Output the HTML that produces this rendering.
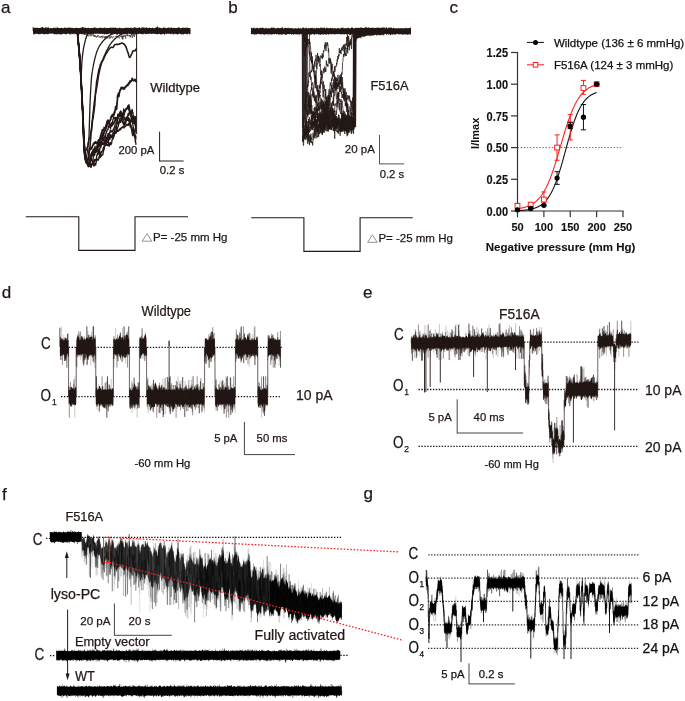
<!DOCTYPE html>
<html><head><meta charset="utf-8"><style>
html,body{margin:0;padding:0;background:#fff;overflow:hidden;}
svg{display:block;will-change:transform;}
text{font-family:"Liberation Sans",sans-serif;}
</style></head><body>
<svg width="685" height="701" viewBox="0 0 685 701">
<rect width="685" height="701" fill="#fff"/>
<text x="1.00" y="12.80" font-size="17" font-weight="normal" fill="#231815" stroke="#231815" stroke-width="0.25">a</text>
<text x="228.20" y="13.00" font-size="17" font-weight="normal" fill="#231815" stroke="#231815" stroke-width="0.25">b</text>
<text x="449.60" y="13.00" font-size="17" font-weight="normal" fill="#231815" stroke="#231815" stroke-width="0.25">c</text>
<text x="1.80" y="297.80" font-size="17" font-weight="normal" fill="#231815" stroke="#231815" stroke-width="0.25">d</text>
<text x="363.00" y="298.00" font-size="17" font-weight="normal" fill="#231815" stroke="#231815" stroke-width="0.25">e</text>
<text x="2.00" y="499.50" font-size="17" font-weight="normal" fill="#231815" stroke="#231815" stroke-width="0.25">f</text>
<text x="363.40" y="498.50" font-size="17" font-weight="normal" fill="#231815" stroke="#231815" stroke-width="0.25">g</text>
<path d="M33.00,28.2 33.50,28.3 34.00,27.8 34.50,27.7 35.00,27.7 35.50,27.9 36.00,27.7 36.50,27.9 37.00,27.8 37.50,28.2 38.00,27.9 38.50,28.1 39.00,27.9 39.50,27.9 40.00,28.0 40.50,28.0 41.00,27.5 41.50,27.3 42.00,26.9 42.50,27.0 43.00,27.4 43.50,27.7 44.00,27.9 44.50,28.1 45.00,28.3 45.50,27.2 46.00,27.0 46.50,28.1 47.00,28.3 47.50,27.7 48.00,27.4 48.50,27.7 49.00,27.5 49.50,28.2 50.00,28.2 50.50,27.9 51.00,27.9 51.50,28.2 52.00,28.0 52.50,28.3 53.00,28.2 53.50,27.8 54.00,27.8 54.50,27.7 55.00,28.2 55.50,28.0 56.00,27.9 56.50,28.1 57.00,27.7 57.50,27.1 58.00,28.1 58.50,27.8 59.00,28.0 59.50,28.1 60.00,28.1 60.50,28.0 61.00,28.0 61.50,27.4 62.00,28.0 62.50,28.1 63.00,28.2 63.50,28.2 64.00,27.9 64.50,27.6 65.00,28.0 65.50,28.0 66.00,27.4 66.50,28.2 67.00,27.4 67.50,28.2 68.00,27.7 68.50,27.3 69.00,28.1 69.50,27.8 70.00,27.5 70.50,28.1 71.00,28.0 71.50,28.0 72.00,27.8 72.50,27.8 73.00,28.0 73.50,28.3 74.00,28.2 74.50,28.2 75.00,27.7 75.50,27.8 76.00,28.1 76.50,28.0 77.00,27.5 77.50,28.0 78.00,28.0 78.50,28.2 79.00,28.0 79.50,27.9 80.00,28.1 80.50,28.0 81.00,27.9 81.50,27.7 82.00,26.7 82.50,27.3 83.00,27.8 83.50,28.0 84.00,27.3 84.50,27.7 85.00,27.7 85.50,28.1 86.00,28.0 86.50,28.2 87.00,28.1 87.50,28.1 88.00,27.8 88.50,28.1 89.00,27.8 89.50,28.3 90.00,27.9 90.50,28.0 91.00,28.0 91.50,28.3 92.00,27.8 92.50,28.2 93.00,28.1 93.50,28.0 94.00,27.4 94.50,27.0 95.00,28.0 95.50,27.6 96.00,27.8 96.50,27.9 97.00,27.9 97.50,28.3 98.00,28.3 98.50,27.9 99.00,27.7 99.50,28.2 100.00,27.2 100.50,27.7 101.00,28.2 101.50,28.1 102.00,27.8 102.50,28.2 103.00,28.1 103.50,28.0 104.00,27.9 104.50,27.7 105.00,27.5 105.50,28.3 106.00,27.8 106.50,28.0 107.00,27.9 107.50,28.0 108.00,27.9 108.50,27.9 109.00,28.1 109.50,28.1 110.00,28.0 110.50,27.6 111.00,27.4 111.50,27.9 112.00,27.9 112.50,27.6 113.00,28.0 113.50,27.6 114.00,28.3 114.50,27.6 115.00,27.9 115.50,27.3 116.00,27.9 116.50,28.0 117.00,28.3 117.50,28.0 118.00,28.2 118.50,28.3 119.00,28.0 119.50,27.8 120.00,27.3 120.50,28.2 121.00,27.9 121.50,28.2 122.00,28.2 122.50,28.1 123.00,27.9 123.50,28.2 124.00,28.2 124.50,28.1 125.00,28.2 125.50,27.8 126.00,27.5 126.50,27.8 127.00,28.2 127.50,27.5 128.00,28.1 128.50,27.5 129.00,27.9 129.50,28.1 130.00,27.7 130.50,27.6 131.00,27.6 131.50,28.1 132.00,27.9 132.50,28.2 133.00,28.1 133.50,27.7 134.00,27.7 134.50,27.1 135.00,26.9 135.50,28.2 136.00,27.1 136.50,27.9 137.00,28.2 137.50,27.9 138.00,27.9 138.50,28.0 139.00,26.7 139.50,27.5 140.00,28.2 140.50,28.2 141.00,28.2 141.50,28.0 142.00,27.3 142.50,27.6 143.00,27.8 143.50,27.2 144.00,27.8 144.50,28.1 145.00,28.2 145.50,28.1 146.00,27.6 146.50,27.6 147.00,27.5 147.50,28.0 148.00,28.1 148.50,28.1 149.00,28.0 149.50,27.3 150.00,28.0 150.50,28.1 151.00,28.0 151.50,28.3 152.00,27.7 152.50,27.5 153.00,28.2 153.50,28.0 154.00,28.3 154.50,28.2 155.00,27.9 155.50,27.8 156.00,27.4 156.50,27.1 157.00,27.2 157.50,26.1 158.00,26.7 158.50,28.0 159.00,27.7 159.50,27.8 160.00,27.4 160.50,28.2 161.00,27.8 161.50,28.2 162.00,28.3 162.50,28.3 163.00,27.9 163.50,27.7 164.00,28.0 164.50,27.9 165.00,28.1 165.50,28.2 166.00,28.1 166.50,28.2 167.00,27.7 167.50,28.2 168.00,27.7 168.50,28.1 169.00,26.9 169.50,27.9 170.00,28.2 170.50,27.8 171.00,27.4 171.50,27.3 172.00,28.2 172.50,28.3 173.00,27.9 173.50,27.7 174.00,28.1 174.50,27.9 175.00,27.7 175.50,28.2 176.00,27.7 176.50,27.9 177.00,27.9 177.50,27.4 178.00,28.2 178.50,27.2 179.00,27.5 179.50,27.6 180.00,28.0 180.50,28.2 181.00,28.3 181.50,28.1 182.00,28.2 182.50,27.6 183.00,27.4 183.50,28.1 184.00,28.0 184.50,27.8 185.00,27.9 185.50,27.4 186.00,28.1 186.50,28.2 187.00,27.7 187.50,27.8 188.00,28.0 188.50,28.1 189.00,28.0 189.50,28.1 190.00,28.3 190.50,27.7 190.50,33.7 190.00,34.1 189.50,34.1 189.00,34.2 188.50,33.6 188.00,33.6 187.50,34.3 187.00,34.7 186.50,33.9 186.00,33.7 185.50,33.6 185.00,34.0 184.50,33.8 184.00,34.1 183.50,34.7 183.00,34.5 182.50,34.0 182.00,33.7 181.50,34.7 181.00,34.4 180.50,33.8 180.00,33.8 179.50,33.6 179.00,34.0 178.50,33.7 178.00,34.6 177.50,34.8 177.00,34.1 176.50,33.9 176.00,34.4 175.50,34.1 175.00,33.6 174.50,33.7 174.00,33.9 173.50,34.6 173.00,33.8 172.50,33.5 172.00,33.5 171.50,34.1 171.00,34.2 170.50,34.1 170.00,33.8 169.50,33.9 169.00,33.6 168.50,34.0 168.00,33.7 167.50,33.8 167.00,33.6 166.50,34.3 166.00,34.1 165.50,33.6 165.00,34.1 164.50,34.9 164.00,34.4 163.50,33.5 163.00,33.9 162.50,33.8 162.00,34.3 161.50,34.7 161.00,34.0 160.50,34.4 160.00,34.6 159.50,33.8 159.00,33.8 158.50,34.1 158.00,34.0 157.50,34.4 157.00,34.2 156.50,33.9 156.00,34.1 155.50,33.8 155.00,34.0 154.50,33.7 154.00,33.9 153.50,33.6 153.00,33.8 152.50,33.7 152.00,33.8 151.50,34.0 151.00,34.0 150.50,33.5 150.00,33.7 149.50,33.5 149.00,33.7 148.50,33.9 148.00,34.0 147.50,33.7 147.00,33.8 146.50,34.0 146.00,34.1 145.50,33.8 145.00,33.7 144.50,33.5 144.00,33.6 143.50,34.3 143.00,34.5 142.50,33.9 142.00,34.3 141.50,34.0 141.00,34.0 140.50,34.1 140.00,33.6 139.50,33.6 139.00,33.8 138.50,34.0 138.00,34.2 137.50,33.9 137.00,33.5 136.50,33.6 136.00,33.7 135.50,33.7 135.00,34.0 134.50,33.8 134.00,34.1 133.50,33.8 133.00,33.9 132.50,33.9 132.00,34.2 131.50,34.8 131.00,34.0 130.50,33.5 130.00,34.0 129.50,34.0 129.00,33.6 128.50,33.5 128.00,33.7 127.50,34.5 127.00,34.7 126.50,34.0 126.00,33.7 125.50,34.4 125.00,33.7 124.50,34.6 124.00,34.3 123.50,34.1 123.00,33.5 122.50,33.5 122.00,33.7 121.50,34.5 121.00,34.1 120.50,33.9 120.00,34.2 119.50,34.5 119.00,33.6 118.50,34.2 118.00,33.7 117.50,34.5 117.00,34.6 116.50,34.6 116.00,33.9 115.50,34.3 115.00,33.6 114.50,33.6 114.00,33.6 113.50,33.5 113.00,34.2 112.50,33.5 112.00,34.8 111.50,34.4 111.00,33.7 110.50,33.6 110.00,33.6 109.50,33.6 109.00,34.1 108.50,33.7 108.00,33.8 107.50,34.3 107.00,34.3 106.50,34.6 106.00,33.7 105.50,33.9 105.00,34.3 104.50,34.7 104.00,33.7 103.50,34.0 103.00,34.2 102.50,33.9 102.00,33.5 101.50,33.9 101.00,33.5 100.50,34.0 100.00,34.0 99.50,33.7 99.00,33.7 98.50,33.7 98.00,33.6 97.50,33.9 97.00,33.6 96.50,33.7 96.00,33.8 95.50,33.9 95.00,33.6 94.50,33.6 94.00,34.2 93.50,33.8 93.00,34.1 92.50,33.8 92.00,33.9 91.50,34.1 91.00,34.5 90.50,34.1 90.00,34.0 89.50,34.1 89.00,33.7 88.50,33.7 88.00,33.9 87.50,34.2 87.00,33.8 86.50,34.1 86.00,33.6 85.50,33.6 85.00,33.8 84.50,34.4 84.00,34.1 83.50,33.7 83.00,33.9 82.50,34.1 82.00,34.5 81.50,34.1 81.00,34.1 80.50,33.8 80.00,33.9 79.50,34.3 79.00,34.3 78.50,33.7 78.00,34.1 77.50,34.0 77.00,33.6 76.50,34.4 76.00,33.9 75.50,34.0 75.00,33.8 74.50,33.5 74.00,33.7 73.50,33.8 73.00,34.6 72.50,33.8 72.00,34.0 71.50,33.5 71.00,33.8 70.50,33.8 70.00,34.7 69.50,34.2 69.00,33.8 68.50,33.7 68.00,33.7 67.50,33.5 67.00,33.8 66.50,34.4 66.00,34.4 65.50,33.5 65.00,33.9 64.50,33.9 64.00,34.1 63.50,33.6 63.00,34.0 62.50,34.3 62.00,33.7 61.50,34.5 61.00,34.7 60.50,33.5 60.00,33.9 59.50,34.4 59.00,34.3 58.50,33.7 58.00,34.2 57.50,33.7 57.00,34.9 56.50,34.2 56.00,34.1 55.50,34.2 55.00,33.8 54.50,34.5 54.00,34.5 53.50,33.7 53.00,33.6 52.50,33.6 52.00,33.6 51.50,33.5 51.00,33.7 50.50,33.5 50.00,33.5 49.50,33.6 49.00,34.1 48.50,34.3 48.00,33.5 47.50,34.5 47.00,34.1 46.50,34.1 46.00,34.3 45.50,33.8 45.00,34.2 44.50,34.6 44.00,33.8 43.50,34.3 43.00,34.6 42.50,33.6 42.00,33.7 41.50,33.6 41.00,34.5 40.50,33.9 40.00,33.8 39.50,34.0 39.00,33.7 38.50,34.2 38.00,34.6 37.50,33.7 37.00,33.9 36.50,33.6 36.00,33.7 35.50,33.9 35.00,34.0 34.50,34.4 34.00,33.6 33.50,33.5 33.00,33.5Z" fill="#231815"/>
<path d="M33.42 30.9V33.5M33.99 30.9V28.1M39.99 30.9V33.8M41.58 30.9V34.1M41.99 30.9V27.2M42.37 30.9V33.5M43.58 30.9V28.3M44.39 30.9V27.8M45.88 30.9V33.9M46.63 30.9V26.7M51.94 30.9V28.0M52.38 30.9V33.6M53.47 30.9V27.7M54.14 30.9V33.8M54.65 30.9V28.1M54.86 30.9V33.5M55.37 30.9V34.0M56.92 30.9V28.1M57.45 30.9V27.4M58.89 30.9V34.1M61.06 30.9V33.6M64.56 30.9V26.9M65.62 30.9V35.0M67.07 30.9V27.0M70.11 30.9V27.2M70.89 30.9V27.3M71.41 30.9V27.7M72.47 30.9V28.2M73.12 30.9V33.6M74.40 30.9V35.1M78.06 30.9V34.1M79.00 30.9V34.6M79.46 30.9V28.1M79.96 30.9V27.6M80.89 30.9V26.7M81.51 30.9V34.4M82.93 30.9V34.8M88.64 30.9V33.7M89.47 30.9V28.1M90.52 30.9V34.0M90.91 30.9V28.0M91.12 30.9V34.4M93.47 30.9V34.6M94.89 30.9V28.1M97.97 30.9V28.0M99.49 30.9V27.9M101.98 30.9V33.8M105.00 30.9V33.9M106.05 30.9V33.9M110.47 30.9V26.7M111.12 30.9V27.3M114.56 30.9V33.6M116.09 30.9V27.7M119.47 30.9V34.0M121.65 30.9V27.9M122.95 30.9V28.1M124.36 30.9V28.0M125.05 30.9V28.1M125.58 30.9V27.8M126.88 30.9V34.0M129.43 30.9V33.6M131.39 30.9V28.0M133.41 30.9V33.7M133.96 30.9V27.9M135.11 30.9V27.5M137.58 30.9V27.8M139.60 30.9V27.0M139.45 30.9V33.6M143.93 30.9V27.5M144.05 30.9V33.6M147.35 30.9V34.0M151.15 30.9V33.6M151.56 30.9V33.9M152.07 30.9V28.0M154.42 30.9V28.1M156.41 30.9V34.1M157.47 30.9V33.8M159.35 30.9V27.8M162.13 30.9V28.0M161.95 30.9V33.7M163.13 30.9V27.1M163.44 30.9V34.1M165.57 30.9V26.7M166.88 30.9V28.0M167.94 30.9V27.1M172.95 30.9V28.3M183.40 30.9V27.7M186.42 30.9V27.3M187.37 30.9V27.5M189.08 30.9V28.2" stroke="#231815" stroke-width="0.6" stroke-opacity="0.3" fill="none"/>
<path d="M35.58 30.9V33.8M36.40 30.9V33.6M37.90 30.9V33.8M39.06 30.9V33.6M40.51 30.9V33.6M42.96 30.9V28.2M45.39 30.9V27.3M47.02 30.9V27.8M48.08 30.9V26.7M54.03 30.9V28.2M55.06 30.9V27.9M55.91 30.9V26.7M56.88 30.9V33.5M57.51 30.9V33.7M58.14 30.9V33.6M60.44 30.9V35.0M62.48 30.9V34.0M63.60 30.9V28.3M64.87 30.9V27.9M64.96 30.9V33.6M68.38 30.9V27.8M75.03 30.9V28.2M75.48 30.9V33.9M77.08 30.9V28.0M80.44 30.9V28.0M83.63 30.9V28.1M83.60 30.9V33.7M85.11 30.9V28.2M85.52 30.9V27.4M86.12 30.9V34.9M90.65 30.9V28.0M92.14 30.9V28.3M95.87 30.9V33.5M104.59 30.9V27.5M107.07 30.9V33.8M107.63 30.9V34.4M107.95 30.9V33.7M110.02 30.9V34.4M110.89 30.9V34.0M111.94 30.9V33.8M114.63 30.9V28.2M115.49 30.9V28.2M117.95 30.9V27.6M117.96 30.9V33.6M127.94 30.9V34.0M129.05 30.9V28.2M131.11 30.9V33.7M132.56 30.9V33.7M133.07 30.9V34.5M137.99 30.9V28.1M140.95 30.9V33.9M141.44 30.9V27.2M142.00 30.9V27.9M141.99 30.9V33.8M144.90 30.9V33.7M145.56 30.9V35.0M145.93 30.9V33.9M147.08 30.9V33.6M147.87 30.9V33.9M148.90 30.9V28.1M150.06 30.9V33.6M151.54 30.9V28.2M152.50 30.9V28.3M154.94 30.9V28.1M155.05 30.9V33.6M157.53 30.9V27.7M158.87 30.9V28.2M159.96 30.9V27.9M163.56 30.9V27.3M171.01 30.9V28.0M171.56 30.9V27.7M172.12 30.9V33.9M173.02 30.9V35.1M174.38 30.9V33.8M178.58 30.9V27.5M179.55 30.9V28.1M179.97 30.9V33.9M184.05 30.9V27.6M189.63 30.9V34.6" stroke="#231815" stroke-width="0.6" stroke-opacity="0.6" fill="none"/>
<path d="M32.91 30.9V26.9M33.48 30.9V27.4M33.93 30.9V34.9M34.99 30.9V28.1M35.61 30.9V28.0M35.99 30.9V27.9M37.02 30.9V27.9M37.53 30.9V27.7M38.97 30.9V28.0M39.38 30.9V34.4M40.12 30.9V28.1M41.58 30.9V27.8M43.47 30.9V33.6M48.63 30.9V33.9M51.02 30.9V33.5M54.64 30.9V33.8M56.62 30.9V28.0M60.64 30.9V28.3M62.00 30.9V33.7M62.52 30.9V28.2M64.51 30.9V33.6M66.87 30.9V33.8M70.89 30.9V34.7M74.36 30.9V28.2M75.09 30.9V33.5M76.57 30.9V33.6M77.00 30.9V34.0M79.63 30.9V33.7M82.49 30.9V27.3M83.11 30.9V26.8M87.44 30.9V34.1M88.99 30.9V33.7M92.64 30.9V27.8M95.53 30.9V28.3M97.39 30.9V28.3M99.14 30.9V33.6M102.45 30.9V27.7M105.59 30.9V33.5M110.46 30.9V33.8M111.65 30.9V28.1M113.15 30.9V27.5M115.41 30.9V33.8M117.07 30.9V35.0M120.00 30.9V33.6M121.39 30.9V33.7M127.57 30.9V28.1M130.63 30.9V33.7M132.55 30.9V28.2M134.51 30.9V28.1M135.44 30.9V28.2M140.11 30.9V33.9M141.00 30.9V28.2M144.86 30.9V27.4M146.07 30.9V27.7M160.54 30.9V33.8M161.55 30.9V33.5M162.35 30.9V34.0M163.96 30.9V27.0M164.45 30.9V33.5M168.96 30.9V27.9M171.01 30.9V33.5M172.46 30.9V27.9M173.49 30.9V28.1M175.54 30.9V28.0M176.13 30.9V28.1M178.36 30.9V33.9M178.93 30.9V27.7M181.44 30.9V28.2M181.89 30.9V34.1M182.61 30.9V27.9M185.53 30.9V33.8M186.36 30.9V33.7M187.08 30.9V27.5M187.57 30.9V33.6" stroke="#231815" stroke-width="0.6" stroke-opacity="0.95" fill="none"/>
<path d="M77.30,30.4 77.30,31.0 77.32,31.2 77.33,31.4 77.35,31.6 77.37,31.8 77.40,32.0 77.42,32.3 77.44,32.5 77.47,32.8 77.50,33.1 77.53,33.4 77.55,33.7 77.58,34.0 77.61,34.3 77.65,34.7 77.68,35.0 77.71,35.4 77.75,35.7 77.78,36.1 77.81,36.4 77.85,36.8 77.88,37.2 77.92,37.6 77.96,38.0 77.99,38.3 78.03,38.7 78.06,39.1 78.10,39.5 78.13,39.9 78.17,40.3 78.21,40.7 78.24,41.1 78.27,41.4 78.31,41.8 78.34,42.2 78.38,42.6 78.41,42.9 78.44,43.3 78.47,43.7 78.50,44.0 78.53,44.3 78.55,44.6 78.58,45.0 78.61,45.3 78.64,45.6 78.66,46.0 78.69,46.3 78.72,46.6 78.74,47.0 78.77,47.3 78.80,47.6 78.82,48.0 78.85,48.3 78.88,48.7 78.90,49.0 78.93,49.4 78.96,49.7 78.98,50.0 79.01,50.4 79.04,50.7 79.06,51.1 79.09,51.4 79.11,51.7 79.14,52.1 79.17,52.4 79.19,52.8 79.22,53.1 79.24,53.4 79.27,53.8 79.30,54.1 79.32,54.5 79.35,54.8 79.37,55.1 79.40,55.4 79.42,55.8 79.45,56.1 79.47,56.4 79.50,56.7 79.52,57.1 79.55,57.4 79.57,57.7 79.60,58.0 79.63,58.4 79.66,58.7 79.69,59.1 79.72,59.5 79.75,59.9 79.78,60.2 79.81,60.6 79.83,61.0 79.86,61.4 79.89,61.8 79.92,62.1 79.95,62.5 79.98,62.9 80.01,63.3 80.04,63.6 80.07,64.0 80.10,64.4 80.12,64.8 80.15,65.1 80.18,65.5 80.21,65.8 80.24,66.2 80.27,66.5 80.29,66.8 80.32,67.1 80.35,67.4 80.37,67.8 80.40,68.0 80.43,68.3 80.45,68.6 80.48,68.9 80.50,69.1 80.53,69.4 80.55,69.6 80.58,69.8 80.60,70.0 80.73,71.1 80.86,71.9 80.97,72.4 81.08,72.7 81.19,72.5 81.30,72.0 81.32,71.9 81.34,71.7 81.36,71.5 81.38,71.3 81.40,71.0 81.42,70.8 81.44,70.5 81.46,70.2 81.48,69.9 81.50,69.6 81.52,69.2 81.54,68.9 81.56,68.5 81.58,68.1 81.60,67.8 81.62,67.4 81.64,67.0 81.66,66.6 81.68,66.2 81.70,65.8 81.72,65.4 81.74,65.0 81.77,64.6 81.79,64.2 81.81,63.8 81.83,63.4 81.85,63.1 81.88,62.7 81.90,62.3 81.93,62.0 81.95,61.6 81.97,61.3 82.00,61.0 82.03,60.6 82.06,60.3 82.10,59.9 82.13,59.5 82.17,59.2 82.20,58.8 82.24,58.4 82.27,58.1 82.31,57.7 82.35,57.4 82.39,57.0 82.42,56.7 82.46,56.4 82.50,56.0 82.54,55.7 82.58,55.4 82.62,55.0 82.66,54.7 82.69,54.4 82.73,54.1 82.77,53.8 82.81,53.5 82.85,53.2 82.89,52.9 82.93,52.6 82.96,52.3 83.00,52.0 83.05,51.6 83.11,51.2 83.16,50.8 83.20,50.5 83.25,50.2 83.30,49.9 83.34,49.5 83.39,49.2 83.44,48.9 83.49,48.6 83.54,48.3 83.59,48.0 83.65,47.7 83.71,47.4 83.78,47.1 83.84,46.7 83.92,46.4 84.00,46.0 84.06,45.7 84.13,45.4 84.20,45.1 84.28,44.7 84.35,44.4 84.43,44.1 84.51,43.7 84.59,43.4 84.68,43.0 84.76,42.6 84.85,42.3 84.94,41.9 85.03,41.5 85.12,41.2 85.21,40.8 85.30,40.5 85.39,40.1 85.48,39.8 85.57,39.5 85.66,39.2 85.74,38.8 85.83,38.6 85.92,38.3 86.00,38.0 86.14,37.6 86.27,37.2 86.39,36.8 86.51,36.4 86.63,36.0 86.75,35.7 86.88,35.4 87.00,35.1 87.14,34.8 87.28,34.5 87.44,34.2 87.61,34.0 87.80,33.7 88.00,33.5 88.25,33.3 88.55,33.0 88.87,32.8 89.21,32.6 89.57,32.5 89.94,32.3 90.31,32.1 90.66,32.0 91.00,31.9 91.31,31.8 91.58,31.7 91.82,31.6 92.00,31.5" fill="none" stroke="#231815" stroke-width="1.3" stroke-linejoin="round" />
<path d="M77.30,30.4 77.30,31.0 77.32,31.2 77.33,31.4 77.35,31.6 77.37,31.8 77.39,32.0 77.42,32.2 77.44,32.5 77.46,32.7 77.49,33.0 77.52,33.3 77.54,33.6 77.57,33.9 77.60,34.2 77.63,34.5 77.66,34.8 77.69,35.2 77.72,35.5 77.76,35.8 77.79,36.2 77.82,36.6 77.86,36.9 77.89,37.3 77.93,37.7 77.96,38.0 78.00,38.4 78.03,38.8 78.07,39.2 78.11,39.6 78.14,40.0 78.18,40.4 78.21,40.8 78.25,41.2 78.29,41.6 78.32,42.0 78.36,42.4 78.39,42.8 78.43,43.2 78.47,43.6 78.50,44.0 78.53,44.3 78.55,44.6 78.58,44.9 78.60,45.2 78.63,45.5 78.65,45.7 78.68,46.0 78.71,46.3 78.73,46.6 78.76,46.9 78.79,47.2 78.82,47.5 78.84,47.9 78.87,48.2 78.90,48.5 78.93,48.8 78.95,49.1 78.98,49.4 79.01,49.7 79.04,50.0 79.07,50.4 79.09,50.7 79.12,51.0 79.15,51.3 79.18,51.7 79.21,52.0 79.24,52.3 79.27,52.6 79.29,53.0 79.32,53.3 79.35,53.7 79.38,54.0 79.41,54.3 79.44,54.7 79.47,55.0 79.50,55.4 79.52,55.7 79.55,56.1 79.58,56.4 79.61,56.8 79.64,57.1 79.67,57.5 79.70,57.9 79.72,58.2 79.75,58.6 79.78,59.0 79.81,59.3 79.84,59.7 79.86,60.1 79.89,60.5 79.92,60.8 79.95,61.2 79.97,61.6 80.00,62.0 80.02,62.3 80.04,62.6 80.06,62.9 80.08,63.2 80.10,63.5 80.12,63.8 80.14,64.1 80.16,64.4 80.18,64.7 80.20,65.0 80.22,65.3 80.24,65.7 80.26,66.0 80.28,66.3 80.30,66.6 80.32,66.9 80.34,67.3 80.36,67.6 80.38,67.9 80.40,68.2 80.42,68.6 80.44,68.9 80.46,69.2 80.48,69.6 80.50,69.9 80.52,70.2 80.54,70.6 80.56,70.9 80.58,71.2 80.60,71.6 80.62,71.9 80.64,72.3 80.66,72.6 80.68,72.9 80.70,73.3 80.72,73.6 80.74,74.0 80.76,74.3 80.78,74.7 80.80,75.0 80.82,75.3 80.84,75.7 80.86,76.0 80.87,76.4 80.89,76.7 80.91,77.1 80.93,77.4 80.95,77.8 80.97,78.1 80.99,78.5 81.01,78.8 81.03,79.2 81.05,79.5 81.07,79.9 81.09,80.2 81.10,80.6 81.12,80.9 81.14,81.2 81.16,81.6 81.18,81.9 81.20,82.3 81.22,82.6 81.24,83.0 81.25,83.3 81.27,83.6 81.29,84.0 81.31,84.3 81.33,84.7 81.35,85.0 81.36,85.3 81.38,85.7 81.40,86.0 81.42,86.3 81.44,86.7 81.45,87.0 81.47,87.3 81.49,87.7 81.51,88.0 81.53,88.3 81.54,88.7 81.56,89.0 81.58,89.3 81.60,89.7 81.61,90.0 81.63,90.3 81.65,90.7 81.67,91.0 81.68,91.3 81.70,91.6 81.72,92.0 81.74,92.3 81.75,92.6 81.77,93.0 81.79,93.3 81.81,93.6 81.82,94.0 81.84,94.3 81.86,94.6 81.87,95.0 81.89,95.3 81.91,95.6 81.92,95.9 81.94,96.3 81.96,96.6 81.97,96.9 81.99,97.3 82.01,97.6 82.03,97.9 82.04,98.3 82.06,98.6 82.07,98.9 82.09,99.3 82.11,99.6 82.12,99.9 82.14,100.3 82.16,100.6 82.17,100.9 82.19,101.3 82.21,101.6 82.22,101.9 82.24,102.3 82.25,102.6 82.27,102.9 82.29,103.3 82.30,103.6 82.32,103.9 82.33,104.3 82.35,104.6 82.37,104.9 82.38,105.3 82.40,105.6 82.41,105.9 82.43,106.3 82.45,106.6 82.46,107.0 82.48,107.3 82.49,107.6 82.51,108.0 82.52,108.3 82.54,108.6 82.55,109.0 82.57,109.3 82.58,109.7 82.60,110.0 82.61,110.3 82.63,110.7 82.64,111.0 82.66,111.3 82.67,111.7 82.69,112.0 82.70,112.3 82.71,112.7 82.73,113.0 82.74,113.4 82.75,113.7 82.77,114.1 82.78,114.4 82.79,114.7 82.81,115.1 82.82,115.4 82.83,115.8 82.85,116.1 82.86,116.5 82.87,116.9 82.88,117.2 82.90,117.6 82.91,117.9 82.92,118.3 82.93,118.6 82.95,119.0 82.96,119.3 82.97,119.7 82.98,120.1 83.00,120.4 83.01,120.8 83.02,121.1 83.03,121.5 83.04,121.8 83.06,122.2 83.07,122.5 83.08,122.9 83.09,123.2 83.11,123.6 83.12,123.9 83.13,124.3 83.14,124.6 83.16,125.0 83.17,125.3 83.18,125.7 83.19,126.0 83.21,126.4 83.22,126.7 83.23,127.0 83.24,127.4 83.26,127.7 83.27,128.0 83.28,128.4 83.30,128.7 83.31,129.0 83.32,129.3 83.34,129.7 83.35,130.0 83.36,130.3 83.38,130.6 83.39,130.9 83.41,131.2 83.42,131.6 83.43,131.9 83.45,132.2 83.46,132.5 83.48,132.8 83.49,133.0 83.51,133.3 83.52,133.6 83.54,133.9 83.55,134.2 83.57,134.5 83.58,134.7 83.60,135.0 83.63,135.4 83.65,135.9 83.68,136.3 83.71,136.8 83.73,137.2 83.76,137.6 83.79,138.1 83.82,138.5 83.84,138.9 83.87,139.3 83.90,139.7 83.93,140.2 83.96,140.6 83.99,141.0 84.01,141.4 84.04,141.8 84.07,142.2 84.10,142.5 84.13,142.9 84.16,143.3 84.19,143.7 84.22,144.0 84.25,144.4 84.28,144.7 84.31,145.0 84.35,145.4 84.38,145.7 84.41,146.0 84.44,146.3 84.47,146.6 84.51,146.9 84.54,147.2 84.57,147.5 84.61,147.7 84.64,148.0 84.68,148.2 84.71,148.5 84.74,148.7 84.78,148.9 84.82,149.1 84.85,149.3 84.89,149.5 84.93,149.7 84.96,149.8 85.00,150.0 85.22,150.6 85.46,150.8 85.71,150.8 85.97,150.4 86.24,149.9 86.50,149.3 86.76,148.7 87.00,148.0 87.08,147.8 87.16,147.5 87.24,147.3 87.31,147.0 87.39,146.7 87.47,146.4 87.54,146.0 87.62,145.7 87.69,145.3 87.77,145.0 87.84,144.6 87.92,144.2 87.99,143.8 88.07,143.5 88.14,143.1 88.21,142.7 88.29,142.3 88.36,142.0 88.43,141.6 88.51,141.3 88.58,140.9 88.65,140.6 88.73,140.3 88.80,140.0 88.90,139.6 89.00,139.3 89.10,139.0 89.20,138.8 89.30,138.5 89.40,138.3 89.49,138.1 89.59,137.9 89.69,137.7 89.78,137.4 89.88,137.2 89.98,136.8 90.08,136.5 90.18,136.1 90.29,135.6 90.39,135.1 90.50,134.5 90.54,134.3 90.58,134.0 90.61,133.8 90.65,133.5 90.69,133.3 90.73,133.0 90.77,132.7 90.81,132.5 90.85,132.2 90.89,131.9 90.93,131.6 90.97,131.3 91.01,130.9 91.05,130.6 91.09,130.3 91.13,130.0 91.17,129.6 91.21,129.3 91.25,129.0 91.29,128.6 91.34,128.3 91.38,127.9 91.42,127.6 91.46,127.2 91.50,126.9 91.54,126.5 91.59,126.1 91.63,125.8 91.67,125.4 91.71,125.0 91.75,124.6 91.79,124.3 91.84,123.9 91.88,123.5 91.92,123.1 91.96,122.8 92.00,122.4 92.05,122.0 92.09,121.6 92.13,121.3 92.17,120.9 92.21,120.5 92.25,120.2 92.29,119.8 92.34,119.4 92.38,119.1 92.42,118.7 92.46,118.4 92.50,118.0 92.54,117.7 92.57,117.4 92.61,117.0 92.65,116.7 92.68,116.4 92.72,116.0 92.76,115.7 92.79,115.4 92.83,115.0 92.87,114.7 92.90,114.3 92.94,114.0 92.97,113.6 93.01,113.3 93.05,112.9 93.08,112.6 93.12,112.2 93.16,111.9 93.19,111.5 93.23,111.2 93.26,110.8 93.30,110.5 93.34,110.1 93.37,109.8 93.41,109.4 93.44,109.1 93.48,108.7 93.52,108.4 93.55,108.0 93.59,107.7 93.63,107.3 93.66,107.0 93.70,106.6 93.74,106.3 93.77,106.0 93.81,105.6 93.85,105.3 93.89,104.9 93.92,104.6 93.96,104.3 94.00,103.9 94.04,103.6 94.07,103.3 94.11,103.0 94.15,102.7 94.19,102.4 94.23,102.0 94.26,101.7 94.30,101.4 94.34,101.1 94.38,100.9 94.42,100.6 94.46,100.3 94.50,100.0 94.56,99.6 94.62,99.2 94.68,98.8 94.74,98.4 94.80,98.0 94.87,97.7 94.93,97.3 94.99,97.0 95.06,96.6 95.12,96.3 95.18,96.0 95.25,95.6 95.31,95.3 95.38,95.0 95.44,94.7 95.51,94.4 95.57,94.1 95.64,93.8 95.70,93.4 95.77,93.1 95.83,92.8 95.90,92.5 95.96,92.2 96.03,91.9 96.09,91.6 96.16,91.3 96.22,91.0 96.29,90.7 96.35,90.4 96.42,90.0 96.48,89.7 96.55,89.4 96.61,89.1 96.67,88.7 96.74,88.4 96.80,88.0 96.85,87.7 96.91,87.4 96.96,87.1 97.01,86.7 97.06,86.4 97.11,86.1 97.16,85.8 97.21,85.4 97.26,85.1 97.31,84.8 97.36,84.4 97.41,84.1 97.46,83.7 97.51,83.4 97.56,83.1 97.61,82.7 97.66,82.4 97.71,82.0 97.76,81.7 97.81,81.3 97.86,81.0 97.91,80.7 97.96,80.3 98.01,80.0 98.06,79.6 98.11,79.3 98.16,78.9 98.21,78.6 98.26,78.3 98.32,77.9 98.37,77.6 98.42,77.2 98.48,76.9 98.53,76.6 98.59,76.2 98.64,75.9 98.70,75.6 98.76,75.3 98.82,74.9 98.88,74.6 98.94,74.3 99.00,74.0 99.07,73.6 99.14,73.3 99.21,73.0 99.28,72.6 99.36,72.3 99.43,71.9 99.50,71.6 99.58,71.2 99.65,70.9 99.73,70.6 99.80,70.2 99.88,69.9 99.95,69.6 100.03,69.2 100.11,68.9 100.19,68.6 100.27,68.2 100.35,67.9 100.43,67.6 100.51,67.3 100.59,66.9 100.67,66.6 100.76,66.3 100.84,66.0 100.92,65.7 101.01,65.4 101.10,65.0 101.18,64.7 101.27,64.4 101.36,64.1 101.45,63.8 101.54,63.5 101.63,63.2 101.72,62.9 101.81,62.6 101.91,62.3 102.00,62.0 102.11,61.7 102.22,61.3 102.33,61.0 102.44,60.7 102.55,60.3 102.66,60.0 102.77,59.7 102.88,59.4 103.00,59.0 103.11,58.7 103.22,58.4 103.34,58.1 103.46,57.8 103.57,57.5 103.69,57.2 103.81,56.9 103.93,56.6 104.06,56.3 104.18,56.0 104.31,55.7 104.44,55.4 104.57,55.1 104.70,54.8 104.84,54.5 104.97,54.2 105.11,53.8 105.25,53.5 105.40,53.2 105.54,52.9 105.69,52.6 105.85,52.3 106.00,52.0 106.15,51.7 106.30,51.4 106.45,51.1 106.60,50.8 106.76,50.5 106.91,50.2 107.07,49.9 107.23,49.6 107.39,49.3 107.56,49.0 107.72,48.7 107.89,48.3 108.06,48.0 108.23,47.7 108.40,47.4 108.57,47.1 108.75,46.8 108.93,46.5 109.11,46.2 109.29,45.9 109.47,45.6 109.65,45.3 109.84,45.0 110.03,44.7 110.22,44.4 110.41,44.1 110.60,43.9 110.80,43.6 110.99,43.3 111.19,43.0 111.39,42.8 111.59,42.5 111.79,42.3 112.00,42.0 112.23,41.7 112.46,41.5 112.70,41.2 112.93,40.9 113.18,40.7 113.42,40.4 113.67,40.1 113.92,39.9 114.18,39.6 114.43,39.4 114.69,39.1 114.95,38.9 115.21,38.6 115.48,38.4 115.74,38.2 116.01,37.9 116.28,37.7 116.54,37.5 116.81,37.3 117.08,37.1 117.35,36.9 117.62,36.7 117.89,36.4 118.15,36.3 118.42,36.1 118.69,35.9 118.95,35.7 119.22,35.5 119.48,35.3 119.74,35.2 120.00,35.0 120.33,34.8 120.66,34.6 121.01,34.4 121.37,34.3 121.73,34.1 122.10,33.9 122.47,33.8 122.84,33.6 123.21,33.5 123.58,33.4 123.95,33.2 124.32,33.1 124.68,33.0 125.03,32.9 125.38,32.8 125.71,32.7 126.03,32.6 126.34,32.5 126.63,32.4 126.91,32.3 127.17,32.3 127.41,32.2 127.63,32.1 127.83,32.1 128.00,32.0" fill="none" stroke="#231815" stroke-width="1.3" stroke-linejoin="round" />
<path d="M77.30,30.4 77.30,31.0 77.32,31.2 77.33,31.4 77.35,31.6 77.37,31.8 77.39,32.0 77.42,32.2 77.44,32.5 77.46,32.7 77.49,33.0 77.52,33.3 77.54,33.6 77.57,33.9 77.60,34.2 77.63,34.5 77.66,34.8 77.69,35.2 77.72,35.5 77.76,35.8 77.79,36.2 77.82,36.6 77.86,36.9 77.89,37.3 77.93,37.7 77.96,38.0 78.00,38.4 78.03,38.8 78.07,39.2 78.11,39.6 78.14,40.0 78.18,40.4 78.21,40.8 78.25,41.2 78.29,41.6 78.32,42.0 78.36,42.4 78.39,42.8 78.43,43.2 78.47,43.6 78.50,44.0 78.53,44.3 78.55,44.6 78.58,44.9 78.60,45.2 78.63,45.5 78.65,45.7 78.68,46.0 78.71,46.3 78.73,46.6 78.76,46.9 78.79,47.2 78.82,47.5 78.84,47.9 78.87,48.2 78.90,48.5 78.93,48.8 78.95,49.1 78.98,49.4 79.01,49.7 79.04,50.0 79.07,50.4 79.09,50.7 79.12,51.0 79.15,51.3 79.18,51.7 79.21,52.0 79.24,52.3 79.27,52.6 79.29,53.0 79.32,53.3 79.35,53.7 79.38,54.0 79.41,54.3 79.44,54.7 79.47,55.0 79.50,55.4 79.52,55.7 79.55,56.1 79.58,56.4 79.61,56.8 79.64,57.1 79.67,57.5 79.70,57.9 79.72,58.2 79.75,58.6 79.78,59.0 79.81,59.3 79.84,59.7 79.86,60.1 79.89,60.5 79.92,60.8 79.95,61.2 79.97,61.6 80.00,62.0 80.02,62.3 80.04,62.6 80.06,62.9 80.08,63.2 80.10,63.5 80.12,63.8 80.14,64.1 80.16,64.4 80.18,64.7 80.20,65.0 80.22,65.3 80.24,65.7 80.26,66.0 80.28,66.3 80.30,66.6 80.32,66.9 80.34,67.3 80.36,67.6 80.38,67.9 80.40,68.2 80.42,68.6 80.44,68.9 80.46,69.2 80.48,69.6 80.50,69.9 80.52,70.2 80.54,70.6 80.56,70.9 80.58,71.2 80.60,71.6 80.62,71.9 80.64,72.3 80.66,72.6 80.68,72.9 80.70,73.3 80.72,73.6 80.74,74.0 80.76,74.3 80.78,74.7 80.80,75.0 80.82,75.3 80.84,75.7 80.86,76.0 80.87,76.4 80.89,76.7 80.91,77.1 80.93,77.4 80.95,77.8 80.97,78.1 80.99,78.5 81.01,78.8 81.03,79.2 81.05,79.5 81.07,79.9 81.09,80.2 81.10,80.6 81.12,80.9 81.14,81.2 81.16,81.6 81.18,81.9 81.20,82.3 81.22,82.6 81.24,83.0 81.25,83.3 81.27,83.6 81.29,84.0 81.31,84.3 81.33,84.7 81.35,85.0 81.36,85.3 81.38,85.7 81.40,86.0 81.42,86.3 81.44,86.7 81.45,87.0 81.47,87.3 81.49,87.7 81.51,88.0 81.53,88.3 81.54,88.7 81.56,89.0 81.58,89.3 81.60,89.7 81.61,90.0 81.63,90.3 81.65,90.7 81.67,91.0 81.68,91.3 81.70,91.6 81.72,92.0 81.74,92.3 81.75,92.6 81.77,93.0 81.79,93.3 81.81,93.6 81.82,94.0 81.84,94.3 81.86,94.6 81.87,95.0 81.89,95.3 81.91,95.6 81.92,95.9 81.94,96.3 81.96,96.6 81.97,96.9 81.99,97.3 82.01,97.6 82.03,97.9 82.04,98.3 82.06,98.6 82.07,98.9 82.09,99.3 82.11,99.6 82.12,99.9 82.14,100.3 82.16,100.6 82.17,100.9 82.19,101.3 82.21,101.6 82.22,101.9 82.24,102.3 82.25,102.6 82.27,102.9 82.29,103.3 82.30,103.6 82.32,103.9 82.33,104.3 82.35,104.6 82.37,104.9 82.38,105.3 82.40,105.6 82.41,105.9 82.43,106.3 82.45,106.6 82.46,107.0 82.48,107.3 82.49,107.6 82.51,108.0 82.52,108.3 82.54,108.6 82.55,109.0 82.57,109.3 82.58,109.7 82.60,110.0 82.61,110.3 82.63,110.7 82.64,111.0 82.66,111.3 82.67,111.6 82.69,112.0 82.70,112.3 82.71,112.6 82.73,113.0 82.74,113.3 82.76,113.6 82.77,114.0 82.78,114.3 82.80,114.7 82.81,115.0 82.82,115.3 82.84,115.7 82.85,116.0 82.86,116.4 82.88,116.7 82.89,117.0 82.90,117.4 82.91,117.7 82.93,118.1 82.94,118.4 82.95,118.7 82.97,119.1 82.98,119.4 82.99,119.8 83.00,120.1 83.02,120.5 83.03,120.8 83.04,121.1 83.06,121.5 83.07,121.8 83.08,122.2 83.09,122.5 83.11,122.9 83.12,123.2 83.13,123.5 83.14,123.9 83.16,124.2 83.17,124.6 83.18,124.9 83.20,125.2 83.21,125.6 83.22,125.9 83.23,126.3 83.25,126.6 83.26,126.9 83.27,127.3 83.29,127.6 83.30,127.9 83.31,128.3 83.32,128.6 83.34,128.9 83.35,129.3 83.36,129.6 83.38,129.9 83.39,130.2 83.40,130.6 83.42,130.9 83.43,131.2 83.44,131.5 83.46,131.9 83.47,132.2 83.49,132.5 83.50,132.8 83.51,133.1 83.53,133.4 83.54,133.8 83.56,134.1 83.57,134.4 83.59,134.7 83.60,135.0 83.62,135.4 83.64,135.7 83.65,136.1 83.67,136.5 83.69,136.9 83.71,137.2 83.72,137.6 83.74,138.0 83.76,138.4 83.78,138.8 83.80,139.1 83.82,139.5 83.83,139.9 83.85,140.3 83.87,140.7 83.89,141.1 83.91,141.5 83.93,141.8 83.95,142.2 83.97,142.6 83.99,143.0 84.00,143.4 84.02,143.8 84.04,144.1 84.06,144.5 84.08,144.9 84.10,145.3 84.12,145.7 84.14,146.0 84.16,146.4 84.18,146.8 84.20,147.1 84.22,147.5 84.24,147.8 84.26,148.2 84.28,148.5 84.29,148.9 84.31,149.2 84.33,149.6 84.35,149.9 84.37,150.2 84.39,150.6 84.41,150.9 84.43,151.2 84.45,151.5 84.47,151.8 84.49,152.1 84.51,152.4 84.53,152.7 84.55,153.0 84.57,153.2 84.59,153.5 84.61,153.8 84.63,154.0 84.65,154.3 84.67,154.5 84.68,154.8 84.70,155.0 84.72,155.2 84.74,155.4 84.76,155.6 84.78,155.8 84.80,156.0 85.00,157.5 85.19,158.4 85.38,158.8 85.57,158.8 85.78,158.5 86.00,158.0 86.06,157.9 86.12,157.7 86.18,157.5 86.25,157.3 86.31,157.1 86.38,156.8 86.45,156.5 86.51,156.2 86.58,155.9 86.65,155.6 86.72,155.3 86.79,154.9 86.86,154.5 86.93,154.2 87.00,153.8 87.07,153.4 87.14,153.0 87.21,152.5 87.28,152.1 87.35,151.7 87.41,151.3 87.48,150.9 87.54,150.4 87.60,150.0 87.64,149.7 87.68,149.4 87.72,149.2 87.76,148.9 87.80,148.6 87.84,148.3 87.87,148.0 87.91,147.7 87.95,147.4 87.99,147.1 88.03,146.8 88.07,146.5 88.11,146.2 88.14,145.9 88.18,145.5 88.22,145.2 88.26,144.9 88.29,144.6 88.33,144.2 88.37,143.9 88.40,143.6 88.44,143.2 88.47,142.9 88.51,142.5 88.54,142.2 88.57,141.8 88.61,141.4 88.64,141.1 88.67,140.7 88.70,140.3 88.73,140.0 88.76,139.6 88.79,139.2 88.82,138.8 88.85,138.4 88.87,138.0 88.90,137.6 88.92,137.3 88.94,137.0 88.95,136.7 88.97,136.4 88.99,136.1 89.00,135.8 89.02,135.5 89.03,135.1 89.05,134.8 89.06,134.5 89.07,134.2 89.09,133.8 89.10,133.5 89.11,133.2 89.13,132.8 89.14,132.5 89.15,132.1 89.16,131.8 89.17,131.4 89.19,131.1 89.20,130.7 89.21,130.4 89.22,130.0 89.23,129.6 89.24,129.3 89.25,128.9 89.26,128.6 89.27,128.2 89.28,127.9 89.29,127.5 89.30,127.1 89.31,126.8 89.32,126.4 89.33,126.1 89.34,125.7 89.35,125.4 89.35,125.0 89.36,124.7 89.37,124.3 89.38,124.0 89.39,123.6 89.40,123.3 89.41,122.9 89.42,122.6 89.43,122.3 89.44,121.9 89.45,121.6 89.46,121.3 89.47,120.9 89.48,120.6 89.49,120.3 89.50,120.0 89.51,119.6 89.53,119.3 89.54,118.9 89.55,118.5 89.56,118.2 89.57,117.8 89.58,117.5 89.59,117.2 89.61,116.8 89.62,116.5 89.63,116.1 89.64,115.8 89.65,115.5 89.66,115.2 89.67,114.8 89.68,114.5 89.69,114.2 89.70,113.9 89.71,113.5 89.72,113.2 89.73,112.9 89.74,112.6 89.75,112.3 89.76,111.9 89.77,111.6 89.79,111.3 89.80,111.0 89.81,110.7 89.82,110.3 89.83,110.0 89.84,109.7 89.85,109.3 89.87,109.0 89.88,108.7 89.89,108.3 89.90,108.0 89.92,107.7 89.93,107.3 89.94,107.0 89.96,106.6 89.97,106.2 89.99,105.9 90.00,105.5 90.01,105.2 90.03,104.9 90.04,104.6 90.05,104.2 90.06,103.9 90.08,103.6 90.09,103.3 90.10,102.9 90.12,102.6 90.13,102.3 90.14,101.9 90.16,101.6 90.17,101.3 90.18,100.9 90.20,100.6 90.21,100.2 90.22,99.9 90.24,99.5 90.25,99.2 90.27,98.9 90.28,98.5 90.30,98.2 90.31,97.8 90.33,97.5 90.34,97.1 90.36,96.8 90.37,96.4 90.39,96.0 90.40,95.7 90.42,95.3 90.43,95.0 90.45,94.6 90.47,94.3 90.48,94.0 90.50,93.6 90.51,93.3 90.53,92.9 90.55,92.6 90.56,92.2 90.58,91.9 90.60,91.6 90.62,91.2 90.63,90.9 90.65,90.6 90.67,90.2 90.69,89.9 90.71,89.6 90.72,89.3 90.74,88.9 90.76,88.6 90.78,88.3 90.80,88.0 90.82,87.6 90.85,87.3 90.87,86.9 90.89,86.5 90.91,86.2 90.93,85.8 90.95,85.5 90.97,85.1 90.99,84.8 91.01,84.4 91.03,84.1 91.06,83.8 91.08,83.4 91.10,83.1 91.12,82.8 91.14,82.4 91.16,82.1 91.18,81.8 91.20,81.4 91.23,81.1 91.25,80.8 91.27,80.5 91.30,80.1 91.32,79.8 91.35,79.5 91.38,79.2 91.40,78.8 91.43,78.5 91.46,78.2 91.49,77.9 91.52,77.5 91.56,77.2 91.59,76.9 91.62,76.5 91.66,76.2 91.70,75.9 91.74,75.5 91.78,75.2 91.82,74.9 91.86,74.5 91.91,74.2 91.95,73.8 92.00,73.5 92.05,73.2 92.09,72.9 92.14,72.5 92.19,72.2 92.24,71.9 92.29,71.5 92.35,71.2 92.40,70.9 92.45,70.5 92.51,70.2 92.57,69.8 92.63,69.5 92.69,69.1 92.75,68.8 92.81,68.4 92.87,68.1 92.93,67.7 93.00,67.4 93.06,67.0 93.12,66.7 93.19,66.4 93.26,66.0 93.32,65.7 93.39,65.3 93.46,65.0 93.53,64.6 93.59,64.3 93.66,63.9 93.73,63.6 93.80,63.3 93.87,62.9 93.94,62.6 94.01,62.3 94.08,61.9 94.15,61.6 94.23,61.3 94.30,61.0 94.37,60.7 94.44,60.3 94.51,60.0 94.58,59.7 94.65,59.4 94.72,59.1 94.79,58.8 94.86,58.6 94.93,58.3 95.00,58.0 95.10,57.6 95.20,57.2 95.30,56.8 95.40,56.5 95.50,56.1 95.60,55.7 95.69,55.4 95.79,55.0 95.89,54.7 95.99,54.3 96.09,54.0 96.19,53.7 96.29,53.4 96.39,53.0 96.49,52.7 96.59,52.4 96.70,52.1 96.80,51.8 96.91,51.5 97.02,51.2 97.13,50.9 97.24,50.6 97.36,50.3 97.47,50.1 97.59,49.8 97.71,49.5 97.84,49.2 97.96,48.9 98.09,48.6 98.23,48.4 98.36,48.1 98.50,47.8 98.66,47.5 98.83,47.2 99.00,46.8 99.17,46.5 99.35,46.2 99.53,45.9 99.72,45.6 99.91,45.3 100.10,45.0 100.29,44.7 100.48,44.4 100.68,44.1 100.88,43.9 101.08,43.6 101.28,43.3 101.49,43.0 101.69,42.7 101.90,42.5 102.11,42.2 102.32,42.0 102.53,41.7 102.74,41.4 102.95,41.2 103.16,40.9 103.37,40.7 103.58,40.5 103.79,40.2 104.00,40.0 104.25,39.7 104.51,39.5 104.76,39.2 105.02,38.9 105.27,38.7 105.53,38.4 105.78,38.2 106.04,38.0 106.30,37.7 106.56,37.5 106.82,37.3 107.09,37.1 107.36,36.9 107.63,36.7 107.90,36.5 108.17,36.3 108.45,36.1 108.73,35.9 109.02,35.7 109.31,35.5 109.60,35.4 109.90,35.2 110.20,35.0 110.49,34.8 110.79,34.7 111.11,34.5 111.44,34.4 111.78,34.2 112.13,34.1 112.49,33.9 112.85,33.8 113.21,33.6 113.58,33.5 113.94,33.4 114.31,33.3 114.67,33.1 115.02,33.0 115.36,32.9 115.70,32.8 116.03,32.7 116.34,32.6 116.63,32.5 116.91,32.4 117.18,32.3 117.42,32.2 117.64,32.1 117.83,32.1 118.00,32.0" fill="none" stroke="#231815" stroke-width="1.3" stroke-linejoin="round" />
<path d="M77.30,30.4 77.30,31.0 77.32,31.2 77.33,31.4 77.35,31.6 77.37,31.8 77.39,32.0 77.42,32.2 77.44,32.5 77.46,32.7 77.49,33.0 77.52,33.3 77.54,33.6 77.57,33.9 77.60,34.2 77.63,34.5 77.66,34.8 77.69,35.2 77.72,35.5 77.76,35.8 77.79,36.2 77.82,36.6 77.86,36.9 77.89,37.3 77.93,37.7 77.96,38.0 78.00,38.4 78.03,38.8 78.07,39.2 78.11,39.6 78.14,40.0 78.18,40.4 78.21,40.8 78.25,41.2 78.29,41.6 78.32,42.0 78.36,42.4 78.39,42.8 78.43,43.2 78.47,43.6 78.50,44.0 78.53,44.3 78.55,44.6 78.58,44.9 78.60,45.2 78.63,45.5 78.65,45.7 78.68,46.0 78.71,46.3 78.73,46.6 78.76,46.9 78.79,47.2 78.82,47.5 78.84,47.9 78.87,48.2 78.90,48.5 78.93,48.8 78.95,49.1 78.98,49.4 79.01,49.7 79.04,50.0 79.07,50.4 79.09,50.7 79.12,51.0 79.15,51.3 79.18,51.7 79.21,52.0 79.24,52.3 79.27,52.6 79.29,53.0 79.32,53.3 79.35,53.7 79.38,54.0 79.41,54.3 79.44,54.7 79.47,55.0 79.50,55.4 79.52,55.7 79.55,56.1 79.58,56.4 79.61,56.8 79.64,57.1 79.67,57.5 79.70,57.9 79.72,58.2 79.75,58.6 79.78,59.0 79.81,59.3 79.84,59.7 79.86,60.1 79.89,60.5 79.92,60.8 79.95,61.2 79.97,61.6 80.00,62.0 80.02,62.3 80.04,62.6 80.06,62.9 80.08,63.2 80.10,63.5 80.12,63.8 80.14,64.1 80.16,64.4 80.18,64.7 80.20,65.0 80.22,65.3 80.24,65.7 80.26,66.0 80.28,66.3 80.30,66.6 80.32,66.9 80.34,67.3 80.36,67.6 80.38,67.9 80.40,68.2 80.42,68.6 80.44,68.9 80.46,69.2 80.48,69.6 80.50,69.9 80.52,70.2 80.54,70.6 80.56,70.9 80.58,71.2 80.60,71.6 80.62,71.9 80.64,72.3 80.66,72.6 80.68,72.9 80.70,73.3 80.72,73.6 80.74,74.0 80.76,74.3 80.78,74.7 80.80,75.0 80.82,75.3 80.84,75.7 80.86,76.0 80.87,76.4 80.89,76.7 80.91,77.1 80.93,77.4 80.95,77.8 80.97,78.1 80.99,78.5 81.01,78.8 81.03,79.2 81.05,79.5 81.07,79.9 81.09,80.2 81.10,80.6 81.12,80.9 81.14,81.2 81.16,81.6 81.18,81.9 81.20,82.3 81.22,82.6 81.24,83.0 81.25,83.3 81.27,83.6 81.29,84.0 81.31,84.3 81.33,84.7 81.35,85.0 81.36,85.3 81.38,85.7 81.40,86.0 81.42,86.3 81.44,86.7 81.45,87.0 81.47,87.3 81.49,87.7 81.51,88.0 81.52,88.3 81.54,88.6 81.56,89.0 81.58,89.3 81.59,89.6 81.61,89.9 81.63,90.3 81.64,90.6 81.66,90.9 81.68,91.2 81.69,91.5 81.71,91.9 81.73,92.2 81.74,92.5 81.76,92.8 81.77,93.1 81.79,93.5 81.81,93.8 81.82,94.1 81.84,94.4 81.86,94.7 81.87,95.1 81.89,95.4 81.90,95.7 81.92,96.0 81.94,96.3 81.95,96.7 81.97,97.0 81.98,97.3 82.00,97.6 82.02,97.9 82.03,98.3 82.05,98.6 82.06,98.9 82.08,99.2 82.10,99.6 82.11,99.9 82.13,100.2 82.14,100.6 82.16,100.9 82.18,101.2 82.19,101.6 82.21,101.9 82.23,102.2 82.24,102.6 82.26,102.9 82.27,103.2 82.29,103.6 82.31,103.9 82.32,104.3 82.34,104.6 82.36,105.0 82.37,105.3 82.39,105.7 82.41,106.0 82.42,106.4 82.44,106.7 82.46,107.1 82.48,107.4 82.49,107.8 82.51,108.2 82.53,108.5 82.55,108.9 82.56,109.3 82.58,109.6 82.60,110.0 82.61,110.3 82.63,110.6 82.64,110.9 82.66,111.2 82.67,111.5 82.69,111.8 82.70,112.2 82.72,112.5 82.73,112.8 82.75,113.1 82.76,113.4 82.78,113.8 82.79,114.1 82.81,114.4 82.82,114.8 82.84,115.1 82.85,115.4 82.87,115.8 82.88,116.1 82.90,116.5 82.91,116.8 82.93,117.1 82.94,117.5 82.96,117.8 82.97,118.2 82.99,118.5 83.00,118.9 83.02,119.2 83.03,119.6 83.05,119.9 83.06,120.3 83.08,120.6 83.09,121.0 83.11,121.3 83.13,121.7 83.14,122.0 83.16,122.4 83.17,122.8 83.19,123.1 83.20,123.5 83.22,123.8 83.23,124.2 83.25,124.5 83.27,124.9 83.28,125.2 83.30,125.6 83.31,126.0 83.33,126.3 83.34,126.7 83.36,127.0 83.38,127.4 83.39,127.7 83.41,128.1 83.42,128.4 83.44,128.8 83.45,129.1 83.47,129.5 83.49,129.8 83.50,130.2 83.52,130.5 83.53,130.9 83.55,131.2 83.57,131.5 83.58,131.9 83.60,132.2 83.61,132.6 83.63,132.9 83.65,133.2 83.66,133.6 83.68,133.9 83.69,134.2 83.71,134.5 83.73,134.9 83.74,135.2 83.76,135.5 83.77,135.8 83.79,136.1 83.81,136.5 83.82,136.8 83.84,137.1 83.86,137.4 83.87,137.7 83.89,138.0 83.90,138.3 83.92,138.6 83.94,138.9 83.95,139.2 83.97,139.4 83.98,139.7 84.00,140.0 84.02,140.4 84.05,140.8 84.07,141.2 84.10,141.7 84.12,142.1 84.14,142.5 84.17,142.9 84.19,143.3 84.21,143.7 84.24,144.1 84.26,144.5 84.29,144.9 84.31,145.3 84.33,145.7 84.36,146.1 84.38,146.5 84.40,146.9 84.43,147.3 84.45,147.7 84.47,148.1 84.50,148.5 84.52,148.8 84.55,149.2 84.57,149.6 84.59,150.0 84.62,150.3 84.64,150.7 84.66,151.0 84.69,151.4 84.71,151.8 84.74,152.1 84.76,152.4 84.79,152.8 84.81,153.1 84.83,153.4 84.86,153.8 84.88,154.1 84.91,154.4 84.93,154.7 84.96,155.0 84.98,155.3 85.01,155.6 85.04,155.9 85.06,156.2 85.09,156.5 85.11,156.8 85.14,157.0 85.17,157.3 85.19,157.6 85.22,157.8 85.25,158.1 85.27,158.3 85.30,158.5 85.33,158.8 85.36,159.0 85.39,159.2 85.41,159.4 85.44,159.6 85.47,159.8 85.50,160.0 85.73,161.2 85.96,162.1 86.21,162.7 86.47,162.9 86.73,163.1 86.99,162.8 87.25,162.5 87.50,162.0 87.56,161.7 87.61,161.4 87.67,161.2 87.72,160.8 87.78,160.5 87.83,160.3 87.89,160.1 87.94,159.9 88.00,159.5 88.06,159.3 88.11,158.9 88.17,158.6 88.22,158.5 88.28,158.1 88.33,157.9 88.39,157.3 88.44,156.9 88.50,156.8 88.56,156.5 88.61,156.1 88.67,155.9 88.72,156.2 88.78,155.6 88.83,155.3 88.89,154.9 88.94,154.1 89.00,153.7 89.06,153.3 89.11,153.1 89.17,152.5 89.22,151.9 89.28,151.5 89.33,151.3 89.39,150.8 89.44,150.2 89.50,149.5 89.53,149.4 89.57,149.2 89.60,148.8 89.63,148.7 89.67,148.4 89.70,148.3 89.74,148.8 89.77,148.8 89.80,148.9 89.84,148.3 89.87,148.1 89.91,148.0 89.94,147.8 89.98,147.5 90.01,147.1 90.05,146.3 90.08,146.1 90.12,145.3 90.15,144.8 90.19,143.9 90.22,143.0 90.25,142.7 90.29,142.3 90.32,141.7 90.36,141.4 90.39,141.2 90.43,140.6 90.46,140.4 90.50,140.1 90.53,139.7 90.57,139.5 90.60,139.2 90.63,139.2 90.67,138.8 90.70,138.7 90.74,138.3 90.77,137.6 90.80,137.4 90.84,137.0 90.87,136.4 90.90,136.2 90.94,134.9 90.97,133.9 91.00,133.8 91.04,133.2 91.07,132.6 91.10,132.4 91.13,131.8 91.16,131.6 91.20,131.5 91.23,131.5 91.26,131.3 91.29,131.3 91.32,131.4 91.35,131.4 91.38,131.0 91.41,130.8 91.44,130.7 91.47,131.1 91.50,131.1 91.55,131.0 91.60,130.6 91.64,130.7 91.69,130.0 91.74,129.1 91.78,129.0 91.83,128.7 91.87,127.8 91.92,127.5 91.96,126.7 92.00,126.7 92.05,126.4 92.09,125.7 92.13,125.4 92.18,124.7 92.22,124.6 92.26,123.9 92.30,122.8 92.34,122.5 92.38,121.8 92.42,121.4 92.46,121.1 92.50,120.5 92.54,120.6 92.58,120.2 92.62,120.2 92.66,120.0 92.70,119.8 92.73,119.5 92.77,119.5 92.81,119.4 92.85,119.3 92.89,118.4 92.92,118.6 92.96,118.7 93.00,118.0 93.06,118.2 93.11,117.8 93.16,117.8 93.21,117.5 93.26,116.4 93.31,116.3 93.36,115.6 93.41,115.4 93.45,114.6 93.50,114.5 93.55,114.2 93.59,113.8 93.64,113.5 93.69,113.2 93.73,112.8 93.78,112.4 93.83,112.7 93.88,112.0 93.93,111.7 93.98,111.2 94.03,110.7 94.09,110.4 94.14,110.4 94.20,109.9 94.22,109.6 94.25,109.6 94.27,109.2 94.29,108.9 94.32,108.8 94.34,108.3 94.36,108.2 94.39,107.9 94.41,107.7 94.44,107.0 94.46,106.6 94.48,106.7 94.51,107.0 94.53,106.6 94.56,106.9 94.58,106.4 94.61,106.2 94.63,106.3 94.66,105.8 94.68,105.8 94.71,105.7 94.73,104.8 94.76,104.8 94.78,104.4 94.81,104.0 94.83,103.1 94.86,103.1 94.89,103.0 94.91,102.4 94.94,101.9 94.96,102.0 94.99,101.3 95.02,101.1 95.04,100.5 95.07,99.8 95.10,99.6 95.12,98.8 95.15,98.0 95.18,98.1 95.21,97.3 95.24,96.9 95.26,96.7 95.29,96.9 95.32,95.9 95.35,95.1 95.38,95.0 95.41,94.0 95.44,93.3 95.46,93.1 95.49,92.7 95.52,92.2 95.55,91.9 95.58,91.3 95.61,91.1 95.64,90.9 95.68,90.2 95.71,90.2 95.74,90.3 95.77,90.0 95.80,89.6 95.84,89.8 95.87,89.7 95.91,89.1 95.95,88.8 95.99,88.4 96.02,87.9 96.06,87.1 96.10,87.0 96.14,86.8 96.18,86.3 96.22,85.8 96.26,85.2 96.30,85.1 96.34,84.6 96.38,84.1 96.42,83.9 96.46,83.4 96.51,82.5 96.55,82.2 96.59,81.7 96.63,82.2 96.67,82.0 96.72,81.4 96.76,81.5 96.80,80.9 96.84,80.2 96.89,80.6 96.93,80.2 96.97,80.4 97.02,80.2 97.06,80.2 97.10,79.8 97.15,79.5 97.19,79.3 97.24,79.0 97.28,78.9 97.33,78.9 97.37,78.1 97.41,77.7 97.46,77.7 97.50,77.0 97.55,77.3 97.59,77.5 97.64,76.7 97.68,76.5 97.73,76.3 97.77,76.0 97.82,75.4 97.86,74.8 97.91,74.4 97.95,74.9 98.00,74.9 98.10,74.0 98.20,73.4 98.30,73.1 98.39,72.7 98.49,71.9 98.59,71.8 98.70,70.8 98.80,70.1 98.90,69.8 99.00,69.3 99.10,68.9 99.21,69.2 99.31,69.0 99.41,69.1 99.52,68.5 99.63,67.6 99.73,67.3 99.84,66.9 99.95,66.3 100.06,65.7 100.17,65.3 100.28,65.1 100.39,64.5 100.50,64.2 100.65,64.1 100.81,63.7 100.96,63.6 101.12,63.3 101.28,62.3 101.45,62.0 101.61,61.3 101.78,61.6 101.94,61.6 102.11,61.5 102.28,61.1 102.44,61.1 102.61,60.6 102.77,60.2 102.93,60.2 103.09,60.1 103.25,60.0 103.40,59.7 103.56,59.2 103.71,58.8 103.86,58.3 104.00,57.9 104.14,57.5 104.28,57.3 104.42,56.9 104.56,56.4 104.70,56.4 104.84,56.1 104.99,55.8 105.14,55.5 105.30,55.2 105.46,54.8 105.63,54.5 105.81,54.1 106.00,53.8 106.17,53.6 106.35,53.3 106.53,53.0 106.73,52.9 106.93,52.3 107.13,52.3 107.34,51.8 107.55,51.5 107.76,50.9 107.97,50.5 108.19,50.1 108.40,49.9 108.62,49.7 108.83,49.3 109.04,49.0 109.24,48.9 109.44,48.6 109.63,48.4 109.82,48.3 110.00,48.1 110.38,47.8 110.75,47.7 111.11,47.4 111.46,47.3 111.79,47.3 112.11,47.3 112.42,47.4 112.72,47.5 113.00,47.4 113.26,47.2 113.48,46.9 113.69,46.5 113.88,46.1 114.06,45.8 114.26,45.5 114.47,45.1 114.72,44.8 115.00,44.6 115.29,44.5 115.61,44.5 115.95,44.4 116.30,44.4 116.67,44.4 117.04,44.4 117.42,44.3 117.79,44.4 118.15,44.3 118.50,44.3 118.84,44.3 119.19,44.2 119.54,44.0 119.89,43.9 120.23,43.7 120.57,43.6 120.90,43.4 121.21,43.3 121.52,43.2 121.80,43.1 122.17,43.2 122.51,43.2 122.83,43.3 123.13,43.5 123.42,43.7 123.71,44.0 124.00,44.2 124.21,44.4 124.41,44.6 124.61,44.9 124.81,45.0 125.01,45.3 125.21,45.6 125.41,45.9 125.60,46.2 125.80,46.7 126.00,47.1 126.11,47.2 126.22,47.6 126.34,48.0 126.45,48.4 126.57,48.6 126.68,48.9 126.80,49.4 126.91,49.6 127.02,49.9 127.14,50.1 127.25,50.7 127.36,51.0 127.47,51.1 127.58,51.5 127.69,51.8 127.80,52.0 127.90,52.4 128.00,52.8 128.12,53.0 128.23,53.3 128.34,53.5 128.45,54.0 128.55,54.3 128.65,54.9 128.76,55.5 128.86,55.9 128.96,56.0 129.06,56.0 129.16,56.2 129.27,56.8 129.37,57.1 129.49,57.5 129.60,57.5 129.78,57.4 129.97,57.1 130.16,56.8 130.36,56.5 130.56,56.3 130.75,56.0 130.95,55.6 131.14,55.0 131.32,54.5 131.50,54.3 131.64,53.9 131.77,53.5 131.89,53.4 132.01,53.3 132.13,53.0 132.24,52.6 132.36,52.2 132.48,51.9 132.60,51.7 132.73,51.6 132.86,51.3 133.00,51.1 133.31,50.7 133.64,50.7 133.99,50.7 134.34,50.6 134.68,50.7 135.00,50.8 135.23,50.7 135.47,50.4 135.70,50.1 135.93,49.7 136.13,49.4 136.32,49.0 136.48,48.7 136.60,48.4" fill="none" stroke="#231815" stroke-width="1.6" stroke-linejoin="round" />
<path d="M77.30,30.4 77.30,31.0 77.32,31.2 77.33,31.4 77.35,31.6 77.37,31.8 77.39,32.0 77.42,32.2 77.44,32.5 77.46,32.7 77.49,33.0 77.52,33.3 77.54,33.6 77.57,33.9 77.60,34.2 77.63,34.5 77.66,34.8 77.69,35.2 77.72,35.5 77.76,35.8 77.79,36.2 77.82,36.6 77.86,36.9 77.89,37.3 77.93,37.7 77.96,38.0 78.00,38.4 78.03,38.8 78.07,39.2 78.11,39.6 78.14,40.0 78.18,40.4 78.21,40.8 78.25,41.2 78.29,41.6 78.32,42.0 78.36,42.4 78.39,42.8 78.43,43.2 78.47,43.6 78.50,44.0 78.53,44.3 78.55,44.6 78.58,44.9 78.60,45.2 78.63,45.5 78.65,45.7 78.68,46.0 78.71,46.3 78.73,46.6 78.76,46.9 78.79,47.2 78.82,47.5 78.84,47.9 78.87,48.2 78.90,48.5 78.93,48.8 78.95,49.1 78.98,49.4 79.01,49.7 79.04,50.0 79.07,50.4 79.09,50.7 79.12,51.0 79.15,51.3 79.18,51.7 79.21,52.0 79.24,52.3 79.27,52.6 79.29,53.0 79.32,53.3 79.35,53.7 79.38,54.0 79.41,54.3 79.44,54.7 79.47,55.0 79.50,55.4 79.52,55.7 79.55,56.1 79.58,56.4 79.61,56.8 79.64,57.1 79.67,57.5 79.70,57.9 79.72,58.2 79.75,58.6 79.78,59.0 79.81,59.3 79.84,59.7 79.86,60.1 79.89,60.5 79.92,60.8 79.95,61.2 79.97,61.6 80.00,62.0 80.02,62.3 80.04,62.6 80.06,62.9 80.08,63.2 80.10,63.5 80.12,63.8 80.14,64.1 80.16,64.4 80.18,64.7 80.20,65.0 80.22,65.3 80.24,65.7 80.26,66.0 80.28,66.3 80.30,66.6 80.32,66.9 80.34,67.3 80.36,67.6 80.38,67.9 80.40,68.2 80.42,68.6 80.44,68.9 80.46,69.2 80.48,69.6 80.50,69.9 80.52,70.2 80.54,70.6 80.56,70.9 80.58,71.2 80.60,71.6 80.62,71.9 80.64,72.3 80.66,72.6 80.68,72.9 80.70,73.3 80.72,73.6 80.74,74.0 80.76,74.3 80.78,74.7 80.80,75.0 80.82,75.3 80.84,75.7 80.86,76.0 80.87,76.4 80.89,76.7 80.91,77.1 80.93,77.4 80.95,77.8 80.97,78.1 80.99,78.5 81.01,78.8 81.03,79.2 81.05,79.5 81.07,79.9 81.09,80.2 81.10,80.6 81.12,80.9 81.14,81.2 81.16,81.6 81.18,81.9 81.20,82.3 81.22,82.6 81.24,83.0 81.25,83.3 81.27,83.6 81.29,84.0 81.31,84.3 81.33,84.7 81.35,85.0 81.36,85.3 81.38,85.7 81.40,86.0 81.42,86.3 81.44,86.7 81.45,87.0 81.47,87.3 81.49,87.6 81.50,87.9 81.52,88.3 81.54,88.6 81.55,88.9 81.57,89.2 81.59,89.5 81.60,89.8 81.62,90.1 81.64,90.4 81.65,90.7 81.67,91.0 81.68,91.3 81.70,91.6 81.71,91.9 81.73,92.2 81.74,92.5 81.76,92.8 81.77,93.1 81.79,93.4 81.80,93.7 81.82,94.0 81.83,94.3 81.85,94.6 81.86,94.9 81.88,95.2 81.89,95.5 81.91,95.8 81.92,96.1 81.94,96.4 81.95,96.7 81.97,97.0 81.98,97.3 82.00,97.6 82.01,97.9 82.03,98.2 82.05,98.5 82.06,98.9 82.08,99.2 82.09,99.5 82.11,99.8 82.12,100.2 82.14,100.5 82.16,100.8 82.17,101.1 82.19,101.5 82.20,101.8 82.22,102.2 82.24,102.5 82.26,102.9 82.27,103.2 82.29,103.6 82.31,104.0 82.33,104.3 82.34,104.7 82.36,105.1 82.38,105.5 82.40,105.8 82.42,106.2 82.44,106.6 82.46,107.0 82.48,107.4 82.50,107.9 82.52,108.3 82.54,108.7 82.56,109.1 82.58,109.6 82.60,110.0 82.61,110.3 82.63,110.5 82.64,110.8 82.65,111.1 82.67,111.4 82.68,111.7 82.69,112.0 82.71,112.3 82.72,112.6 82.73,112.9 82.75,113.2 82.76,113.5 82.78,113.8 82.79,114.1 82.80,114.4 82.82,114.8 82.83,115.1 82.85,115.4 82.86,115.8 82.87,116.1 82.89,116.4 82.90,116.8 82.92,117.1 82.93,117.5 82.95,117.8 82.96,118.2 82.98,118.5 82.99,118.9 83.01,119.2 83.02,119.6 83.04,119.9 83.05,120.3 83.07,120.7 83.08,121.0 83.10,121.4 83.12,121.8 83.13,122.1 83.15,122.5 83.16,122.9 83.18,123.3 83.19,123.6 83.21,124.0 83.23,124.4 83.24,124.8 83.26,125.1 83.27,125.5 83.29,125.9 83.30,126.3 83.32,126.7 83.34,127.1 83.35,127.4 83.37,127.8 83.39,128.2 83.40,128.6 83.42,129.0 83.43,129.3 83.45,129.7 83.47,130.1 83.48,130.5 83.50,130.9 83.52,131.3 83.53,131.6 83.55,132.0 83.57,132.4 83.58,132.8 83.60,133.2 83.62,133.5 83.63,133.9 83.65,134.3 83.67,134.6 83.68,135.0 83.70,135.4 83.72,135.8 83.73,136.1 83.75,136.5 83.77,136.9 83.78,137.2 83.80,137.6 83.82,137.9 83.83,138.3 83.85,138.7 83.87,139.0 83.88,139.4 83.90,139.7 83.92,140.0 83.93,140.4 83.95,140.7 83.97,141.1 83.98,141.4 84.00,141.7 84.02,142.1 84.04,142.4 84.05,142.7 84.07,143.0 84.09,143.4 84.10,143.7 84.12,144.0 84.14,144.3 84.15,144.6 84.17,144.9 84.19,145.2 84.20,145.5 84.22,145.8 84.24,146.0 84.25,146.3 84.27,146.6 84.29,146.9 84.30,147.1 84.32,147.4 84.34,147.7 84.35,147.9 84.37,148.2 84.39,148.4 84.40,148.7 84.42,148.9 84.43,149.1 84.45,149.4 84.47,149.6 84.48,149.8 84.50,150.0 84.57,150.8 84.63,151.6 84.70,152.3 84.76,152.9 84.83,153.5 84.89,154.1 84.96,154.6 85.03,155.1 85.09,155.6 85.16,156.0 85.23,156.4 85.29,156.7 85.36,157.1 85.43,157.4 85.49,157.6 85.56,157.9 85.63,158.1 85.70,158.3 85.76,158.5 85.83,158.7 85.90,158.8 85.96,159.0 86.03,159.1 86.10,159.3 86.17,159.4 86.23,159.6 86.30,159.7 86.37,159.8 86.43,159.8 86.50,159.8 86.75,160.1 87.01,160.4 87.27,160.4 87.53,160.2 87.79,159.2 88.04,159.0 88.27,158.0 88.50,158.0 88.57,157.4 88.63,157.4 88.68,156.6 88.73,155.8 88.77,155.7 88.80,155.4 88.84,155.4 88.87,155.5 88.90,154.4 88.93,153.4 88.97,153.5 89.00,153.2 89.04,152.5 89.08,152.3 89.13,151.0 89.19,150.3 89.25,149.9 89.32,150.3 89.40,150.0 89.50,150.0 89.60,150.1 89.72,149.5 89.85,149.0 90.00,148.9 90.14,149.3 90.30,148.0 90.46,148.2 90.64,148.4 90.82,148.3 91.02,148.3 91.22,148.8 91.42,148.3 91.64,147.3 91.86,147.9 92.08,147.2 92.31,146.5 92.55,145.7 92.79,145.7 93.03,145.2 93.28,143.9 93.52,144.0 93.77,144.1 94.02,143.0 94.28,143.5 94.53,143.4 94.78,142.5 95.03,142.8 95.27,142.5 95.52,141.9 95.76,143.2 96.00,142.8 96.18,143.1 96.37,143.2 96.56,142.7 96.74,143.0 96.93,142.8 97.13,143.5 97.32,143.7 97.51,142.6 97.71,142.6 97.90,142.4 98.10,141.0 98.30,140.9 98.49,141.0 98.69,139.8 98.89,140.7 99.09,141.0 99.29,140.5 99.49,140.9 99.69,140.1 99.89,139.6 100.08,138.2 100.28,138.1 100.48,137.9 100.68,136.8 100.88,137.3 101.07,138.7 101.27,138.0 101.47,137.9 101.66,137.3 101.85,137.0 102.05,136.4 102.24,136.0 102.43,135.4 102.61,135.7 102.80,135.0 102.97,134.9 103.14,134.5 103.32,134.4 103.49,134.6 103.66,134.1 103.84,132.7 104.01,133.1 104.18,132.1 104.36,132.2 104.53,131.2 104.70,130.7 104.88,130.4 105.05,130.7 105.22,129.3 105.39,129.6 105.57,128.2 105.74,128.9 105.91,127.3 106.07,126.3 106.24,124.6 106.41,125.1 106.58,123.6 106.74,123.9 106.90,123.0 107.06,121.8 107.23,121.3 107.38,121.3 107.54,120.4 107.70,121.6 107.85,121.0 108.00,121.5 108.15,120.4 108.30,121.3 108.44,122.5 108.59,123.3 108.73,122.3 108.86,122.4 109.00,121.7 109.21,122.4 109.41,122.4 109.61,121.7 109.81,121.0 110.00,120.5 110.19,120.7 110.37,119.4 110.55,119.2 110.72,119.5 110.89,118.4 111.06,116.8 111.22,116.6 111.39,117.1 111.54,116.6 111.70,115.9 111.85,115.4 112.00,116.5 112.15,116.6 112.30,115.2 112.44,115.9 112.58,114.6 112.72,116.1 112.86,115.7 113.00,114.8 113.19,114.8 113.38,115.6 113.55,115.8 113.73,113.6 113.89,113.3 114.06,114.8 114.22,113.8 114.37,112.0 114.52,112.0 114.66,112.8 114.81,111.7 114.94,111.3 115.08,110.2 115.21,109.7 115.34,109.7 115.47,109.1 115.60,107.8 115.68,106.7 115.76,108.2 115.84,108.6 115.91,107.3 115.99,107.5 116.06,108.0 116.13,108.3 116.20,108.2 116.26,108.9 116.33,109.4 116.39,109.2 116.46,108.9 116.52,108.8 116.58,109.1 116.64,108.8 116.70,107.8 116.76,105.8 116.82,105.4 116.88,105.5 116.94,105.3 117.00,104.1 117.06,103.7 117.12,102.9 117.18,101.8 117.24,101.0 117.30,100.3 117.38,99.9 117.46,97.9 117.54,96.8 117.62,95.6 117.69,96.2 117.76,96.8 117.84,96.8 117.91,96.2 117.98,95.2 118.06,95.7 118.13,94.6 118.20,94.9 118.28,94.6 118.36,93.5 118.44,93.7 118.53,93.7 118.61,94.3 118.70,95.0 118.80,96.5 118.94,95.8 119.09,95.2 119.24,93.2 119.40,92.6 119.55,92.4 119.72,90.9 119.88,90.9 120.06,90.6 120.23,89.8 120.42,89.9 120.60,89.2 120.80,89.3 121.00,88.4 121.22,87.5 121.46,87.4 121.69,87.4 121.94,87.6 122.19,88.4 122.44,87.7 122.71,87.7 122.97,88.8 123.25,87.9 123.53,87.6 123.81,88.4 124.10,89.0 124.37,88.5 124.65,87.4 124.93,87.2 125.21,87.7 125.51,86.9 125.80,87.0 126.10,86.2 126.41,85.5 126.71,85.9 127.03,85.8 127.35,85.0 127.67,85.4 128.00,85.3 128.24,84.6 128.49,83.3 128.75,82.8 129.01,82.9 129.27,83.6 129.54,82.7 129.81,81.9 130.08,80.9 130.35,81.5 130.62,81.8 130.89,81.6 131.16,80.8 131.43,80.7 131.69,80.4 131.95,79.4 132.21,78.4 132.46,78.6 132.70,80.2 133.07,80.2 133.44,80.7 133.82,80.7 134.20,80.6 134.58,80.2 134.94,79.4 135.29,80.1 135.62,80.2 135.92,81.1 136.18,81.7 136.41,81.6 136.60,81.9" fill="none" stroke="#231815" stroke-width="1.8" stroke-linejoin="round" />
<path d="M77.30,30.4 77.30,31.0 77.32,31.2 77.33,31.4 77.35,31.6 77.37,31.8 77.39,32.0 77.42,32.2 77.44,32.5 77.46,32.7 77.49,33.0 77.52,33.3 77.54,33.6 77.57,33.9 77.60,34.2 77.63,34.5 77.66,34.8 77.69,35.2 77.72,35.5 77.76,35.8 77.79,36.2 77.82,36.6 77.86,36.9 77.89,37.3 77.93,37.7 77.96,38.0 78.00,38.4 78.03,38.8 78.07,39.2 78.11,39.6 78.14,40.0 78.18,40.4 78.21,40.8 78.25,41.2 78.29,41.6 78.32,42.0 78.36,42.4 78.39,42.8 78.43,43.2 78.47,43.6 78.50,44.0 78.53,44.3 78.55,44.6 78.58,44.9 78.60,45.2 78.63,45.5 78.65,45.7 78.68,46.0 78.71,46.3 78.73,46.6 78.76,46.9 78.79,47.2 78.82,47.5 78.84,47.9 78.87,48.2 78.90,48.5 78.93,48.8 78.95,49.1 78.98,49.4 79.01,49.7 79.04,50.0 79.07,50.4 79.09,50.7 79.12,51.0 79.15,51.3 79.18,51.7 79.21,52.0 79.24,52.3 79.27,52.6 79.29,53.0 79.32,53.3 79.35,53.7 79.38,54.0 79.41,54.3 79.44,54.7 79.47,55.0 79.50,55.4 79.52,55.7 79.55,56.1 79.58,56.4 79.61,56.8 79.64,57.1 79.67,57.5 79.70,57.9 79.72,58.2 79.75,58.6 79.78,59.0 79.81,59.3 79.84,59.7 79.86,60.1 79.89,60.5 79.92,60.8 79.95,61.2 79.97,61.6 80.00,62.0 80.02,62.3 80.04,62.6 80.06,62.9 80.08,63.2 80.10,63.5 80.12,63.8 80.14,64.1 80.16,64.4 80.18,64.7 80.20,65.0 80.22,65.3 80.24,65.7 80.26,66.0 80.28,66.3 80.30,66.6 80.32,66.9 80.34,67.3 80.36,67.6 80.38,67.9 80.40,68.2 80.42,68.6 80.44,68.9 80.46,69.2 80.48,69.6 80.50,69.9 80.52,70.2 80.54,70.6 80.56,70.9 80.58,71.2 80.60,71.6 80.62,71.9 80.64,72.3 80.66,72.6 80.68,72.9 80.70,73.3 80.72,73.6 80.74,74.0 80.76,74.3 80.78,74.7 80.80,75.0 80.82,75.3 80.84,75.7 80.86,76.0 80.87,76.4 80.89,76.7 80.91,77.1 80.93,77.4 80.95,77.8 80.97,78.1 80.99,78.5 81.01,78.8 81.03,79.2 81.05,79.5 81.07,79.9 81.09,80.2 81.10,80.6 81.12,80.9 81.14,81.2 81.16,81.6 81.18,81.9 81.20,82.3 81.22,82.6 81.24,83.0 81.25,83.3 81.27,83.6 81.29,84.0 81.31,84.3 81.33,84.7 81.35,85.0 81.36,85.3 81.38,85.7 81.40,86.0 81.42,86.3 81.44,86.7 81.45,87.0 81.47,87.3 81.49,87.6 81.51,87.9 81.52,88.3 81.54,88.6 81.56,88.9 81.58,89.2 81.59,89.5 81.61,89.8 81.63,90.1 81.64,90.4 81.66,90.7 81.68,91.0 81.69,91.3 81.71,91.6 81.73,91.9 81.74,92.2 81.76,92.5 81.77,92.8 81.79,93.1 81.81,93.4 81.82,93.7 81.84,94.0 81.86,94.3 81.87,94.6 81.89,94.9 81.90,95.2 81.92,95.5 81.94,95.8 81.95,96.1 81.97,96.4 81.98,96.7 82.00,97.0 82.02,97.3 82.03,97.6 82.05,97.9 82.06,98.2 82.08,98.5 82.10,98.9 82.11,99.2 82.13,99.5 82.14,99.8 82.16,100.2 82.18,100.5 82.19,100.8 82.21,101.1 82.23,101.5 82.24,101.8 82.26,102.2 82.27,102.5 82.29,102.9 82.31,103.2 82.32,103.6 82.34,104.0 82.36,104.3 82.37,104.7 82.39,105.1 82.41,105.5 82.42,105.8 82.44,106.2 82.46,106.6 82.48,107.0 82.49,107.4 82.51,107.9 82.53,108.3 82.55,108.7 82.56,109.1 82.58,109.6 82.60,110.0 82.61,110.3 82.62,110.5 82.63,110.8 82.64,111.1 82.65,111.4 82.66,111.7 82.68,112.0 82.69,112.3 82.70,112.6 82.71,112.9 82.72,113.2 82.73,113.5 82.74,113.8 82.75,114.1 82.76,114.4 82.77,114.7 82.78,115.1 82.79,115.4 82.80,115.7 82.81,116.1 82.83,116.4 82.84,116.7 82.85,117.1 82.86,117.4 82.87,117.8 82.88,118.1 82.89,118.5 82.90,118.8 82.91,119.2 82.92,119.5 82.93,119.9 82.94,120.2 82.95,120.6 82.96,121.0 82.98,121.3 82.99,121.7 83.00,122.1 83.01,122.4 83.02,122.8 83.03,123.2 83.04,123.6 83.05,123.9 83.06,124.3 83.07,124.7 83.08,125.1 83.09,125.4 83.11,125.8 83.12,126.2 83.13,126.6 83.14,127.0 83.15,127.3 83.16,127.7 83.17,128.1 83.18,128.5 83.19,128.9 83.21,129.2 83.22,129.6 83.23,130.0 83.24,130.4 83.25,130.8 83.26,131.1 83.27,131.5 83.28,131.9 83.30,132.3 83.31,132.6 83.32,133.0 83.33,133.4 83.34,133.8 83.35,134.1 83.36,134.5 83.38,134.9 83.39,135.2 83.40,135.6 83.41,136.0 83.42,136.3 83.43,136.7 83.45,137.1 83.46,137.4 83.47,137.8 83.48,138.1 83.49,138.5 83.51,138.9 83.52,139.2 83.53,139.6 83.54,139.9 83.55,140.2 83.57,140.6 83.58,140.9 83.59,141.3 83.60,141.6 83.62,141.9 83.63,142.3 83.64,142.6 83.65,142.9 83.67,143.2 83.68,143.5 83.69,143.8 83.70,144.2 83.72,144.5 83.73,144.8 83.74,145.1 83.76,145.4 83.77,145.7 83.78,145.9 83.79,146.2 83.81,146.5 83.82,146.8 83.83,147.1 83.85,147.3 83.86,147.6 83.88,147.9 83.89,148.1 83.90,148.4 83.92,148.6 83.93,148.9 83.94,149.1 83.96,149.3 83.97,149.6 83.99,149.8 84.00,150.0 84.05,150.7 84.10,151.4 84.15,152.0 84.20,152.6 84.25,153.2 84.30,153.7 84.35,154.3 84.40,154.8 84.46,155.2 84.51,155.7 84.57,156.1 84.62,156.5 84.68,156.9 84.73,157.2 84.79,157.5 84.85,157.9 84.90,158.2 84.96,158.4 85.02,158.7 85.08,159.0 85.14,159.2 85.19,159.4 85.25,159.6 85.31,159.9 85.37,160.1 85.43,160.2 85.49,160.4 85.54,160.6 85.60,160.8 85.66,161.0 85.72,161.1 85.77,161.3 85.83,161.5 85.89,161.6 85.94,161.8 86.00,162.0 86.30,163.0 86.57,163.7 86.84,163.7 87.15,164.2 87.52,164.1 88.00,164.0 88.15,163.8 88.32,163.6 88.49,164.1 88.67,163.0 88.85,162.2 89.05,161.3 89.25,160.9 89.45,160.2 89.66,160.4 89.88,159.9 90.09,159.0 90.31,158.6 90.54,157.0 90.76,155.4 90.98,155.8 91.21,154.6 91.43,153.4 91.65,152.6 91.87,152.2 92.08,153.4 92.29,153.3 92.50,153.5 92.67,154.5 92.83,154.2 92.99,154.1 93.15,153.0 93.32,153.1 93.48,152.5 93.63,153.1 93.79,153.3 93.95,153.1 94.11,152.5 94.27,154.1 94.43,155.2 94.59,155.4 94.75,154.9 94.91,153.9 95.07,152.1 95.24,151.1 95.40,150.7 95.57,150.3 95.74,150.4 95.91,152.7 96.09,152.2 96.26,151.5 96.44,151.2 96.63,149.9 96.81,149.9 97.00,150.5 97.16,150.8 97.32,150.8 97.48,150.8 97.64,151.0 97.81,152.4 97.97,151.6 98.13,150.6 98.30,150.6 98.46,151.4 98.63,149.6 98.79,150.5 98.96,148.8 99.13,149.3 99.30,151.8 99.48,152.5 99.65,150.6 99.83,148.9 100.01,148.3 100.19,146.8 100.37,147.0 100.56,145.5 100.74,146.1 100.94,147.3 101.13,145.3 101.33,144.5 101.53,143.3 101.73,141.4 101.94,142.2 102.15,140.7 102.36,139.3 102.58,136.7 102.80,137.5 102.96,139.5 103.12,139.5 103.28,140.5 103.45,139.7 103.62,138.9 103.79,138.3 103.97,137.2 104.14,139.1 104.32,140.7 104.51,141.5 104.69,142.7 104.88,144.1 105.07,142.9 105.26,140.9 105.45,141.5 105.64,139.8 105.83,138.5 106.03,137.4 106.22,138.1 106.42,139.0 106.62,140.2 106.81,139.2 107.01,139.1 107.21,138.8 107.41,135.6 107.61,135.0 107.80,134.9 108.00,133.5 108.20,135.5 108.39,137.1 108.59,136.5 108.78,136.8 108.97,135.3 109.16,135.7 109.35,133.3 109.54,132.6 109.73,132.0 109.91,132.8 110.09,132.0 110.27,129.9 110.45,131.9 110.63,131.2 110.80,131.5 110.97,131.5 111.14,130.5 111.30,130.8 111.57,131.4 111.84,132.1 112.10,131.2 112.36,131.2 112.61,131.4 112.86,130.2 113.11,129.7 113.35,128.9 113.59,130.1 113.82,129.6 114.06,128.0 114.29,127.3 114.52,126.9 114.74,126.0 114.97,125.6 115.20,123.7 115.42,123.7 115.64,123.2 115.87,123.9 116.09,123.0 116.32,121.9 116.54,122.0 116.77,122.5 117.00,121.5 117.23,120.9 117.46,120.5 117.70,118.7 117.94,118.0 118.18,116.4 118.42,116.5 118.67,115.8 118.91,115.8 119.16,115.6 119.41,114.1 119.66,113.2 119.91,111.8 120.16,114.4 120.41,112.0 120.66,110.9 120.91,112.3 121.15,111.5 121.40,112.2 121.64,113.4 121.88,115.0 122.12,116.1 122.36,115.1 122.59,115.6 122.82,115.6 123.04,115.7 123.26,117.0 123.48,117.5 123.69,117.2 123.90,115.7 124.10,118.8 124.50,119.2 124.88,117.9 125.24,119.2 125.58,118.7 125.91,119.2 126.23,117.9 126.54,116.8 126.84,117.5 127.15,118.0 127.45,117.1 127.76,115.8 128.07,113.6 128.40,114.4 128.56,115.4 128.72,115.5 128.89,113.4 129.06,112.8 129.23,113.7 129.40,111.9 129.57,113.5 129.74,113.5 129.91,113.9 130.09,113.0 130.26,114.0 130.43,113.3 130.60,115.1 130.77,114.3 130.94,114.6 131.11,112.9 131.27,112.9 131.43,113.7 131.59,115.4 131.74,116.0 131.89,115.6 132.04,116.7 132.18,116.3 132.32,116.5 132.45,117.2 132.58,117.0 132.70,116.2 132.86,117.5 133.00,116.7 133.14,118.6 133.28,119.8 133.40,121.5 133.52,123.4 133.64,122.7 133.75,121.8 133.85,119.7 133.95,119.4 134.05,117.6 134.14,116.7 134.23,117.3 134.31,118.1 134.40,118.6 134.48,119.9 134.56,119.5 134.64,119.4 134.72,120.4 134.80,119.9 134.93,119.7 135.05,118.1 135.17,117.8 135.28,119.8 135.38,121.6 135.48,121.5 135.57,122.6 135.65,124.5 135.73,123.9 135.79,124.3 135.85,125.5 135.90,123.9" fill="none" stroke="#231815" stroke-width="1.3" stroke-linejoin="round" />
<path d="M77.30,30.4 77.30,31.0 77.32,31.2 77.33,31.4 77.35,31.6 77.37,31.8 77.39,32.0 77.42,32.2 77.44,32.5 77.46,32.7 77.49,33.0 77.52,33.3 77.54,33.6 77.57,33.9 77.60,34.2 77.63,34.5 77.66,34.8 77.69,35.2 77.72,35.5 77.76,35.8 77.79,36.2 77.82,36.6 77.86,36.9 77.89,37.3 77.93,37.7 77.96,38.0 78.00,38.4 78.03,38.8 78.07,39.2 78.11,39.6 78.14,40.0 78.18,40.4 78.21,40.8 78.25,41.2 78.29,41.6 78.32,42.0 78.36,42.4 78.39,42.8 78.43,43.2 78.47,43.6 78.50,44.0 78.53,44.3 78.55,44.6 78.58,44.9 78.60,45.2 78.63,45.5 78.65,45.7 78.68,46.0 78.71,46.3 78.73,46.6 78.76,46.9 78.79,47.2 78.82,47.5 78.84,47.9 78.87,48.2 78.90,48.5 78.93,48.8 78.95,49.1 78.98,49.4 79.01,49.7 79.04,50.0 79.07,50.4 79.09,50.7 79.12,51.0 79.15,51.3 79.18,51.7 79.21,52.0 79.24,52.3 79.27,52.6 79.29,53.0 79.32,53.3 79.35,53.7 79.38,54.0 79.41,54.3 79.44,54.7 79.47,55.0 79.50,55.4 79.52,55.7 79.55,56.1 79.58,56.4 79.61,56.8 79.64,57.1 79.67,57.5 79.70,57.9 79.72,58.2 79.75,58.6 79.78,59.0 79.81,59.3 79.84,59.7 79.86,60.1 79.89,60.5 79.92,60.8 79.95,61.2 79.97,61.6 80.00,62.0 80.02,62.3 80.04,62.6 80.06,62.9 80.08,63.2 80.10,63.5 80.12,63.8 80.14,64.1 80.16,64.4 80.18,64.7 80.20,65.0 80.22,65.3 80.24,65.7 80.26,66.0 80.28,66.3 80.30,66.6 80.32,66.9 80.34,67.3 80.36,67.6 80.38,67.9 80.40,68.2 80.42,68.6 80.44,68.9 80.46,69.2 80.48,69.6 80.50,69.9 80.52,70.2 80.54,70.6 80.56,70.9 80.58,71.2 80.60,71.6 80.62,71.9 80.64,72.3 80.66,72.6 80.68,72.9 80.70,73.3 80.72,73.6 80.74,74.0 80.76,74.3 80.78,74.7 80.80,75.0 80.82,75.3 80.84,75.7 80.86,76.0 80.87,76.4 80.89,76.7 80.91,77.1 80.93,77.4 80.95,77.8 80.97,78.1 80.99,78.5 81.01,78.8 81.03,79.2 81.05,79.5 81.07,79.9 81.09,80.2 81.10,80.6 81.12,80.9 81.14,81.2 81.16,81.6 81.18,81.9 81.20,82.3 81.22,82.6 81.24,83.0 81.25,83.3 81.27,83.6 81.29,84.0 81.31,84.3 81.33,84.7 81.35,85.0 81.36,85.3 81.38,85.7 81.40,86.0 81.42,86.3 81.44,86.7 81.45,87.0 81.47,87.3 81.49,87.6 81.51,87.9 81.52,88.3 81.54,88.6 81.56,88.9 81.57,89.2 81.59,89.5 81.61,89.8 81.62,90.1 81.64,90.4 81.65,90.7 81.67,91.0 81.69,91.3 81.70,91.6 81.72,91.9 81.73,92.2 81.75,92.5 81.76,92.8 81.78,93.1 81.79,93.4 81.81,93.7 81.82,94.0 81.84,94.3 81.86,94.6 81.87,94.9 81.89,95.2 81.90,95.5 81.92,95.8 81.93,96.1 81.95,96.4 81.96,96.7 81.98,97.0 81.99,97.3 82.01,97.6 82.02,97.9 82.04,98.2 82.05,98.5 82.07,98.9 82.09,99.2 82.10,99.5 82.12,99.8 82.13,100.2 82.15,100.5 82.17,100.8 82.18,101.1 82.20,101.5 82.22,101.8 82.23,102.2 82.25,102.5 82.27,102.9 82.28,103.2 82.30,103.6 82.32,104.0 82.33,104.3 82.35,104.7 82.37,105.1 82.39,105.5 82.41,105.8 82.42,106.2 82.44,106.6 82.46,107.0 82.48,107.4 82.50,107.9 82.52,108.3 82.54,108.7 82.56,109.1 82.58,109.6 82.60,110.0 82.61,110.3 82.62,110.5 82.64,110.8 82.65,111.1 82.66,111.4 82.67,111.7 82.69,112.0 82.70,112.3 82.71,112.6 82.73,112.9 82.74,113.2 82.75,113.5 82.76,113.8 82.78,114.1 82.79,114.4 82.80,114.7 82.81,115.1 82.83,115.4 82.84,115.7 82.85,116.1 82.87,116.4 82.88,116.7 82.89,117.1 82.91,117.4 82.92,117.8 82.93,118.1 82.95,118.5 82.96,118.8 82.97,119.2 82.99,119.5 83.00,119.9 83.01,120.2 83.03,120.6 83.04,121.0 83.05,121.3 83.07,121.7 83.08,122.1 83.10,122.4 83.11,122.8 83.12,123.2 83.14,123.6 83.15,123.9 83.16,124.3 83.18,124.7 83.19,125.1 83.21,125.4 83.22,125.8 83.23,126.2 83.25,126.6 83.26,127.0 83.28,127.3 83.29,127.7 83.31,128.1 83.32,128.5 83.33,128.9 83.35,129.2 83.36,129.6 83.38,130.0 83.39,130.4 83.41,130.8 83.42,131.1 83.44,131.5 83.45,131.9 83.47,132.3 83.48,132.6 83.50,133.0 83.51,133.4 83.53,133.8 83.54,134.1 83.56,134.5 83.57,134.9 83.59,135.2 83.60,135.6 83.62,136.0 83.63,136.3 83.65,136.7 83.66,137.1 83.68,137.4 83.69,137.8 83.71,138.1 83.72,138.5 83.74,138.9 83.75,139.2 83.77,139.6 83.79,139.9 83.80,140.2 83.82,140.6 83.83,140.9 83.85,141.3 83.86,141.6 83.88,141.9 83.90,142.3 83.91,142.6 83.93,142.9 83.94,143.2 83.96,143.5 83.98,143.8 83.99,144.2 84.01,144.5 84.03,144.8 84.04,145.1 84.06,145.4 84.07,145.7 84.09,145.9 84.11,146.2 84.12,146.5 84.14,146.8 84.16,147.1 84.17,147.3 84.19,147.6 84.21,147.9 84.22,148.1 84.24,148.4 84.26,148.6 84.27,148.9 84.29,149.1 84.31,149.3 84.33,149.6 84.34,149.8 84.36,150.0 84.42,150.7 84.48,151.4 84.54,152.0 84.60,152.6 84.66,153.2 84.72,153.8 84.78,154.3 84.84,154.8 84.91,155.2 84.97,155.7 85.03,156.1 85.10,156.5 85.16,156.9 85.23,157.3 85.29,157.6 85.36,157.9 85.43,158.2 85.49,158.5 85.56,158.8 85.63,159.0 85.70,159.3 85.77,159.5 85.83,159.7 85.90,159.9 85.97,160.1 86.04,160.3 86.11,160.4 86.18,160.5 86.24,160.7 86.31,160.8 86.38,160.9 86.45,161.0 86.52,161.2 86.59,161.5 86.65,161.9 86.72,161.8 87.06,162.1 87.40,162.8 87.73,163.5 88.07,163.4 88.43,163.7 88.80,163.5 89.20,163.9 89.46,163.1 89.73,163.4 90.01,163.6 90.29,165.1 90.58,166.5 90.87,166.3 91.18,164.7 91.49,164.2 91.82,164.9 92.15,164.0 92.50,162.6 92.66,159.9 92.83,160.3 93.00,159.4 93.17,157.9 93.34,156.1 93.51,155.8 93.69,155.4 93.86,156.0 94.04,153.6 94.22,152.1 94.41,152.5 94.59,150.9 94.78,148.1 94.97,147.9 95.16,148.9 95.36,149.2 95.56,149.8 95.76,149.1 95.96,149.4 96.16,150.6 96.37,150.2 96.58,150.1 96.79,148.2 97.00,146.3 97.18,146.9 97.36,147.9 97.53,146.1 97.71,146.6 97.89,147.5 98.07,147.1 98.25,145.4 98.43,144.2 98.61,142.4 98.80,142.2 98.98,142.7 99.17,142.7 99.36,142.1 99.55,141.8 99.75,143.3 99.94,143.7 100.14,142.3 100.34,142.1 100.55,142.9 100.76,144.4 100.97,145.2 101.18,144.0 101.40,144.5 101.62,144.3 101.85,144.6 102.08,144.5 102.32,144.6 102.56,142.3 102.80,143.6 102.96,144.3 103.12,143.3 103.28,143.8 103.45,144.3 103.62,144.6 103.79,143.9 103.97,142.5 104.14,141.4 104.32,143.1 104.51,143.7 104.69,142.7 104.88,143.2 105.07,143.2 105.26,142.1 105.45,143.2 105.64,144.0 105.83,142.0 106.03,142.6 106.22,142.2 106.42,140.9 106.62,139.5 106.81,139.2 107.01,139.1 107.21,139.8 107.41,136.7 107.61,136.7 107.80,136.8 108.00,138.0 108.20,138.6 108.39,139.3 108.59,139.3 108.78,138.0 108.97,139.2 109.16,137.4 109.35,137.3 109.54,138.2 109.73,139.7 109.91,138.3 110.09,137.8 110.27,137.6 110.45,137.5 110.63,136.1 110.80,137.8 110.97,137.5 111.14,136.3 111.30,136.2 111.57,136.4 111.84,135.8 112.10,135.7 112.36,136.3 112.61,134.8 112.86,133.5 113.11,132.1 113.35,133.6 113.59,135.0 113.82,133.7 114.06,132.5 114.29,132.2 114.52,130.5 114.74,129.5 114.97,130.0 115.20,128.0 115.42,128.1 115.64,126.7 115.87,126.8 116.09,126.2 116.32,125.7 116.54,127.1 116.77,124.3 117.00,123.2 117.23,121.9 117.46,121.7 117.70,123.9 117.94,123.9 118.18,123.1 118.42,124.2 118.67,123.7 118.91,124.0 119.16,121.7 119.41,121.4 119.66,121.0 119.91,121.5 120.16,122.2 120.41,120.2 120.66,122.5 120.91,121.5 121.15,120.7 121.40,120.5 121.64,119.0 121.88,118.9 122.12,118.5 122.36,115.9 122.59,117.3 122.82,117.8 123.04,119.4 123.26,119.9 123.48,119.9 123.69,119.9 123.90,120.7 124.10,123.1 124.50,122.0 124.88,123.3 125.24,123.3 125.58,120.4 125.91,119.7 126.23,119.4 126.54,120.3 126.84,120.4 127.15,119.8 127.45,120.3 127.76,119.0 128.07,120.3 128.40,121.1 128.56,121.0 128.72,119.4 128.89,118.9 129.06,119.2 129.23,118.9 129.40,119.3 129.57,121.9 129.74,124.2 129.91,125.1 130.09,125.9 130.26,127.2 130.43,126.0 130.60,125.1 130.77,126.5 130.94,125.4 131.11,126.7 131.27,126.5 131.43,127.2 131.59,127.3 131.74,128.4 131.89,129.0 132.04,129.1 132.18,130.2 132.32,130.3 132.45,130.6 132.58,129.7 132.70,129.8 132.86,131.5 133.00,132.6 133.14,129.8 133.28,129.7 133.40,127.1 133.52,127.5 133.64,128.5 133.75,128.6 133.85,128.9 133.95,129.1 134.05,129.6 134.14,131.0 134.23,130.2 134.31,130.1 134.40,131.9 134.48,132.2 134.56,130.1 134.64,130.1 134.72,132.6 134.80,133.4 134.93,135.3 135.05,136.3 135.17,136.4 135.28,136.8 135.38,137.0 135.48,137.5 135.57,138.1 135.65,137.2 135.73,137.7 135.79,137.3 135.85,136.3 135.90,135.5" fill="none" stroke="#231815" stroke-width="1.3" stroke-linejoin="round" />
<path d="M77.30,30.4 77.30,31.0 77.32,31.2 77.33,31.4 77.35,31.6 77.37,31.8 77.39,32.0 77.42,32.2 77.44,32.5 77.46,32.7 77.49,33.0 77.52,33.3 77.54,33.6 77.57,33.9 77.60,34.2 77.63,34.5 77.66,34.8 77.69,35.2 77.72,35.5 77.76,35.8 77.79,36.2 77.82,36.6 77.86,36.9 77.89,37.3 77.93,37.7 77.96,38.0 78.00,38.4 78.03,38.8 78.07,39.2 78.11,39.6 78.14,40.0 78.18,40.4 78.21,40.8 78.25,41.2 78.29,41.6 78.32,42.0 78.36,42.4 78.39,42.8 78.43,43.2 78.47,43.6 78.50,44.0 78.53,44.3 78.55,44.6 78.58,44.9 78.60,45.2 78.63,45.5 78.65,45.7 78.68,46.0 78.71,46.3 78.73,46.6 78.76,46.9 78.79,47.2 78.82,47.5 78.84,47.9 78.87,48.2 78.90,48.5 78.93,48.8 78.95,49.1 78.98,49.4 79.01,49.7 79.04,50.0 79.07,50.4 79.09,50.7 79.12,51.0 79.15,51.3 79.18,51.7 79.21,52.0 79.24,52.3 79.27,52.6 79.29,53.0 79.32,53.3 79.35,53.7 79.38,54.0 79.41,54.3 79.44,54.7 79.47,55.0 79.50,55.4 79.52,55.7 79.55,56.1 79.58,56.4 79.61,56.8 79.64,57.1 79.67,57.5 79.70,57.9 79.72,58.2 79.75,58.6 79.78,59.0 79.81,59.3 79.84,59.7 79.86,60.1 79.89,60.5 79.92,60.8 79.95,61.2 79.97,61.6 80.00,62.0 80.02,62.3 80.04,62.6 80.06,62.9 80.08,63.2 80.10,63.5 80.12,63.8 80.14,64.1 80.16,64.4 80.18,64.7 80.20,65.0 80.22,65.3 80.24,65.7 80.26,66.0 80.28,66.3 80.30,66.6 80.32,66.9 80.34,67.3 80.36,67.6 80.38,67.9 80.40,68.2 80.42,68.6 80.44,68.9 80.46,69.2 80.48,69.6 80.50,69.9 80.52,70.2 80.54,70.6 80.56,70.9 80.58,71.2 80.60,71.6 80.62,71.9 80.64,72.3 80.66,72.6 80.68,72.9 80.70,73.3 80.72,73.6 80.74,74.0 80.76,74.3 80.78,74.7 80.80,75.0 80.82,75.3 80.84,75.7 80.86,76.0 80.87,76.4 80.89,76.7 80.91,77.1 80.93,77.4 80.95,77.8 80.97,78.1 80.99,78.5 81.01,78.8 81.03,79.2 81.05,79.5 81.07,79.9 81.09,80.2 81.10,80.6 81.12,80.9 81.14,81.2 81.16,81.6 81.18,81.9 81.20,82.3 81.22,82.6 81.24,83.0 81.25,83.3 81.27,83.6 81.29,84.0 81.31,84.3 81.33,84.7 81.35,85.0 81.36,85.3 81.38,85.7 81.40,86.0 81.42,86.3 81.44,86.7 81.45,87.0 81.47,87.3 81.49,87.6 81.50,87.9 81.52,88.3 81.54,88.6 81.55,88.9 81.57,89.2 81.59,89.5 81.60,89.8 81.62,90.1 81.63,90.4 81.65,90.7 81.66,91.0 81.68,91.3 81.69,91.6 81.71,91.9 81.72,92.2 81.74,92.5 81.75,92.8 81.77,93.1 81.78,93.4 81.80,93.7 81.81,94.0 81.83,94.3 81.84,94.6 81.86,94.9 81.87,95.2 81.89,95.5 81.90,95.8 81.91,96.1 81.93,96.4 81.94,96.7 81.96,97.0 81.97,97.3 81.99,97.6 82.00,97.9 82.02,98.2 82.03,98.5 82.05,98.9 82.06,99.2 82.08,99.5 82.10,99.8 82.11,100.2 82.13,100.5 82.14,100.8 82.16,101.1 82.18,101.5 82.19,101.8 82.21,102.2 82.23,102.5 82.24,102.9 82.26,103.2 82.28,103.6 82.30,104.0 82.32,104.3 82.33,104.7 82.35,105.1 82.37,105.5 82.39,105.8 82.41,106.2 82.43,106.6 82.45,107.0 82.47,107.4 82.49,107.9 82.51,108.3 82.53,108.7 82.56,109.1 82.58,109.6 82.60,110.0 82.61,110.3 82.63,110.5 82.64,110.8 82.65,111.1 82.67,111.4 82.68,111.7 82.70,112.0 82.71,112.3 82.73,112.6 82.74,112.9 82.75,113.2 82.77,113.5 82.78,113.8 82.80,114.1 82.81,114.4 82.83,114.7 82.84,115.1 82.86,115.4 82.87,115.7 82.89,116.1 82.90,116.4 82.92,116.7 82.93,117.1 82.95,117.4 82.96,117.8 82.98,118.1 82.99,118.5 83.01,118.8 83.02,119.2 83.04,119.5 83.06,119.9 83.07,120.2 83.09,120.6 83.10,121.0 83.12,121.3 83.14,121.7 83.15,122.1 83.17,122.4 83.18,122.8 83.20,123.2 83.22,123.6 83.23,123.9 83.25,124.3 83.27,124.7 83.28,125.1 83.30,125.4 83.32,125.8 83.33,126.2 83.35,126.6 83.37,127.0 83.38,127.3 83.40,127.7 83.42,128.1 83.44,128.5 83.45,128.9 83.47,129.2 83.49,129.6 83.50,130.0 83.52,130.4 83.54,130.8 83.56,131.1 83.57,131.5 83.59,131.9 83.61,132.3 83.63,132.6 83.64,133.0 83.66,133.4 83.68,133.8 83.70,134.1 83.72,134.5 83.73,134.9 83.75,135.2 83.77,135.6 83.79,136.0 83.81,136.3 83.82,136.7 83.84,137.1 83.86,137.4 83.88,137.8 83.90,138.1 83.92,138.5 83.93,138.9 83.95,139.2 83.97,139.6 83.99,139.9 84.01,140.2 84.03,140.6 84.05,140.9 84.06,141.3 84.08,141.6 84.10,141.9 84.12,142.3 84.14,142.6 84.16,142.9 84.18,143.2 84.20,143.5 84.21,143.8 84.23,144.2 84.25,144.5 84.27,144.8 84.29,145.1 84.31,145.4 84.33,145.7 84.35,145.9 84.37,146.2 84.39,146.5 84.41,146.8 84.43,147.1 84.45,147.3 84.46,147.6 84.48,147.9 84.50,148.1 84.52,148.4 84.54,148.6 84.56,148.9 84.58,149.1 84.60,149.3 84.62,149.6 84.64,149.8 84.66,150.0 84.73,150.7 84.79,151.4 84.86,152.0 84.93,152.6 85.00,153.2 85.07,153.8 85.14,154.3 85.21,154.8 85.28,155.2 85.35,155.7 85.42,156.1 85.49,156.5 85.57,156.9 85.64,157.3 85.71,157.6 85.79,157.9 85.86,158.2 85.94,158.5 86.01,158.7 86.09,158.9 86.17,159.0 86.24,159.1 86.32,159.2 86.39,159.2 86.47,159.4 86.55,159.4 86.63,159.3 86.70,159.5 86.78,159.8 86.86,160.0 86.93,160.3 87.01,160.6 87.09,160.8 87.17,160.7 87.24,161.2 87.32,161.9 87.67,162.9 88.04,162.8 88.41,163.5 88.78,164.8 89.15,165.1 89.52,163.4 89.87,163.7 90.20,163.1 90.31,161.9 90.40,160.1 90.50,160.7 90.59,160.7 90.68,159.9 90.76,159.0 90.85,159.4 90.93,158.5 91.01,159.8 91.09,158.5 91.17,155.9 91.25,154.9 91.33,153.9 91.42,154.9 91.50,154.6 91.59,156.4 91.69,156.3 91.78,156.2 91.89,153.4 92.00,152.6 92.11,153.5 92.23,153.8 92.36,154.4 92.50,154.4 92.62,154.0 92.73,155.1 92.86,155.5 92.98,154.9 93.11,153.4 93.24,151.6 93.37,150.9 93.51,149.6 93.65,151.2 93.79,151.3 93.93,152.2 94.08,150.8 94.23,150.6 94.38,150.9 94.53,149.1 94.69,149.4 94.84,148.3 95.00,146.2 95.16,147.4 95.32,147.7 95.49,148.3 95.65,149.0 95.81,149.9 95.98,150.1 96.15,149.7 96.32,148.5 96.49,147.9 96.66,149.2 96.83,147.1 97.00,145.9 97.15,144.7 97.30,145.3 97.45,145.4 97.61,147.0 97.76,146.3 97.91,145.6 98.06,145.3 98.22,145.9 98.37,143.6 98.53,143.1 98.68,141.0 98.84,140.9 99.00,142.2 99.16,141.1 99.32,142.2 99.49,142.2 99.65,141.5 99.82,140.2 99.98,138.0 100.15,138.2 100.33,136.5 100.50,135.0 100.68,135.3 100.86,134.8 101.04,135.2 101.22,132.9 101.41,133.7 101.60,132.9 101.79,131.2 101.99,130.4 102.18,129.3 102.39,130.0 102.59,130.9 102.80,130.6 102.96,132.0 103.12,129.5 103.28,129.5 103.45,130.5 103.62,129.5 103.79,129.1 103.97,127.2 104.14,128.4 104.32,128.0 104.51,128.8 104.69,127.8 104.88,128.1 105.07,127.7 105.26,127.1 105.45,127.3 105.64,127.1 105.83,125.9 106.03,128.1 106.22,126.9 106.42,126.1 106.62,126.6 106.81,124.9 107.01,126.7 107.21,124.8 107.41,124.0 107.61,123.1 107.80,123.5 108.00,123.4 108.20,123.4 108.39,122.4 108.59,123.9 108.78,123.0 108.97,122.3 109.16,121.6 109.35,123.8 109.54,125.3 109.73,126.1 109.91,126.3 110.09,126.3 110.27,127.9 110.45,127.6 110.63,128.3 110.80,126.0 110.97,125.2 111.14,126.4 111.30,125.1 111.57,122.6 111.84,122.5 112.10,123.4 112.36,123.7 112.61,121.3 112.86,120.1 113.11,119.1 113.35,118.5 113.59,117.4 113.82,117.8 114.06,118.6 114.29,118.6 114.52,118.7 114.74,118.8 114.97,117.5 115.20,118.5 115.42,118.7 115.64,120.7 115.87,119.9 116.09,117.6 116.32,119.0 116.54,118.5 116.77,117.3 117.00,118.1 117.23,118.5 117.46,117.0 117.70,114.7 117.94,114.0 118.18,116.2 118.42,115.7 118.67,116.0 118.91,116.6 119.16,115.6 119.41,113.1 119.66,114.6 119.91,116.4 120.16,115.8 120.41,116.5 120.66,116.0 120.91,114.6 121.15,114.2 121.40,113.9 121.64,115.1 121.88,114.9 122.12,114.5 122.36,114.3 122.59,113.5 122.82,113.3 123.04,113.8 123.26,114.0 123.48,110.8 123.69,108.8 123.90,109.8 124.10,110.4 124.50,110.8 124.88,111.6 125.24,109.8 125.58,109.7 125.91,109.6 126.23,108.3 126.54,108.3 126.84,109.0 127.15,108.9 127.45,107.3 127.76,107.9 128.07,106.2 128.40,109.0 128.56,109.9 128.72,107.9 128.89,107.8 129.06,108.7 129.23,108.5 129.40,111.5 129.57,110.7 129.74,110.6 129.91,113.0 130.09,111.1 130.26,111.8 130.43,111.8 130.60,113.0 130.77,112.0 130.94,113.9 131.11,112.1 131.27,111.6 131.43,112.5 131.59,110.8 131.74,111.5 131.89,111.3 132.04,109.3 132.18,110.2 132.32,110.2 132.45,110.2 132.58,113.0 132.70,112.2 132.86,112.3 133.00,112.7 133.14,114.6 133.28,115.3 133.40,116.1 133.52,115.6 133.64,118.0 133.75,120.1 133.85,119.4 133.95,121.0 134.05,121.5 134.14,121.3 134.23,121.4 134.31,120.9 134.40,120.0 134.48,119.4 134.56,119.7 134.64,120.5 134.72,119.7 134.80,119.4 134.93,118.6 135.05,120.5 135.17,119.1 135.28,117.8 135.38,116.5 135.48,117.0 135.57,117.1 135.65,118.6 135.73,118.8 135.79,119.7 135.85,120.2 135.90,120.3" fill="none" stroke="#231815" stroke-width="1.3" stroke-linejoin="round" />
<path d="M77.30,30.4 77.30,31.0 77.32,31.2 77.33,31.4 77.35,31.6 77.37,31.8 77.39,32.0 77.42,32.2 77.44,32.5 77.46,32.7 77.49,33.0 77.52,33.3 77.54,33.6 77.57,33.9 77.60,34.2 77.63,34.5 77.66,34.8 77.69,35.2 77.72,35.5 77.76,35.8 77.79,36.2 77.82,36.6 77.86,36.9 77.89,37.3 77.93,37.7 77.96,38.0 78.00,38.4 78.03,38.8 78.07,39.2 78.11,39.6 78.14,40.0 78.18,40.4 78.21,40.8 78.25,41.2 78.29,41.6 78.32,42.0 78.36,42.4 78.39,42.8 78.43,43.2 78.47,43.6 78.50,44.0 78.53,44.3 78.55,44.6 78.58,44.9 78.60,45.2 78.63,45.5 78.65,45.7 78.68,46.0 78.71,46.3 78.73,46.6 78.76,46.9 78.79,47.2 78.82,47.5 78.84,47.9 78.87,48.2 78.90,48.5 78.93,48.8 78.95,49.1 78.98,49.4 79.01,49.7 79.04,50.0 79.07,50.4 79.09,50.7 79.12,51.0 79.15,51.3 79.18,51.7 79.21,52.0 79.24,52.3 79.27,52.6 79.29,53.0 79.32,53.3 79.35,53.7 79.38,54.0 79.41,54.3 79.44,54.7 79.47,55.0 79.50,55.4 79.52,55.7 79.55,56.1 79.58,56.4 79.61,56.8 79.64,57.1 79.67,57.5 79.70,57.9 79.72,58.2 79.75,58.6 79.78,59.0 79.81,59.3 79.84,59.7 79.86,60.1 79.89,60.5 79.92,60.8 79.95,61.2 79.97,61.6 80.00,62.0 80.02,62.3 80.04,62.6 80.06,62.9 80.08,63.2 80.10,63.5 80.12,63.8 80.14,64.1 80.16,64.4 80.18,64.7 80.20,65.0 80.22,65.3 80.24,65.7 80.26,66.0 80.28,66.3 80.30,66.6 80.32,66.9 80.34,67.3 80.36,67.6 80.38,67.9 80.40,68.2 80.42,68.6 80.44,68.9 80.46,69.2 80.48,69.6 80.50,69.9 80.52,70.2 80.54,70.6 80.56,70.9 80.58,71.2 80.60,71.6 80.62,71.9 80.64,72.3 80.66,72.6 80.68,72.9 80.70,73.3 80.72,73.6 80.74,74.0 80.76,74.3 80.78,74.7 80.80,75.0 80.82,75.3 80.84,75.7 80.86,76.0 80.87,76.4 80.89,76.7 80.91,77.1 80.93,77.4 80.95,77.8 80.97,78.1 80.99,78.5 81.01,78.8 81.03,79.2 81.05,79.5 81.07,79.9 81.09,80.2 81.10,80.6 81.12,80.9 81.14,81.2 81.16,81.6 81.18,81.9 81.20,82.3 81.22,82.6 81.24,83.0 81.25,83.3 81.27,83.6 81.29,84.0 81.31,84.3 81.33,84.7 81.35,85.0 81.36,85.3 81.38,85.7 81.40,86.0 81.42,86.3 81.44,86.7 81.45,87.0 81.47,87.3 81.49,87.6 81.50,87.9 81.52,88.3 81.54,88.6 81.55,88.9 81.57,89.2 81.58,89.5 81.60,89.8 81.61,90.1 81.63,90.4 81.64,90.7 81.66,91.0 81.67,91.3 81.69,91.6 81.70,91.9 81.72,92.2 81.73,92.5 81.75,92.8 81.76,93.1 81.77,93.4 81.79,93.7 81.80,94.0 81.82,94.3 81.83,94.6 81.84,94.9 81.86,95.2 81.87,95.5 81.89,95.8 81.90,96.1 81.92,96.4 81.93,96.7 81.94,97.0 81.96,97.3 81.97,97.6 81.99,97.9 82.00,98.2 82.02,98.5 82.03,98.9 82.05,99.2 82.06,99.5 82.08,99.8 82.09,100.2 82.11,100.5 82.13,100.8 82.14,101.1 82.16,101.5 82.18,101.8 82.19,102.2 82.21,102.5 82.23,102.9 82.25,103.2 82.26,103.6 82.28,104.0 82.30,104.3 82.32,104.7 82.34,105.1 82.36,105.5 82.38,105.8 82.40,106.2 82.42,106.6 82.44,107.0 82.46,107.4 82.48,107.9 82.51,108.3 82.53,108.7 82.55,109.1 82.58,109.6 82.60,110.0 82.61,110.3 82.63,110.5 82.64,110.8 82.66,111.1 82.67,111.4 82.69,111.7 82.70,112.0 82.72,112.3 82.74,112.6 82.75,112.9 82.77,113.2 82.78,113.5 82.80,113.8 82.81,114.1 82.83,114.4 82.85,114.7 82.86,115.1 82.88,115.4 82.90,115.7 82.91,116.1 82.93,116.4 82.95,116.7 82.96,117.1 82.98,117.4 83.00,117.8 83.01,118.1 83.03,118.5 83.05,118.8 83.07,119.2 83.08,119.5 83.10,119.9 83.12,120.2 83.14,120.6 83.15,121.0 83.17,121.3 83.19,121.7 83.21,122.1 83.23,122.4 83.24,122.8 83.26,123.2 83.28,123.6 83.30,123.9 83.32,124.3 83.34,124.7 83.36,125.1 83.37,125.4 83.39,125.8 83.41,126.2 83.43,126.6 83.45,127.0 83.47,127.3 83.49,127.7 83.51,128.1 83.53,128.5 83.55,128.9 83.57,129.2 83.58,129.6 83.60,130.0 83.62,130.4 83.64,130.8 83.66,131.1 83.68,131.5 83.70,131.9 83.72,132.3 83.74,132.6 83.76,133.0 83.78,133.4 83.80,133.8 83.82,134.1 83.84,134.5 83.86,134.9 83.88,135.2 83.90,135.6 83.92,136.0 83.95,136.3 83.97,136.7 83.99,137.1 84.01,137.4 84.03,137.8 84.05,138.1 84.07,138.5 84.09,138.9 84.11,139.2 84.13,139.6 84.15,139.9 84.17,140.2 84.19,140.6 84.21,140.9 84.24,141.3 84.26,141.6 84.28,141.9 84.30,142.3 84.32,142.6 84.34,142.9 84.36,143.2 84.38,143.5 84.41,143.8 84.43,144.2 84.45,144.5 84.47,144.8 84.49,145.1 84.51,145.4 84.53,145.7 84.55,145.9 84.58,146.2 84.60,146.5 84.62,146.8 84.64,147.1 84.66,147.3 84.68,147.6 84.71,147.9 84.73,148.1 84.75,148.4 84.77,148.6 84.79,148.9 84.81,149.1 84.84,149.3 84.86,149.6 84.88,149.8 84.90,150.0 84.97,150.7 85.04,151.3 85.11,152.0 85.19,152.6 85.26,153.1 85.33,153.7 85.41,154.2 85.48,154.7 85.56,155.2 85.63,155.6 85.71,156.0 85.79,156.4 85.86,156.8 85.94,157.2 86.02,157.5 86.10,158.0 86.18,158.4 86.25,158.9 86.33,159.2 86.41,159.7 86.49,159.9 86.57,160.0 86.65,160.3 86.73,160.3 86.82,160.6 86.90,160.8 86.98,160.9 87.06,161.0 87.14,160.8 87.22,161.1 87.31,160.9 87.39,160.8 87.47,161.2 87.55,161.9 87.64,162.4 87.72,163.2 87.80,163.9 88.15,163.6 88.52,165.2 88.91,165.2 89.29,165.2 89.68,165.7 90.05,166.7 90.40,166.1 90.72,167.0 91.00,167.5 91.36,166.4 91.58,165.6 91.77,164.8 92.04,164.4 92.50,163.2 92.64,162.9 92.79,163.3 92.95,162.6 93.12,161.7 93.29,162.6 93.48,162.4 93.67,161.2 93.86,161.0 94.06,160.0 94.27,159.5 94.48,161.9 94.70,159.9 94.92,159.8 95.14,159.3 95.37,160.6 95.60,159.7 95.83,160.4 96.06,160.8 96.30,160.1 96.53,157.4 96.77,156.1 97.00,154.7 97.19,154.8 97.38,153.7 97.57,154.9 97.76,153.5 97.96,154.6 98.15,154.1 98.34,152.7 98.54,151.9 98.74,153.8 98.94,153.1 99.14,152.9 99.34,152.3 99.55,153.9 99.75,155.8 99.97,155.4 100.18,155.6 100.40,157.0 100.62,153.7 100.84,152.2 101.07,151.7 101.30,152.7 101.54,152.9 101.78,152.1 102.03,151.2 102.28,151.1 102.54,150.2 102.80,150.3 102.96,150.8 103.12,148.0 103.28,150.3 103.45,148.7 103.62,146.9 103.79,148.7 103.97,150.0 104.14,148.9 104.32,148.0 104.51,146.9 104.69,146.1 104.88,145.9 105.07,144.7 105.26,144.5 105.45,144.2 105.64,144.6 105.83,144.8 106.03,142.1 106.22,141.2 106.42,140.8 106.62,140.0 106.81,139.3 107.01,141.5 107.21,141.1 107.41,142.0 107.61,142.6 107.80,141.5 108.00,142.2 108.20,142.2 108.39,142.9 108.59,140.5 108.78,138.8 108.97,138.8 109.16,139.7 109.35,138.1 109.54,137.3 109.73,137.4 109.91,135.8 110.09,134.5 110.27,135.6 110.45,136.2 110.63,135.8 110.80,136.4 110.97,136.6 111.14,134.8 111.30,137.2 111.57,137.6 111.84,137.7 112.10,136.2 112.36,138.0 112.61,137.0 112.86,136.4 113.11,137.5 113.35,138.3 113.59,136.4 113.82,136.3 114.06,135.5 114.29,135.0 114.52,133.5 114.74,134.3 114.97,131.9 115.20,132.6 115.42,132.6 115.64,132.6 115.87,131.9 116.09,133.1 116.32,132.8 116.54,130.8 116.77,129.8 117.00,129.2 117.23,127.7 117.46,128.3 117.70,127.4 117.94,126.8 118.18,126.4 118.42,125.0 118.67,122.2 118.91,121.9 119.16,120.9 119.41,120.4 119.66,118.7 119.91,119.0 120.16,118.7 120.41,119.2 120.66,119.1 120.91,117.9 121.15,116.2 121.40,116.2 121.64,116.8 121.88,117.1 122.12,119.5 122.36,121.9 122.59,121.9 122.82,123.0 123.04,123.6 123.26,124.1 123.48,122.6 123.69,125.1 123.90,123.1 124.10,123.6 124.50,124.6 124.88,125.8 125.24,124.3 125.58,123.5 125.91,122.3 126.23,119.7 126.54,119.2 126.84,118.5 127.15,118.1 127.45,118.6 127.76,118.0 128.07,119.3 128.40,117.3 128.56,119.3 128.72,119.3 128.89,119.3 129.06,118.6 129.23,119.0 129.40,118.6 129.57,119.4 129.74,121.2 129.91,122.4 130.09,122.6 130.26,123.5 130.43,121.9 130.60,121.3 130.77,120.5 130.94,120.8 131.11,119.5 131.27,118.4 131.43,119.0 131.59,119.4 131.74,119.0 131.89,122.0 132.04,122.3 132.18,121.8 132.32,121.7 132.45,121.8 132.58,123.3 132.70,123.7 132.86,124.8 133.00,125.7 133.14,126.0 133.28,128.8 133.40,129.3 133.52,128.6 133.64,129.8 133.75,131.9 133.85,131.2 133.95,131.6 134.05,134.0 134.14,133.4 134.23,134.5 134.31,134.2 134.40,135.5 134.48,136.6 134.56,136.6 134.64,137.0 134.72,135.2 134.80,136.3 134.93,136.0 135.05,136.6 135.17,135.2 135.28,136.4 135.38,137.9 135.48,137.4 135.57,137.9 135.65,137.6 135.73,138.2 135.79,138.8 135.85,139.7 135.90,139.7" fill="none" stroke="#231815" stroke-width="1.3" stroke-linejoin="round" />
<path d="M77.30,30.4 77.30,31.0 77.32,31.2 77.33,31.4 77.35,31.6 77.37,31.8 77.39,32.0 77.42,32.2 77.44,32.5 77.46,32.7 77.49,33.0 77.52,33.3 77.54,33.6 77.57,33.9 77.60,34.2 77.63,34.5 77.66,34.8 77.69,35.2 77.72,35.5 77.76,35.8 77.79,36.2 77.82,36.6 77.86,36.9 77.89,37.3 77.93,37.7 77.96,38.0 78.00,38.4 78.03,38.8 78.07,39.2 78.11,39.6 78.14,40.0 78.18,40.4 78.21,40.8 78.25,41.2 78.29,41.6 78.32,42.0 78.36,42.4 78.39,42.8 78.43,43.2 78.47,43.6 78.50,44.0 78.53,44.3 78.55,44.6 78.58,44.9 78.60,45.2 78.63,45.5 78.65,45.7 78.68,46.0 78.71,46.3 78.73,46.6 78.76,46.9 78.79,47.2 78.82,47.5 78.84,47.9 78.87,48.2 78.90,48.5 78.93,48.8 78.95,49.1 78.98,49.4 79.01,49.7 79.04,50.0 79.07,50.4 79.09,50.7 79.12,51.0 79.15,51.3 79.18,51.7 79.21,52.0 79.24,52.3 79.27,52.6 79.29,53.0 79.32,53.3 79.35,53.7 79.38,54.0 79.41,54.3 79.44,54.7 79.47,55.0 79.50,55.4 79.52,55.7 79.55,56.1 79.58,56.4 79.61,56.8 79.64,57.1 79.67,57.5 79.70,57.9 79.72,58.2 79.75,58.6 79.78,59.0 79.81,59.3 79.84,59.7 79.86,60.1 79.89,60.5 79.92,60.8 79.95,61.2 79.97,61.6 80.00,62.0 80.02,62.3 80.04,62.6 80.06,62.9 80.08,63.2 80.10,63.5 80.12,63.8 80.14,64.1 80.16,64.4 80.18,64.7 80.20,65.0 80.22,65.3 80.24,65.7 80.26,66.0 80.28,66.3 80.30,66.6 80.32,66.9 80.34,67.3 80.36,67.6 80.38,67.9 80.40,68.2 80.42,68.6 80.44,68.9 80.46,69.2 80.48,69.6 80.50,69.9 80.52,70.2 80.54,70.6 80.56,70.9 80.58,71.2 80.60,71.6 80.62,71.9 80.64,72.3 80.66,72.6 80.68,72.9 80.70,73.3 80.72,73.6 80.74,74.0 80.76,74.3 80.78,74.7 80.80,75.0 80.82,75.3 80.84,75.7 80.86,76.0 80.87,76.4 80.89,76.7 80.91,77.1 80.93,77.4 80.95,77.8 80.97,78.1 80.99,78.5 81.01,78.8 81.03,79.2 81.05,79.5 81.07,79.9 81.09,80.2 81.10,80.6 81.12,80.9 81.14,81.2 81.16,81.6 81.18,81.9 81.20,82.3 81.22,82.6 81.24,83.0 81.25,83.3 81.27,83.6 81.29,84.0 81.31,84.3 81.33,84.7 81.35,85.0 81.36,85.3 81.38,85.7 81.40,86.0 81.42,86.3 81.44,86.7 81.45,87.0 81.47,87.3 81.49,87.6 81.50,87.9 81.52,88.3 81.54,88.6 81.55,88.9 81.57,89.2 81.59,89.5 81.60,89.8 81.62,90.1 81.63,90.4 81.65,90.7 81.67,91.0 81.68,91.3 81.70,91.6 81.71,91.9 81.73,92.2 81.74,92.5 81.76,92.8 81.77,93.1 81.79,93.4 81.80,93.7 81.82,94.0 81.83,94.3 81.85,94.6 81.86,94.9 81.88,95.2 81.89,95.5 81.91,95.8 81.92,96.1 81.94,96.4 81.95,96.7 81.97,97.0 81.98,97.3 82.00,97.6 82.01,97.9 82.03,98.2 82.04,98.5 82.06,98.9 82.07,99.2 82.09,99.5 82.10,99.8 82.12,100.2 82.14,100.5 82.15,100.8 82.17,101.1 82.19,101.5 82.20,101.8 82.22,102.2 82.24,102.5 82.25,102.9 82.27,103.2 82.29,103.6 82.31,104.0 82.32,104.3 82.34,104.7 82.36,105.1 82.38,105.5 82.40,105.8 82.42,106.2 82.44,106.6 82.45,107.0 82.47,107.4 82.49,107.9 82.52,108.3 82.54,108.7 82.56,109.1 82.58,109.6 82.60,110.0 82.61,110.3 82.63,110.5 82.64,110.8 82.65,111.1 82.67,111.4 82.68,111.7 82.69,112.0 82.71,112.3 82.72,112.6 82.73,112.9 82.75,113.2 82.76,113.5 82.78,113.8 82.79,114.1 82.80,114.4 82.82,114.7 82.83,115.1 82.85,115.4 82.86,115.7 82.87,116.1 82.89,116.4 82.90,116.7 82.92,117.1 82.93,117.4 82.95,117.8 82.96,118.1 82.97,118.5 82.99,118.8 83.00,119.2 83.02,119.5 83.03,119.9 83.05,120.2 83.06,120.6 83.08,121.0 83.09,121.3 83.11,121.7 83.12,122.1 83.14,122.4 83.15,122.8 83.17,123.2 83.18,123.6 83.20,123.9 83.22,124.3 83.23,124.7 83.25,125.1 83.26,125.4 83.28,125.8 83.29,126.2 83.31,126.6 83.33,127.0 83.34,127.3 83.36,127.7 83.37,128.1 83.39,128.5 83.41,128.9 83.42,129.2 83.44,129.6 83.45,130.0 83.47,130.4 83.49,130.8 83.50,131.1 83.52,131.5 83.54,131.9 83.55,132.3 83.57,132.6 83.58,133.0 83.60,133.4 83.62,133.8 83.63,134.1 83.65,134.5 83.67,134.9 83.69,135.2 83.70,135.6 83.72,136.0 83.74,136.3 83.75,136.7 83.77,137.1 83.79,137.4 83.80,137.8 83.82,138.1 83.84,138.5 83.86,138.9 83.87,139.2 83.89,139.6 83.91,139.9 83.93,140.2 83.94,140.6 83.96,140.9 83.98,141.3 84.00,141.6 84.01,141.9 84.03,142.3 84.05,142.6 84.07,142.9 84.08,143.2 84.10,143.5 84.12,143.8 84.14,144.2 84.16,144.5 84.17,144.8 84.19,145.1 84.21,145.4 84.23,145.7 84.25,145.9 84.26,146.2 84.28,146.5 84.30,146.8 84.32,147.1 84.34,147.3 84.35,147.6 84.37,147.9 84.39,148.1 84.41,148.4 84.43,148.6 84.45,148.9 84.47,149.1 84.48,149.3 84.50,149.6 84.52,149.8 84.54,150.0 84.60,150.7 84.67,151.4 84.73,152.0 84.79,152.6 84.86,153.2 84.93,153.8 84.99,154.3 85.06,154.8 85.13,155.2 85.20,155.7 85.27,156.1 85.34,156.5 85.41,156.9 85.48,157.2 85.55,157.6 85.62,157.9 85.69,158.2 85.76,158.5 85.83,158.7 85.91,159.0 85.98,159.2 86.05,159.4 86.12,159.6 86.20,159.8 86.27,160.2 86.34,160.5 86.42,160.8 86.49,161.3 86.57,161.4 86.64,161.5 86.71,162.1 86.79,162.3 86.86,162.5 86.93,162.9 87.01,162.4 87.08,162.9 87.41,164.2 87.75,165.8 88.09,166.3 88.43,166.8 88.77,165.1 89.12,164.8 89.46,163.9 89.80,162.8 89.93,163.1 90.05,161.4 90.17,159.0 90.29,158.9 90.41,157.2 90.52,156.8 90.63,157.1 90.75,156.8 90.86,156.7 90.98,155.4 91.10,155.1 91.22,154.4 91.34,154.2 91.47,156.1 91.60,153.5 91.73,153.0 91.87,152.3 92.02,153.8 92.17,153.9 92.33,151.3 92.50,153.3 92.63,151.9 92.76,152.1 92.90,151.4 93.04,149.7 93.18,149.6 93.32,150.7 93.47,151.6 93.62,150.8 93.77,148.7 93.92,149.8 94.08,149.6 94.23,149.6 94.39,149.0 94.56,148.5 94.72,150.1 94.89,148.9 95.05,149.5 95.22,148.6 95.39,150.7 95.57,150.9 95.74,151.6 95.92,150.8 96.09,150.8 96.27,149.2 96.45,150.1 96.63,149.9 96.82,148.5 97.00,148.2 97.16,149.2 97.31,149.8 97.47,148.7 97.62,147.9 97.78,148.6 97.94,147.8 98.10,146.0 98.26,145.9 98.42,146.8 98.58,146.1 98.74,145.9 98.90,146.8 99.06,144.3 99.23,145.0 99.40,146.2 99.56,144.4 99.74,142.9 99.91,142.7 100.08,142.9 100.26,143.2 100.44,142.0 100.62,142.5 100.80,141.9 100.99,141.3 101.18,139.0 101.37,137.9 101.56,136.5 101.76,135.6 101.96,135.9 102.17,134.8 102.37,133.1 102.59,134.8 102.80,135.5 102.96,135.8 103.12,135.0 103.28,135.5 103.45,135.2 103.62,135.3 103.79,135.0 103.97,135.3 104.14,136.3 104.32,137.5 104.51,136.9 104.69,137.3 104.88,136.6 105.07,136.8 105.26,138.8 105.45,137.0 105.64,135.1 105.83,133.5 106.03,133.7 106.22,132.6 106.42,132.6 106.62,131.2 106.81,130.5 107.01,131.2 107.21,130.0 107.41,129.7 107.61,129.3 107.80,129.2 108.00,129.6 108.20,128.5 108.39,125.8 108.59,126.4 108.78,126.8 108.97,126.0 109.16,127.1 109.35,127.1 109.54,125.7 109.73,126.5 109.91,127.1 110.09,126.4 110.27,126.4 110.45,124.7 110.63,123.8 110.80,124.7 110.97,124.1 111.14,124.6 111.30,125.6 111.57,126.4 111.84,124.4 112.10,125.8 112.36,124.0 112.61,123.7 112.86,125.2 113.11,123.8 113.35,123.9 113.59,123.0 113.82,122.0 114.06,122.8 114.29,122.8 114.52,121.0 114.74,121.2 114.97,121.4 115.20,120.5 115.42,117.9 115.64,120.5 115.87,120.3 116.09,121.0 116.32,119.4 116.54,117.7 116.77,118.8 117.00,117.5 117.23,118.7 117.46,118.8 117.70,118.9 117.94,118.7 118.18,118.5 118.42,117.1 118.67,116.3 118.91,116.3 119.16,117.0 119.41,115.1 119.66,114.2 119.91,114.8 120.16,115.2 120.41,114.6 120.66,114.1 120.91,115.7 121.15,113.8 121.40,113.4 121.64,112.6 121.88,113.5 122.12,114.1 122.36,113.9 122.59,113.3 122.82,114.0 123.04,114.9 123.26,115.2 123.48,115.5 123.69,113.9 123.90,113.6 124.10,114.9 124.50,113.7 124.88,112.2 125.24,110.9 125.58,110.3 125.91,109.8 126.23,108.3 126.54,108.4 126.84,108.4 127.15,108.2 127.45,107.3 127.76,105.9 128.07,106.4 128.40,105.6 128.56,106.1 128.72,105.5 128.89,104.6 129.06,105.5 129.23,105.5 129.40,106.8 129.57,107.5 129.74,109.5 129.91,110.7 130.09,110.4 130.26,111.0 130.43,113.6 130.60,115.4 130.77,116.8 130.94,116.6 131.11,116.8 131.27,116.9 131.43,118.4 131.59,119.2 131.74,119.2 131.89,119.1 132.04,120.3 132.18,120.8 132.32,118.2 132.45,118.7 132.58,120.1 132.70,120.2 132.86,118.8 133.00,116.7 133.14,117.3 133.28,116.2 133.40,116.1 133.52,116.4 133.64,118.4 133.75,118.2 133.85,118.2 133.95,119.5 134.05,119.6 134.14,121.0 134.23,122.0 134.31,121.0 134.40,120.0 134.48,121.1 134.56,121.5 134.64,123.8 134.72,122.2 134.80,122.7 134.93,124.0 135.05,125.4 135.17,124.3 135.28,124.8 135.38,125.4 135.48,126.1 135.57,127.0 135.65,128.1 135.73,129.3 135.79,132.1 135.85,131.6 135.90,131.0" fill="none" stroke="#231815" stroke-width="1.3" stroke-linejoin="round" />
<path d="M77.30,30.4 77.30,31.0 77.32,31.2 77.33,31.4 77.35,31.6 77.37,31.8 77.39,32.0 77.42,32.2 77.44,32.5 77.46,32.7 77.49,33.0 77.52,33.3 77.54,33.6 77.57,33.9 77.60,34.2 77.63,34.5 77.66,34.8 77.69,35.2 77.72,35.5 77.76,35.8 77.79,36.2 77.82,36.6 77.86,36.9 77.89,37.3 77.93,37.7 77.96,38.0 78.00,38.4 78.03,38.8 78.07,39.2 78.11,39.6 78.14,40.0 78.18,40.4 78.21,40.8 78.25,41.2 78.29,41.6 78.32,42.0 78.36,42.4 78.39,42.8 78.43,43.2 78.47,43.6 78.50,44.0 78.53,44.3 78.55,44.6 78.58,44.9 78.60,45.2 78.63,45.5 78.65,45.7 78.68,46.0 78.71,46.3 78.73,46.6 78.76,46.9 78.79,47.2 78.82,47.5 78.84,47.9 78.87,48.2 78.90,48.5 78.93,48.8 78.95,49.1 78.98,49.4 79.01,49.7 79.04,50.0 79.07,50.4 79.09,50.7 79.12,51.0 79.15,51.3 79.18,51.7 79.21,52.0 79.24,52.3 79.27,52.6 79.29,53.0 79.32,53.3 79.35,53.7 79.38,54.0 79.41,54.3 79.44,54.7 79.47,55.0 79.50,55.4 79.52,55.7 79.55,56.1 79.58,56.4 79.61,56.8 79.64,57.1 79.67,57.5 79.70,57.9 79.72,58.2 79.75,58.6 79.78,59.0 79.81,59.3 79.84,59.7 79.86,60.1 79.89,60.5 79.92,60.8 79.95,61.2 79.97,61.6 80.00,62.0 80.02,62.3 80.04,62.6 80.06,62.9 80.08,63.2 80.10,63.5 80.12,63.8 80.14,64.1 80.16,64.4 80.18,64.7 80.20,65.0 80.22,65.3 80.24,65.7 80.26,66.0 80.28,66.3 80.30,66.6 80.32,66.9 80.34,67.3 80.36,67.6 80.38,67.9 80.40,68.2 80.42,68.6 80.44,68.9 80.46,69.2 80.48,69.6 80.50,69.9 80.52,70.2 80.54,70.6 80.56,70.9 80.58,71.2 80.60,71.6 80.62,71.9 80.64,72.3 80.66,72.6 80.68,72.9 80.70,73.3 80.72,73.6 80.74,74.0 80.76,74.3 80.78,74.7 80.80,75.0 80.82,75.3 80.84,75.7 80.86,76.0 80.87,76.4 80.89,76.7 80.91,77.1 80.93,77.4 80.95,77.8 80.97,78.1 80.99,78.5 81.01,78.8 81.03,79.2 81.05,79.5 81.07,79.9 81.09,80.2 81.10,80.6 81.12,80.9 81.14,81.2 81.16,81.6 81.18,81.9 81.20,82.3 81.22,82.6 81.24,83.0 81.25,83.3 81.27,83.6 81.29,84.0 81.31,84.3 81.33,84.7 81.35,85.0 81.36,85.3 81.38,85.7 81.40,86.0 81.42,86.3 81.44,86.7 81.45,87.0 81.47,87.3 81.49,87.6 81.51,87.9 81.52,88.3 81.54,88.6 81.56,88.9 81.57,89.2 81.59,89.5 81.61,89.8 81.62,90.1 81.64,90.4 81.66,90.7 81.67,91.0 81.69,91.3 81.71,91.6 81.72,91.9 81.74,92.2 81.75,92.5 81.77,92.8 81.78,93.1 81.80,93.4 81.82,93.7 81.83,94.0 81.85,94.3 81.86,94.6 81.88,94.9 81.89,95.2 81.91,95.5 81.93,95.8 81.94,96.1 81.96,96.4 81.97,96.7 81.99,97.0 82.00,97.3 82.02,97.6 82.04,97.9 82.05,98.2 82.07,98.5 82.08,98.9 82.10,99.2 82.11,99.5 82.13,99.8 82.15,100.2 82.16,100.5 82.18,100.8 82.20,101.1 82.21,101.5 82.23,101.8 82.24,102.2 82.26,102.5 82.28,102.9 82.29,103.2 82.31,103.6 82.33,104.0 82.35,104.3 82.36,104.7 82.38,105.1 82.40,105.5 82.42,105.8 82.43,106.2 82.45,106.6 82.47,107.0 82.49,107.4 82.51,107.9 82.52,108.3 82.54,108.7 82.56,109.1 82.58,109.6 82.60,110.0 82.61,110.3 82.62,110.5 82.63,110.8 82.65,111.1 82.66,111.4 82.67,111.7 82.68,112.0 82.69,112.3 82.70,112.6 82.72,112.9 82.73,113.2 82.74,113.5 82.75,113.8 82.76,114.1 82.78,114.4 82.79,114.7 82.80,115.1 82.81,115.4 82.82,115.7 82.83,116.1 82.85,116.4 82.86,116.7 82.87,117.1 82.88,117.4 82.89,117.8 82.91,118.1 82.92,118.5 82.93,118.8 82.94,119.2 82.95,119.5 82.97,119.9 82.98,120.2 82.99,120.6 83.00,121.0 83.01,121.3 83.03,121.7 83.04,122.1 83.05,122.4 83.06,122.8 83.08,123.2 83.09,123.6 83.10,123.9 83.11,124.3 83.13,124.7 83.14,125.1 83.15,125.4 83.16,125.8 83.18,126.2 83.19,126.6 83.20,127.0 83.21,127.3 83.23,127.7 83.24,128.1 83.25,128.5 83.26,128.9 83.28,129.2 83.29,129.6 83.30,130.0 83.32,130.4 83.33,130.8 83.34,131.1 83.35,131.5 83.37,131.9 83.38,132.3 83.39,132.6 83.41,133.0 83.42,133.4 83.43,133.8 83.45,134.1 83.46,134.5 83.47,134.9 83.49,135.2 83.50,135.6 83.51,136.0 83.53,136.3 83.54,136.7 83.55,137.1 83.57,137.4 83.58,137.8 83.59,138.1 83.61,138.5 83.62,138.9 83.64,139.2 83.65,139.6 83.66,139.9 83.68,140.2 83.69,140.6 83.71,140.9 83.72,141.3 83.73,141.6 83.75,141.9 83.76,142.3 83.78,142.6 83.79,142.9 83.81,143.2 83.82,143.5 83.83,143.8 83.85,144.2 83.86,144.5 83.88,144.8 83.89,145.1 83.91,145.4 83.92,145.7 83.94,145.9 83.95,146.2 83.97,146.5 83.98,146.8 84.00,147.1 84.01,147.3 84.03,147.6 84.04,147.9 84.06,148.1 84.07,148.4 84.09,148.6 84.10,148.9 84.12,149.1 84.13,149.3 84.15,149.6 84.16,149.8 84.18,150.0 84.23,150.7 84.29,151.4 84.34,152.0 84.40,152.6 84.45,153.2 84.51,153.8 84.57,154.3 84.62,154.8 84.68,155.3 84.74,155.7 84.80,156.2 84.86,156.6 84.92,157.0 84.98,157.3 85.04,157.7 85.10,158.0 85.17,158.3 85.23,158.6 85.29,158.9 85.35,159.1 85.42,159.4 85.48,159.6 85.54,159.8 85.61,160.0 85.67,160.2 85.73,160.4 85.80,160.6 85.86,160.8 85.92,160.9 85.99,161.1 86.05,161.3 86.11,161.4 86.17,161.6 86.24,161.8 86.30,162.0 86.36,162.0 86.66,162.5 86.95,162.3 87.23,161.3 87.52,160.7 87.84,159.7 88.19,159.6 88.60,159.1 88.81,159.2 89.03,158.6 89.26,157.7 89.51,157.6 89.75,157.5 90.01,157.0 90.27,157.2 90.54,158.8 90.82,160.1 91.09,159.2 91.37,158.1 91.66,160.2 91.94,159.7 92.22,161.9 92.50,161.7 92.70,162.3 92.90,161.9 93.10,163.2 93.30,165.1 93.50,165.1 93.70,165.1 93.91,166.1 94.11,165.7 94.32,164.5 94.53,163.2 94.74,163.7 94.95,164.5 95.16,164.8 95.38,164.7 95.60,165.2 95.83,164.5 96.05,162.0 96.28,162.3 96.52,160.8 96.76,160.3 97.00,160.3 97.20,159.9 97.40,159.5 97.59,158.9 97.79,159.3 97.99,160.0 98.19,159.7 98.40,160.2 98.60,158.6 98.81,159.1 99.01,156.9 99.22,156.2 99.44,157.3 99.65,156.8 99.87,156.5 100.09,157.5 100.31,156.7 100.54,156.6 100.77,155.3 101.01,156.5 101.25,155.6 101.50,155.8 101.75,154.9 102.00,154.5 102.26,154.7 102.53,154.6 102.80,155.0 102.96,153.6 103.12,153.4 103.28,151.7 103.45,151.2 103.62,149.2 103.79,147.7 103.97,148.0 104.14,148.0 104.32,145.9 104.51,146.2 104.69,145.6 104.88,145.6 105.07,145.0 105.26,145.6 105.45,145.1 105.64,145.0 105.83,144.8 106.03,143.4 106.22,143.6 106.42,144.5 106.62,144.1 106.81,145.4 107.01,145.6 107.21,145.4 107.41,145.5 107.61,144.7 107.80,145.3 108.00,143.9 108.20,144.0 108.39,143.4 108.59,142.6 108.78,144.1 108.97,145.3 109.16,146.3 109.35,145.8 109.54,145.4 109.73,144.4 109.91,143.9 110.09,142.8 110.27,142.4 110.45,142.9 110.63,144.2 110.80,143.3 110.97,144.8 111.14,142.9 111.30,143.2 111.57,143.6 111.84,141.4 112.10,139.8 112.36,139.4 112.61,139.2 112.86,139.2 113.11,138.4 113.35,137.4 113.59,137.0 113.82,136.1 114.06,135.4 114.29,134.3 114.52,132.4 114.74,132.7 114.97,133.5 115.20,132.9 115.42,132.1 115.64,131.7 115.87,131.5 116.09,129.5 116.32,129.4 116.54,128.0 116.77,129.8 117.00,131.1 117.23,129.8 117.46,131.3 117.70,131.2 117.94,130.3 118.18,131.4 118.42,131.0 118.67,130.8 118.91,129.9 119.16,129.6 119.41,128.9 119.66,129.2 119.91,130.2 120.16,129.9 120.41,129.6 120.66,128.3 120.91,128.0 121.15,129.0 121.40,127.5 121.64,127.6 121.88,127.8 122.12,127.6 122.36,127.7 122.59,127.2 122.82,127.1 123.04,126.3 123.26,126.2 123.48,127.4 123.69,127.9 123.90,127.0 124.10,127.8 124.50,126.8 124.88,126.7 125.24,126.3 125.58,126.5 125.91,125.8 126.23,125.8 126.54,125.2 126.84,124.1 127.15,124.6 127.45,125.1 127.76,124.7 128.07,125.5 128.40,124.1 128.56,123.2 128.72,125.2 128.89,124.2 129.06,124.5 129.23,123.2 129.40,123.8 129.57,123.9 129.74,124.1 129.91,124.4 130.09,123.5 130.26,124.3 130.43,124.2 130.60,124.0 130.77,125.1 130.94,126.0 131.11,127.0 131.27,129.1 131.43,129.0 131.59,130.0 131.74,130.2 131.89,131.7 132.04,132.8 132.18,133.7 132.32,133.6 132.45,133.8 132.58,135.5 132.70,135.5 132.86,135.8 133.00,134.5 133.14,134.5 133.28,135.1 133.40,135.0 133.52,132.4 133.64,132.6 133.75,131.9 133.85,134.1 133.95,134.1 134.05,132.4 134.14,133.0 134.23,133.2 134.31,133.7 134.40,133.9 134.48,133.2 134.56,134.6 134.64,135.8 134.72,137.4 134.80,137.0 134.93,136.5 135.05,137.2 135.17,138.8 135.28,141.7 135.38,139.6 135.48,141.1 135.57,142.4 135.65,142.0 135.73,142.8 135.79,142.4 135.85,143.7 135.90,144.9" fill="none" stroke="#231815" stroke-width="1.3" stroke-linejoin="round" />
<line x1="136.60" y1="31.00" x2="136.60" y2="134.00" stroke="#231815" stroke-width="1.0" />
<path d="M84.00,34.0 84.30,35.0 84.60,33.2 84.90,34.4 85.20,33.6 85.50,34.7 85.80,35.0 86.10,35.3 86.40,34.3 86.70,33.8 87.00,35.5 87.30,36.1 87.60,34.4 87.90,33.8 88.20,36.4 88.50,35.9 88.80,35.1 89.10,34.1 89.40,34.2 89.70,34.5 90.00,36.2 90.30,35.3 90.60,34.2 90.90,34.2 91.20,36.3 91.50,35.0 91.80,34.3 92.10,34.7 92.40,35.0 92.70,34.5 93.00,35.6 93.30,34.5 93.60,36.5 93.90,35.7 94.20,34.9 94.50,36.8 94.80,34.9 95.10,35.8 95.40,36.8 95.70,35.9 96.00,35.6 96.30,37.7 96.60,37.1 96.90,36.1 97.20,36.1 97.50,37.2 97.80,35.1 98.10,35.7 98.40,36.1 98.70,35.6 99.00,37.7 99.30,37.5 99.60,37.0 99.90,36.3 100.20,36.2 100.50,37.8 100.80,36.8 101.10,36.9 101.40,35.9 101.70,37.1 102.00,36.2 102.30,38.3 102.60,37.7 102.90,35.7 103.20,36.7 103.50,37.0 103.80,36.5 104.10,38.0 104.40,37.6 104.70,36.6 105.00,38.4 105.30,36.8 105.60,36.0 105.90,39.2 106.20,36.0 106.50,36.5 106.80,36.9 107.10,37.1 107.40,38.3 107.70,37.0 108.00,36.2 108.30,36.6 108.60,37.2 108.90,37.5 109.20,38.7 109.50,36.6 109.80,36.7 110.10,38.5 110.40,36.8 110.70,36.3 111.00,37.7 111.30,36.1 111.60,36.0 111.90,36.5 112.20,37.0 112.50,38.3 112.80,37.9 113.10,37.3 113.40,36.8 113.70,36.6 114.00,37.1 114.30,36.8 114.60,36.7 114.90,36.9 115.20,36.7 115.50,36.8 115.80,36.3 116.10,37.0 116.40,36.1 116.70,35.7 117.00,37.4 117.30,37.0 117.60,37.0 117.90,36.3 118.20,37.1 118.50,37.2 118.80,36.9 119.10,37.5 119.40,38.5 119.70,37.2 120.00,36.8 120.30,35.9 120.60,36.6 120.90,36.2 121.20,35.5 121.50,37.4 121.80,35.9 122.10,37.4 122.40,39.5 122.70,35.4 123.00,39.1 123.30,35.8 123.60,36.7 123.90,35.1 124.20,35.1 124.50,36.8 124.80,36.7 125.10,35.3 125.40,35.1 125.70,38.8 126.00,36.2 126.30,34.7 126.60,34.6 126.90,35.0 127.20,36.1 127.50,34.6 127.80,36.1 128.10,36.1 128.40,35.1 128.70,34.7 129.00,35.5 129.30,36.3 129.60,35.0 129.90,34.8 130.20,37.4 130.50,35.4 130.80,37.0 131.10,35.9 131.40,34.2 131.70,35.0 132.00,34.2 132.30,37.8 132.60,35.6 132.90,35.7 133.20,33.8 133.50,35.4 133.80,36.2 134.10,33.7 134.40,37.1 134.70,35.7 135.00,33.3 135.30,33.8 135.60,33.5 135.90,34.7 136.20,35.3 136.50,35.9 136.80,35.9" fill="none" stroke="#231815" stroke-width="0.5" stroke-linejoin="round" />
<text x="150.20" y="91.50" font-size="13" font-weight="normal" fill="#231815" stroke="#231815" stroke-width="0.25">Wildtype</text>
<line x1="159.60" y1="131.70" x2="159.60" y2="161.00" stroke="#231815" stroke-width="1.0" />
<line x1="159.10" y1="161.00" x2="183.60" y2="161.00" stroke="#231815" stroke-width="1.0" />
<text x="118.55" y="154.20" font-size="11.3" font-weight="normal" fill="#231815" stroke="#231815" stroke-width="0.25">200 pA</text>
<text x="159.80" y="174.00" font-size="11.3" font-weight="normal" fill="#231815" stroke="#231815" stroke-width="0.25">0.2 s</text>
<path d="M25.80,216.70 L78.80,216.70 L78.80,250.40 L135.00,250.40 L135.00,216.70 L188.00,216.70" fill="none" stroke="#231815" stroke-width="1.1" />
<path d="M142.2,241.2 L151.8,241.2 L147.0,233.7 Z" fill="none" stroke="#888" stroke-width="0.9"/>
<text x="153.00" y="241.20" font-size="11.5" font-weight="normal" fill="#231815" stroke="#231815" stroke-width="0.25">P= -25 mm Hg</text>
<path d="M251.00,27.8 251.50,27.8 252.00,27.9 252.50,28.2 253.00,28.6 253.50,27.7 254.00,27.5 254.50,28.4 255.00,28.4 255.50,28.5 256.00,27.7 256.50,28.2 257.00,27.8 257.50,27.7 258.00,28.4 258.50,28.4 259.00,28.0 259.50,28.5 260.00,27.4 260.50,28.0 261.00,27.8 261.50,28.0 262.00,28.1 262.50,27.2 263.00,28.4 263.50,27.8 264.00,28.1 264.50,28.5 265.00,28.5 265.50,28.5 266.00,28.2 266.50,28.1 267.00,28.3 267.50,28.5 268.00,28.4 268.50,27.9 269.00,28.6 269.50,28.2 270.00,28.3 270.50,28.3 271.00,28.0 271.50,27.6 272.00,28.2 272.50,28.1 273.00,27.7 273.50,27.5 274.00,28.3 274.50,27.4 275.00,28.3 275.50,28.4 276.00,28.2 276.50,28.3 277.00,28.4 277.50,27.8 278.00,28.2 278.50,27.6 279.00,28.0 279.50,28.4 280.00,28.1 280.50,28.3 281.00,28.3 281.50,28.3 282.00,26.6 282.50,27.2 283.00,28.5 283.50,28.6 284.00,28.0 284.50,28.4 285.00,27.6 285.50,27.8 286.00,28.2 286.50,27.9 287.00,28.1 287.50,27.8 288.00,28.4 288.50,27.8 289.00,27.6 289.50,28.5 290.00,28.6 290.50,27.8 291.00,28.0 291.50,28.0 292.00,28.4 292.50,28.3 293.00,28.3 293.50,28.5 294.00,28.6 294.50,28.5 295.00,28.3 295.50,28.1 296.00,28.4 296.50,28.4 297.00,28.6 297.50,28.6 298.00,28.4 298.50,27.6 299.00,28.2 299.50,28.4 300.00,28.2 300.50,28.1 301.00,28.5 301.50,28.6 302.00,28.4 302.50,27.9 303.00,27.4 303.50,27.4 304.00,27.8 304.50,28.4 305.00,28.6 305.50,27.5 306.00,27.7 306.50,27.9 307.00,28.2 307.50,28.4 308.00,28.4 308.50,27.6 309.00,28.5 309.50,28.6 310.00,28.1 310.50,28.1 311.00,28.1 311.50,28.0 312.00,27.7 312.50,27.8 313.00,28.4 313.50,28.4 314.00,28.2 314.50,28.2 315.00,28.4 315.50,28.3 316.00,28.4 316.50,27.5 317.00,28.1 317.50,28.4 318.00,28.0 318.50,28.1 319.00,28.3 319.50,28.3 320.00,28.3 320.50,28.2 321.00,28.3 321.50,28.1 322.00,28.0 322.50,28.2 323.00,27.7 323.50,27.9 324.00,28.1 324.50,28.1 325.00,28.3 325.50,28.6 326.00,28.5 326.50,27.7 327.00,28.1 327.50,28.3 328.00,28.1 328.50,28.3 329.00,28.3 329.50,27.9 330.00,28.2 330.50,27.7 331.00,28.0 331.50,28.4 332.00,28.0 332.50,27.8 333.00,28.6 333.50,28.4 334.00,28.5 334.50,28.5 335.00,28.0 335.50,28.2 336.00,28.3 336.50,28.4 337.00,28.5 337.50,28.1 338.00,28.3 338.50,27.8 339.00,28.5 339.50,28.4 340.00,28.4 340.50,28.6 341.00,28.1 341.50,27.6 342.00,28.5 342.50,27.2 343.00,28.6 343.50,28.0 344.00,28.5 344.50,28.4 345.00,28.2 345.50,28.3 346.00,27.9 346.50,28.1 347.00,28.5 347.50,28.0 348.00,27.2 348.50,28.0 349.00,28.5 349.50,28.5 350.00,28.1 350.50,28.2 351.00,28.2 351.50,27.6 352.00,27.1 352.50,27.5 353.00,28.4 353.50,28.0 354.00,28.3 354.50,28.3 355.00,28.4 355.50,28.0 356.00,28.3 356.50,28.6 357.00,27.8 357.50,27.9 358.00,28.3 358.50,27.8 359.00,28.1 359.50,28.5 360.00,27.9 360.50,27.9 361.00,28.4 361.50,27.8 362.00,27.5 362.50,28.4 363.00,28.5 363.50,27.9 364.00,28.6 364.50,28.5 365.00,28.3 365.50,28.3 366.00,27.5 366.50,27.9 367.00,28.3 367.50,28.3 368.00,28.2 368.50,27.6 369.00,27.5 369.50,28.6 370.00,28.0 370.50,28.2 371.00,28.2 371.50,28.3 372.00,28.3 372.50,28.4 373.00,28.0 373.50,28.6 374.00,28.3 374.50,28.6 375.00,28.5 375.50,28.4 376.00,28.3 376.50,28.0 377.00,28.3 377.50,28.2 378.00,28.4 378.50,28.5 379.00,28.2 379.50,28.0 380.00,28.2 380.50,28.4 381.00,28.6 381.50,28.6 382.00,28.2 382.50,28.3 383.00,27.6 383.50,28.2 384.00,28.1 384.50,28.0 385.00,28.5 385.50,28.6 386.00,27.4 386.50,27.1 387.00,27.7 387.50,28.3 388.00,28.5 388.50,27.4 389.00,27.5 389.50,28.0 390.00,27.6 390.50,27.8 391.00,27.7 391.50,27.8 392.00,28.3 392.50,28.6 393.00,27.7 393.50,27.4 394.00,28.4 394.50,28.0 395.00,28.2 395.50,28.4 396.00,28.3 396.50,28.3 397.00,28.5 397.50,28.5 398.00,28.4 398.50,28.3 399.00,28.3 399.50,28.5 400.00,28.4 400.50,28.4 401.00,27.9 401.50,28.2 402.00,28.2 402.50,28.3 403.00,28.3 403.50,28.2 404.00,28.5 404.50,28.4 405.00,28.0 405.50,28.0 406.00,28.0 406.50,27.8 407.00,28.4 407.50,28.3 408.00,28.0 408.50,28.0 409.00,28.6 409.50,27.7 410.00,27.7 410.50,27.2 411.00,28.5 411.00,34.4 410.50,34.3 410.00,34.7 409.50,33.8 409.00,34.3 408.50,34.5 408.00,34.7 407.50,34.8 407.00,34.7 406.50,34.3 406.00,34.2 405.50,34.5 405.00,34.5 404.50,34.5 404.00,33.9 403.50,34.8 403.00,34.3 402.50,34.7 402.00,34.8 401.50,34.1 401.00,34.1 400.50,34.3 400.00,34.5 399.50,34.2 399.00,34.6 398.50,34.2 398.00,34.0 397.50,33.8 397.00,34.0 396.50,33.8 396.00,34.4 395.50,33.9 395.00,34.5 394.50,34.7 394.00,34.4 393.50,34.0 393.00,34.3 392.50,34.9 392.00,34.3 391.50,34.3 391.00,34.8 390.50,35.4 390.00,34.8 389.50,34.2 389.00,34.0 388.50,35.0 388.00,34.0 387.50,33.9 387.00,34.8 386.50,34.9 386.00,34.1 385.50,33.8 385.00,33.8 384.50,33.8 384.00,34.2 383.50,33.9 383.00,34.1 382.50,34.4 382.00,34.0 381.50,34.7 381.00,33.9 380.50,34.6 380.00,34.1 379.50,34.2 379.00,34.4 378.50,34.7 378.00,34.8 377.50,34.0 377.00,33.9 376.50,34.1 376.00,34.5 375.50,33.9 375.00,33.9 374.50,33.9 374.00,34.2 373.50,34.8 373.00,34.0 372.50,34.7 372.00,34.4 371.50,34.1 371.00,34.1 370.50,33.9 370.00,34.1 369.50,34.3 369.00,34.1 368.50,34.3 368.00,35.6 367.50,35.0 367.00,34.4 366.50,33.9 366.00,33.8 365.50,34.7 365.00,33.9 364.50,34.4 364.00,34.1 363.50,33.9 363.00,34.1 362.50,34.0 362.00,34.3 361.50,34.9 361.00,34.0 360.50,34.4 360.00,34.3 359.50,34.0 359.00,34.1 358.50,33.9 358.00,33.9 357.50,34.1 357.00,34.3 356.50,34.7 356.00,34.1 355.50,33.9 355.00,34.0 354.50,34.4 354.00,33.8 353.50,33.9 353.00,33.9 352.50,34.0 352.00,33.9 351.50,33.9 351.00,34.4 350.50,35.0 350.00,34.9 349.50,34.4 349.00,34.0 348.50,34.2 348.00,34.7 347.50,34.5 347.00,34.1 346.50,34.4 346.00,33.8 345.50,34.0 345.00,34.6 344.50,34.3 344.00,34.4 343.50,34.2 343.00,34.3 342.50,34.0 342.00,34.2 341.50,34.2 341.00,34.6 340.50,34.5 340.00,34.1 339.50,33.9 339.00,34.0 338.50,34.0 338.00,34.1 337.50,34.2 337.00,33.9 336.50,33.9 336.00,34.3 335.50,34.1 335.00,34.6 334.50,34.1 334.00,34.5 333.50,33.9 333.00,34.1 332.50,33.8 332.00,34.4 331.50,34.2 331.00,34.1 330.50,34.3 330.00,34.2 329.50,34.1 329.00,34.1 328.50,35.1 328.00,34.2 327.50,33.9 327.00,34.3 326.50,34.8 326.00,34.6 325.50,34.2 325.00,34.4 324.50,33.9 324.00,34.2 323.50,34.4 323.00,34.9 322.50,33.8 322.00,34.6 321.50,34.2 321.00,34.6 320.50,34.6 320.00,34.9 319.50,34.5 319.00,34.0 318.50,34.6 318.00,34.7 317.50,34.1 317.00,33.8 316.50,34.3 316.00,34.5 315.50,34.1 315.00,33.9 314.50,34.7 314.00,35.0 313.50,33.9 313.00,34.0 312.50,34.3 312.00,33.9 311.50,34.2 311.00,34.9 310.50,34.2 310.00,35.4 309.50,34.6 309.00,33.9 308.50,34.1 308.00,35.0 307.50,34.7 307.00,34.7 306.50,34.2 306.00,34.2 305.50,34.3 305.00,34.3 304.50,34.3 304.00,34.1 303.50,33.8 303.00,34.3 302.50,33.8 302.00,34.3 301.50,34.5 301.00,33.9 300.50,33.9 300.00,34.3 299.50,34.4 299.00,34.2 298.50,34.3 298.00,34.2 297.50,34.4 297.00,34.5 296.50,34.1 296.00,34.6 295.50,34.2 295.00,34.0 294.50,33.9 294.00,34.6 293.50,34.8 293.00,34.4 292.50,33.9 292.00,34.1 291.50,34.2 291.00,33.9 290.50,34.0 290.00,34.5 289.50,34.0 289.00,34.3 288.50,34.0 288.00,34.0 287.50,34.1 287.00,34.4 286.50,34.5 286.00,35.0 285.50,35.1 285.00,34.2 284.50,34.2 284.00,34.2 283.50,33.8 283.00,34.2 282.50,34.4 282.00,34.7 281.50,34.9 281.00,34.2 280.50,34.4 280.00,33.9 279.50,34.3 279.00,34.5 278.50,34.6 278.00,34.4 277.50,34.1 277.00,34.0 276.50,34.2 276.00,34.4 275.50,33.8 275.00,34.1 274.50,34.6 274.00,34.0 273.50,34.1 273.00,34.1 272.50,34.7 272.00,34.0 271.50,34.7 271.00,34.5 270.50,34.3 270.00,34.2 269.50,33.8 269.00,34.2 268.50,34.1 268.00,33.8 267.50,34.0 267.00,34.0 266.50,33.9 266.00,34.6 265.50,34.2 265.00,33.8 264.50,34.4 264.00,35.0 263.50,34.5 263.00,33.9 262.50,34.0 262.00,33.9 261.50,34.5 261.00,34.4 260.50,34.3 260.00,34.2 259.50,34.0 259.00,34.1 258.50,34.0 258.00,34.0 257.50,33.9 257.00,34.3 256.50,34.3 256.00,34.5 255.50,34.0 255.00,34.4 254.50,35.1 254.00,34.3 253.50,33.9 253.00,34.2 252.50,34.1 252.00,33.9 251.50,34.1 251.00,33.9Z" fill="#231815"/>
<path d="M251.00 31.2V34.6M251.52 31.2V28.2M251.91 31.2V34.9M253.12 31.2V34.3M256.47 31.2V34.9M257.59 31.2V28.3M257.93 31.2V28.2M259.95 31.2V28.5M262.08 31.2V27.8M262.41 31.2V28.4M264.44 31.2V34.3M266.98 31.2V34.8M268.03 31.2V27.7M269.49 31.2V35.4M270.56 31.2V28.5M270.64 31.2V34.9M275.11 31.2V28.1M276.39 31.2V34.3M277.44 31.2V28.4M278.06 31.2V28.6M281.01 31.2V28.1M282.88 31.2V33.9M283.93 31.2V34.5M284.58 31.2V34.0M286.11 31.2V28.3M287.54 31.2V34.2M288.92 31.2V28.5M297.01 31.2V34.9M297.46 31.2V33.9M298.08 31.2V28.2M299.63 31.2V34.1M302.63 31.2V27.0M303.45 31.2V34.0M303.99 31.2V33.9M305.97 31.2V33.9M306.56 31.2V28.4M308.14 31.2V34.7M309.61 31.2V28.0M313.11 31.2V27.9M313.89 31.2V34.4M319.01 31.2V28.3M322.12 31.2V34.1M322.41 31.2V34.1M325.59 31.2V34.5M326.03 31.2V28.5M325.98 31.2V34.9M328.40 31.2V34.9M330.08 31.2V34.0M337.47 31.2V28.2M338.04 31.2V34.6M340.12 31.2V34.4M340.55 31.2V27.2M341.44 31.2V28.4M343.06 31.2V28.5M344.47 31.2V27.9M345.50 31.2V33.8M346.96 31.2V34.0M347.63 31.2V28.2M348.48 31.2V34.0M348.87 31.2V33.9M351.58 31.2V27.9M353.12 31.2V28.4M354.88 31.2V28.4M356.52 31.2V28.0M357.52 31.2V34.2M358.60 31.2V28.4M361.03 31.2V28.1M362.61 31.2V34.3M363.08 31.2V27.4M364.08 31.2V34.0M365.38 31.2V27.0M367.93 31.2V27.2M371.58 31.2V28.0M372.07 31.2V34.4M373.45 31.2V28.5M375.01 31.2V28.1M375.95 31.2V34.0M378.42 31.2V34.5M382.11 31.2V33.9M385.51 31.2V28.2M386.14 31.2V27.0M386.02 31.2V33.9M389.57 31.2V27.6M391.92 31.2V34.7M392.88 31.2V28.3M396.92 31.2V28.3M398.89 31.2V34.5M399.43 31.2V28.1M401.87 31.2V33.8M407.11 31.2V28.6" stroke="#231815" stroke-width="0.6" stroke-opacity="0.3" fill="none"/>
<path d="M252.58 31.2V33.9M254.89 31.2V27.9M254.93 31.2V34.5M256.46 31.2V28.0M260.88 31.2V33.9M264.61 31.2V28.5M264.92 31.2V35.3M270.12 31.2V28.4M272.44 31.2V28.5M278.86 31.2V34.1M279.59 31.2V35.0M279.98 31.2V34.0M284.59 31.2V28.3M289.07 31.2V33.9M292.62 31.2V33.8M294.60 31.2V34.2M299.01 31.2V35.4M300.08 31.2V34.0M300.88 31.2V33.8M308.51 31.2V33.8M308.97 31.2V34.0M311.52 31.2V34.3M313.91 31.2V27.4M318.13 31.2V28.5M318.58 31.2V28.4M318.61 31.2V34.1M320.53 31.2V35.0M320.98 31.2V34.0M321.46 31.2V28.3M321.44 31.2V34.1M323.56 31.2V28.3M323.54 31.2V34.6M324.37 31.2V27.0M325.00 31.2V28.5M327.07 31.2V27.2M329.12 31.2V33.9M329.44 31.2V28.1M330.63 31.2V27.6M331.12 31.2V34.0M332.89 31.2V34.2M334.13 31.2V34.3M335.12 31.2V34.3M335.64 31.2V34.1M345.06 31.2V28.2M346.06 31.2V34.0M346.65 31.2V34.5M348.92 31.2V27.8M350.13 31.2V28.3M349.91 31.2V34.4M351.56 31.2V34.1M352.94 31.2V34.7M355.40 31.2V28.4M355.40 31.2V33.9M359.10 31.2V28.4M358.88 31.2V34.9M359.52 31.2V28.5M360.08 31.2V34.3M360.36 31.2V27.9M364.90 31.2V33.8M368.15 31.2V34.1M368.91 31.2V34.2M370.59 31.2V28.3M371.08 31.2V34.3M371.92 31.2V28.2M373.15 31.2V28.4M373.90 31.2V27.7M375.39 31.2V28.5M376.37 31.2V34.0M384.55 31.2V28.5M385.52 31.2V33.9M387.14 31.2V28.4M387.52 31.2V34.1M390.02 31.2V28.1M391.05 31.2V27.0M391.12 31.2V33.9M394.13 31.2V28.4M394.08 31.2V34.1M395.92 31.2V35.0M397.61 31.2V28.5M400.56 31.2V28.1M401.52 31.2V34.3M402.43 31.2V34.4M405.06 31.2V28.1M404.96 31.2V34.3M408.46 31.2V34.2M409.57 31.2V34.1M410.45 31.2V28.6M410.54 31.2V34.7" stroke="#231815" stroke-width="0.6" stroke-opacity="0.6" fill="none"/>
<path d="M253.86 31.2V27.6M256.05 31.2V28.6M258.01 31.2V33.8M266.12 31.2V27.7M268.06 31.2V35.4M272.03 31.2V27.0M272.46 31.2V34.1M274.60 31.2V28.1M278.60 31.2V34.1M279.99 31.2V28.3M280.43 31.2V28.2M281.47 31.2V28.5M284.94 31.2V28.0M284.88 31.2V33.9M285.54 31.2V33.8M290.89 31.2V28.6M291.65 31.2V34.7M297.05 31.2V28.5M310.61 31.2V34.1M315.52 31.2V34.0M317.10 31.2V28.2M320.44 31.2V27.9M320.98 31.2V27.1M322.10 31.2V27.4M327.51 31.2V28.6M332.08 31.2V34.0M333.57 31.2V28.3M334.59 31.2V28.5M343.54 31.2V27.6M344.96 31.2V33.8M347.51 31.2V34.6M349.62 31.2V35.4M352.42 31.2V28.6M356.08 31.2V27.4M355.97 31.2V35.4M361.03 31.2V34.1M363.02 31.2V33.8M364.10 31.2V28.6M365.44 31.2V33.9M366.08 31.2V35.4M367.45 31.2V28.0M369.99 31.2V34.5M371.57 31.2V33.9M374.12 31.2V35.4M375.55 31.2V33.9M376.87 31.2V28.3M377.54 31.2V28.5M377.61 31.2V34.0M379.04 31.2V27.9M382.63 31.2V33.8M383.54 31.2V28.4M384.11 31.2V27.4M384.62 31.2V33.9M389.02 31.2V28.5M390.63 31.2V28.0M394.96 31.2V34.0M396.51 31.2V33.9M398.06 31.2V33.9M398.60 31.2V28.0M400.13 31.2V34.0M401.04 31.2V28.5M405.44 31.2V28.6M405.96 31.2V28.4" stroke="#231815" stroke-width="0.6" stroke-opacity="0.95" fill="none"/>
<path d="M355.00,28.6 355.50,28.3 356.00,28.4 356.50,28.4 357.00,28.4 357.50,28.4 358.00,28.1 358.50,27.8 359.00,28.2 359.50,28.0 360.00,27.4 360.50,27.3 361.00,28.0 361.50,28.4 362.00,27.8 362.50,28.2 363.00,28.2 363.50,28.1 364.00,28.1 364.50,27.8 365.00,27.9 365.50,26.9 366.00,27.4 366.50,27.4 367.00,28.2 367.50,27.9 368.00,27.2 368.50,27.7 369.00,27.7 369.50,28.1 370.00,27.9 370.50,28.0 371.00,27.5 371.50,27.9 372.00,28.2 372.50,27.6 373.00,27.6 373.50,28.0 374.00,28.0 374.50,28.1 375.00,27.9 375.50,28.1 376.00,28.2 376.50,27.9 377.00,28.0 377.50,27.6 378.00,28.1 378.50,27.8 379.00,27.4 379.50,27.8 380.00,28.1 380.50,28.1 381.00,28.1 381.50,27.5 382.00,28.1 382.50,26.9 383.00,28.1 383.50,27.8 384.00,27.2 384.50,28.0 384.50,34.5 384.00,34.6 383.50,34.8 383.00,35.6 382.50,34.4 382.00,34.5 381.50,35.3 381.00,34.8 380.50,34.8 380.00,35.9 379.50,34.6 379.00,35.5 378.50,35.1 378.00,34.8 377.50,34.6 377.00,35.2 376.50,35.6 376.00,34.7 375.50,34.8 375.00,34.9 374.50,34.8 374.00,35.3 373.50,34.9 373.00,35.3 372.50,35.0 372.00,35.7 371.50,35.7 371.00,35.1 370.50,35.4 370.00,35.7 369.50,35.6 369.00,35.2 368.50,35.3 368.00,35.5 367.50,35.3 367.00,35.4 366.50,35.8 366.00,35.7 365.50,35.8 365.00,36.2 364.50,36.4 364.00,36.9 363.50,36.5 363.00,36.6 362.50,36.3 362.00,36.5 361.50,36.9 361.00,36.5 360.50,38.5 360.00,37.2 359.50,38.3 359.00,37.5 358.50,38.2 358.00,37.5 357.50,38.9 357.00,38.0 356.50,38.1 356.00,38.6 355.50,38.9 355.00,38.8Z" fill="#231815"/>
<path d="M355.63 33.6V28.5M355.98 33.4V28.4M356.54 33.3V27.9M357.09 33.2V28.4M357.07 33.2V38.2M357.47 33.1V28.1M359.40 32.7V37.0M360.10 32.6V28.1M359.98 32.6V36.8M360.36 32.6V28.4M361.13 32.5V37.1M364.06 32.1V36.2M365.38 32.0V27.9M365.36 32.0V36.6M368.45 31.8V35.3M369.90 31.7V35.8M371.08 31.6V35.0M371.53 31.6V27.9M372.86 31.5V27.9M374.47 31.5V28.2M374.89 31.5V28.2M378.47 31.4V27.8M378.48 31.4V35.2M379.87 31.4V34.8M381.45 31.3V27.7M382.59 31.3V27.8M383.55 31.3V36.9M384.65 31.3V35.4" stroke="#231815" stroke-width="0.6" stroke-opacity="0.3" fill="none"/>
<path d="M355.13 33.7V28.3M356.02 33.4V38.6M359.08 32.8V28.4M361.08 32.5V28.3M362.09 32.3V38.8M362.39 32.3V36.3M362.88 32.2V28.1M366.48 31.9V27.5M367.48 31.8V28.1M368.11 31.8V36.3M369.45 31.7V35.8M370.55 31.6V36.9M371.53 31.6V35.7M373.38 31.5V35.9M374.06 31.5V28.1M374.35 31.5V34.9M376.04 31.4V34.8M377.57 31.4V28.2M377.39 31.4V35.3M379.03 31.4V34.7M379.59 31.4V27.9M379.89 31.4V28.2M381.85 31.3V34.5M383.00 31.3V34.8M384.54 31.3V27.3" stroke="#231815" stroke-width="0.6" stroke-opacity="0.6" fill="none"/>
<path d="M355.00 33.7V39.4M355.60 33.6V41.0M356.56 33.3V39.0M357.38 33.1V38.2M357.97 33.0V28.6M358.62 32.9V37.8M358.98 32.8V37.1M359.54 32.7V28.2M360.42 32.6V38.1M361.62 32.4V27.5M361.55 32.4V36.4M362.96 32.2V36.6M363.57 32.2V28.1M363.99 32.1V28.3M364.93 32.0V27.6M365.04 32.0V36.4M365.93 31.9V27.4M367.06 31.9V35.9M368.57 31.8V28.3M368.91 31.7V35.5M369.63 31.7V27.7M372.38 31.6V28.3M372.57 31.6V35.5M373.91 31.5V35.0M376.64 31.4V35.5M376.97 31.4V27.3M378.14 31.4V27.8M380.47 31.3V28.1M380.63 31.3V35.0M381.04 31.3V28.1M380.85 31.3V35.2M382.01 31.3V28.0" stroke="#231815" stroke-width="0.6" stroke-opacity="0.95" fill="none"/>
<path d="M302.20,30.4 302.50,141.8 302.80,135.1 303.10,139.1 303.40,141.1 303.70,138.0 304.00,135.3 304.30,134.1 304.60,132.5 304.90,131.8 305.20,134.8 305.50,133.8 305.80,130.5 306.10,124.8 306.40,127.9 306.70,131.2 307.00,131.1 307.30,127.3 307.60,134.4 307.90,141.3 308.20,129.7 308.50,134.6 308.80,140.2 309.10,134.4 309.40,135.1 309.70,137.6 310.00,139.6 310.30,137.1 310.60,142.3 310.90,133.7 311.20,142.6 311.50,142.4 311.80,141.4 312.10,143.4 312.40,141.8 312.70,145.4 313.00,139.1 313.30,139.9 313.60,135.1 313.90,135.4 314.20,137.7 314.50,133.0 314.80,134.7 315.10,132.6 315.40,134.8 315.70,136.2 316.00,138.3 316.30,128.6 316.60,133.6 316.90,136.5 317.20,137.6 317.50,137.2 317.80,127.5 318.10,130.1 318.40,133.3 318.70,134.3 319.00,131.9 319.30,131.7 319.60,131.4 319.90,127.9 320.20,130.7 320.50,132.6 320.80,128.7 321.10,133.3 321.40,120.2 321.70,128.0 322.00,134.3 322.30,131.4 322.60,133.0 322.90,128.7 323.20,124.2 323.50,126.1 323.80,132.4 324.10,121.5 324.40,124.1 324.70,121.4 325.00,125.0 325.30,125.1 325.60,128.1 325.90,123.4 326.20,131.4 326.50,127.9 326.80,124.2 327.10,122.4 327.40,120.7 327.70,125.8 328.00,131.7 328.30,124.7 328.60,121.9 328.90,124.9 329.20,123.3 329.50,122.0 329.80,118.7 330.10,124.5 330.40,129.4 330.70,128.5 331.00,127.6 331.30,125.0 331.60,125.8 331.90,127.4 332.20,123.9 332.50,124.9 332.80,122.6 333.10,127.4 333.40,120.8 333.70,125.8 334.00,126.3 334.30,126.1 334.60,125.5 334.90,121.6 335.20,121.1 335.50,121.4 335.80,121.3 336.10,118.8 336.40,120.8 336.70,120.0 337.00,118.8 337.30,122.9 337.60,119.1 337.90,122.2 338.20,125.9 338.50,126.4 338.80,120.9 339.10,124.0 339.40,121.3 339.70,128.0 340.00,125.5 340.30,123.6 340.60,119.3 340.90,118.9 341.20,121.3 341.50,119.2 341.80,118.4 342.10,121.4 342.40,115.5 342.70,113.4 343.00,117.0 343.30,116.9 343.60,120.7 343.90,118.5 344.20,121.0 344.50,115.5 344.80,127.1 345.10,124.0 345.40,120.3 345.70,124.4 346.00,127.7 346.30,126.8 346.60,124.2 346.90,126.8 347.20,128.0 347.50,121.6 347.80,121.2 348.10,124.3 348.40,129.7 348.70,131.7 349.00,127.7 349.30,132.5 349.60,131.2 349.90,128.1 350.20,125.8 350.50,125.7 350.80,127.6 351.10,131.5 351.40,129.3 351.70,122.0 352.00,121.8 352.30,128.0 352.60,125.6 352.90,121.5 353.20,126.3 353.50,128.1 353.80,125.9 354.10,123.3 354.40,126.8 354.70,120.9 355.00,119.8 355.30,118.3 355.60,127.0 355.80,30.4" fill="none" stroke="#231815" stroke-width="0.75" stroke-linejoin="round" />
<path d="M302.60,30.4 302.90,128.0 303.20,124.0 303.50,116.6 303.80,122.4 304.10,117.7 304.40,118.2 304.70,115.4 305.00,110.2 305.30,109.5 305.60,110.2 305.90,107.1 306.20,101.4 306.50,99.5 306.80,101.5 307.10,98.1 307.40,96.0 307.70,92.2 308.00,92.8 308.30,92.0 308.60,101.2 308.90,92.9 309.20,93.5 309.50,102.4 309.80,98.2 310.10,97.3 310.40,102.5 310.70,95.1 311.00,105.3 311.30,105.2 311.60,107.4 311.90,105.3 312.20,113.4 312.50,111.6 312.80,111.8 313.10,114.4 313.40,111.9 313.70,115.5 314.00,112.5 314.30,113.2 314.60,117.1 314.90,115.9 315.20,117.3 315.50,112.3 315.80,113.4 316.10,111.0 316.40,113.5 316.70,114.6 317.00,114.9 317.30,112.7 317.60,107.8 317.90,110.4 318.20,105.8 318.50,102.4 318.80,108.5 319.10,107.7 319.40,109.2 319.70,108.9 320.00,101.7 320.30,102.2 320.60,104.5 320.90,104.1 321.20,104.6 321.50,98.6 321.80,101.4 322.10,104.1 322.40,109.1 322.70,99.9 323.00,110.0 323.30,104.8 323.60,102.0 323.90,111.8 324.20,105.1 324.50,105.7 324.80,112.6 325.10,114.5 325.40,112.4 325.70,110.8 326.00,109.2 326.30,115.2 326.60,108.3 326.90,112.1 327.20,121.0 327.50,120.5 327.80,123.4 328.10,121.7 328.40,117.6 328.70,123.7 329.00,117.3 329.30,126.2 329.60,129.3 329.90,122.6 330.20,129.5 330.50,126.5 330.80,126.0 331.10,120.3 331.40,126.3 331.70,129.7 332.00,121.6 332.30,125.7 332.60,125.1 332.90,122.3 333.20,131.0 333.50,127.8 333.80,128.1 334.10,131.2 334.40,125.8 334.70,138.8 335.00,127.0 335.30,124.9 335.60,130.8 335.90,130.2 336.20,126.0 336.50,126.4 336.80,132.1 337.10,130.5 337.40,131.0 337.70,132.6 338.00,128.1 338.30,133.7 338.60,129.5 338.90,131.4 339.20,125.8 339.50,130.8 339.80,129.0 340.10,135.7 340.40,127.0 340.70,132.1 341.00,128.9 341.30,131.6 341.60,127.0 341.90,127.5 342.20,118.5 342.50,121.2 342.80,128.3 343.10,126.0 343.40,126.8 343.70,123.2 344.00,126.2 344.30,122.2 344.60,122.9 344.90,126.6 345.20,125.9 345.50,120.7 345.80,122.0 346.10,122.3 346.40,121.2 346.70,121.4 347.00,118.8 347.30,123.6 347.60,118.5 347.90,118.9 348.20,126.0 348.50,127.9 348.80,128.0 349.10,123.3 349.40,120.5 349.70,124.6 350.00,127.3 350.30,122.8 350.60,121.2 350.90,117.2 351.20,117.2 351.50,128.1 351.80,118.0 352.10,120.6 352.40,121.8 352.70,123.6 353.00,118.7 353.30,124.7 353.60,124.8 353.90,123.3 354.20,121.1 354.50,122.0 355.00,30.4" fill="none" stroke="#231815" stroke-width="0.75" stroke-linejoin="round" />
<path d="M303.00,30.4 303.30,35.3 303.60,37.9 303.90,38.5 304.20,33.4 304.50,41.9 304.80,37.7 305.10,39.9 305.40,40.4 305.70,37.2 306.00,42.8 306.30,43.6 306.60,41.3 306.90,31.9 307.20,45.6 307.50,41.1 307.80,39.7 308.10,40.2 308.40,38.9 308.70,41.4 309.00,44.8 309.30,39.6 309.60,44.1 309.90,41.8 310.20,44.4 310.50,46.3 310.80,50.7 311.10,55.2 311.40,54.2 311.70,59.3 312.00,63.5 312.30,56.4 312.60,65.7 312.90,64.5 313.20,66.7 313.50,72.1 313.80,69.9 314.10,70.4 314.40,78.1 314.70,79.1 315.00,78.7 315.30,88.1 315.60,77.6 315.90,77.2 316.20,83.4 316.50,82.2 316.80,88.6 317.10,87.2 317.40,88.9 317.70,92.5 318.00,91.5 318.30,89.7 318.60,95.2 318.90,101.4 319.20,101.6 319.50,105.5 319.80,109.5 320.10,108.4 320.40,106.2 320.70,104.8 321.00,109.5 321.30,113.9 321.60,114.1 321.90,113.4 322.20,108.7 322.50,113.9 322.80,115.1 323.10,117.6 323.40,110.4 323.70,113.1 324.00,116.5 324.30,117.3 324.60,115.8 324.90,120.1 325.20,118.4 325.50,123.7 325.80,119.4 326.10,122.4 326.40,115.9 326.70,124.0 327.00,122.1 327.30,127.3 327.60,125.2 327.90,130.5 328.20,125.0 328.50,122.0 328.80,127.1 329.10,128.0 329.40,123.6 329.70,121.6 330.00,127.9 330.30,128.7 330.60,127.5 330.90,125.2 331.20,124.7 331.50,129.7 331.80,126.9 332.10,121.2 332.40,120.5 332.70,125.7 333.00,125.8 333.30,121.3 333.60,120.7 333.90,126.0 334.20,121.7 334.50,125.2 334.80,118.8 335.10,118.9 335.40,116.4 335.70,121.6 336.00,120.2 336.30,116.3 336.60,122.4 336.90,120.5 337.20,121.7 337.50,127.1 337.80,125.9 338.10,124.6 338.40,122.2 338.70,119.7 339.00,121.6 339.30,122.8 339.60,128.2 339.90,121.5 340.20,122.9 340.50,124.8 340.80,126.3 341.10,128.8 341.40,129.8 341.70,125.3 342.00,132.1 342.30,128.4 342.60,123.9 342.90,123.5 343.20,125.6 343.50,126.3 343.80,129.9 344.10,125.0 344.40,126.0 344.70,125.3 345.00,129.1 345.30,123.5 345.60,129.7 345.90,125.3 346.20,127.0 346.50,129.0 346.80,128.4 347.10,136.2 347.40,124.3 347.70,120.4 348.00,122.8 348.30,129.5 348.60,123.3 348.90,129.8 349.20,125.7 349.50,128.7 349.80,121.3 350.10,129.4 350.40,129.6 350.70,122.8 351.00,129.9 351.30,133.9 351.60,125.4 351.90,122.3 352.20,123.2 352.50,124.1 352.80,128.1 353.10,130.6 353.40,123.3 353.70,123.8 354.00,120.0 354.30,122.6 354.60,125.6 354.90,117.6 355.40,30.4" fill="none" stroke="#231815" stroke-width="0.75" stroke-linejoin="round" />
<path d="M303.40,30.4 303.70,49.2 304.00,46.4 304.30,56.3 304.60,51.7 304.90,51.4 305.20,44.2 305.50,51.4 305.80,45.0 306.10,48.1 306.40,41.4 306.70,45.8 307.00,37.7 307.30,43.5 307.60,44.2 307.90,41.6 308.20,47.0 308.50,46.1 308.80,47.6 309.10,52.2 309.40,55.0 309.70,51.2 310.00,56.9 310.30,56.9 310.60,57.1 310.90,60.8 311.20,52.3 311.50,63.0 311.80,61.6 312.10,60.9 312.40,63.2 312.70,68.7 313.00,70.9 313.30,71.0 313.60,66.7 313.90,67.4 314.20,73.9 314.50,77.4 314.80,74.9 315.10,81.5 315.40,82.3 315.70,83.6 316.00,81.3 316.30,88.8 316.60,89.1 316.90,91.4 317.20,89.4 317.50,85.3 317.80,91.7 318.10,94.4 318.40,92.3 318.70,90.2 319.00,96.8 319.30,98.2 319.60,93.2 319.90,96.0 320.20,94.9 320.50,101.6 320.80,102.3 321.10,108.4 321.40,101.0 321.70,109.3 322.00,105.5 322.30,108.2 322.60,104.5 322.90,109.7 323.20,109.0 323.50,111.5 323.80,113.5 324.10,115.4 324.40,116.9 324.70,114.6 325.00,112.2 325.30,118.7 325.60,116.1 325.90,114.3 326.20,121.0 326.50,117.9 326.80,119.7 327.10,112.4 327.40,116.2 327.70,125.0 328.00,120.6 328.30,120.9 328.60,117.5 328.90,119.7 329.20,121.7 329.50,120.7 329.80,121.0 330.10,116.1 330.40,119.6 330.70,121.1 331.00,124.7 331.30,125.0 331.60,123.7 331.90,121.8 332.20,122.2 332.50,125.7 332.80,121.0 333.10,124.8 333.40,124.2 333.70,124.2 334.00,130.1 334.30,124.1 334.60,127.1 334.90,129.3 335.20,125.6 335.50,123.8 335.80,119.6 336.10,128.5 336.40,119.6 336.70,116.4 337.00,126.1 337.30,117.8 337.60,118.5 337.90,119.8 338.20,118.1 338.50,114.7 338.80,122.0 339.10,122.7 339.40,123.4 339.70,120.7 340.00,119.3 340.30,118.6 340.60,124.0 340.90,122.6 341.20,118.3 341.50,120.5 341.80,115.5 342.10,120.7 342.40,115.7 342.70,118.7 343.00,118.4 343.30,110.7 343.60,121.3 343.90,119.1 344.20,116.8 344.50,117.0 344.80,118.9 345.10,118.8 345.40,120.7 345.70,119.8 346.00,121.3 346.30,120.1 346.60,115.0 346.90,115.0 347.20,120.9 347.50,120.7 347.80,119.5 348.10,115.4 348.40,117.3 348.70,117.0 349.00,121.7 349.30,117.0 349.60,115.3 349.90,117.1 350.20,120.7 350.50,124.7 350.80,118.2 351.10,123.3 351.40,118.4 351.70,118.4 352.00,117.1 352.30,122.4 352.60,118.3 352.90,122.9 353.20,118.7 353.50,125.5 353.80,120.7 354.00,30.4" fill="none" stroke="#231815" stroke-width="0.75" stroke-linejoin="round" />
<path d="M303.80,30.4 304.10,109.6 304.40,104.1 304.70,104.4 305.00,110.1 305.30,100.7 305.60,98.3 305.90,100.2 306.20,92.4 306.50,98.0 306.80,91.7 307.10,86.2 307.40,87.5 307.70,83.9 308.00,86.4 308.30,80.9 308.60,82.8 308.90,72.5 309.20,75.4 309.50,76.7 309.80,74.6 310.10,71.8 310.40,73.5 310.70,73.1 311.00,70.2 311.30,70.4 311.60,72.1 311.90,69.3 312.20,60.2 312.50,62.8 312.80,65.3 313.10,69.0 313.40,66.6 313.70,68.0 314.00,68.6 314.30,66.7 314.60,61.5 314.90,66.7 315.20,59.3 315.50,59.0 315.80,61.2 316.10,54.9 316.40,66.9 316.70,68.6 317.00,60.1 317.30,58.9 317.60,53.0 317.90,60.8 318.20,57.7 318.50,57.4 318.80,58.2 319.10,63.6 319.40,64.6 319.70,66.3 320.00,66.1 320.30,63.9 320.60,75.3 320.90,74.7 321.20,71.7 321.50,70.6 321.80,73.1 322.10,79.8 322.40,80.6 322.70,81.3 323.00,85.6 323.30,81.4 323.60,89.1 323.90,86.4 324.20,84.9 324.50,90.3 324.80,91.1 325.10,89.2 325.40,98.6 325.70,89.2 326.00,96.7 326.30,98.6 326.60,96.6 326.90,100.5 327.20,105.9 327.50,99.7 327.80,101.3 328.10,105.1 328.40,109.3 328.70,112.7 329.00,112.5 329.30,108.5 329.60,117.1 329.90,117.3 330.20,119.8 330.50,112.7 330.80,114.1 331.10,118.7 331.40,120.9 331.70,123.7 332.00,121.8 332.30,121.7 332.60,126.4 332.90,118.2 333.20,121.1 333.50,124.9 333.80,127.1 334.10,125.5 334.40,129.6 334.70,125.4 335.00,126.6 335.30,126.9 335.60,124.4 335.90,119.9 336.20,123.1 336.50,123.3 336.80,121.1 337.10,125.9 337.40,122.0 337.70,118.8 338.00,123.5 338.30,120.2 338.60,125.0 338.90,114.9 339.20,117.7 339.50,123.1 339.80,123.8 340.10,123.2 340.40,127.9 340.70,122.4 341.00,121.7 341.30,126.1 341.60,122.6 341.90,125.0 342.20,127.9 342.50,123.5 342.80,123.8 343.10,122.4 343.40,125.7 343.70,126.6 344.00,128.0 344.30,127.0 344.60,131.3 344.90,125.7 345.20,125.7 345.50,124.6 345.80,129.6 346.10,126.0 346.40,125.0 346.70,121.9 347.00,125.7 347.30,129.0 347.60,118.3 347.90,123.1 348.20,123.6 348.50,123.7 348.80,126.3 349.10,124.7 349.40,126.2 349.70,126.5 350.00,129.7 350.30,124.4 350.60,126.1 350.90,124.1 351.20,125.2 351.50,123.4 351.80,120.6 352.10,125.3 352.40,127.3 352.70,120.8 353.00,123.4 353.30,123.2 353.60,116.5 353.90,129.1 354.20,127.4 354.60,30.4" fill="none" stroke="#231815" stroke-width="0.75" stroke-linejoin="round" />
<path d="M304.30,30.4 304.60,133.4 304.90,131.5 305.20,127.7 305.50,124.9 305.80,132.4 306.10,126.5 306.40,122.9 306.70,117.2 307.00,115.2 307.30,110.0 307.60,116.7 307.90,117.1 308.20,114.4 308.50,113.7 308.80,113.2 309.10,113.8 309.40,104.2 309.70,104.6 310.00,110.1 310.30,106.9 310.60,106.3 310.90,100.3 311.20,106.6 311.50,100.5 311.80,97.7 312.10,93.9 312.40,95.6 312.70,93.8 313.00,91.1 313.30,94.9 313.60,91.8 313.90,86.3 314.20,82.8 314.50,81.5 314.80,82.2 315.10,70.6 315.40,78.7 315.70,75.3 316.00,81.0 316.30,73.9 316.60,70.2 316.90,69.2 317.20,65.3 317.50,63.4 317.80,63.7 318.10,56.1 318.40,61.9 318.70,55.9 319.00,58.3 319.30,57.6 319.60,61.4 319.90,63.5 320.20,62.4 320.50,55.7 320.80,55.9 321.10,56.1 321.40,55.8 321.70,58.2 322.00,56.1 322.30,53.3 322.60,58.8 322.90,54.9 323.20,57.2 323.50,50.5 323.80,51.9 324.10,50.5 324.40,49.3 324.70,44.8 325.00,48.3 325.30,42.2 325.60,47.4 325.90,51.0 326.20,48.5 326.50,45.2 326.80,42.6 327.10,46.1 327.40,42.2 327.70,43.5 328.00,45.0 328.30,52.2 328.60,48.5 328.90,56.4 329.20,59.5 329.50,60.3 329.80,59.6 330.10,63.1 330.40,59.7 330.70,66.0 331.00,72.4 331.30,73.6 331.60,65.7 331.90,72.3 332.20,73.2 332.50,79.0 332.80,78.8 333.10,79.4 333.40,79.5 333.70,83.8 334.00,84.7 334.30,86.6 334.60,87.2 334.90,85.1 335.20,91.6 335.50,93.1 335.80,93.6 336.10,95.1 336.40,99.4 336.70,100.3 337.00,103.4 337.30,101.7 337.60,103.4 337.90,102.2 338.20,100.1 338.50,101.0 338.80,107.6 339.10,107.7 339.40,110.3 339.70,102.6 340.00,110.5 340.30,112.8 340.60,112.5 340.90,114.1 341.20,109.9 341.50,115.6 341.80,120.3 342.10,113.0 342.40,118.6 342.70,114.9 343.00,118.1 343.30,122.4 343.60,118.4 343.90,119.8 344.20,121.0 344.50,119.2 344.80,123.6 345.10,113.6 345.40,119.3 345.70,114.6 346.00,116.1 346.30,121.3 346.60,117.8 346.90,120.7 347.20,126.6 347.50,124.4 347.80,134.9 348.10,123.0 348.40,123.9 348.70,116.2 349.00,124.3 349.30,122.9 349.60,125.9 349.90,124.5 350.20,122.4 350.50,118.2 350.80,126.9 351.10,122.2 351.40,119.0 351.70,125.7 352.00,118.1 352.30,122.5 352.60,117.9 352.90,123.6 353.20,119.1 353.50,133.8 353.80,128.1 354.10,126.1 354.40,125.7 354.70,126.7 355.00,127.3 355.30,125.5 355.60,121.2 356.10,30.4" fill="none" stroke="#231815" stroke-width="0.75" stroke-linejoin="round" />
<path d="M304.80,30.4 305.10,119.5 305.40,122.7 305.70,123.4 306.00,122.2 306.30,123.2 306.60,121.6 306.90,123.3 307.20,123.8 307.50,126.2 307.80,128.0 308.10,124.2 308.40,129.2 308.70,125.0 309.00,122.4 309.30,123.2 309.60,121.6 309.90,122.2 310.20,122.4 310.50,122.1 310.80,124.3 311.10,122.1 311.40,117.5 311.70,119.9 312.00,117.0 312.30,118.9 312.60,119.6 312.90,114.5 313.20,116.5 313.50,117.6 313.80,113.6 314.10,108.1 314.40,110.4 314.70,107.0 315.00,112.3 315.30,108.3 315.60,107.3 315.90,110.6 316.20,105.9 316.50,102.5 316.80,94.9 317.10,97.6 317.40,95.7 317.70,95.9 318.00,91.1 318.30,95.6 318.60,96.3 318.90,89.7 319.20,84.8 319.50,88.4 319.80,85.9 320.10,88.4 320.40,83.6 320.70,80.0 321.00,76.6 321.30,79.7 321.60,70.7 321.90,73.3 322.20,78.2 322.50,74.6 322.80,74.3 323.10,72.9 323.40,68.5 323.70,71.0 324.00,72.9 324.30,72.4 324.60,66.7 324.90,69.5 325.20,71.5 325.50,68.6 325.80,71.9 326.10,66.4 326.40,60.4 326.70,64.9 327.00,64.7 327.30,65.6 327.60,64.3 327.90,66.8 328.20,63.2 328.50,61.2 328.80,58.1 329.10,58.3 329.40,62.5 329.70,63.7 330.00,58.0 330.30,59.0 330.60,59.2 330.90,62.1 331.20,63.0 331.50,62.7 331.80,68.7 332.10,63.8 332.40,69.2 332.70,70.8 333.00,73.8 333.30,72.7 333.60,71.7 333.90,75.9 334.20,74.4 334.50,78.0 334.80,78.2 335.10,89.8 335.40,76.7 335.70,81.2 336.00,90.5 336.30,87.4 336.60,85.1 336.90,93.0 337.20,99.0 337.50,93.7 337.80,97.6 338.10,91.8 338.40,95.5 338.70,99.2 339.00,100.4 339.30,98.9 339.60,100.5 339.90,101.6 340.20,102.3 340.50,104.3 340.80,105.5 341.10,110.0 341.40,105.3 341.70,112.7 342.00,117.9 342.30,114.1 342.60,113.4 342.90,113.1 343.20,115.7 343.50,114.8 343.80,120.7 344.10,120.4 344.40,123.4 344.70,122.1 345.00,124.0 345.30,126.5 345.60,125.0 345.90,130.9 346.20,126.0 346.50,121.2 346.80,124.8 347.10,125.5 347.40,123.7 347.70,126.0 348.00,125.7 348.30,128.3 348.60,123.9 348.90,121.5 349.20,123.3 349.50,118.8 349.80,116.6 350.10,121.9 350.40,123.8 350.70,123.4 351.00,129.6 351.30,122.6 351.60,122.4 351.90,132.8 352.20,121.8 352.50,129.4 352.80,126.8 353.10,119.2 353.40,30.4" fill="none" stroke="#231815" stroke-width="0.75" stroke-linejoin="round" />
<path d="M305.40,30.4 305.70,139.9 306.00,137.9 306.30,127.7 306.60,136.6 306.90,133.4 307.20,133.3 307.50,128.8 307.80,138.9 308.10,133.8 308.40,130.2 308.70,129.7 309.00,129.9 309.30,129.5 309.60,131.8 309.90,129.9 310.20,126.5 310.50,126.7 310.80,128.9 311.10,123.2 311.40,124.4 311.70,128.2 312.00,124.6 312.30,129.5 312.60,121.6 312.90,124.1 313.20,123.3 313.50,123.4 313.80,128.9 314.10,130.2 314.40,127.4 314.70,127.1 315.00,133.5 315.30,133.2 315.60,121.8 315.90,128.5 316.20,122.5 316.50,124.4 316.80,127.5 317.10,126.3 317.40,132.2 317.70,129.2 318.00,130.1 318.30,130.9 318.60,137.0 318.90,132.7 319.20,134.1 319.50,131.7 319.80,132.9 320.10,128.0 320.40,126.6 320.70,129.8 321.00,125.1 321.30,118.4 321.60,118.4 321.90,119.9 322.20,121.8 322.50,116.7 322.80,122.8 323.10,118.3 323.40,115.0 323.70,110.9 324.00,115.9 324.30,114.6 324.60,107.8 324.90,114.6 325.20,113.2 325.50,112.9 325.80,107.0 326.10,108.9 326.40,98.1 326.70,104.7 327.00,100.7 327.30,100.4 327.60,100.8 327.90,95.8 328.20,96.2 328.50,92.3 328.80,91.6 329.10,89.3 329.40,92.7 329.70,94.3 330.00,85.8 330.30,82.5 330.60,85.6 330.90,86.3 331.20,84.5 331.50,78.7 331.80,81.1 332.10,77.1 332.40,77.1 332.70,76.7 333.00,74.5 333.30,76.0 333.60,71.6 333.90,76.8 334.20,71.2 334.50,66.3 334.80,72.0 335.10,70.6 335.40,67.8 335.70,65.9 336.00,66.0 336.30,66.7 336.60,62.6 336.90,64.6 337.20,59.2 337.50,61.6 337.80,55.9 338.10,59.2 338.40,58.9 338.70,54.4 339.00,56.3 339.30,48.2 339.60,52.8 339.90,51.3 340.20,53.1 340.50,50.0 340.80,52.4 341.10,54.2 341.40,47.5 341.70,49.0 342.00,50.6 342.30,48.8 342.60,49.8 342.90,46.2 343.20,48.6 343.50,44.7 343.80,51.2 344.10,50.3 344.40,50.8 344.70,44.1 345.00,53.7 345.30,55.8 345.60,56.0 345.90,53.5 346.20,55.9 346.50,51.1 346.80,48.1 347.10,49.2 347.40,46.3 347.70,53.3 348.00,39.2 348.30,46.9 348.60,42.6 348.90,42.8 349.20,45.9 349.50,42.7 349.80,45.5 350.10,40.9 350.40,40.6 350.70,40.9 351.00,44.1 351.30,37.7 351.60,38.4 351.90,37.3 352.20,37.1 352.50,34.3 352.80,30.4" fill="none" stroke="#231815" stroke-width="0.75" stroke-linejoin="round" />
<path d="M306.00,30.4 306.30,109.5 306.60,111.4 306.90,106.3 307.20,104.3 307.50,105.9 307.80,111.8 308.10,106.0 308.40,106.3 308.70,101.1 309.00,100.8 309.30,96.9 309.60,96.1 309.90,95.5 310.20,98.1 310.50,94.8 310.80,90.1 311.10,90.5 311.40,86.9 311.70,89.9 312.00,87.7 312.30,89.0 312.60,91.9 312.90,92.9 313.20,97.1 313.50,91.7 313.80,97.7 314.10,96.3 314.40,101.1 314.70,98.1 315.00,96.0 315.30,101.2 315.60,102.0 315.90,102.0 316.20,105.6 316.50,111.8 316.80,108.6 317.10,113.2 317.40,116.7 317.70,117.1 318.00,116.8 318.30,119.6 318.60,116.8 318.90,115.5 319.20,116.3 319.50,125.3 319.80,128.0 320.10,123.5 320.40,123.5 320.70,115.2 321.00,123.5 321.30,119.9 321.60,113.4 321.90,119.7 322.20,119.0 322.50,118.7 322.80,114.7 323.10,114.8 323.40,110.3 323.70,116.3 324.00,109.8 324.30,113.8 324.60,110.5 324.90,107.1 325.20,110.8 325.50,103.7 325.80,105.9 326.10,104.1 326.40,102.2 326.70,102.2 327.00,102.8 327.30,98.3 327.60,96.9 327.90,96.8 328.20,95.9 328.50,95.3 328.80,99.9 329.10,94.4 329.40,100.2 329.70,99.7 330.00,102.4 330.30,104.1 330.60,104.1 330.90,104.1 331.20,108.9 331.50,104.0 331.80,102.6 332.10,106.3 332.40,110.0 332.70,114.2 333.00,115.8 333.30,111.3 333.60,114.5 333.90,116.7 334.20,110.9 334.50,117.8 334.80,115.3 335.10,114.3 335.40,117.2 335.70,118.2 336.00,110.7 336.30,114.9 336.60,113.0 336.90,107.8 337.20,108.2 337.50,104.0 337.80,100.4 338.10,100.2 338.40,92.1 338.70,97.2 339.00,95.2 339.30,92.2 339.60,90.6 339.90,85.2 340.20,82.5 340.50,76.4 340.80,74.2 341.10,74.9 341.40,77.7 341.70,72.5 342.00,74.4 342.30,70.3 342.60,62.4 342.90,61.4 343.20,57.5 343.50,54.1 343.80,57.0 344.10,56.4 344.40,50.2 344.70,55.0 345.00,53.1 345.30,47.3 345.60,48.9 345.90,43.5 346.20,45.3 346.50,45.6 346.80,36.9 347.10,45.9 347.40,34.8 347.70,39.1 348.00,36.0 348.30,41.0 348.60,36.3 348.90,38.2 349.20,50.3 349.50,46.6 349.80,44.8 350.10,40.6 350.40,44.6 350.70,39.1 351.00,42.6 351.30,47.1 351.60,49.0 352.00,30.4" fill="none" stroke="#231815" stroke-width="0.75" stroke-linejoin="round" />
<path d="M302.80,30.4 303.10,131.8 303.40,130.6 303.70,138.3 304.00,125.4 304.30,138.8 304.60,133.6 304.90,136.6 305.20,131.0 305.50,132.3 305.80,136.4 306.10,138.2 306.40,131.0 306.70,137.3 307.00,138.7 307.30,140.4 307.60,143.8 307.90,143.4 308.20,141.6 308.50,138.0 308.80,136.4 309.10,141.3 309.40,145.1 309.70,140.1 310.00,142.5 310.30,135.6 310.60,141.6 310.90,137.6 311.20,138.1 311.50,139.4 311.80,139.3 312.10,137.2 312.40,137.2 312.70,136.5 313.00,132.8 313.30,133.6 313.60,134.1 313.90,138.7 314.20,129.3 314.50,132.9 314.80,135.3 315.10,133.8 315.40,128.2 315.70,126.7 316.00,128.5 316.30,130.6 316.60,131.8 316.90,128.0 317.20,128.6 317.50,126.5 317.80,124.6 318.10,130.6 318.40,131.8 318.70,125.3 319.00,122.7 319.30,126.9 319.60,119.7 319.90,119.6 320.20,124.2 320.50,129.5 320.80,122.6 321.10,124.1 321.40,128.9 321.70,120.4 322.00,119.2 322.30,131.0 322.60,127.5 322.90,123.1 323.20,126.1 323.50,127.4 323.80,123.7 324.10,132.6 324.40,119.5 324.70,129.9 325.00,126.1 325.30,125.5 325.60,125.8 325.90,123.0 326.20,124.5 326.50,123.6 326.80,120.7 327.10,127.1 327.40,120.9 327.70,121.9 328.00,130.9 328.30,122.9 328.60,129.3 328.90,128.4 329.20,124.8 329.50,128.9 329.80,122.0 330.10,120.8 330.40,121.9 330.70,122.1 331.00,124.6 331.30,129.1 331.60,120.1 331.90,121.7 332.20,122.3 332.50,123.1 332.80,121.0 333.10,126.3 333.40,120.5 333.70,118.6 334.00,126.8 334.30,125.7 334.60,121.1 334.90,118.1 335.20,121.3 335.50,122.9 335.80,125.5 336.10,125.7 336.40,119.9 336.70,121.3 337.00,120.8 337.30,121.8 337.60,120.5 337.90,121.1 338.20,122.0 338.50,123.1 338.80,117.3 339.10,122.1 339.40,126.0 339.70,125.3 340.00,126.4 340.30,126.8 340.60,126.4 340.90,128.3 341.20,125.4 341.50,121.7 341.80,129.8 342.10,127.3 342.40,121.0 342.70,129.4 343.00,129.5 343.30,123.1 343.60,128.9 343.90,127.6 344.20,129.2 344.50,126.5 344.80,134.0 345.10,125.7 345.40,125.1 345.70,126.7 346.00,127.6 346.30,125.7 346.60,131.9 346.90,123.7 347.20,134.0 347.50,121.8 347.80,127.5 348.10,131.3 348.40,132.9 348.70,124.5 349.00,120.2 349.30,122.4 349.60,122.7 349.90,126.2 350.20,120.8 350.50,126.5 350.80,120.3 351.10,125.5 351.40,130.8 351.70,124.9 352.00,125.9 352.30,122.6 352.60,120.7 352.90,123.1 353.20,123.1 353.50,111.7 353.80,118.0 354.10,126.9 354.40,121.9 354.70,120.3 355.00,118.2 355.50,30.4" fill="none" stroke="#231815" stroke-width="0.75" stroke-linejoin="round" />
<path d="M307.50,30.4 307.80,105.5 308.10,100.4 308.40,106.3 308.70,99.7 309.00,109.1 309.30,102.9 309.60,109.0 309.90,111.6 310.20,106.5 310.50,113.4 310.80,112.8 311.10,116.0 311.40,120.1 311.70,118.3 312.00,123.6 312.30,118.3 312.60,119.2 312.90,126.6 313.20,121.5 313.50,127.3 313.80,124.8 314.10,127.5 314.40,127.0 314.70,121.3 315.00,119.4 315.30,115.0 315.60,120.1 315.90,112.7 316.20,110.4 316.50,111.2 316.80,108.2 317.10,104.7 317.40,106.3 317.70,103.5 318.00,99.0 318.30,97.6 318.60,101.1 318.90,95.4 319.20,91.4 319.50,90.7 319.80,90.7 320.10,93.0 320.40,81.2 320.70,84.3 321.00,79.2 321.30,83.4 321.60,82.1 321.90,83.1 322.20,84.5 322.50,86.8 322.80,90.8 323.10,97.4 323.40,89.7 323.70,91.8 324.00,94.4 324.30,102.2 324.60,103.5 324.90,104.9 325.20,103.6 325.50,103.4 325.80,101.1 326.10,106.6 326.40,108.8 326.70,107.9 327.00,108.8 327.30,108.6 327.60,115.1 327.90,114.9 328.20,119.7 328.50,116.2 328.80,117.9 329.10,124.0 329.40,119.1 329.70,112.4 330.00,113.5 330.30,111.2 330.60,112.3 330.90,105.5 331.20,112.1 331.50,110.6 331.80,106.8 332.10,105.3 332.40,103.9 332.70,101.1 333.00,104.7 333.30,96.6 333.60,105.9 333.90,93.5 334.20,96.3 334.50,90.9 334.80,90.0 335.10,90.5 335.40,84.8 335.70,89.8 336.00,87.2 336.30,86.9 336.60,86.1 336.90,79.7 337.20,81.6 337.50,82.1 337.80,87.0 338.10,83.7 338.40,82.0 338.70,86.4 339.00,84.6 339.30,89.3 339.60,91.5 339.90,90.9 340.20,85.9 340.50,91.9 340.80,86.9 341.10,89.1 341.40,93.9 341.70,92.2 342.00,98.0 342.30,95.4 342.60,94.0 342.90,97.6 343.20,94.9 343.50,99.4 343.80,88.8 344.10,96.1 344.40,94.1 344.70,97.2 345.00,96.4 345.30,106.0 345.60,103.2 345.90,102.6 346.20,107.3 346.50,98.2 346.80,112.0 347.10,102.7 347.40,111.3 347.70,118.6 348.00,110.3 348.30,112.7 348.60,110.0 348.90,112.8 349.20,121.1 349.50,122.4 349.80,121.9 350.10,125.7 350.40,123.3 350.70,122.1 351.00,123.9 351.30,121.6 351.60,118.2 351.90,124.9 352.20,127.3 352.50,129.9 352.80,128.4 353.10,125.6 353.40,124.1 353.70,126.7 354.20,30.4" fill="none" stroke="#231815" stroke-width="0.75" stroke-linejoin="round" />
<path d="M303.20,30.4 303.50,134.6 303.80,130.8 304.10,129.0 304.40,132.9 304.70,132.0 305.00,128.8 305.30,134.3 305.60,129.8 305.90,121.6 306.20,131.7 306.50,126.5 306.80,130.5 307.10,121.6 307.40,121.2 307.70,122.0 308.00,123.8 308.30,124.4 308.60,119.0 308.90,131.7 309.20,117.1 309.50,118.1 309.80,125.2 310.10,124.4 310.40,123.5 310.70,120.2 311.00,119.6 311.30,126.7 311.60,115.7 311.90,118.2 312.20,120.5 312.50,121.2 312.80,124.3 313.10,121.5 313.40,122.4 313.70,123.2 314.00,121.0 314.30,123.0 314.60,118.9 314.90,119.9 315.20,123.1 315.50,122.3 315.80,125.6 316.10,124.1 316.40,125.0 316.70,127.3 317.00,118.9 317.30,121.1 317.60,123.8 317.90,130.7 318.20,123.8 318.50,131.1 318.80,128.7 319.10,126.0 319.40,127.2 319.70,127.9 320.00,124.9 320.30,131.1 320.60,128.0 320.90,126.7 321.20,125.0 321.50,128.9 321.80,129.1 322.10,130.2 322.40,134.9 322.70,129.9 323.00,126.1 323.30,126.1 323.60,124.4 323.90,125.5 324.20,124.0 324.50,130.4 324.80,119.6 325.10,130.5 325.40,123.2 325.70,120.1 326.00,121.1 326.30,122.8 326.60,122.4 326.90,119.9 327.20,124.1 327.50,115.9 327.80,116.4 328.10,120.9 328.40,113.7 328.70,114.7 329.00,118.1 329.30,117.6 329.60,116.8 329.90,116.3 330.20,113.5 330.50,113.4 330.80,112.5 331.10,111.6 331.40,115.4 331.70,113.1 332.00,116.3 332.30,114.2 332.60,117.7 332.90,108.0 333.20,122.4 333.50,113.8 333.80,116.1 334.10,116.2 334.40,124.4 334.70,114.4 335.00,118.5 335.30,119.3 335.60,128.3 335.90,125.8 336.20,119.1 336.50,121.6 336.80,123.5 337.10,121.2 337.40,128.9 337.70,125.9 338.00,120.1 338.30,126.3 338.60,126.5 338.90,125.7 339.20,128.2 339.50,129.6 339.80,126.5 340.10,125.3 340.40,128.4 340.70,121.7 341.00,130.4 341.30,122.9 341.60,127.6 341.90,126.5 342.20,128.8 342.50,125.2 342.80,128.3 343.10,121.7 343.40,131.4 343.70,128.7 344.00,129.9 344.30,125.2 344.60,127.6 344.90,125.5 345.20,126.7 345.50,123.3 345.80,126.5 346.10,118.3 346.40,130.2 346.70,122.7 347.00,129.4 347.30,130.6 347.60,127.9 347.90,121.6 348.20,125.9 348.50,126.7 348.80,126.4 349.10,124.8 349.40,123.3 349.70,121.6 350.00,121.3 350.30,122.3 350.60,121.0 350.90,119.9 351.20,119.2 351.50,120.1 351.80,117.6 352.10,122.0 352.40,118.8 352.70,121.9 353.00,115.4 353.30,114.4 353.60,115.1 353.90,116.0 354.20,115.9 354.50,118.6 354.80,108.4 355.20,30.4" fill="none" stroke="#231815" stroke-width="0.75" stroke-linejoin="round" />
<path d="M309.50,30.4 309.80,76.5 310.10,76.0 310.40,74.7 310.70,79.6 311.00,76.6 311.30,81.1 311.60,86.7 311.90,84.2 312.20,83.1 312.50,82.5 312.80,85.1 313.10,85.3 313.40,94.3 313.70,92.7 314.00,91.8 314.30,94.1 314.60,100.3 314.90,94.6 315.20,95.5 315.50,102.6 315.80,101.1 316.10,96.6 316.40,102.9 316.70,102.0 317.00,102.4 317.30,103.0 317.60,103.8 317.90,106.9 318.20,110.2 318.50,105.6 318.80,111.1 319.10,106.0 319.40,111.1 319.70,116.1 320.00,114.0 320.30,114.1 320.60,121.0 320.90,119.2 321.20,119.5 321.50,121.4 321.80,116.6 322.10,120.9 322.40,128.6 322.70,126.4 323.00,130.3 323.30,121.8 323.60,123.0 323.90,126.5 324.20,126.3 324.50,116.6 324.80,122.7 325.10,121.3 325.40,119.7 325.70,122.4 326.00,117.9 326.30,121.3 326.60,121.5 326.90,117.3 327.20,118.7 327.50,110.6 327.80,119.2 328.10,117.1 328.40,111.3 328.70,110.8 329.00,115.4 329.30,122.1 329.60,115.6 329.90,111.0 330.20,113.8 330.50,108.5 330.80,113.5 331.10,113.4 331.40,116.8 331.70,120.6 332.00,116.4 332.30,124.0 332.60,118.0 332.90,119.5 333.20,118.6 333.50,116.3 333.80,117.9 334.10,119.0 334.40,125.7 334.70,120.8 335.00,117.2 335.30,123.2 335.60,123.7 335.90,119.7 336.20,124.9 336.50,124.7 336.80,120.3 337.10,127.9 337.40,121.0 337.70,123.1 338.00,128.3 338.30,121.3 338.60,118.1 338.90,124.3 339.20,126.9 339.50,126.5 339.80,125.0 340.10,122.2 340.40,130.0 340.70,129.5 341.00,127.2 341.30,128.2 341.60,121.0 341.90,128.9 342.20,131.1 342.50,129.4 342.80,129.8 343.10,127.7 343.40,127.5 343.70,120.1 344.00,125.4 344.30,127.8 344.60,124.1 344.90,122.4 345.20,125.9 345.50,124.4 345.80,131.1 346.10,126.0 346.40,126.7 346.70,131.3 347.00,123.6 347.30,127.8 347.60,131.8 347.90,123.9 348.20,125.3 348.50,129.6 348.80,129.3 349.10,124.5 349.40,124.5 349.70,124.3 350.00,123.5 350.30,128.1 350.60,124.8 350.90,123.4 351.20,123.3 351.50,128.2 351.80,116.6 352.10,124.0 352.40,126.0 352.70,122.9 353.00,121.9 353.30,126.5 353.70,30.4" fill="none" stroke="#231815" stroke-width="0.75" stroke-linejoin="round" />
<path d="M305.28,30.4 305.58,132.5 305.88,131.5 306.18,130.8 306.48,129.4 306.78,132.4 307.08,131.3 307.38,128.6 307.68,129.5 307.98,130.3 308.28,134.6 308.58,130.1 308.88,129.5 309.18,126.1 309.48,132.6 309.78,131.0 310.08,130.6 310.38,130.1 310.68,130.9 310.98,123.6 311.28,125.5 311.58,127.1 311.88,130.0 312.18,128.5 312.48,129.5 312.78,127.3 313.08,127.7 313.38,123.2 313.68,123.3 313.98,123.9 314.28,123.3 314.58,125.8 314.88,123.4 315.18,123.0 315.48,122.3 315.78,126.5 316.08,120.2 316.38,123.2 316.68,119.2 316.98,121.5 317.28,121.1 317.58,119.1 317.88,116.7 318.18,121.0 318.48,120.7 318.78,119.5 319.08,119.9 319.38,119.5 319.68,127.9 319.98,119.4 320.28,116.1 320.58,116.0 320.88,123.3 321.18,115.7 321.48,123.2 321.78,119.9 322.08,122.3 322.38,121.8 322.68,124.7 322.98,120.5 323.28,121.8 323.58,119.5 323.88,115.2 324.18,124.4 324.48,114.7 324.78,119.4 325.08,119.4 325.38,116.2 325.68,110.8 325.98,117.4 326.28,107.2 326.58,112.7 326.88,112.1 327.18,102.8 327.48,107.7 327.78,101.6 328.08,104.5 328.38,95.4 328.68,105.9 328.98,101.2 329.28,97.9 329.58,95.2 329.88,99.7 330.18,95.2 330.48,93.6 330.78,89.7 331.08,88.6 331.38,87.9 331.68,84.9 331.98,87.9 332.28,92.6 332.58,88.4 332.88,89.0 333.18,87.6 333.48,93.2 333.78,84.0 334.08,79.4 334.38,75.5 334.68,83.0 334.98,85.2 335.28,87.4 335.58,79.0 335.88,81.6 336.18,87.8 336.48,77.6 336.78,79.4 337.08,81.0 337.38,78.4 337.68,81.2 337.98,74.8 338.28,78.4 338.58,78.3 338.88,83.0 339.18,81.2 339.48,81.0 339.78,75.4 340.08,82.5 340.38,78.5 340.68,84.4 340.98,76.3 341.28,78.9 341.58,81.6 341.88,89.5 342.18,82.7 342.48,87.1 342.78,87.0 343.08,92.6 343.38,90.4 343.68,97.4 343.98,90.3 344.28,101.4 344.58,95.8 344.88,93.0 345.18,100.5 345.48,99.0 345.78,97.7 346.08,106.0 346.38,101.4 346.68,100.3 346.98,106.3 347.28,109.0 347.58,110.0 347.88,104.1 348.18,115.2 348.48,111.7 348.78,112.4 349.08,106.5 349.38,106.9 349.68,107.3 349.98,108.7 350.28,115.3 350.58,108.5 350.88,107.9 351.18,111.4 351.48,111.7 351.78,109.1 352.08,104.3 352.38,100.0 352.68,97.5 352.98,103.2 353.28,101.6 353.58,106.2 353.79,30.4" fill="none" stroke="#231815" stroke-width="0.75" stroke-linejoin="round" />
<path d="M303.00,30.4 303.30,145.2 303.60,145.7 303.90,134.9 304.20,136.0 304.50,139.3 304.80,130.8 305.10,129.9 305.40,130.0 305.70,131.3 306.00,126.6 306.30,121.8 306.60,123.6 306.90,116.3 307.20,113.1 307.50,114.4 307.80,112.9 308.10,112.0 308.40,110.3 308.70,106.0 309.00,99.5 309.30,97.9 309.60,103.0 309.90,107.8 310.20,103.4 310.50,105.7 310.80,110.7 311.10,105.6 311.40,113.3 311.70,110.5 312.00,111.5 312.30,116.4 312.60,113.4 312.90,119.8 313.20,114.2 313.50,116.1 313.80,118.4 314.10,122.9 314.40,117.5 314.70,121.7 315.00,122.3 315.30,124.7 315.60,119.4 315.90,122.7 316.20,124.4 316.50,128.1 316.80,121.8 317.10,123.4 317.40,122.7 317.70,111.4 318.00,122.6 318.30,121.9 318.60,118.7 318.90,119.7 319.20,122.1 319.50,123.1 319.80,122.7 320.10,121.5 320.40,123.4 320.70,126.4 321.00,123.1 321.30,127.9 321.60,129.0 321.90,127.4 322.20,121.9 322.50,122.2 322.80,113.6 323.10,120.8 323.40,119.8 323.70,117.5 324.00,112.1 324.30,121.9 324.60,122.1 324.90,117.4 325.20,120.3 325.50,115.8 325.80,109.8 326.10,115.6 326.40,113.8 326.70,113.9 327.00,113.8 327.30,110.0 327.60,107.8 327.90,115.5 328.20,110.8 328.50,110.1 328.80,103.2 329.10,96.5 329.40,98.5 329.70,105.8 330.00,101.7 330.30,91.5 330.60,94.0 330.90,90.7 331.20,93.2 331.50,97.2 331.80,87.6 332.10,89.2 332.40,85.9 332.70,84.7 333.00,82.7 333.30,83.7 333.60,87.6 333.90,87.0 334.20,87.8 334.50,82.7 334.80,82.8 335.10,85.3 335.40,84.1 335.70,81.6 336.00,82.6 336.30,89.4 336.60,83.4 336.90,85.6 337.20,86.7 337.50,83.0 337.80,89.1 338.10,84.1 338.40,85.6 338.70,81.5 339.00,85.0 339.30,82.4 339.60,84.4 339.90,80.1 340.20,80.0 340.50,81.4 340.80,84.0 341.10,77.1 341.40,82.2 341.70,82.5 342.00,87.2 342.30,77.1 342.60,80.5 342.90,88.8 343.20,88.3 343.50,89.7 343.80,89.0 344.10,90.8 344.40,92.1 344.70,94.4 345.00,88.2 345.30,90.6 345.60,97.5 345.90,98.0 346.20,91.9 346.50,101.1 346.80,97.9 347.10,99.6 347.40,96.5 347.70,95.0 348.00,98.4 348.30,98.7 348.60,95.8 348.90,100.3 349.20,100.7 349.50,95.7 349.80,99.0 350.10,101.8 350.40,100.2 350.70,105.5 351.00,107.7 351.30,101.0 351.60,105.7 351.90,106.8 352.20,108.9 352.50,101.6 352.80,103.9 353.10,108.9 353.40,112.0 353.70,109.9 354.00,106.7 354.30,111.5 354.56,30.4" fill="none" stroke="#231815" stroke-width="0.75" stroke-linejoin="round" />
<path d="M306.48,30.4 306.78,114.6 307.08,109.3 307.38,113.4 307.68,113.7 307.98,110.4 308.28,112.0 308.58,112.4 308.88,115.0 309.18,110.6 309.48,112.4 309.78,113.5 310.08,108.9 310.38,111.3 310.68,111.3 310.98,113.5 311.28,109.3 311.58,112.8 311.88,114.0 312.18,117.5 312.48,113.3 312.78,118.1 313.08,114.6 313.38,115.4 313.68,111.0 313.98,111.6 314.28,115.3 314.58,112.1 314.88,119.5 315.18,115.2 315.48,123.5 315.78,113.5 316.08,117.6 316.38,117.6 316.68,116.8 316.98,117.8 317.28,110.2 317.58,117.4 317.88,120.9 318.18,117.6 318.48,113.4 318.78,115.8 319.08,116.6 319.38,118.7 319.68,113.2 319.98,118.3 320.28,111.8 320.58,116.7 320.88,113.8 321.18,119.8 321.48,114.0 321.78,115.3 322.08,109.8 322.38,104.0 322.68,109.8 322.98,109.4 323.28,106.3 323.58,107.9 323.88,101.4 324.18,105.9 324.48,104.3 324.78,110.1 325.08,105.2 325.38,104.7 325.68,104.0 325.98,97.9 326.28,101.4 326.58,109.0 326.88,107.4 327.18,101.7 327.48,107.3 327.78,105.7 328.08,108.9 328.38,108.4 328.68,108.4 328.98,104.8 329.28,108.5 329.58,107.4 329.88,109.7 330.18,114.0 330.48,112.8 330.78,113.9 331.08,115.1 331.38,109.5 331.68,112.9 331.98,117.4 332.28,118.6 332.58,108.3 332.88,111.5 333.18,115.1 333.48,122.7 333.78,109.8 334.08,110.6 334.38,110.9 334.68,112.1 334.98,103.9 335.28,105.5 335.58,105.0 335.88,103.5 336.18,103.0 336.48,105.4 336.78,106.9 337.08,104.0 337.38,101.9 337.68,100.1 337.98,97.2 338.28,94.4 338.58,93.6 338.88,100.2 339.18,100.1 339.48,99.0 339.78,99.4 340.08,99.6 340.38,102.0 340.68,100.3 340.98,99.7 341.28,99.3 341.58,105.2 341.88,102.8 342.18,100.9 342.48,106.7 342.78,106.4 343.08,112.7 343.38,115.9 343.68,114.2 343.98,116.2 344.28,120.8 344.58,111.5 344.88,112.8 345.18,117.9 345.48,117.7 345.78,120.8 346.08,124.7 346.38,122.0 346.68,116.4 346.98,130.6 347.28,117.8 347.58,116.6 347.88,123.8 348.18,114.4 348.48,115.7 348.78,119.1 349.08,116.0 349.38,118.6 349.68,121.3 349.98,117.6 350.28,115.6 350.58,118.2 350.88,117.0 351.18,124.8 351.48,112.0 351.78,118.9 352.08,113.4 352.38,115.2 352.68,106.9 352.98,109.4 353.28,108.4 353.58,106.4 353.88,109.5 354.18,116.0 354.48,105.3 354.80,30.4" fill="none" stroke="#231815" stroke-width="0.75" stroke-linejoin="round" />
<path d="M356.00,40.8 356.30,38.5 356.60,38.1 356.90,36.1 357.20,37.2 357.50,38.1 357.80,35.6 358.10,36.0 358.40,35.6 358.70,34.9 359.00,34.1 359.30,36.1 359.60,35.5 359.90,33.9 360.20,35.6 360.50,33.4 360.80,34.3 361.10,32.5 361.40,32.1 361.70,33.4 362.00,35.6 362.30,33.9 362.60,34.9 362.90,35.5 363.20,34.0 363.50,32.8 363.80,33.7" fill="none" stroke="#231815" stroke-width="0.8" stroke-linejoin="round" />
<text x="370.50" y="89.70" font-size="12.9" font-weight="normal" fill="#231815" stroke="#231815" stroke-width="0.25">F516A</text>
<line x1="379.50" y1="134.90" x2="379.50" y2="163.90" stroke="#555" stroke-width="1.0" />
<line x1="379.00" y1="163.90" x2="404.20" y2="163.90" stroke="#555" stroke-width="1.0" />
<text x="344.75" y="153.40" font-size="11.5" font-weight="normal" fill="#231815" stroke="#231815" stroke-width="0.25">20 pA</text>
<text x="379.70" y="177.60" font-size="11.3" font-weight="normal" fill="#231815" stroke="#231815" stroke-width="0.25">0.2 s</text>
<path d="M251.20,217.70 L303.90,217.70 L303.90,251.40 L360.10,251.40 L360.10,217.70 L412.80,217.70" fill="none" stroke="#231815" stroke-width="1.1" />
<path d="M367.6,242.3 L377.2,242.3 L372.4,234.8 Z" fill="none" stroke="#888" stroke-width="0.9"/>
<text x="378.40" y="242.30" font-size="11.5" font-weight="normal" fill="#231815" stroke="#231815" stroke-width="0.25">P= -25 mm Hg</text>
<line x1="517.50" y1="52.00" x2="517.50" y2="211.60" stroke="#333333" stroke-width="1.2" />
<line x1="516.90" y1="211.00" x2="623.50" y2="211.00" stroke="#333333" stroke-width="1.2" />
<line x1="511.00" y1="211.00" x2="517.50" y2="211.00" stroke="#333333" stroke-width="1.2" />
<text x="0" y="0" transform="translate(486.60 215.60) scale(1 1.08)" font-size="11" font-weight="bold" fill="#111" stroke="#111" stroke-width="0.1">0.00</text>
<line x1="511.00" y1="179.30" x2="517.50" y2="179.30" stroke="#333333" stroke-width="1.2" />
<text x="0" y="0" transform="translate(486.60 183.90) scale(1 1.08)" font-size="11" font-weight="bold" fill="#111" stroke="#111" stroke-width="0.1">0.25</text>
<line x1="511.00" y1="147.60" x2="517.50" y2="147.60" stroke="#333333" stroke-width="1.2" />
<text x="0" y="0" transform="translate(486.60 152.20) scale(1 1.08)" font-size="11" font-weight="bold" fill="#111" stroke="#111" stroke-width="0.1">0.50</text>
<line x1="511.00" y1="115.90" x2="517.50" y2="115.90" stroke="#333333" stroke-width="1.2" />
<text x="0" y="0" transform="translate(486.60 120.50) scale(1 1.08)" font-size="11" font-weight="bold" fill="#111" stroke="#111" stroke-width="0.1">0.75</text>
<line x1="511.00" y1="84.20" x2="517.50" y2="84.20" stroke="#333333" stroke-width="1.2" />
<text x="0" y="0" transform="translate(486.60 88.80) scale(1 1.08)" font-size="11" font-weight="bold" fill="#111" stroke="#111" stroke-width="0.1">1.00</text>
<line x1="511.00" y1="52.50" x2="517.50" y2="52.50" stroke="#333333" stroke-width="1.2" />
<text x="0" y="0" transform="translate(486.60 57.10) scale(1 1.08)" font-size="11" font-weight="bold" fill="#111" stroke="#111" stroke-width="0.1">1.25</text>
<line x1="517.50" y1="211.00" x2="517.50" y2="217.30" stroke="#333333" stroke-width="1.2" />
<text x="511.38" y="230.50" font-size="11" font-weight="bold" fill="#111" stroke="#111" stroke-width="0.1">50</text>
<line x1="543.88" y1="211.00" x2="543.88" y2="217.30" stroke="#333333" stroke-width="1.2" />
<text x="534.70" y="230.50" font-size="11" font-weight="bold" fill="#111" stroke="#111" stroke-width="0.1">100</text>
<line x1="570.25" y1="211.00" x2="570.25" y2="217.30" stroke="#333333" stroke-width="1.2" />
<text x="561.08" y="230.50" font-size="11" font-weight="bold" fill="#111" stroke="#111" stroke-width="0.1">150</text>
<line x1="596.62" y1="211.00" x2="596.62" y2="217.30" stroke="#333333" stroke-width="1.2" />
<text x="587.45" y="230.50" font-size="11" font-weight="bold" fill="#111" stroke="#111" stroke-width="0.1">200</text>
<line x1="623.00" y1="211.00" x2="623.00" y2="217.30" stroke="#333333" stroke-width="1.2" />
<text x="613.83" y="230.50" font-size="11" font-weight="bold" fill="#111" stroke="#111" stroke-width="0.1">250</text>
<text x="485.80" y="251.30" font-size="11.5" font-weight="bold" fill="#111" stroke="#111" stroke-width="0.1">Negative pressure (mm Hg)</text>
<text x="0" y="0" font-size="11" font-weight="bold" fill="#111" text-anchor="middle" transform="translate(479.2 133.3) rotate(-90)">I/Imax</text>
<line x1="517.50" y1="147.60" x2="623.00" y2="147.60" stroke="#ff2a2a" stroke-width="1.0" stroke-dasharray="1.5 1.6"/>
<path d="M517.50,208.7 517.90,208.6 518.30,208.6 518.69,208.5 519.09,208.5 519.49,208.4 519.89,208.3 520.28,208.3 520.68,208.2 521.08,208.1 521.48,208.0 521.87,208.0 522.27,207.9 522.67,207.8 523.07,207.7 523.46,207.6 523.86,207.5 524.26,207.4 524.66,207.3 525.05,207.2 525.45,207.0 525.85,206.9 526.25,206.8 526.65,206.7 527.04,206.5 527.44,206.4 527.84,206.2 528.24,206.1 528.63,205.9 529.03,205.7 529.43,205.6 529.83,205.4 530.22,205.2 530.62,205.0 531.02,204.8 531.42,204.6 531.81,204.3 532.21,204.1 532.61,203.9 533.01,203.6 533.40,203.4 533.80,203.1 534.20,202.8 534.60,202.5 534.99,202.2 535.39,201.9 535.79,201.6 536.19,201.2 536.59,200.9 536.98,200.5 537.38,200.1 537.78,199.7 538.18,199.3 538.57,198.9 538.97,198.5 539.37,198.0 539.77,197.6 540.16,197.1 540.56,196.6 540.96,196.0 541.36,195.5 541.75,195.0 542.15,194.4 542.55,193.8 542.95,193.2 543.34,192.5 543.74,191.9 544.14,191.2 544.54,190.5 544.94,189.8 545.33,189.1 545.73,188.3 546.13,187.6 546.53,186.8 546.92,185.9 547.32,185.1 547.72,184.2 548.12,183.3 548.51,182.4 548.91,181.5 549.31,180.5 549.71,179.6 550.10,178.6 550.50,177.5 550.90,176.5 551.30,175.4 551.69,174.4 552.09,173.3 552.49,172.1 552.89,171.0 553.29,169.8 553.68,168.6 554.08,167.4 554.48,166.2 554.88,165.0 555.27,163.7 555.67,162.5 556.07,161.2 556.47,159.9 556.86,158.6 557.26,157.3 557.66,155.9 558.06,154.6 558.45,153.3 558.85,151.9 559.25,150.6 559.65,149.2 560.04,147.8 560.44,146.5 560.84,145.1 561.24,143.8 561.64,142.4 562.03,141.0 562.43,139.7 562.83,138.3 563.23,137.0 563.62,135.7 564.02,134.3 564.42,133.0 564.82,131.7 565.21,130.4 565.61,129.2 566.01,127.9 566.41,126.7 566.80,125.4 567.20,124.2 567.60,123.0 568.00,121.8 568.39,120.7 568.79,119.5 569.19,118.4 569.59,117.3 569.98,116.2 570.38,115.2 570.78,114.2 571.18,113.1 571.58,112.2 571.97,111.2 572.37,110.2 572.77,109.3 573.17,108.4 573.56,107.5 573.96,106.7 574.36,105.8 574.76,105.0 575.15,104.2 575.55,103.5 575.95,102.7 576.35,102.0 576.74,101.3 577.14,100.6 577.54,99.9 577.94,99.3 578.33,98.7 578.73,98.1 579.13,97.5 579.53,96.9 579.93,96.4 580.32,95.8 580.72,95.3 581.12,94.8 581.52,94.3 581.91,93.9 582.31,93.4 582.71,93.0 583.11,92.6 583.50,92.2 583.90,91.8 584.30,91.4 584.70,91.0 585.09,90.7 585.49,90.4 585.89,90.0 586.29,89.7 586.68,89.4 587.08,89.1 587.48,88.9 587.88,88.6 588.28,88.3 588.67,88.1 589.07,87.8 589.47,87.6 589.87,87.4 590.26,87.2 590.66,87.0 591.06,86.8 591.46,86.6 591.85,86.4 592.25,86.2 592.65,86.1 593.05,85.9 593.44,85.8 593.84,85.6 594.24,85.5 594.64,85.3 595.03,85.2 595.43,85.1 595.83,85.0 596.23,84.8 596.62,84.7" fill="none" stroke="#ff2020" stroke-width="1.1" stroke-linejoin="round" />
<path d="M517.50,210.6 517.90,210.6 518.30,210.6 518.69,210.6 519.09,210.6 519.49,210.5 519.89,210.5 520.28,210.5 520.68,210.5 521.08,210.4 521.48,210.4 521.87,210.4 522.27,210.4 522.67,210.3 523.07,210.3 523.46,210.3 523.86,210.2 524.26,210.2 524.66,210.1 525.05,210.1 525.45,210.1 525.85,210.0 526.25,210.0 526.65,209.9 527.04,209.9 527.44,209.8 527.84,209.7 528.24,209.7 528.63,209.6 529.03,209.5 529.43,209.5 529.83,209.4 530.22,209.3 530.62,209.2 531.02,209.2 531.42,209.1 531.81,209.0 532.21,208.9 532.61,208.8 533.01,208.7 533.40,208.6 533.80,208.4 534.20,208.3 534.60,208.2 534.99,208.1 535.39,207.9 535.79,207.8 536.19,207.6 536.59,207.5 536.98,207.3 537.38,207.1 537.78,206.9 538.18,206.7 538.57,206.5 538.97,206.3 539.37,206.1 539.77,205.9 540.16,205.6 540.56,205.4 540.96,205.1 541.36,204.8 541.75,204.5 542.15,204.2 542.55,203.9 542.95,203.6 543.34,203.3 543.74,202.9 544.14,202.5 544.54,202.1 544.94,201.7 545.33,201.3 545.73,200.9 546.13,200.4 546.53,200.0 546.92,199.5 547.32,199.0 547.72,198.4 548.12,197.9 548.51,197.3 548.91,196.7 549.31,196.1 549.71,195.5 550.10,194.8 550.50,194.1 550.90,193.4 551.30,192.7 551.69,191.9 552.09,191.1 552.49,190.3 552.89,189.5 553.29,188.6 553.68,187.7 554.08,186.8 554.48,185.9 554.88,184.9 555.27,183.9 555.67,182.9 556.07,181.8 556.47,180.7 556.86,179.6 557.26,178.5 557.66,177.3 558.06,176.2 558.45,175.0 558.85,173.7 559.25,172.5 559.65,171.2 560.04,169.9 560.44,168.6 560.84,167.3 561.24,165.9 561.64,164.6 562.03,163.2 562.43,161.8 562.83,160.4 563.23,158.9 563.62,157.5 564.02,156.1 564.42,154.6 564.82,153.2 565.21,151.7 565.61,150.3 566.01,148.8 566.41,147.4 566.80,145.9 567.20,144.5 567.60,143.0 568.00,141.6 568.39,140.2 568.79,138.8 569.19,137.4 569.59,136.0 569.98,134.6 570.38,133.3 570.78,131.9 571.18,130.6 571.58,129.3 571.97,128.1 572.37,126.8 572.77,125.6 573.17,124.4 573.56,123.2 573.96,122.1 574.36,120.9 574.76,119.8 575.15,118.8 575.55,117.7 575.95,116.7 576.35,115.7 576.74,114.7 577.14,113.8 577.54,112.9 577.94,112.0 578.33,111.1 578.73,110.3 579.13,109.5 579.53,108.7 579.93,107.9 580.32,107.2 580.72,106.5 581.12,105.8 581.52,105.2 581.91,104.5 582.31,103.9 582.71,103.3 583.11,102.8 583.50,102.2 583.90,101.7 584.30,101.2 584.70,100.7 585.09,100.2 585.49,99.8 585.89,99.3 586.29,98.9 586.68,98.5 587.08,98.1 587.48,97.8 587.88,97.4 588.28,97.1 588.67,96.7 589.07,96.4 589.47,96.1 589.87,95.8 590.26,95.6 590.66,95.3 591.06,95.1 591.46,94.8 591.85,94.6 592.25,94.4 592.65,94.2 593.05,94.0 593.44,93.8 593.84,93.6 594.24,93.4 594.64,93.2 595.03,93.1 595.43,92.9 595.83,92.8 596.23,92.6 596.62,92.5" fill="none" stroke="#111" stroke-width="1.1" stroke-linejoin="round" />
<line x1="517.50" y1="203.39" x2="517.50" y2="211.00" stroke="#ff2020" stroke-width="1.0" />
<line x1="514.90" y1="203.39" x2="520.10" y2="203.39" stroke="#ff2020" stroke-width="1.0" />
<line x1="514.90" y1="211.00" x2="520.10" y2="211.00" stroke="#ff2020" stroke-width="1.0" />
<line x1="530.69" y1="203.39" x2="530.69" y2="207.20" stroke="#ff2020" stroke-width="1.0" />
<line x1="528.09" y1="203.39" x2="533.29" y2="203.39" stroke="#ff2020" stroke-width="1.0" />
<line x1="528.09" y1="207.20" x2="533.29" y2="207.20" stroke="#ff2020" stroke-width="1.0" />
<line x1="543.88" y1="191.98" x2="543.88" y2="202.12" stroke="#ff2020" stroke-width="1.0" />
<line x1="541.27" y1="191.98" x2="546.48" y2="191.98" stroke="#ff2020" stroke-width="1.0" />
<line x1="541.27" y1="202.12" x2="546.48" y2="202.12" stroke="#ff2020" stroke-width="1.0" />
<line x1="557.06" y1="134.92" x2="557.06" y2="160.28" stroke="#ff2020" stroke-width="1.0" />
<line x1="554.46" y1="134.92" x2="559.66" y2="134.92" stroke="#ff2020" stroke-width="1.0" />
<line x1="554.46" y1="160.28" x2="559.66" y2="160.28" stroke="#ff2020" stroke-width="1.0" />
<line x1="570.25" y1="114.63" x2="570.25" y2="139.99" stroke="#ff2020" stroke-width="1.0" />
<line x1="567.65" y1="114.63" x2="572.85" y2="114.63" stroke="#ff2020" stroke-width="1.0" />
<line x1="567.65" y1="139.99" x2="572.85" y2="139.99" stroke="#ff2020" stroke-width="1.0" />
<line x1="583.44" y1="80.40" x2="583.44" y2="94.34" stroke="#ff2020" stroke-width="1.0" />
<line x1="580.84" y1="80.40" x2="586.04" y2="80.40" stroke="#ff2020" stroke-width="1.0" />
<line x1="580.84" y1="94.34" x2="586.04" y2="94.34" stroke="#ff2020" stroke-width="1.0" />
<line x1="596.62" y1="84.20" x2="596.62" y2="84.20" stroke="#ff2020" stroke-width="1.0" />
<line x1="594.02" y1="84.20" x2="599.23" y2="84.20" stroke="#ff2020" stroke-width="1.0" />
<line x1="594.02" y1="84.20" x2="599.23" y2="84.20" stroke="#ff2020" stroke-width="1.0" />
<rect x="515.10" y="203.53" width="4.8" height="4.8" fill="#fff" stroke="#ff2020" stroke-width="1.0"/>
<rect x="528.29" y="202.26" width="4.8" height="4.8" fill="#fff" stroke="#ff2020" stroke-width="1.0"/>
<rect x="541.48" y="197.19" width="4.8" height="4.8" fill="#fff" stroke="#ff2020" stroke-width="1.0"/>
<rect x="554.66" y="145.20" width="4.8" height="4.8" fill="#fff" stroke="#ff2020" stroke-width="1.0"/>
<rect x="567.85" y="122.38" width="4.8" height="4.8" fill="#fff" stroke="#ff2020" stroke-width="1.0"/>
<rect x="581.04" y="85.60" width="4.8" height="4.8" fill="#fff" stroke="#ff2020" stroke-width="1.0"/>
<rect x="594.23" y="81.80" width="4.8" height="4.8" fill="#fff" stroke="#ff2020" stroke-width="1.0"/>
<line x1="517.50" y1="209.73" x2="517.50" y2="211.00" stroke="#111" stroke-width="1.0" />
<line x1="514.90" y1="209.73" x2="520.10" y2="209.73" stroke="#111" stroke-width="1.0" />
<line x1="514.90" y1="211.00" x2="520.10" y2="211.00" stroke="#111" stroke-width="1.0" />
<line x1="530.69" y1="207.20" x2="530.69" y2="209.73" stroke="#111" stroke-width="1.0" />
<line x1="528.09" y1="207.20" x2="533.29" y2="207.20" stroke="#111" stroke-width="1.0" />
<line x1="528.09" y1="209.73" x2="533.29" y2="209.73" stroke="#111" stroke-width="1.0" />
<line x1="543.88" y1="204.66" x2="543.88" y2="205.93" stroke="#111" stroke-width="1.0" />
<line x1="541.27" y1="204.66" x2="546.48" y2="204.66" stroke="#111" stroke-width="1.0" />
<line x1="541.27" y1="205.93" x2="546.48" y2="205.93" stroke="#111" stroke-width="1.0" />
<line x1="557.06" y1="171.69" x2="557.06" y2="184.37" stroke="#111" stroke-width="1.0" />
<line x1="554.46" y1="171.69" x2="559.66" y2="171.69" stroke="#111" stroke-width="1.0" />
<line x1="554.46" y1="184.37" x2="559.66" y2="184.37" stroke="#111" stroke-width="1.0" />
<line x1="570.25" y1="122.24" x2="570.25" y2="128.58" stroke="#111" stroke-width="1.0" />
<line x1="567.65" y1="122.24" x2="572.85" y2="122.24" stroke="#111" stroke-width="1.0" />
<line x1="567.65" y1="128.58" x2="572.85" y2="128.58" stroke="#111" stroke-width="1.0" />
<line x1="583.44" y1="104.49" x2="583.44" y2="129.85" stroke="#111" stroke-width="1.0" />
<line x1="580.84" y1="104.49" x2="586.04" y2="104.49" stroke="#111" stroke-width="1.0" />
<line x1="580.84" y1="129.85" x2="586.04" y2="129.85" stroke="#111" stroke-width="1.0" />
<line x1="596.62" y1="84.20" x2="596.62" y2="84.20" stroke="#111" stroke-width="1.0" />
<line x1="594.02" y1="84.20" x2="599.23" y2="84.20" stroke="#111" stroke-width="1.0" />
<line x1="594.02" y1="84.20" x2="599.23" y2="84.20" stroke="#111" stroke-width="1.0" />
<circle cx="517.50" cy="209.73" r="2.6" fill="#000"/>
<circle cx="530.69" cy="208.46" r="2.6" fill="#000"/>
<circle cx="543.88" cy="205.29" r="2.6" fill="#000"/>
<circle cx="557.06" cy="178.03" r="2.6" fill="#000"/>
<circle cx="570.25" cy="126.04" r="2.6" fill="#000"/>
<circle cx="583.44" cy="117.17" r="2.6" fill="#000"/>
<circle cx="596.62" cy="84.20" r="2.6" fill="#000"/>
<line x1="527.00" y1="42.40" x2="544.00" y2="42.40" stroke="#111" stroke-width="1.0" />
<circle cx="535.5" cy="42.4" r="2.5" fill="#000"/>
<line x1="527.00" y1="64.80" x2="544.00" y2="64.80" stroke="#ff2020" stroke-width="1.0" />
<rect x="533.2" y="62.5" width="4.6" height="4.6" fill="#fff" stroke="#ff2020" stroke-width="1"/>
<text x="553.90" y="47.40" font-size="11.5" font-weight="normal" fill="#111" stroke="#111" stroke-width="0.25">Wildtype (136 ± 6 mmHg)</text>
<text x="553.90" y="69.00" font-size="11.5" font-weight="normal" fill="#111" stroke="#111" stroke-width="0.25">F516A (124 ± 3 mmHg)</text>
<line x1="60.00" y1="347.30" x2="283.40" y2="347.30" stroke="#231815" stroke-width="1.3" stroke-dasharray="1.4 1.5"/>
<line x1="61.00" y1="396.60" x2="281.20" y2="396.60" stroke="#231815" stroke-width="1.3" stroke-dasharray="1.4 1.5"/>
<path d="M60.00,339.4 60.40,340.3 60.80,339.3 61.20,339.6 61.60,338.5 62.00,337.8 62.40,339.0 62.80,340.6 63.20,340.2 63.60,340.6 64.00,340.7 64.40,339.9 64.80,340.2 65.20,337.7 65.60,337.3 66.00,339.3 66.40,338.5 66.80,340.4 67.20,340.2 67.60,340.4 68.00,339.8 68.40,340.2 68.80,390.7 69.20,390.3 69.60,389.4 70.00,390.2 70.40,389.9 70.80,388.9 71.20,386.7 71.60,386.8 72.00,387.8 72.40,388.4 72.80,387.8 73.20,389.9 73.60,388.5 74.00,387.1 74.40,388.9 74.80,389.7 75.20,387.9 75.60,386.1 76.00,387.9 76.40,340.4 76.80,338.4 77.20,336.0 77.60,334.2 78.00,336.9 78.40,337.0 78.80,336.0 79.20,338.2 79.60,340.4 80.00,340.2 80.40,340.0 80.80,338.0 81.20,336.8 81.60,338.9 82.00,335.8 82.40,336.8 82.80,337.9 83.20,340.6 83.60,339.2 84.00,337.7 84.40,340.3 84.80,337.9 85.20,339.1 85.60,339.9 86.00,339.5 86.40,337.0 86.80,338.1 87.20,337.6 87.60,337.9 88.00,338.2 88.40,339.1 88.80,339.1 89.20,339.1 89.60,336.5 90.00,337.5 90.40,337.2 90.80,336.7 91.20,335.3 91.60,337.1 92.00,337.1 92.40,338.6 92.80,340.5 93.20,339.4 93.60,338.7 94.00,338.0 94.40,338.0 94.80,338.8 95.20,339.4 95.60,338.0 96.00,389.3 96.40,388.2 96.80,386.9 97.20,390.2 97.60,389.5 98.00,389.5 98.40,388.2 98.80,389.0 99.20,386.0 99.60,385.9 100.00,386.0 100.40,388.4 100.80,387.9 101.20,390.7 101.60,389.1 102.00,390.3 102.40,389.3 102.80,389.4 103.20,389.5 103.60,389.6 104.00,389.5 104.40,389.9 104.80,388.8 105.20,389.1 105.60,389.5 106.00,389.7 106.40,390.2 106.80,388.9 107.20,388.3 107.60,389.8 108.00,390.1 108.40,389.5 108.80,389.6 109.20,389.8 109.60,389.2 110.00,387.8 110.40,388.1 110.80,389.2 111.20,389.8 111.60,389.5 112.00,388.0 112.40,389.0 112.80,388.0 113.20,389.1 113.60,338.5 114.00,339.1 114.40,339.0 114.80,339.5 115.20,339.2 115.60,340.6 116.00,339.6 116.40,338.2 116.80,338.0 117.20,339.4 117.60,339.8 118.00,339.0 118.40,339.1 118.80,338.5 119.20,336.1 119.60,335.9 120.00,333.5 120.40,335.4 120.80,338.4 121.20,339.8 121.60,339.4 122.00,336.6 122.40,337.2 122.80,337.4 123.20,337.5 123.60,340.6 124.00,340.0 124.40,338.4 124.80,338.8 125.20,340.3 125.60,334.5 126.00,335.1 126.40,335.1 126.80,332.7 127.20,330.7 127.60,335.0 128.00,335.2 128.40,337.4 128.80,338.7 129.20,339.7 129.60,390.0 130.00,389.8 130.40,389.1 130.80,390.5 131.20,390.4 131.60,389.7 132.00,390.4 132.40,388.8 132.80,389.6 133.20,387.5 133.60,387.5 134.00,384.7 134.40,384.1 134.80,382.5 135.20,385.3 135.60,386.8 136.00,388.2 136.40,389.0 136.80,390.0 137.20,389.6 137.60,389.5 138.00,389.5 138.40,388.8 138.80,389.4 139.20,390.6 139.60,340.0 140.00,338.2 140.40,337.9 140.80,337.1 141.20,337.0 141.60,339.5 142.00,339.3 142.40,337.8 142.80,338.9 143.20,338.7 143.60,337.2 144.00,339.8 144.40,335.6 144.80,335.8 145.20,334.1 145.60,333.8 146.00,335.7 146.40,338.2 146.80,389.7 147.20,390.0 147.60,389.7 148.00,388.9 148.40,388.9 148.80,386.7 149.20,386.3 149.60,386.9 150.00,389.2 150.40,387.3 150.80,388.8 151.20,389.0 151.60,390.3 152.00,389.7 152.40,389.9 152.80,388.4 153.20,390.7 153.60,390.3 154.00,387.9 154.40,385.9 154.80,384.2 155.20,381.5 155.60,383.6 156.00,383.8 156.40,386.1 156.80,387.3 157.20,389.3 157.60,388.1 158.00,390.5 158.40,388.9 158.80,384.8 159.20,384.9 159.60,386.0 160.00,387.9 160.40,390.6 160.80,386.5 161.20,387.5 161.60,387.9 162.00,389.7 162.40,390.2 162.80,385.7 163.20,388.6 163.60,386.9 164.00,386.7 164.40,387.1 164.80,389.6 165.20,390.1 165.60,389.0 166.00,388.1 166.40,388.6 166.80,390.4 167.20,390.2 167.60,390.1 168.00,389.3 168.40,389.3 168.80,389.4 169.20,389.9 169.60,389.4 170.00,388.1 170.40,389.3 170.80,390.3 171.20,389.5 171.60,390.2 172.00,389.1 172.40,389.2 172.80,390.5 173.20,390.6 173.60,389.2 174.00,390.1 174.40,388.8 174.80,390.4 175.20,389.9 175.60,390.7 176.00,389.4 176.40,386.8 176.80,386.8 177.20,388.9 177.60,385.9 178.00,387.5 178.40,390.5 178.80,390.0 179.20,390.3 179.60,387.9 180.00,387.6 180.40,387.7 180.80,387.5 181.20,387.6 181.60,388.5 182.00,390.4 182.40,388.6 182.80,390.1 183.20,390.4 183.60,390.7 184.00,390.3 184.40,389.5 184.80,389.1 185.20,390.1 185.60,389.9 186.00,390.2 186.40,388.1 186.80,388.3 187.20,389.1 187.60,390.1 188.00,389.7 188.40,388.0 188.80,390.6 189.20,389.0 189.60,389.3 190.00,388.0 190.40,388.8 190.80,387.2 191.20,385.7 191.60,387.8 192.00,388.2 192.40,390.3 192.80,390.0 193.20,390.2 193.60,389.6 194.00,389.4 194.40,386.5 194.80,386.1 195.20,388.0 195.60,389.0 196.00,389.2 196.40,388.2 196.80,384.0 197.20,384.5 197.60,386.6 198.00,388.5 198.40,387.7 198.80,390.4 199.20,390.4 199.60,390.7 200.00,389.0 200.40,389.4 200.80,389.5 201.20,388.7 201.60,389.2 202.00,389.8 202.40,390.3 202.80,389.9 203.20,387.0 203.60,386.7 204.00,388.0 204.40,388.3 204.80,339.6 205.20,339.0 205.60,337.7 206.00,338.6 206.40,338.1 206.80,338.9 207.20,340.0 207.60,339.9 208.00,340.2 208.40,340.5 208.80,339.4 209.20,340.5 209.60,336.7 210.00,337.4 210.40,335.4 210.80,335.3 211.20,335.9 211.60,339.9 212.00,339.6 212.40,339.1 212.80,339.3 213.20,337.4 213.60,339.9 214.00,338.1 214.40,338.4 214.80,339.2 215.20,388.8 215.60,389.6 216.00,389.5 216.40,387.8 216.80,388.1 217.20,388.8 217.60,389.9 218.00,390.1 218.40,389.8 218.80,390.7 219.20,389.0 219.60,387.6 220.00,389.0 220.40,390.5 220.80,389.8 221.20,389.4 221.60,389.4 222.00,389.1 222.40,389.9 222.80,389.1 223.20,389.9 223.60,390.1 224.00,390.0 224.40,390.5 224.80,387.4 225.20,387.4 225.60,386.1 226.00,387.5 226.40,387.2 226.80,388.5 227.20,389.9 227.60,390.7 228.00,390.3 228.40,388.7 228.80,390.2 229.20,389.9 229.60,388.9 230.00,389.9 230.40,388.8 230.80,390.0 231.20,387.5 231.60,386.8 232.00,388.3 232.40,387.7 232.80,388.6 233.20,389.1 233.60,387.7 234.00,386.6 234.40,387.1 234.80,387.2 235.20,389.1 235.60,340.5 236.00,337.8 236.40,338.2 236.80,339.5 237.20,339.9 237.60,339.8 238.00,339.6 238.40,339.8 238.80,340.4 239.20,338.2 239.60,338.7 240.00,338.3 240.40,337.7 240.80,338.0 241.20,340.4 241.60,340.6 242.00,339.6 242.40,339.7 242.80,340.1 243.20,340.6 243.60,338.8 244.00,337.5 244.40,337.2 244.80,338.6 245.20,337.3 245.60,336.8 246.00,338.8 246.40,339.9 246.80,339.1 247.20,336.3 247.60,334.2 248.00,333.8 248.40,334.3 248.80,337.6 249.20,339.5 249.60,340.4 250.00,339.5 250.40,340.4 250.80,340.0 251.20,340.7 251.60,340.4 252.00,339.7 252.40,339.4 252.80,340.2 253.20,339.3 253.60,339.9 254.00,339.2 254.40,337.0 254.80,339.4 255.20,339.7 255.60,340.6 256.00,340.0 256.40,339.6 256.80,338.0 257.20,337.1 257.60,337.3 258.00,388.5 258.40,386.4 258.80,387.8 259.20,387.4 259.60,389.7 260.00,388.6 260.40,390.4 260.80,389.8 261.20,390.4 261.60,390.0 262.00,390.1 262.40,388.6 262.80,388.8 263.20,390.3 263.60,390.7 264.00,389.7 264.40,387.2 264.80,388.2 265.20,388.7 265.60,388.5 266.00,389.3 266.40,389.2 266.80,384.2 267.20,385.5 267.60,388.3 268.00,336.6 268.40,337.3 268.80,340.1 269.20,339.5 269.60,337.1 270.00,338.2 270.40,338.8 270.80,337.9 271.20,338.6 271.60,339.3 272.00,339.0 272.40,339.4 272.80,338.1 273.20,339.5 273.60,337.7 274.00,338.5 274.40,338.9 274.80,340.1 275.20,339.9 275.60,338.0 276.00,339.2 276.40,339.7 276.80,340.0 277.20,340.5 277.60,338.4 278.00,340.2 278.40,340.4 278.80,339.7 279.20,340.0 279.60,340.4 280.00,339.1 280.40,339.7 280.40,358.4 280.00,358.5 279.60,356.8 279.20,354.3 278.80,355.0 278.40,353.9 278.00,354.0 277.60,353.4 277.20,354.3 276.80,355.0 276.40,354.8 276.00,357.6 275.60,356.8 275.20,356.4 274.80,354.3 274.40,354.6 274.00,354.0 273.60,354.9 273.20,355.6 272.80,354.9 272.40,355.0 272.00,354.3 271.60,354.0 271.20,353.7 270.80,354.9 270.40,355.1 270.00,355.1 269.60,354.3 269.20,355.7 268.80,355.7 268.40,356.7 268.00,356.5 267.60,405.2 267.20,405.3 266.80,405.9 266.40,403.9 266.00,404.8 265.60,403.9 265.20,403.8 264.80,404.2 264.40,403.5 264.00,405.2 263.60,403.6 263.20,404.5 262.80,407.1 262.40,407.7 262.00,406.4 261.60,405.2 261.20,403.5 260.80,404.1 260.40,405.5 260.00,403.7 259.60,405.5 259.20,408.0 258.80,406.9 258.40,407.7 258.00,405.6 257.60,356.3 257.20,354.0 256.80,354.2 256.40,354.2 256.00,355.1 255.60,354.6 255.20,355.4 254.80,354.4 254.40,355.9 254.00,354.9 253.60,353.7 253.20,353.9 252.80,354.5 252.40,354.1 252.00,356.0 251.60,355.5 251.20,356.3 250.80,355.0 250.40,353.5 250.00,354.7 249.60,355.3 249.20,354.9 248.80,353.3 248.40,354.9 248.00,355.2 247.60,356.1 247.20,356.6 246.80,356.0 246.40,353.8 246.00,354.7 245.60,353.3 245.20,354.5 244.80,354.4 244.40,354.3 244.00,355.7 243.60,353.4 243.20,353.5 242.80,356.2 242.40,357.9 242.00,357.2 241.60,360.5 241.20,361.8 240.80,359.4 240.40,358.1 240.00,354.2 239.60,357.1 239.20,359.0 238.80,359.0 238.40,358.3 238.00,356.8 237.60,355.7 237.20,353.7 236.80,353.3 236.40,353.4 236.00,354.1 235.60,353.6 235.20,403.9 234.80,404.3 234.40,404.5 234.00,404.2 233.60,403.9 233.20,406.5 232.80,408.9 232.40,406.9 232.00,407.7 231.60,403.4 231.20,405.4 230.80,406.6 230.40,406.6 230.00,406.3 229.60,404.3 229.20,403.6 228.80,405.7 228.40,405.4 228.00,403.9 227.60,403.4 227.20,404.2 226.80,405.2 226.40,403.3 226.00,404.2 225.60,406.4 225.20,404.8 224.80,403.5 224.40,404.8 224.00,404.1 223.60,404.3 223.20,404.4 222.80,403.4 222.40,403.9 222.00,404.8 221.60,404.9 221.20,403.7 220.80,404.0 220.40,404.7 220.00,404.4 219.60,404.1 219.20,405.4 218.80,404.1 218.40,404.4 218.00,405.0 217.60,403.7 217.20,403.7 216.80,407.0 216.40,407.2 216.00,407.2 215.60,406.0 215.20,405.1 214.80,355.5 214.40,354.2 214.00,353.8 213.60,355.7 213.20,355.9 212.80,354.2 212.40,356.9 212.00,358.1 211.60,358.1 211.20,357.8 210.80,357.5 210.40,356.8 210.00,357.2 209.60,358.3 209.20,358.5 208.80,360.1 208.40,360.1 208.00,357.7 207.60,355.4 207.20,355.9 206.80,353.5 206.40,354.2 206.00,353.4 205.60,356.0 205.20,356.9 204.80,357.6 204.40,407.0 204.00,409.3 203.60,406.0 203.20,404.4 202.80,405.2 202.40,405.8 202.00,403.4 201.60,403.5 201.20,404.8 200.80,404.0 200.40,403.7 200.00,404.7 199.60,404.0 199.20,404.8 198.80,403.3 198.40,404.6 198.00,404.1 197.60,404.0 197.20,405.1 196.80,405.0 196.40,403.6 196.00,404.0 195.60,404.3 195.20,405.2 194.80,404.4 194.40,407.2 194.00,405.5 193.60,404.3 193.20,404.8 192.80,403.8 192.40,406.1 192.00,404.5 191.60,404.2 191.20,405.5 190.80,405.6 190.40,407.9 190.00,407.4 189.60,407.0 189.20,407.5 188.80,403.9 188.40,404.7 188.00,404.5 187.60,405.1 187.20,406.9 186.80,405.8 186.40,404.7 186.00,403.4 185.60,403.8 185.20,403.4 184.80,405.1 184.40,404.3 184.00,405.9 183.60,407.2 183.20,406.5 182.80,406.8 182.40,406.2 182.00,406.9 181.60,405.1 181.20,404.5 180.80,403.6 180.40,405.5 180.00,406.6 179.60,406.9 179.20,405.4 178.80,404.1 178.40,405.0 178.00,405.2 177.60,405.4 177.20,404.0 176.80,404.0 176.40,405.2 176.00,404.3 175.60,403.8 175.20,403.8 174.80,407.0 174.40,408.6 174.00,409.4 173.60,409.0 173.20,410.4 172.80,409.6 172.40,406.8 172.00,406.7 171.60,407.9 171.20,405.7 170.80,403.8 170.40,406.4 170.00,405.5 169.60,407.3 169.20,407.0 168.80,406.2 168.40,403.6 168.00,403.4 167.60,403.6 167.20,403.3 166.80,404.7 166.40,404.9 166.00,404.1 165.60,404.0 165.20,404.5 164.80,403.3 164.40,403.8 164.00,404.7 163.60,405.5 163.20,408.1 162.80,404.0 162.40,404.7 162.00,403.3 161.60,404.6 161.20,403.3 160.80,406.6 160.40,404.6 160.00,407.3 159.60,404.6 159.20,403.6 158.80,404.9 158.40,403.6 158.00,403.7 157.60,404.9 157.20,405.9 156.80,404.2 156.40,403.5 156.00,403.8 155.60,403.5 155.20,403.4 154.80,405.9 154.40,407.5 154.00,405.9 153.60,407.5 153.20,407.5 152.80,406.8 152.40,406.9 152.00,407.2 151.60,409.0 151.20,407.9 150.80,404.8 150.40,404.5 150.00,404.5 149.60,405.1 149.20,404.0 148.80,403.9 148.40,403.9 148.00,404.7 147.60,404.0 147.20,407.2 146.80,405.6 146.40,355.8 146.00,355.8 145.60,356.4 145.20,353.8 144.80,355.2 144.40,356.9 144.00,353.5 143.60,353.6 143.20,353.6 142.80,353.4 142.40,354.1 142.00,355.6 141.60,354.4 141.20,355.4 140.80,354.1 140.40,357.1 140.00,357.5 139.60,357.4 139.20,408.0 138.80,405.5 138.40,403.5 138.00,405.5 137.60,405.0 137.20,403.3 136.80,403.6 136.40,403.7 136.00,404.7 135.60,403.8 135.20,407.5 134.80,408.5 134.40,406.5 134.00,403.3 133.60,404.9 133.20,407.8 132.80,408.9 132.40,406.7 132.00,403.9 131.60,403.4 131.20,404.1 130.80,405.3 130.40,406.2 130.00,407.5 129.60,407.3 129.20,355.9 128.80,353.9 128.40,355.2 128.00,353.8 127.60,353.7 127.20,353.6 126.80,354.6 126.40,354.4 126.00,357.6 125.60,357.6 125.20,356.7 124.80,355.8 124.40,355.0 124.00,354.5 123.60,357.7 123.20,355.8 122.80,356.2 122.40,358.4 122.00,356.1 121.60,354.0 121.20,355.2 120.80,357.6 120.40,360.6 120.00,357.2 119.60,356.7 119.20,355.0 118.80,353.3 118.40,353.4 118.00,356.8 117.60,355.4 117.20,354.3 116.80,357.4 116.40,355.0 116.00,353.7 115.60,354.4 115.20,355.0 114.80,355.0 114.40,353.4 114.00,353.4 113.60,353.9 113.20,403.4 112.80,405.2 112.40,405.2 112.00,405.2 111.60,403.9 111.20,403.6 110.80,404.2 110.40,404.9 110.00,403.8 109.60,404.8 109.20,406.1 108.80,407.2 108.40,403.7 108.00,405.5 107.60,404.2 107.20,404.6 106.80,405.9 106.40,403.6 106.00,403.4 105.60,405.1 105.20,407.8 104.80,408.3 104.40,407.3 104.00,408.0 103.60,407.6 103.20,406.0 102.80,407.4 102.40,406.0 102.00,404.0 101.60,403.7 101.20,404.8 100.80,403.9 100.40,404.4 100.00,405.1 99.60,404.0 99.20,404.0 98.80,403.5 98.40,404.1 98.00,404.0 97.60,404.7 97.20,405.0 96.80,403.7 96.40,407.2 96.00,406.7 95.60,357.6 95.20,355.0 94.80,353.4 94.40,355.8 94.00,356.0 93.60,356.9 93.20,356.1 92.80,354.2 92.40,355.5 92.00,354.8 91.60,354.4 91.20,354.9 90.80,354.5 90.40,355.5 90.00,354.9 89.60,354.2 89.20,354.0 88.80,355.8 88.40,358.5 88.00,358.7 87.60,359.8 87.20,358.5 86.80,357.3 86.40,354.7 86.00,353.6 85.60,354.3 85.20,354.3 84.80,354.0 84.40,353.5 84.00,354.3 83.60,353.5 83.20,353.5 82.80,354.3 82.40,353.8 82.00,354.0 81.60,355.2 81.20,354.8 80.80,353.4 80.40,356.0 80.00,354.8 79.60,356.1 79.20,355.1 78.80,354.0 78.40,354.4 78.00,355.4 77.60,354.1 77.20,356.8 76.80,355.9 76.40,354.6 76.00,405.2 75.60,405.0 75.20,404.9 74.80,404.1 74.40,405.3 74.00,403.5 73.60,404.4 73.20,404.2 72.80,403.7 72.40,404.7 72.00,404.4 71.60,403.5 71.20,403.4 70.80,405.9 70.40,406.4 70.00,403.7 69.60,403.5 69.20,404.0 68.80,403.9 68.40,354.7 68.00,354.6 67.60,354.0 67.20,353.5 66.80,354.1 66.40,355.9 66.00,359.6 65.60,358.8 65.20,359.7 64.80,358.0 64.40,355.2 64.00,354.8 63.60,354.1 63.20,355.7 62.80,354.6 62.40,353.7 62.00,355.3 61.60,355.5 61.20,354.8 60.80,356.2 60.40,356.0 60.00,356.7Z" fill="#231815"/>
<path d="M61.62 347.0V326.3M61.47 347.0V353.5M62.11 347.0V339.6M62.14 347.0V354.0M63.68 347.0V340.3M63.86 347.0V334.8M64.08 347.0V353.4M64.47 347.0V337.5M66.49 347.0V360.6M66.70 347.0V338.1M67.26 347.0V334.4M67.74 347.0V367.7M68.09 347.0V356.7M68.53 347.0V333.3M68.84 397.0V404.5M70.36 397.0V403.7M70.78 397.0V389.1M71.28 397.0V388.5M71.59 397.0V389.5M72.32 397.0V389.2M72.26 397.0V404.1M73.13 397.0V386.7M73.97 397.0V406.2M74.92 397.0V376.3M74.77 397.0V417.7M75.53 397.0V405.3M77.25 347.0V367.7M78.35 347.0V354.7M78.87 347.0V357.3M80.07 347.0V337.0M80.44 347.0V359.7M81.28 347.0V355.8M82.09 347.0V339.0M82.35 347.0V363.6M85.69 347.0V360.0M86.15 347.0V353.4M86.45 347.0V336.8M86.42 347.0V357.9M87.88 347.0V331.0M88.73 347.0V355.3M90.34 347.0V355.3M90.66 347.0V335.3M90.85 347.0V365.6M91.12 347.0V340.5M91.54 347.0V331.4M92.35 347.0V336.8M94.03 347.0V340.4M94.26 347.0V355.0M94.66 347.0V367.7M95.62 347.0V361.7M97.23 397.0V409.8M98.35 397.0V384.4M98.46 397.0V406.0M99.96 397.0V387.3M100.37 397.0V390.7M100.78 397.0V389.0M101.29 397.0V389.5M101.62 397.0V388.1M103.65 397.0V406.6M104.12 397.0V390.1M104.03 397.0V408.4M104.27 397.0V389.8M104.67 397.0V383.1M105.34 397.0V407.2M105.71 397.0V403.3M107.30 397.0V409.3M107.91 397.0V411.8M108.77 397.0V384.9M109.69 397.0V407.0M110.11 397.0V403.6M111.11 397.0V378.9M111.06 397.0V403.9M112.53 397.0V390.1M113.09 397.0V406.4M114.12 347.0V367.7M114.45 347.0V354.7M114.70 347.0V358.8M115.63 347.0V327.9M117.60 347.0V358.9M117.93 347.0V337.4M119.29 347.0V353.4M119.48 347.0V355.3M120.41 347.0V354.9M122.50 347.0V327.9M122.83 347.0V339.1M123.20 347.0V334.4M123.56 347.0V355.2M123.95 347.0V359.4M125.74 347.0V363.7M127.93 347.0V356.8M128.30 347.0V339.7M129.58 397.0V404.3M130.77 397.0V388.1M131.71 397.0V380.6M131.95 397.0V382.7M132.11 397.0V412.9M132.54 397.0V383.3M132.49 397.0V403.7M132.67 397.0V384.5M133.20 397.0V387.5M134.40 397.0V403.5M134.83 397.0V410.0M135.27 397.0V405.3M135.68 397.0V387.2M136.33 397.0V386.5M137.11 397.0V417.7M138.38 397.0V404.6M138.90 397.0V405.2M139.94 347.0V336.2M140.54 347.0V339.8M141.20 347.0V356.9M141.52 347.0V356.4M141.87 347.0V358.7M142.38 347.0V328.5M142.81 347.0V340.0M143.35 347.0V337.7M143.19 347.0V358.8M143.70 347.0V355.3M144.07 347.0V354.5M145.21 347.0V332.0M145.14 347.0V359.8M145.67 347.0V337.3M147.22 397.0V380.3M147.57 397.0V409.3M147.92 397.0V376.8M148.30 397.0V413.2M149.65 397.0V389.1M150.34 397.0V386.7M151.23 397.0V384.9M151.08 397.0V408.7M151.86 397.0V387.4M152.39 397.0V383.4M153.13 397.0V385.6M153.67 397.0V413.1M154.07 397.0V387.5M154.15 397.0V406.3M155.24 397.0V385.7M155.16 397.0V404.4M156.14 397.0V403.3M156.39 397.0V384.9M157.30 397.0V386.5M157.49 397.0V403.7M158.09 397.0V387.6M158.40 397.0V388.5M159.25 397.0V390.3M161.33 397.0V385.2M161.87 397.0V384.1M162.29 397.0V390.7M162.40 397.0V404.8M162.89 397.0V378.5M162.72 397.0V403.8M163.24 397.0V388.3M163.72 397.0V389.2M164.11 397.0V388.9M164.70 397.0V378.2M165.49 397.0V377.3M165.70 397.0V413.8M166.72 397.0V405.6M168.04 397.0V406.9M169.45 397.0V389.3M169.46 397.0V411.6M169.86 397.0V412.1M170.67 397.0V411.3M172.09 397.0V389.1M172.10 397.0V412.1M172.50 397.0V389.7M172.34 397.0V408.9M172.91 397.0V390.0M173.05 397.0V404.0M174.30 397.0V405.7M175.73 397.0V385.0M176.09 397.0V386.4M177.30 397.0V409.1M178.12 397.0V376.3M178.75 397.0V390.2M178.81 397.0V405.9M179.54 397.0V382.1M180.35 397.0V381.0M180.91 397.0V389.2M181.12 397.0V406.1M181.91 397.0V380.0M183.60 397.0V390.1M185.13 397.0V381.0M186.28 397.0V384.2M187.07 397.0V404.5M188.40 397.0V385.3M188.26 397.0V404.6M189.26 397.0V387.5M189.12 397.0V403.3M189.71 397.0V403.6M190.33 397.0V385.3M191.45 397.0V379.8M191.68 397.0V406.2M192.30 397.0V376.3M192.69 397.0V386.4M193.64 397.0V389.1M194.07 397.0V388.7M194.02 397.0V407.6M195.65 397.0V408.3M196.13 397.0V386.6M199.31 397.0V386.7M199.52 397.0V386.1M199.49 397.0V403.7M200.14 397.0V405.8M200.83 397.0V403.8M201.54 397.0V413.1M202.27 397.0V403.9M203.72 397.0V390.5M204.46 397.0V412.9M205.14 347.0V364.2M206.73 347.0V340.6M206.80 347.0V358.5M207.69 347.0V361.4M208.44 347.0V333.8M208.52 347.0V356.3M208.88 347.0V339.9M209.55 347.0V339.3M209.60 347.0V359.4M211.96 347.0V356.4M214.74 347.0V340.3M214.77 347.0V360.9M215.22 397.0V404.9M215.50 397.0V404.6M216.43 397.0V389.2M216.35 397.0V407.1M217.35 397.0V390.5M217.18 397.0V405.1M218.10 397.0V404.0M219.32 397.0V390.6M219.46 397.0V386.3M219.96 397.0V380.5M220.36 397.0V404.9M220.81 397.0V388.4M221.22 397.0V409.1M221.65 397.0V405.2M224.67 397.0V382.8M225.10 397.0V388.4M226.01 397.0V376.3M226.10 397.0V403.8M227.58 397.0V386.4M229.74 397.0V406.5M230.45 397.0V404.7M230.89 397.0V378.4M231.49 397.0V389.9M232.12 397.0V383.9M233.19 397.0V410.6M233.63 397.0V404.3M234.00 397.0V410.0M234.84 397.0V387.3M235.32 397.0V389.8M235.18 397.0V413.0M235.99 347.0V340.6M237.92 347.0V354.1M238.43 347.0V340.5M238.87 347.0V357.7M239.10 347.0V337.9M239.63 347.0V331.1M240.76 347.0V328.0M242.08 347.0V339.7M242.48 347.0V339.1M242.32 347.0V354.7M242.75 347.0V335.6M242.74 347.0V355.9M244.48 347.0V356.9M244.74 347.0V339.5M245.85 347.0V338.4M247.59 347.0V364.2M248.40 347.0V363.8M248.71 347.0V339.2M249.23 347.0V366.8M249.56 347.0V358.2M250.49 347.0V333.7M250.82 347.0V340.4M251.50 347.0V339.6M251.47 347.0V357.4M251.86 347.0V356.3M252.78 347.0V334.4M252.77 347.0V353.9M253.34 347.0V338.2M254.15 347.0V327.9M254.38 347.0V339.6M255.10 347.0V356.3M255.63 347.0V358.6M257.15 347.0V355.2M258.82 397.0V389.5M258.90 397.0V404.1M260.90 397.0V385.9M261.09 397.0V403.4M261.49 397.0V417.7M262.10 397.0V389.0M262.32 397.0V411.8M262.92 397.0V412.3M264.13 397.0V389.9M264.27 397.0V387.9M265.12 397.0V388.3M267.09 397.0V376.3M267.48 397.0V383.8M267.90 347.0V360.1M268.73 347.0V336.6M269.96 347.0V339.0M271.29 347.0V338.2M271.27 347.0V361.7M272.82 347.0V356.4M274.82 347.0V340.2M275.21 347.0V367.7M275.50 347.0V340.6M276.27 347.0V340.1M276.46 347.0V359.3M277.27 347.0V336.8M278.01 347.0V353.8M278.37 347.0V339.6M278.54 347.0V357.3M279.15 347.0V365.7M279.60 347.0V360.6" stroke="#231815" stroke-width="0.8" stroke-opacity="0.3" fill="none"/>
<path d="M62.29 347.0V340.1M62.49 347.0V364.9M62.69 347.0V356.1M63.11 347.0V339.1M64.84 347.0V338.3M64.92 347.0V354.9M65.73 347.0V340.6M66.13 347.0V357.0M66.70 347.0V367.7M67.99 347.0V340.0M69.32 397.0V417.7M70.46 397.0V381.9M71.94 397.0V389.9M73.75 397.0V383.8M73.99 397.0V379.4M75.14 397.0V405.0M75.88 397.0V404.0M76.37 347.0V366.6M77.18 347.0V340.2M77.75 347.0V356.9M78.13 347.0V354.7M78.80 347.0V331.0M79.09 347.0V333.7M80.43 347.0V331.5M81.63 347.0V356.2M82.88 347.0V354.4M83.63 347.0V366.0M84.06 347.0V336.4M84.50 347.0V339.7M86.09 347.0V338.3M86.91 347.0V365.3M87.23 347.0V356.3M87.49 347.0V364.4M88.29 347.0V335.2M89.29 347.0V354.7M90.35 347.0V340.4M91.17 347.0V353.9M91.49 347.0V356.4M92.92 347.0V326.3M93.27 347.0V335.8M94.03 347.0V362.9M94.44 347.0V339.5M94.77 347.0V336.9M95.33 347.0V335.2M95.33 347.0V359.3M95.94 397.0V390.1M96.14 397.0V404.4M97.27 397.0V389.9M97.56 397.0V405.9M99.49 397.0V390.3M100.40 397.0V405.4M101.31 397.0V403.6M102.07 397.0V376.3M102.30 397.0V387.0M102.81 397.0V403.4M103.29 397.0V404.8M105.59 397.0V382.6M107.49 397.0V404.2M108.42 397.0V411.1M108.66 397.0V406.8M109.13 397.0V384.1M109.68 397.0V385.0M110.43 397.0V406.4M111.57 397.0V403.9M112.74 397.0V388.3M113.30 397.0V389.6M113.60 347.0V338.8M114.02 347.0V336.0M114.54 347.0V338.7M115.23 347.0V355.7M116.92 347.0V367.7M117.55 347.0V334.8M118.74 347.0V337.1M120.83 347.0V337.6M120.80 347.0V357.1M121.51 347.0V337.0M122.53 347.0V354.9M122.88 347.0V357.0M123.10 347.0V355.3M123.68 347.0V338.7M124.84 347.0V335.6M125.68 347.0V336.7M126.01 347.0V336.4M126.54 347.0V355.0M126.82 347.0V355.5M127.10 347.0V337.8M127.55 347.0V367.5M127.91 347.0V339.7M129.17 347.0V354.1M129.99 397.0V408.6M130.28 397.0V390.2M133.94 397.0V406.0M136.09 397.0V386.0M136.48 397.0V405.0M136.80 397.0V387.6M137.23 397.0V390.0M137.54 397.0V387.2M137.46 397.0V408.9M137.96 397.0V382.1M139.13 397.0V390.0M139.24 397.0V408.1M139.56 347.0V337.9M140.92 347.0V354.4M141.51 347.0V335.5M142.03 347.0V328.2M144.68 347.0V361.1M145.88 347.0V339.9M146.07 347.0V354.4M146.86 397.0V390.3M147.65 397.0V379.0M149.30 397.0V390.4M149.15 397.0V406.0M149.50 397.0V406.9M150.11 397.0V410.8M150.71 397.0V386.2M150.70 397.0V403.5M152.88 397.0V410.7M153.29 397.0V411.9M154.48 397.0V388.9M154.80 397.0V383.7M155.70 397.0V404.0M156.30 397.0V404.2M156.74 397.0V417.7M157.30 397.0V406.9M157.92 397.0V405.5M158.79 397.0V404.2M159.61 397.0V382.7M160.02 397.0V389.4M160.13 397.0V413.0M160.87 397.0V390.6M161.33 397.0V405.4M166.40 397.0V405.9M167.10 397.0V406.6M168.40 397.0V390.3M170.28 397.0V385.0M171.18 397.0V390.3M171.53 397.0V383.2M173.65 397.0V389.2M173.54 397.0V404.9M174.32 397.0V388.9M174.94 397.0V389.3M174.65 397.0V407.0M175.09 397.0V408.0M176.09 397.0V417.7M176.35 397.0V380.7M176.52 397.0V403.8M176.77 397.0V389.7M177.18 397.0V381.8M177.61 397.0V390.1M177.93 397.0V404.2M178.29 397.0V405.8M179.88 397.0V404.5M180.51 397.0V410.4M180.88 397.0V404.1M181.58 397.0V388.7M182.42 397.0V408.4M183.31 397.0V404.6M183.60 397.0V409.2M183.86 397.0V390.6M184.09 397.0V403.4M185.56 397.0V406.9M186.46 397.0V411.3M187.45 397.0V388.0M188.02 397.0V389.8M187.85 397.0V411.0M188.82 397.0V380.0M190.38 397.0V406.0M190.84 397.0V404.5M191.25 397.0V387.5M192.00 397.0V384.5M192.25 397.0V412.0M192.69 397.0V415.3M193.27 397.0V376.3M193.23 397.0V403.4M194.47 397.0V389.5M195.30 397.0V409.8M195.69 397.0V385.1M196.45 397.0V389.5M196.49 397.0V407.3M197.15 397.0V376.3M197.15 397.0V403.4M197.61 397.0V403.5M198.14 397.0V408.1M198.47 397.0V390.0M200.14 397.0V389.3M200.41 397.0V404.8M200.85 397.0V378.1M205.74 347.0V340.5M205.51 347.0V363.3M206.50 347.0V363.8M208.05 347.0V354.6M209.18 347.0V335.6M210.38 347.0V332.8M210.70 347.0V339.9M211.48 347.0V361.9M212.05 347.0V335.7M212.53 347.0V354.9M212.77 347.0V327.2M213.27 347.0V334.0M213.47 347.0V354.9M214.11 347.0V332.7M214.29 347.0V338.5M214.31 347.0V355.0M215.31 397.0V385.3M215.74 397.0V387.6M216.13 397.0V410.6M216.95 397.0V405.6M217.58 397.0V388.8M217.54 397.0V410.8M217.99 397.0V390.2M218.41 397.0V390.4M218.86 397.0V406.9M219.35 397.0V403.9M220.87 397.0V405.4M221.67 397.0V387.8M223.29 397.0V389.6M223.28 397.0V407.2M223.53 397.0V384.7M224.43 397.0V409.2M225.13 397.0V408.2M226.40 397.0V377.9M226.32 397.0V417.7M227.29 397.0V403.6M227.49 397.0V404.3M228.00 397.0V412.0M228.75 397.0V417.7M229.26 397.0V403.5M231.06 397.0V410.0M231.64 397.0V409.6M231.87 397.0V405.6M233.72 397.0V376.5M234.02 397.0V390.4M234.47 397.0V407.5M235.53 347.0V339.1M235.97 347.0V361.6M236.32 347.0V329.5M236.89 347.0V333.8M239.18 347.0V355.2M240.43 347.0V356.3M240.94 347.0V362.7M241.65 347.0V355.5M242.09 347.0V359.2M243.51 347.0V326.3M244.75 347.0V355.1M245.21 347.0V339.8M246.54 347.0V356.0M246.86 347.0V354.3M247.69 347.0V340.0M249.56 347.0V340.3M250.25 347.0V356.3M250.92 347.0V356.5M251.17 347.0V339.2M251.05 347.0V356.4M252.43 347.0V339.2M252.52 347.0V356.2M253.28 347.0V354.9M253.58 347.0V340.4M254.34 347.0V357.4M254.85 347.0V326.3M255.88 347.0V340.4M256.50 347.0V337.4M260.03 397.0V386.7M261.64 397.0V376.6M262.10 397.0V404.7M262.30 397.0V390.2M263.71 397.0V413.7M265.47 397.0V376.3M265.58 397.0V406.5M266.40 397.0V404.9M266.89 397.0V403.5M267.70 397.0V404.1M268.11 347.0V335.7M268.32 347.0V334.8M268.50 347.0V355.0M269.30 347.0V355.0M269.60 347.0V335.3M269.63 347.0V354.9M269.90 347.0V354.9M270.36 347.0V353.3M270.80 347.0V365.1M271.72 347.0V333.5M272.31 347.0V335.1M272.30 347.0V356.1M272.94 347.0V337.7M273.13 347.0V334.8M273.21 347.0V367.7M274.70 347.0V367.7M275.55 347.0V364.3M275.90 347.0V357.4M276.74 347.0V358.4M277.71 347.0V332.1M278.12 347.0V337.2M280.44 347.0V330.9" stroke="#231815" stroke-width="0.8" stroke-opacity="0.6" fill="none"/>
<path d="M59.86 347.0V327.7M60.48 347.0V336.9M60.33 347.0V355.4M60.92 347.0V360.1M61.18 347.0V340.3M61.22 347.0V355.8M62.78 347.0V338.6M63.26 347.0V353.6M64.47 347.0V361.0M65.64 347.0V360.7M66.09 347.0V338.2M67.15 347.0V354.4M67.55 347.0V333.8M68.41 347.0V357.0M68.69 397.0V386.3M69.72 397.0V390.6M70.02 397.0V387.1M70.77 397.0V405.8M71.28 397.0V406.4M71.67 397.0V406.4M73.34 397.0V404.8M74.50 397.0V389.2M74.30 397.0V404.3M75.90 397.0V387.7M76.76 347.0V353.9M77.66 347.0V339.4M78.47 347.0V338.5M79.71 347.0V339.8M80.13 347.0V354.0M80.73 347.0V340.0M81.59 347.0V335.8M83.29 347.0V360.8M83.91 347.0V364.2M84.37 347.0V358.2M84.67 347.0V339.8M84.84 347.0V359.9M85.32 347.0V357.9M86.89 347.0V326.3M88.05 347.0V360.0M88.40 347.0V354.3M88.89 347.0V334.7M89.14 347.0V337.3M89.46 347.0V356.3M89.88 347.0V354.1M92.32 347.0V357.5M92.91 347.0V355.6M93.15 347.0V361.5M93.58 347.0V326.3M93.56 347.0V353.6M96.48 397.0V376.3M96.89 397.0V387.5M97.85 397.0V390.5M98.86 397.0V403.6M99.27 397.0V411.6M99.55 397.0V405.6M99.85 397.0V406.4M100.69 397.0V404.1M101.67 397.0V404.1M101.91 397.0V405.7M102.79 397.0V386.1M103.62 397.0V390.5M104.26 397.0V407.2M104.81 397.0V403.9M106.08 397.0V408.7M106.44 397.0V389.8M106.83 397.0V417.7M107.16 397.0V381.2M107.48 397.0V376.3M108.53 397.0V389.5M110.53 397.0V389.8M112.08 397.0V406.0M112.78 397.0V404.7M113.69 347.0V359.1M115.64 347.0V353.5M116.32 347.0V340.5M117.15 347.0V339.8M117.27 347.0V354.7M117.94 347.0V361.3M118.30 347.0V339.7M118.28 347.0V354.0M119.66 347.0V339.7M119.88 347.0V337.7M120.15 347.0V355.8M120.38 347.0V332.5M121.19 347.0V338.0M121.19 347.0V354.5M122.08 347.0V361.9M124.09 347.0V326.3M124.41 347.0V336.2M124.51 347.0V357.7M124.78 347.0V353.8M125.19 347.0V357.7M126.08 347.0V357.2M126.92 347.0V338.1M128.74 347.0V326.3M128.81 347.0V353.8M129.65 397.0V390.0M129.96 397.0V387.6M130.55 397.0V408.9M130.84 397.0V403.9M131.13 397.0V405.6M131.54 397.0V407.9M133.09 397.0V403.6M133.68 397.0V389.3M134.10 397.0V377.6M134.47 397.0V388.5M136.13 397.0V404.4M138.10 397.0V407.7M138.30 397.0V386.3M138.90 397.0V382.8M140.50 347.0V358.7M140.76 347.0V340.0M144.33 347.0V337.4M144.34 347.0V354.0M146.37 347.0V355.9M148.41 397.0V385.9M148.81 397.0V384.9M149.93 397.0V389.2M150.43 397.0V409.9M151.46 397.0V404.0M151.86 397.0V405.9M152.37 397.0V403.9M153.46 397.0V379.8M154.34 397.0V407.0M156.06 397.0V389.4M157.62 397.0V390.1M158.36 397.0V404.7M159.16 397.0V413.0M159.57 397.0V403.4M160.39 397.0V387.5M160.45 397.0V407.3M160.88 397.0V407.9M161.62 397.0V385.3M161.57 397.0V404.5M162.09 397.0V410.6M163.20 397.0V417.0M163.66 397.0V414.5M163.94 397.0V403.6M164.52 397.0V403.5M165.05 397.0V405.3M166.00 397.0V405.4M166.50 397.0V389.6M167.35 397.0V377.1M167.64 397.0V407.0M168.31 397.0V406.8M168.82 397.0V381.8M169.32 397.0V377.6M169.24 397.0V408.3M170.12 397.0V376.3M170.29 397.0V414.2M170.77 397.0V390.4M171.15 397.0V406.2M172.87 397.0V411.9M173.16 397.0V385.0M173.90 397.0V390.5M175.25 397.0V385.3M176.87 397.0V404.5M177.62 397.0V407.1M178.45 397.0V388.4M179.28 397.0V390.3M179.11 397.0V407.1M180.13 397.0V384.2M181.10 397.0V390.2M181.57 397.0V403.5M181.92 397.0V403.4M182.54 397.0V389.6M182.69 397.0V377.0M182.66 397.0V406.1M183.34 397.0V388.2M184.67 397.0V387.3M184.78 397.0V416.9M185.74 397.0V386.5M186.01 397.0V385.6M186.04 397.0V403.7M188.83 397.0V407.6M189.59 397.0V388.7M189.92 397.0V389.5M190.88 397.0V389.1M191.31 397.0V408.6M193.59 397.0V403.9M194.51 397.0V403.9M194.69 397.0V406.6M195.21 397.0V389.9M195.94 397.0V404.6M196.77 397.0V386.8M197.67 397.0V389.4M197.87 397.0V384.4M199.32 397.0V413.2M200.44 397.0V381.4M202.12 397.0V411.3M202.91 397.0V388.8M202.77 397.0V405.4M203.10 397.0V383.1M203.58 397.0V403.8M203.95 397.0V403.9M204.82 347.0V361.7M207.31 347.0V353.7M208.11 347.0V338.7M209.12 347.0V367.7M210.04 347.0V336.9M210.11 347.0V361.7M210.39 347.0V354.5M210.90 347.0V358.0M211.51 347.0V331.6M212.54 347.0V331.7M212.67 347.0V356.9M214.10 347.0V353.5M216.04 397.0V379.6M218.50 397.0V406.0M218.92 397.0V384.3M220.37 397.0V387.1M221.93 397.0V381.6M222.45 397.0V386.3M222.50 397.0V404.8M222.78 397.0V380.2M224.01 397.0V387.4M224.05 397.0V413.7M224.48 397.0V389.7M224.86 397.0V409.2M226.76 397.0V388.2M226.80 397.0V406.5M227.34 397.0V376.3M227.98 397.0V385.6M228.47 397.0V389.9M228.53 397.0V404.3M228.75 397.0V387.6M230.04 397.0V405.1M230.38 397.0V377.3M230.79 397.0V414.8M232.34 397.0V412.5M232.76 397.0V389.9M235.71 347.0V354.4M236.82 347.0V358.7M237.69 347.0V335.0M237.60 347.0V354.6M237.87 347.0V335.5M238.26 347.0V354.3M239.92 347.0V333.3M240.12 347.0V356.1M241.26 347.0V326.3M243.05 347.0V355.7M243.74 347.0V363.0M244.03 347.0V339.4M243.91 347.0V354.9M244.48 347.0V333.5M245.08 347.0V353.9M245.61 347.0V339.5M246.15 347.0V360.1M247.25 347.0V357.9M247.87 347.0V357.0M248.33 347.0V336.5M248.74 347.0V354.4M249.26 347.0V332.8M250.12 347.0V340.5M250.06 347.0V358.5M251.97 347.0V338.1M253.57 347.0V356.0M254.91 347.0V365.0M255.47 347.0V339.9M256.87 347.0V336.6M256.67 347.0V356.0M257.06 347.0V338.6M257.56 347.0V340.4M257.53 347.0V357.2M258.13 397.0V390.0M258.06 397.0V403.6M258.36 397.0V386.0M258.35 397.0V405.5M259.08 397.0V382.6M259.30 397.0V403.8M259.64 397.0V387.0M259.67 397.0V405.3M260.38 397.0V389.5M260.30 397.0V407.9M260.66 397.0V405.0M262.84 397.0V389.4M263.15 397.0V388.8M263.14 397.0V403.6M263.57 397.0V376.3M263.98 397.0V411.4M264.44 397.0V415.9M264.87 397.0V410.9M265.94 397.0V389.4M266.83 397.0V390.4M267.13 397.0V405.3M269.30 347.0V340.3M271.91 347.0V336.2M271.86 347.0V359.7M273.65 347.0V356.3M273.90 347.0V337.8M273.92 347.0V354.6M274.49 347.0V360.7M276.89 347.0V340.3M277.08 347.0V359.0M277.50 347.0V353.4M278.65 347.0V340.5M278.92 347.0V355.5M279.49 347.0V339.4M279.98 347.0V356.0M280.53 347.0V367.7" stroke="#231815" stroke-width="0.8" stroke-opacity="0.95" fill="none"/>
<path d="M68.60 347.0V397.0M76.20 397.0V347.0M95.80 347.0V397.0M113.40 397.0V347.0M129.40 347.0V397.0M139.40 397.0V347.0M146.60 347.0V397.0M204.60 397.0V347.0M215.00 347.0V397.0M235.40 397.0V347.0M257.80 347.0V397.0M267.80 397.0V347.0" stroke="#231815" stroke-width="0.8" stroke-opacity="0.75" fill="none"/>
<line x1="169.10" y1="346.00" x2="169.10" y2="340.80" stroke="#231815" stroke-width="0.8" />
<line x1="169.10" y1="390.00" x2="169.10" y2="340.80" stroke="#231815" stroke-width="0.8" />
<text x="0" y="0" transform="translate(41.00 349.00) scale(1 1.17)" font-size="13.5" font-weight="normal" fill="#231815" stroke="#231815" stroke-width="0.22">C</text>
<text x="0" y="0" transform="translate(40.40 401.20) scale(1 1.17)" font-size="13.5" font-weight="normal" fill="#231815" stroke="#231815" stroke-width="0.22">O</text>
<text x="52.00" y="405.00" font-size="8.5" font-weight="normal" fill="#231815" stroke="#231815" stroke-width="0.25">1</text>
<text x="0" y="0" transform="translate(141.60 316.40) scale(1 1.07)" font-size="12.9" font-weight="normal" fill="#231815" stroke="#231815" stroke-width="0.22">Wildtype</text>
<text x="296.00" y="400.00" font-size="14" font-weight="normal" fill="#231815" stroke="#231815" stroke-width="0.25">10 pA</text>
<line x1="244.40" y1="421.90" x2="244.40" y2="454.60" stroke="#444" stroke-width="1.0" />
<line x1="244.00" y1="454.60" x2="295.00" y2="454.60" stroke="#444" stroke-width="1.0" />
<text x="214.15" y="442.30" font-size="11.3" font-weight="normal" fill="#231815" stroke="#231815" stroke-width="0.25">5 pA</text>
<text x="256.60" y="442.30" font-size="11.3" font-weight="normal" fill="#231815" stroke="#231815" stroke-width="0.25">50 ms</text>
<text x="134.50" y="467.30" font-size="11.3" font-weight="normal" fill="#231815" stroke="#231815" stroke-width="0.25">-60 mm Hg</text>
<line x1="411.00" y1="342.10" x2="638.50" y2="342.10" stroke="#231815" stroke-width="1.3" stroke-dasharray="1.4 1.5"/>
<line x1="418.40" y1="389.50" x2="638.50" y2="389.50" stroke="#231815" stroke-width="1.3" stroke-dasharray="1.4 1.5"/>
<line x1="418.50" y1="446.30" x2="638.50" y2="446.30" stroke="#231815" stroke-width="1.3" stroke-dasharray="1.4 1.5"/>
<path d="M411.20,338.7 411.60,337.9 412.00,337.0 412.40,338.1 412.80,338.3 413.20,336.8 413.60,334.5 414.00,337.1 414.40,338.0 414.80,337.0 415.20,332.9 415.60,337.7 416.00,338.7 416.40,337.3 416.80,337.5 417.20,338.8 417.60,337.1 418.00,336.4 418.40,338.8 418.80,337.4 419.20,335.8 419.60,334.6 420.00,338.0 420.40,336.9 420.80,337.4 421.20,337.6 421.60,338.5 422.00,336.2 422.40,336.4 422.80,338.1 423.20,336.0 423.60,338.1 424.00,337.7 424.40,338.4 424.80,335.0 425.20,335.0 425.60,335.8 426.00,332.8 426.40,336.0 426.80,336.5 427.20,338.7 427.60,337.9 428.00,337.5 428.40,337.8 428.80,337.3 429.20,338.2 429.60,338.1 430.00,336.6 430.40,337.1 430.80,335.9 431.20,336.7 431.60,337.5 432.00,338.5 432.40,336.5 432.80,337.3 433.20,336.5 433.60,337.5 434.00,336.2 434.40,335.8 434.80,336.9 435.20,336.3 435.60,337.8 436.00,335.7 436.40,334.2 436.80,332.2 437.20,334.1 437.60,334.4 438.00,335.6 438.40,337.1 438.80,336.5 439.20,337.5 439.60,336.9 440.00,336.5 440.40,336.6 440.80,337.9 441.20,337.6 441.60,336.5 442.00,336.1 442.40,335.0 442.80,334.6 443.20,335.7 443.60,335.9 444.00,336.3 444.40,335.6 444.80,336.1 445.20,336.7 445.60,337.2 446.00,338.0 446.40,335.9 446.80,336.0 447.20,335.2 447.60,336.4 448.00,338.3 448.40,337.1 448.80,338.1 449.20,335.3 449.60,337.6 450.00,337.4 450.40,337.8 450.80,337.8 451.20,335.5 451.60,337.8 452.00,336.6 452.40,337.3 452.80,338.1 453.20,336.7 453.60,337.3 454.00,338.0 454.40,336.2 454.80,334.6 455.20,333.7 455.60,335.3 456.00,337.2 456.40,336.0 456.80,335.4 457.20,336.0 457.60,335.9 458.00,336.8 458.40,337.3 458.80,335.9 459.20,335.2 459.60,336.6 460.00,337.7 460.40,337.2 460.80,336.5 461.20,337.4 461.60,337.5 462.00,338.0 462.40,336.4 462.80,337.5 463.20,336.3 463.60,337.6 464.00,337.0 464.40,337.8 464.80,337.6 465.20,336.5 465.60,337.2 466.00,335.8 466.40,336.0 466.80,335.4 467.20,337.0 467.60,337.9 468.00,336.5 468.40,335.3 468.80,334.4 469.20,333.8 469.60,333.7 470.00,334.8 470.40,336.1 470.80,337.1 471.20,337.1 471.60,336.2 472.00,335.8 472.40,335.3 472.80,336.6 473.20,334.9 473.60,337.6 474.00,337.8 474.40,337.0 474.80,336.8 475.20,336.8 475.60,337.1 476.00,335.8 476.40,335.4 476.80,337.2 477.20,335.7 477.60,333.9 478.00,334.1 478.40,335.7 478.80,337.7 479.20,336.9 479.60,337.3 480.00,335.9 480.40,334.6 480.80,336.8 481.20,335.6 481.60,334.7 482.00,332.0 482.40,333.2 482.80,333.6 483.20,331.6 483.60,333.8 484.00,335.5 484.40,337.4 484.80,337.0 485.20,335.9 485.60,335.4 486.00,336.9 486.40,335.7 486.80,337.4 487.20,335.3 487.60,336.9 488.00,334.8 488.40,335.9 488.80,336.3 489.20,337.6 489.60,337.2 490.00,337.2 490.40,337.4 490.80,336.7 491.20,334.7 491.60,335.7 492.00,335.7 492.40,335.9 492.80,337.1 493.20,336.4 493.60,336.6 494.00,337.1 494.40,336.7 494.80,335.6 495.20,335.2 495.60,334.4 496.00,332.6 496.40,334.5 496.80,336.7 497.20,336.0 497.60,336.6 498.00,335.5 498.40,337.0 498.80,336.8 499.20,337.0 499.60,335.7 500.00,337.3 500.40,335.9 500.80,334.3 501.20,334.4 501.60,335.7 502.00,334.5 502.40,335.5 502.80,333.6 503.20,332.1 503.60,334.1 504.00,334.5 504.40,337.1 504.80,336.5 505.20,336.7 505.60,335.8 506.00,336.7 506.40,336.5 506.80,337.1 507.20,334.9 507.60,336.3 508.00,335.4 508.40,334.8 508.80,336.5 509.20,334.9 509.60,335.6 510.00,335.7 510.40,335.8 510.80,336.7 511.20,337.0 511.60,337.1 512.00,336.0 512.40,333.0 512.80,332.7 513.20,332.8 513.60,335.3 514.00,335.7 514.40,334.4 514.80,332.2 515.20,333.6 515.60,335.0 516.00,335.4 516.40,336.3 516.80,336.2 517.20,335.6 517.60,335.9 518.00,334.0 518.40,335.2 518.80,336.7 519.20,336.1 519.60,335.5 520.00,337.0 520.40,336.6 520.80,333.8 521.20,336.9 521.60,335.9 522.00,335.3 522.40,334.4 522.80,336.0 523.20,336.8 523.60,336.9 524.00,335.1 524.40,373.7 524.80,374.3 525.20,373.9 525.60,387.3 526.00,386.2 526.40,387.2 526.80,386.9 527.20,387.4 527.60,387.1 528.00,386.5 528.40,386.2 528.80,387.2 529.20,354.9 529.60,355.0 530.00,336.0 530.40,334.2 530.80,336.5 531.20,334.3 531.60,334.5 532.00,335.7 532.40,335.9 532.80,334.1 533.20,334.9 533.60,335.9 534.00,335.2 534.40,336.0 534.80,335.9 535.20,335.5 535.60,334.8 536.00,335.1 536.40,336.5 536.80,336.2 537.20,335.6 537.60,334.6 538.00,335.2 538.40,336.2 538.80,335.1 539.20,334.4 539.60,332.6 540.00,330.7 540.40,332.7 540.80,335.6 541.20,331.9 541.60,330.5 542.00,357.5 542.40,359.4 542.80,362.8 543.20,384.4 543.60,384.1 544.00,383.8 544.40,384.4 544.80,382.2 545.20,384.3 545.60,382.2 546.00,382.6 546.40,383.2 546.80,382.8 547.20,383.8 547.60,382.8 548.00,383.7 548.40,382.5 548.80,413.8 549.20,412.7 549.60,425.0 550.00,425.0 550.40,426.1 550.80,424.4 551.20,424.7 551.60,425.7 552.00,426.3 552.40,440.2 552.80,440.2 553.20,440.1 553.60,438.3 554.00,439.0 554.40,440.3 554.80,440.4 555.20,427.1 555.60,428.4 556.00,429.1 556.40,427.0 556.80,429.2 557.20,429.9 557.60,428.6 558.00,427.6 558.40,439.6 558.80,441.4 559.20,439.0 559.60,439.2 560.00,438.4 560.40,440.5 560.80,440.8 561.20,440.3 561.60,434.3 562.00,431.7 562.40,431.6 562.80,430.7 563.20,429.6 563.60,431.7 564.00,430.0 564.40,390.3 564.80,391.2 565.20,391.2 565.60,394.5 566.00,393.1 566.40,382.4 566.80,382.7 567.20,383.4 567.60,383.8 568.00,383.6 568.40,382.4 568.80,382.3 569.20,380.7 569.60,379.4 570.00,380.8 570.40,382.4 570.80,382.2 571.20,381.4 571.60,381.5 572.00,383.7 572.40,383.7 572.80,381.2 573.20,381.4 573.60,383.8 574.00,381.5 574.40,382.0 574.80,380.2 575.20,382.4 575.60,383.8 576.00,383.0 576.40,381.9 576.80,382.4 577.20,382.5 577.60,382.6 578.00,382.7 578.40,383.5 578.80,382.6 579.20,383.0 579.60,381.4 580.00,380.8 580.40,381.9 580.80,382.6 581.20,383.9 581.60,382.0 582.00,382.8 582.40,382.4 582.80,381.6 583.20,382.4 583.60,381.7 584.00,381.9 584.40,380.7 584.80,381.3 585.20,382.2 585.60,381.6 586.00,381.9 586.40,380.3 586.80,379.8 587.20,379.6 587.60,380.8 588.00,382.3 588.40,381.6 588.80,381.9 589.20,382.2 589.60,380.4 590.00,381.6 590.40,380.7 590.80,378.5 591.20,378.1 591.60,377.4 592.00,379.1 592.40,383.2 592.80,382.4 593.20,383.2 593.60,383.3 594.00,383.3 594.40,383.7 594.80,382.3 595.20,382.0 595.60,383.6 596.00,383.1 596.40,380.7 596.80,383.8 597.20,382.4 597.60,383.3 598.00,335.3 598.40,335.9 598.80,335.5 599.20,333.9 599.60,333.6 600.00,334.2 600.40,335.3 600.80,335.5 601.20,336.5 601.60,335.7 602.00,336.1 602.40,336.2 602.80,335.9 603.20,335.2 603.60,333.2 604.00,334.1 604.40,333.9 604.80,334.9 605.20,332.8 605.60,334.0 606.00,332.5 606.40,335.8 606.80,335.5 607.20,336.2 607.60,336.1 608.00,334.3 608.40,335.9 608.80,334.1 609.20,333.5 609.60,333.1 610.00,333.1 610.40,334.4 610.80,336.0 611.20,334.0 611.60,334.1 612.00,335.6 612.40,336.4 612.80,335.3 613.20,336.5 613.60,345.2 614.00,344.0 614.40,344.0 614.80,343.0 615.20,345.8 615.60,346.9 616.00,347.5 616.40,333.7 616.80,334.7 617.20,332.8 617.60,334.0 618.00,334.3 618.40,334.0 618.80,334.3 619.20,332.8 619.60,332.6 620.00,332.7 620.40,333.9 620.80,334.2 621.20,332.3 621.60,332.0 622.00,332.6 622.40,334.3 622.80,334.3 623.20,332.5 623.60,334.1 624.00,334.3 624.40,334.1 624.80,334.9 625.20,333.6 625.60,333.6 626.00,332.2 626.40,334.0 626.80,334.1 627.20,334.7 627.60,334.9 628.00,334.9 628.40,333.9 628.80,333.8 629.20,334.2 629.60,333.7 630.00,334.8 630.40,332.8 630.80,333.6 631.20,334.7 631.20,344.3 630.80,345.3 630.40,346.0 630.00,348.1 629.60,347.5 629.20,346.5 628.80,344.9 628.40,346.5 628.00,347.1 627.60,345.9 627.20,346.1 626.80,346.8 626.40,344.3 626.00,344.1 625.60,345.8 625.20,344.6 624.80,346.5 624.40,347.8 624.00,346.4 623.60,347.2 623.20,347.7 622.80,347.4 622.40,346.6 622.00,345.2 621.60,347.5 621.20,347.2 620.80,347.1 620.40,345.6 620.00,344.1 619.60,345.0 619.20,346.6 618.80,347.5 618.40,348.7 618.00,349.0 617.60,346.2 617.20,344.2 616.80,345.5 616.40,344.6 616.00,358.2 615.60,358.7 615.20,356.7 614.80,357.9 614.40,356.7 614.00,356.7 613.60,357.9 613.20,347.1 612.80,346.1 612.40,346.2 612.00,346.1 611.60,345.7 611.20,346.7 610.80,345.6 610.40,347.7 610.00,346.3 609.60,345.7 609.20,346.3 608.80,346.6 608.40,346.2 608.00,346.4 607.60,345.7 607.20,346.8 606.80,347.1 606.40,347.4 606.00,347.1 605.60,346.2 605.20,347.3 604.80,346.0 604.40,345.9 604.00,347.2 603.60,346.6 603.20,345.8 602.80,348.4 602.40,347.8 602.00,348.1 601.60,346.9 601.20,347.0 600.80,347.4 600.40,348.5 600.00,348.7 599.60,348.6 599.20,346.8 598.80,346.7 598.40,345.9 598.00,347.3 597.60,396.9 597.20,397.6 596.80,395.9 596.40,395.4 596.00,395.1 595.60,395.3 595.20,397.5 594.80,397.3 594.40,396.8 594.00,395.5 593.60,396.0 593.20,395.5 592.80,396.6 592.40,396.1 592.00,397.9 591.60,399.4 591.20,398.2 590.80,397.0 590.40,395.9 590.00,395.4 589.60,395.6 589.20,396.1 588.80,395.6 588.40,396.2 588.00,398.4 587.60,397.2 587.20,399.6 586.80,397.0 586.40,396.4 586.00,396.7 585.60,395.2 585.20,395.5 584.80,398.2 584.40,395.0 584.00,395.6 583.60,395.7 583.20,396.9 582.80,395.8 582.40,397.8 582.00,399.1 581.60,400.1 581.20,400.4 580.80,397.4 580.40,395.6 580.00,396.2 579.60,396.9 579.20,395.2 578.80,395.0 578.40,396.5 578.00,397.1 577.60,395.6 577.20,396.4 576.80,397.1 576.40,399.3 576.00,398.8 575.60,396.5 575.20,395.6 574.80,396.8 574.40,396.5 574.00,395.3 573.60,395.3 573.20,397.3 572.80,395.9 572.40,395.5 572.00,398.5 571.60,397.9 571.20,401.2 570.80,401.4 570.40,399.4 570.00,399.4 569.60,396.6 569.20,395.7 568.80,395.3 568.40,396.4 568.00,395.5 567.60,397.6 567.20,397.9 566.80,395.2 566.40,395.5 566.00,406.7 565.60,405.7 565.20,406.2 564.80,408.2 564.40,405.8 564.00,446.7 563.60,445.5 563.20,448.0 562.80,448.2 562.40,449.3 562.00,447.3 561.60,446.2 561.20,453.0 560.80,453.0 560.40,453.0 560.00,452.6 559.60,452.5 559.20,454.3 558.80,452.9 558.40,453.1 558.00,441.7 557.60,444.2 557.20,441.9 556.80,441.9 556.40,441.5 556.00,442.1 555.60,441.5 555.20,442.9 554.80,453.8 554.40,454.3 554.00,452.3 553.60,453.0 553.20,454.0 552.80,454.8 552.40,452.0 552.00,438.0 551.60,437.8 551.20,438.0 550.80,437.8 550.40,438.4 550.00,437.9 549.60,439.0 549.20,428.2 548.80,428.6 548.40,396.7 548.00,396.8 547.60,397.7 547.20,396.7 546.80,395.5 546.40,397.1 546.00,398.6 545.60,396.1 545.20,395.7 544.80,395.6 544.40,395.9 544.00,399.1 543.60,399.7 543.20,400.5 542.80,378.2 542.40,375.9 542.00,377.2 541.60,346.0 541.20,346.7 540.80,346.2 540.40,347.1 540.00,345.5 539.60,346.5 539.20,346.5 538.80,346.1 538.40,347.1 538.00,345.6 537.60,346.6 537.20,346.7 536.80,348.1 536.40,346.9 536.00,349.4 535.60,348.5 535.20,348.8 534.80,348.1 534.40,348.1 534.00,347.6 533.60,346.5 533.20,349.5 532.80,348.9 532.40,345.6 532.00,346.0 531.60,346.5 531.20,345.9 530.80,348.9 530.40,348.8 530.00,348.8 529.60,367.0 529.20,367.4 528.80,401.7 528.40,399.5 528.00,399.0 527.60,399.3 527.20,399.7 526.80,399.0 526.40,399.2 526.00,398.7 525.60,399.6 525.20,388.8 524.80,387.8 524.40,388.1 524.00,349.2 523.60,347.6 523.20,346.9 522.80,346.9 522.40,346.4 522.00,347.7 521.60,346.9 521.20,347.9 520.80,346.1 520.40,346.3 520.00,346.2 519.60,346.6 519.20,347.0 518.80,348.2 518.40,347.3 518.00,348.1 517.60,348.7 517.20,347.6 516.80,346.5 516.40,346.1 516.00,347.1 515.60,346.3 515.20,347.2 514.80,346.8 514.40,346.5 514.00,348.0 513.60,348.7 513.20,350.1 512.80,349.0 512.40,346.3 512.00,347.6 511.60,349.7 511.20,351.2 510.80,349.4 510.40,349.3 510.00,347.0 509.60,346.3 509.20,347.0 508.80,347.0 508.40,348.6 508.00,348.3 507.60,347.1 507.20,347.6 506.80,346.5 506.40,347.0 506.00,346.6 505.60,347.6 505.20,346.8 504.80,347.1 504.40,347.3 504.00,346.4 503.60,347.4 503.20,347.1 502.80,347.1 502.40,346.7 502.00,347.8 501.60,348.1 501.20,347.5 500.80,347.5 500.40,347.5 500.00,347.6 499.60,346.5 499.20,346.9 498.80,348.1 498.40,347.1 498.00,347.6 497.60,346.5 497.20,347.5 496.80,347.3 496.40,350.9 496.00,349.5 495.60,348.2 495.20,346.6 494.80,350.2 494.40,347.8 494.00,347.6 493.60,347.7 493.20,347.4 492.80,346.8 492.40,347.5 492.00,348.5 491.60,348.1 491.20,348.2 490.80,348.5 490.40,349.9 490.00,349.3 489.60,347.0 489.20,350.5 488.80,350.7 488.40,348.6 488.00,347.1 487.60,349.3 487.20,349.8 486.80,347.4 486.40,346.8 486.00,347.0 485.60,348.8 485.20,346.9 484.80,347.3 484.40,348.5 484.00,346.9 483.60,347.0 483.20,347.2 482.80,347.4 482.40,347.3 482.00,347.5 481.60,347.2 481.20,348.8 480.80,346.9 480.40,349.6 480.00,350.5 479.60,350.2 479.20,350.7 478.80,349.6 478.40,350.2 478.00,348.8 477.60,349.2 477.20,347.1 476.80,347.0 476.40,349.6 476.00,349.5 475.60,351.2 475.20,351.5 474.80,349.9 474.40,351.1 474.00,351.7 473.60,351.4 473.20,351.2 472.80,348.9 472.40,349.3 472.00,350.3 471.60,351.6 471.20,351.5 470.80,352.3 470.40,348.7 470.00,347.5 469.60,347.9 469.20,348.1 468.80,349.2 468.40,347.8 468.00,347.5 467.60,348.5 467.20,348.2 466.80,347.0 466.40,347.2 466.00,350.1 465.60,347.3 465.20,347.9 464.80,348.9 464.40,347.3 464.00,348.1 463.60,348.6 463.20,348.3 462.80,348.2 462.40,347.3 462.00,349.7 461.60,350.7 461.20,348.9 460.80,349.2 460.40,347.2 460.00,349.1 459.60,347.4 459.20,350.4 458.80,350.0 458.40,348.8 458.00,350.4 457.60,348.2 457.20,348.0 456.80,349.7 456.40,349.5 456.00,348.1 455.60,348.4 455.20,351.4 454.80,347.6 454.40,347.5 454.00,347.5 453.60,348.1 453.20,347.8 452.80,348.1 452.40,349.9 452.00,348.4 451.60,348.5 451.20,348.6 450.80,350.0 450.40,347.6 450.00,349.3 449.60,347.6 449.20,348.5 448.80,349.4 448.40,351.2 448.00,349.4 447.60,350.0 447.20,347.7 446.80,350.9 446.40,348.9 446.00,347.5 445.60,348.0 445.20,349.2 444.80,348.2 444.40,349.6 444.00,350.0 443.60,350.3 443.20,349.2 442.80,347.5 442.40,349.5 442.00,349.7 441.60,351.6 441.20,351.4 440.80,351.1 440.40,348.8 440.00,347.5 439.60,349.3 439.20,349.4 438.80,348.2 438.40,348.8 438.00,347.7 437.60,348.4 437.20,348.3 436.80,348.0 436.40,347.6 436.00,347.6 435.60,348.7 435.20,347.7 434.80,348.6 434.40,348.3 434.00,348.9 433.60,349.6 433.20,349.3 432.80,349.5 432.40,348.1 432.00,350.6 431.60,351.1 431.20,348.1 430.80,347.8 430.40,349.3 430.00,349.5 429.60,347.7 429.20,349.1 428.80,348.0 428.40,348.1 428.00,347.9 427.60,349.1 427.20,348.7 426.80,349.1 426.40,349.4 426.00,350.3 425.60,349.2 425.20,349.2 424.80,349.1 424.40,348.4 424.00,349.2 423.60,349.9 423.20,350.2 422.80,350.0 422.40,349.7 422.00,348.3 421.60,349.2 421.20,349.3 420.80,348.7 420.40,348.4 420.00,351.5 419.60,351.2 419.20,349.6 418.80,350.0 418.40,349.9 418.00,349.7 417.60,348.2 417.20,348.7 416.80,351.5 416.40,351.6 416.00,348.4 415.60,352.6 415.20,350.2 414.80,349.8 414.40,350.4 414.00,348.2 413.60,349.1 413.20,348.4 412.80,348.7 412.40,349.5 412.00,348.3 411.60,349.2 411.20,350.3Z" fill="#231815"/>
<path d="M411.28 343.5V350.5M413.23 343.5V350.4M413.45 343.5V352.1M413.98 343.5V351.8M414.34 343.4V357.9M417.50 343.4V337.0M418.78 343.4V337.0M419.57 343.4V352.3M419.98 343.3V330.4M419.95 343.3V355.8M420.31 343.3V334.2M420.69 343.3V335.1M420.76 343.3V347.9M421.17 343.3V337.4M423.26 343.3V349.6M423.89 343.3V336.1M424.26 343.3V332.7M424.82 343.3V325.3M426.69 343.2V334.7M426.67 343.2V352.2M427.11 343.2V325.3M427.22 343.2V351.1M427.48 343.2V347.9M428.03 343.2V337.5M428.69 343.2V350.9M429.56 343.2V338.6M430.45 343.2V329.0M430.44 343.2V357.6M430.70 343.2V338.3M431.51 343.1V349.0M432.69 343.1V347.9M433.74 343.1V353.2M433.93 343.1V335.5M434.46 343.1V333.9M435.21 343.1V329.3M435.56 343.1V335.9M436.73 343.0V333.3M438.90 343.0V348.8M439.46 343.0V324.1M439.60 343.0V347.6M439.95 343.0V352.0M441.69 343.0V337.1M441.47 343.0V360.3M442.92 342.9V348.5M443.23 342.9V334.6M443.60 342.9V337.7M444.10 342.9V338.1M444.44 342.9V335.8M444.90 342.9V337.9M445.91 342.9V325.5M447.21 342.9V330.5M448.78 342.8V338.1M449.07 342.8V332.3M449.62 342.8V360.1M449.91 342.8V348.6M450.28 342.8V337.4M450.41 342.8V351.5M451.49 342.8V347.4M453.31 342.8V337.2M453.65 342.8V350.5M453.96 342.7V349.2M454.36 342.7V337.1M454.94 342.7V331.3M455.66 342.7V327.2M456.00 342.7V323.8M456.87 342.7V335.9M457.33 342.7V354.7M459.29 342.7V323.8M459.51 342.6V336.8M461.08 342.6V338.1M463.61 342.6V351.9M464.12 342.6V338.0M465.89 342.5V349.2M466.39 342.5V347.1M467.47 342.5V347.1M467.88 342.5V354.7M470.38 342.5V330.3M471.47 342.4V335.0M472.08 342.4V337.7M472.43 342.4V326.3M473.55 342.4V335.9M473.72 342.4V351.4M473.85 342.4V353.8M475.59 342.4V356.9M476.26 342.3V346.9M476.73 342.3V327.0M477.97 342.3V350.1M478.28 342.3V328.5M479.30 342.3V348.8M479.71 342.3V347.5M482.37 342.2V350.0M483.71 342.2V347.1M484.30 342.2V336.6M484.93 342.2V334.7M485.99 342.2V359.5M486.35 342.2V334.5M486.89 342.2V352.5M487.12 342.2V347.6M488.92 342.1V332.5M489.11 342.1V324.6M490.76 342.1V336.6M491.71 342.1V349.2M492.12 342.1V348.4M493.29 342.1V333.3M493.20 342.1V358.2M494.78 342.0V336.1M494.83 342.0V350.2M495.19 342.0V334.9M495.10 342.0V350.0M495.98 342.0V347.2M497.30 342.0V337.1M497.49 342.0V348.1M498.04 342.0V356.7M498.43 342.0V334.4M500.28 341.9V350.7M500.74 341.9V330.0M503.66 341.9V334.7M503.93 341.9V333.8M504.33 341.9V346.7M505.32 341.8V331.9M505.13 341.8V346.5M506.10 341.8V330.5M505.89 341.8V347.3M507.61 341.8V352.5M508.42 341.8V337.0M509.33 341.8V350.5M509.60 341.8V324.9M510.36 341.7V350.0M511.89 341.7V347.8M512.46 341.7V347.2M513.57 341.7V351.3M513.94 341.7V337.0M514.87 341.7V350.2M515.10 341.7V331.9M515.74 341.7V323.0M516.76 341.6V358.3M518.02 341.6V335.3M518.52 341.6V352.7M519.91 341.6V346.4M520.46 341.6V329.0M520.77 341.6V336.9M524.51 380.0V370.4M526.41 393.0V379.9M526.82 393.0V382.5M528.43 393.0V384.2M529.48 360.0V374.9M530.38 341.0V347.6M531.26 341.0V347.4M532.02 341.0V331.8M531.88 341.0V353.4M532.26 341.0V345.8M534.47 341.0V352.2M535.55 341.0V349.0M538.14 341.0V332.7M538.11 341.0V353.1M539.25 341.0V347.1M539.68 341.0V327.0M539.49 341.0V350.4M540.90 341.0V333.6M541.11 341.0V348.6M541.70 341.0V327.5M542.39 370.0V376.4M542.93 370.0V354.4M543.75 390.0V397.8M544.08 390.0V395.9M545.27 390.0V397.7M545.86 390.0V399.3M546.89 390.0V398.8M547.11 390.0V378.5M547.14 390.0V400.9M548.54 390.0V397.1M549.32 420.0V425.6M549.72 432.0V420.2M549.91 432.0V439.7M551.33 432.0V439.4M552.09 432.0V423.5M552.70 446.0V458.6M553.13 446.0V437.5M553.06 446.0V462.8M553.61 446.0V437.6M553.94 446.0V451.6M555.22 436.0V444.0M556.47 436.0V428.6M557.30 436.0V426.8M557.66 436.0V443.9M560.28 447.0V440.6M560.79 447.0V436.7M560.70 447.0V452.6M562.80 440.0V446.7M563.28 440.0V431.8M563.54 440.0V433.8M564.45 400.0V391.0M564.25 400.0V411.0M565.23 400.0V405.9M565.63 400.0V407.4M567.69 389.5V383.1M568.93 389.5V381.5M570.11 389.5V382.7M570.40 389.5V403.9M571.70 389.5V395.6M571.98 389.5V396.5M572.27 389.5V379.8M572.95 389.5V396.1M573.15 389.5V377.8M573.53 389.5V402.2M576.04 389.5V383.6M575.93 389.5V396.3M576.82 389.5V373.5M577.34 389.5V375.0M577.57 389.5V395.0M579.63 389.5V379.1M582.72 389.5V395.4M584.09 389.5V367.1M584.00 389.5V399.3M585.58 389.5V378.4M586.92 389.5V406.3M587.20 389.5V380.8M588.95 389.5V382.2M589.32 389.5V381.4M589.18 389.5V397.3M589.74 389.5V379.3M589.71 389.5V396.6M589.92 389.5V383.1M590.47 389.5V383.0M591.61 389.5V381.7M592.04 389.5V399.8M595.59 389.5V398.0M596.06 389.5V383.6M596.80 389.5V378.4M599.96 341.0V327.6M600.80 341.0V332.7M603.32 341.0V345.7M603.71 341.0V332.4M606.40 341.0V355.7M606.86 341.0V348.8M609.71 341.0V330.3M609.72 341.0V345.7M609.98 341.0V333.8M610.41 341.0V330.5M611.27 341.0V356.8M611.54 341.0V348.9M612.03 341.0V332.9M612.31 341.0V335.5M613.60 352.0V346.9M614.45 352.0V343.9M614.86 352.0V369.3M616.40 339.5V330.4M617.58 339.5V344.5M618.07 339.5V334.8M618.05 339.5V344.1M618.94 339.5V334.1M618.79 339.5V356.8M619.21 339.5V348.6M620.33 339.5V330.2M623.51 339.5V334.6M624.27 339.5V344.3M627.66 339.5V333.8M629.31 339.5V332.5M630.08 339.5V332.5M630.87 339.5V320.6" stroke="#231815" stroke-width="0.8" stroke-opacity="0.3" fill="none"/>
<path d="M411.08 343.5V338.6M411.66 343.5V335.8M411.50 343.5V353.6M412.08 343.5V338.8M412.75 343.5V337.0M413.22 343.5V335.6M414.75 343.4V338.5M415.29 343.4V329.5M415.18 343.4V348.2M416.91 343.4V356.0M418.45 343.4V324.5M419.25 343.4V349.0M419.70 343.4V331.8M421.15 343.3V351.5M421.85 343.3V336.8M422.85 343.3V333.5M422.80 343.3V351.9M423.26 343.3V337.4M423.70 343.3V352.6M424.10 343.3V353.6M424.31 343.3V351.3M425.46 343.2V335.0M425.64 343.2V350.4M426.04 343.2V335.9M425.90 343.2V351.3M427.73 343.2V337.6M428.09 343.2V357.6M428.35 343.2V324.3M428.83 343.2V338.0M429.51 343.2V350.6M434.68 343.1V337.7M435.89 343.1V351.4M436.48 343.1V337.1M437.08 343.0V333.1M438.51 343.0V332.9M438.73 343.0V337.8M439.25 343.0V338.4M439.07 343.0V359.9M442.44 342.9V332.4M442.80 342.9V337.3M443.35 342.9V358.7M444.08 342.9V352.0M445.24 342.9V349.5M445.46 342.9V332.0M446.01 342.9V349.0M447.48 342.9V335.8M447.85 342.9V347.8M448.36 342.8V348.5M449.09 342.8V360.0M450.80 342.8V332.5M450.69 342.8V347.3M451.13 342.8V350.3M451.66 342.8V333.0M452.44 342.8V335.7M452.81 342.8V331.0M454.34 342.7V355.2M455.34 342.7V325.7M455.22 342.7V357.3M455.63 342.7V349.9M456.91 342.7V353.4M458.91 342.7V331.3M459.94 342.6V336.1M461.18 342.6V353.2M461.53 342.6V337.4M461.85 342.6V337.9M462.05 342.6V356.4M462.74 342.6V350.8M463.46 342.6V337.8M464.43 342.6V352.4M464.70 342.6V349.5M465.90 342.5V332.9M466.55 342.5V336.4M467.29 342.5V337.8M469.57 342.5V330.4M469.55 342.5V347.7M470.02 342.5V333.7M471.14 342.4V347.3M473.06 342.4V325.5M474.32 342.4V348.2M474.93 342.4V331.7M475.05 342.4V336.7M475.27 342.4V354.3M476.92 342.3V347.1M477.58 342.3V352.4M477.95 342.3V332.4M478.80 342.3V348.4M479.50 342.3V334.1M480.04 342.3V347.5M481.17 342.3V352.2M482.47 342.2V335.7M482.82 342.2V351.9M483.59 342.2V334.7M484.49 342.2V352.9M484.69 342.2V350.1M486.03 342.2V331.3M486.69 342.2V337.1M487.69 342.1V328.4M487.60 342.1V350.8M488.06 342.1V335.2M489.88 342.1V333.5M490.75 342.1V350.7M492.39 342.1V354.0M493.47 342.0V335.8M493.92 342.0V334.7M494.03 342.0V350.1M495.62 342.0V350.2M496.26 342.0V355.0M497.58 342.0V332.0M498.34 342.0V346.7M500.08 341.9V323.0M500.66 341.9V348.2M501.86 341.9V349.6M502.48 341.9V332.3M502.79 341.9V335.5M502.68 341.9V352.4M503.18 341.9V333.6M503.34 341.9V357.5M503.66 341.9V356.1M506.26 341.8V329.3M506.95 341.8V349.9M507.25 341.8V332.8M508.05 341.8V332.7M508.79 341.8V328.3M511.08 341.7V335.8M511.51 341.7V327.3M512.51 341.7V334.6M512.74 341.7V332.9M513.74 341.7V335.9M513.96 341.7V353.2M515.54 341.7V346.7M517.92 341.6V349.4M518.93 341.6V348.3M519.14 341.6V336.4M519.09 341.6V358.9M519.51 341.6V326.1M519.52 341.6V346.4M520.07 341.6V331.0M521.25 341.6V358.9M521.59 341.5V330.2M521.71 341.5V358.8M521.95 341.5V336.5M521.91 341.5V347.6M522.26 341.5V331.9M522.34 341.5V349.5M523.71 341.5V334.3M523.98 341.5V349.6M525.12 380.0V387.6M525.95 393.0V375.2M527.19 393.0V386.1M527.66 393.0V400.7M528.93 393.0V403.2M530.10 341.0V348.2M530.73 341.0V334.6M533.52 341.0V328.7M533.56 341.0V350.1M534.04 341.0V346.3M534.67 341.0V336.5M536.47 341.0V327.9M536.44 341.0V348.3M537.31 341.0V330.7M538.74 341.0V332.3M539.20 341.0V330.2M540.27 341.0V334.8M540.52 341.0V347.5M541.91 370.0V363.4M543.74 390.0V382.0M544.14 390.0V384.3M544.30 390.0V398.3M544.83 390.0V379.4M544.70 390.0V401.7M545.69 390.0V399.0M546.40 390.0V397.5M547.98 390.0V404.8M548.28 390.0V381.6M548.85 420.0V426.6M549.10 420.0V411.7M549.71 432.0V442.7M551.73 432.0V445.5M552.14 432.0V441.3M553.50 446.0V454.5M554.07 446.0V428.2M554.40 446.0V451.9M554.69 446.0V451.6M555.70 436.0V427.4M555.46 436.0V444.1M555.94 436.0V422.8M556.30 436.0V454.3M556.86 436.0V417.0M556.80 436.0V454.3M557.71 436.0V429.2M558.48 447.0V439.7M559.19 447.0V456.7M560.09 447.0V425.0M561.57 440.0V449.3M561.92 440.0V433.5M562.04 440.0V447.9M562.43 440.0V451.9M563.97 440.0V445.6M565.60 400.0V390.1M566.04 400.0V387.6M566.29 389.5V395.3M567.14 389.5V376.1M567.14 389.5V398.3M567.86 389.5V396.0M568.53 389.5V403.1M568.86 389.5V395.4M569.45 389.5V376.3M570.03 389.5V397.2M570.34 389.5V377.4M571.91 389.5V378.6M573.23 389.5V395.7M574.87 389.5V383.9M574.71 389.5V395.8M577.60 389.5V381.3M577.94 389.5V395.7M578.89 389.5V383.5M579.18 389.5V395.6M579.97 389.5V382.5M581.16 389.5V376.5M582.05 389.5V366.4M582.33 389.5V397.5M582.92 389.5V368.8M583.32 389.5V383.7M583.48 389.5V381.7M583.54 389.5V395.6M585.18 389.5V397.8M585.91 389.5V376.7M585.91 389.5V400.5M586.82 389.5V383.1M587.67 389.5V383.9M587.91 389.5V379.5M588.26 389.5V397.1M590.40 389.5V396.0M593.31 389.5V383.3M593.89 389.5V401.2M594.76 389.5V381.6M595.90 389.5V397.1M597.06 389.5V383.5M597.25 389.5V395.1M599.46 341.0V329.3M599.68 341.0V358.3M599.96 341.0V347.4M600.48 341.0V333.2M600.79 341.0V349.1M601.05 341.0V348.0M601.93 341.0V356.1M602.68 341.0V352.2M603.89 341.0V349.0M604.50 341.0V331.9M604.33 341.0V351.5M604.80 341.0V353.0M605.16 341.0V330.2M606.69 341.0V331.6M607.46 341.0V325.2M607.62 341.0V346.7M607.91 341.0V335.5M608.36 341.0V347.4M609.24 341.0V345.5M610.51 341.0V353.8M610.67 341.0V346.1M611.19 341.0V332.2M613.18 341.0V329.3M614.08 352.0V345.9M615.52 352.0V346.2M615.71 352.0V362.2M615.91 352.0V338.2M616.68 339.5V347.7M617.28 339.5V320.7M617.12 339.5V348.2M618.27 339.5V334.0M619.34 339.5V333.6M620.51 339.5V346.8M620.94 339.5V345.0M621.28 339.5V334.2M622.77 339.5V328.7M623.33 339.5V344.3M623.64 339.5V356.8M624.47 339.5V330.6M626.41 339.5V348.2M627.16 339.5V333.8M628.05 339.5V344.6M628.92 339.5V356.8" stroke="#231815" stroke-width="0.8" stroke-opacity="0.6" fill="none"/>
<path d="M412.37 343.5V360.8M413.67 343.5V338.1M414.31 343.4V334.6M415.74 343.4V331.8M415.86 343.4V334.6M416.39 343.4V336.1M416.29 343.4V358.0M417.17 343.4V348.6M418.46 343.4V351.4M421.65 343.3V360.6M422.51 343.3V336.7M422.30 343.3V360.6M423.65 343.3V334.5M424.67 343.3V360.6M425.19 343.3V353.4M429.14 343.2V334.7M429.90 343.2V330.8M429.90 343.2V350.5M430.90 343.2V350.1M431.73 343.1V333.4M432.51 343.1V338.6M432.89 343.1V337.6M433.61 343.1V333.6M433.88 343.1V348.3M435.18 343.1V349.5M435.93 343.1V338.2M436.69 343.0V354.3M437.12 343.0V357.8M440.38 343.0V336.8M440.94 343.0V333.7M440.80 343.0V348.4M441.90 343.0V349.3M442.41 342.9V349.1M443.67 342.9V347.7M444.27 342.9V349.2M446.29 342.9V338.3M446.49 342.9V347.9M446.91 342.9V350.2M447.59 342.9V350.6M448.49 342.8V337.3M448.67 342.8V347.4M451.14 342.8V337.0M451.97 342.8V329.3M452.34 342.8V348.8M453.52 342.8V336.8M456.11 342.7V354.2M457.14 342.7V337.4M457.64 342.7V336.0M457.67 342.7V348.7M458.43 342.7V324.8M458.77 342.7V360.0M460.08 342.6V359.9M460.41 342.6V355.7M460.77 342.6V336.5M461.74 342.6V353.2M462.71 342.6V336.8M464.00 342.6V351.7M465.31 342.5V350.4M466.71 342.5V337.1M466.79 342.5V349.3M468.44 342.5V333.3M468.95 342.5V323.6M469.25 342.5V334.3M469.26 342.5V356.3M470.04 342.5V352.6M470.42 342.5V351.8M470.72 342.4V337.8M471.54 342.4V347.2M472.29 342.4V348.3M472.77 342.4V337.3M473.07 342.4V350.1M474.30 342.4V329.2M475.68 342.4V337.0M475.90 342.4V335.1M477.12 342.3V351.9M477.75 342.3V336.1M480.34 342.3V337.2M480.72 342.3V348.5M481.68 342.3V328.4M482.08 342.2V347.1M482.89 342.2V335.3M484.08 342.2V335.8M485.60 342.2V335.0M485.56 342.2V349.4M487.09 342.2V336.3M488.28 342.1V335.9M488.75 342.1V347.5M489.07 342.1V347.8M489.71 342.1V351.0M490.32 342.1V328.2M490.50 342.1V351.2M492.05 342.1V337.5M493.56 342.0V349.0M495.58 342.0V337.0M496.70 342.0V335.4M498.71 342.0V337.4M499.20 341.9V324.2M499.62 341.9V337.1M500.34 341.9V334.8M501.09 341.9V334.3M501.19 341.9V347.1M501.74 341.9V356.6M502.13 341.9V336.8M502.27 341.9V347.3M505.58 341.8V336.7M507.15 341.8V346.5M508.01 341.8V354.8M508.46 341.8V346.7M509.09 341.8V336.0M510.06 341.8V350.8M510.45 341.7V336.6M510.70 341.7V333.1M511.11 341.7V347.1M511.50 341.7V349.4M512.06 341.7V332.0M512.89 341.7V351.7M513.30 341.7V335.2M514.52 341.7V332.4M515.08 341.7V347.6M515.86 341.6V336.9M516.77 341.6V335.0M520.53 341.6V352.7M522.85 341.5V347.9M523.19 341.5V358.8M524.25 380.0V385.9M524.82 380.0V365.3M524.90 380.0V386.7M525.12 380.0V372.4M525.56 393.0V402.7M525.96 393.0V403.4M526.94 393.0V400.4M527.86 393.0V383.2M527.90 393.0V403.2M528.35 393.0V403.2M528.69 393.0V386.4M530.41 341.0V329.5M532.69 341.0V353.5M533.19 341.0V351.0M535.13 341.0V335.1M535.26 341.0V351.3M535.85 341.0V346.7M536.90 341.0V331.8M536.81 341.0V354.7M537.62 341.0V348.1M538.53 341.0V335.7M538.82 341.0V347.0M540.02 341.0V335.5M541.15 341.0V334.9M542.07 370.0V376.4M542.30 370.0V353.7M543.15 390.0V381.4M545.11 390.0V383.3M546.15 390.0V383.2M548.06 390.0V375.7M548.67 420.0V409.0M549.91 432.0V426.4M551.22 432.0V425.3M551.64 432.0V421.5M552.38 446.0V430.8M554.48 446.0V422.9M555.97 436.0V448.0M557.08 436.0V448.2M557.93 436.0V444.2M559.93 447.0V455.9M561.16 447.0V434.9M561.73 440.0V420.6M562.42 440.0V420.3M562.91 440.0V425.9M563.17 440.0V446.0M564.13 440.0V433.6M564.75 400.0V405.6M565.30 400.0V393.3M566.31 389.5V376.1M566.74 389.5V397.6M567.88 389.5V377.9M569.12 389.5V380.3M569.17 389.5V397.6M569.74 389.5V406.1M570.72 389.5V379.5M571.20 389.5V397.7M573.49 389.5V376.8M574.05 389.5V378.0M573.98 389.5V398.5M574.31 389.5V374.5M574.46 389.5V398.7M575.28 389.5V382.3M575.66 389.5V383.7M575.55 389.5V395.1M576.54 389.5V395.1M576.69 389.5V395.7M577.19 389.5V395.2M578.93 389.5V395.4M580.29 389.5V382.5M580.80 389.5V366.4M581.07 389.5V399.7M581.49 389.5V366.7M581.72 389.5V399.1M582.02 389.5V397.5M583.30 389.5V395.8M584.38 389.5V397.0M584.94 389.5V377.4M585.11 389.5V383.4M587.45 389.5V396.8M588.07 389.5V407.8M588.26 389.5V379.1M590.80 389.5V398.4M592.46 389.5V376.8M592.34 389.5V396.3M593.21 389.5V396.7M593.48 389.5V374.5M593.63 389.5V396.8M593.90 389.5V383.8M594.33 389.5V377.3M596.47 389.5V395.3M596.68 389.5V400.1M597.58 389.5V381.9M597.61 389.5V397.5M597.93 341.0V335.8M598.12 341.0V346.7M599.12 341.0V349.6M602.40 341.0V328.4M603.30 341.0V331.1M603.75 341.0V354.5M603.96 341.0V326.0M604.85 341.0V335.4M605.11 341.0V347.7M606.02 341.0V335.8M607.15 341.0V335.2M607.10 341.0V346.0M608.32 341.0V336.3M609.33 341.0V322.1M610.03 341.0V350.5M610.83 341.0V336.0M612.80 341.0V346.7M613.95 352.0V362.0M614.91 352.0V345.4M615.21 352.0V345.4M615.13 352.0V357.4M616.45 339.5V344.5M617.59 339.5V329.8M619.48 339.5V332.3M619.89 339.5V348.7M621.70 339.5V320.6M621.94 339.5V331.2M622.09 339.5V345.8M624.05 339.5V348.0M624.65 339.5V345.0M625.68 339.5V346.9M626.02 339.5V333.8M626.27 339.5V332.4M627.73 339.5V348.3M628.55 339.5V344.8M628.77 339.5V334.9M629.10 339.5V344.7M629.74 339.5V333.7M630.37 339.5V334.3" stroke="#231815" stroke-width="0.8" stroke-opacity="0.95" fill="none"/>
<path d="M524.20 341.5V380.0M525.40 380.0V393.0M529.00 393.0V360.0M529.80 360.0V341.0M541.80 341.0V370.0M543.00 370.0V390.0M548.60 390.0V420.0M549.40 420.0V432.0M552.20 432.0V446.0M555.00 446.0V436.0M558.20 436.0V447.0M561.40 447.0V440.0M564.20 440.0V400.0M566.20 400.0V389.5M597.80 389.5V341.0M613.40 341.0V352.0M616.20 352.0V339.5" stroke="#231815" stroke-width="0.8" stroke-opacity="0.75" fill="none"/>
<line x1="424.50" y1="343.27" x2="424.50" y2="392.50" stroke="#231815" stroke-width="0.9" />
<line x1="425.90" y1="343.24" x2="425.90" y2="392.00" stroke="#231815" stroke-width="0.9" />
<line x1="430.20" y1="343.17" x2="430.20" y2="387.00" stroke="#231815" stroke-width="0.9" />
<line x1="440.30" y1="342.99" x2="440.30" y2="382.60" stroke="#231815" stroke-width="0.9" />
<line x1="473.60" y1="342.40" x2="473.60" y2="377.00" stroke="#231815" stroke-width="0.9" />
<line x1="487.30" y1="342.15" x2="487.30" y2="392.00" stroke="#231815" stroke-width="0.9" />
<line x1="515.50" y1="341.66" x2="515.50" y2="370.00" stroke="#231815" stroke-width="0.9" />
<line x1="573.40" y1="389.50" x2="573.40" y2="442.60" stroke="#231815" stroke-width="0.9" />
<line x1="614.60" y1="352.00" x2="614.60" y2="430.40" stroke="#231815" stroke-width="0.9" />
<line x1="546.00" y1="390.00" x2="546.00" y2="404.00" stroke="#231815" stroke-width="0.9" />
<line x1="528.00" y1="393.00" x2="528.00" y2="404.80" stroke="#231815" stroke-width="0.9" />
<text x="0" y="0" transform="translate(394.00 339.50) scale(1 1.17)" font-size="13.5" font-weight="normal" fill="#231815" stroke="#231815" stroke-width="0.22">C</text>
<text x="0" y="0" transform="translate(393.00 391.00) scale(1 1.17)" font-size="13.5" font-weight="normal" fill="#231815" stroke="#231815" stroke-width="0.22">O</text>
<text x="404.30" y="395.00" font-size="8.5" font-weight="normal" fill="#231815" stroke="#231815" stroke-width="0.25">1</text>
<text x="0" y="0" transform="translate(393.00 447.60) scale(1 1.17)" font-size="13.5" font-weight="normal" fill="#231815" stroke="#231815" stroke-width="0.22">O</text>
<text x="404.30" y="451.80" font-size="8.5" font-weight="normal" fill="#231815" stroke="#231815" stroke-width="0.25">2</text>
<text x="499.00" y="318.50" font-size="13.8" font-weight="normal" fill="#231815" stroke="#231815" stroke-width="0.25">F516A</text>
<text x="644.90" y="395.00" font-size="14" font-weight="normal" fill="#231815" stroke="#231815" stroke-width="0.25">10 pA</text>
<text x="644.90" y="452.00" font-size="14" font-weight="normal" fill="#231815" stroke="#231815" stroke-width="0.25">20 pA</text>
<line x1="457.20" y1="399.30" x2="457.20" y2="433.00" stroke="#444" stroke-width="1.0" />
<line x1="456.80" y1="433.00" x2="523.20" y2="433.00" stroke="#444" stroke-width="1.0" />
<text x="428.45" y="421.20" font-size="11.3" font-weight="normal" fill="#231815" stroke="#231815" stroke-width="0.25">5 pA</text>
<text x="473.60" y="421.20" font-size="11.3" font-weight="normal" fill="#231815" stroke="#231815" stroke-width="0.25">40 ms</text>
<text x="484.50" y="468.00" font-size="11.0" font-weight="normal" fill="#231815" stroke="#231815" stroke-width="0.25">-60 mm Hg</text>
<text x="65.40" y="520.70" font-size="12.8" font-weight="normal" fill="#231815" stroke="#231815" stroke-width="0.25">F516A</text>
<text x="0" y="0" transform="translate(32.70 544.80) scale(1 1.17)" font-size="13.5" font-weight="normal" fill="#231815" stroke="#231815" stroke-width="0.22">C</text>
<line x1="46.00" y1="538.40" x2="50.00" y2="538.40" stroke="#231815" stroke-width="1.2" stroke-dasharray="1.4 1.5"/>
<path d="M50.00,531.9 50.40,532.2 50.80,532.4 51.20,532.1 51.60,532.0 52.00,532.5 52.40,532.5 52.80,531.9 53.20,532.5 53.60,532.6 54.00,531.5 54.40,531.3 54.80,532.1 55.20,532.0 55.60,531.5 56.00,532.4 56.40,531.6 56.80,531.9 57.20,532.5 57.60,532.3 58.00,532.4 58.40,532.1 58.80,532.1 59.20,531.9 59.60,531.9 60.00,531.3 60.40,532.5 60.80,532.3 61.20,532.3 61.60,532.6 62.00,532.5 62.40,532.4 62.80,532.5 63.20,531.8 63.60,531.4 64.00,531.7 64.40,532.5 64.80,532.1 65.20,532.3 65.60,532.6 66.00,532.6 66.40,532.4 66.80,532.2 67.20,531.0 67.60,532.3 68.00,532.1 68.40,531.4 68.80,531.6 69.20,532.1 69.60,531.7 70.00,532.4 70.40,531.7 70.80,531.4 71.20,532.1 71.60,532.5 72.00,532.5 72.40,531.1 72.80,531.1 73.20,532.0 73.60,531.9 74.00,531.6 74.40,531.1 74.80,532.3 75.20,532.5 75.60,532.1 76.00,532.2 76.40,532.5 76.80,531.9 77.20,532.1 77.60,532.0 78.00,532.1 78.40,531.1 78.80,532.0 79.20,532.5 79.60,531.7 80.00,531.9 80.40,532.2 80.80,532.0 81.20,532.3 81.60,531.8 81.60,541.7 81.20,541.8 80.80,541.5 80.40,541.7 80.00,541.5 79.60,542.6 79.20,542.1 78.80,541.9 78.40,542.0 78.00,541.9 77.60,541.6 77.20,541.7 76.80,541.8 76.40,542.3 76.00,541.7 75.60,541.8 75.20,541.4 74.80,541.6 74.40,541.6 74.00,542.5 73.60,542.4 73.20,541.9 72.80,542.0 72.40,542.0 72.00,542.0 71.60,541.9 71.20,541.6 70.80,541.5 70.40,541.5 70.00,541.6 69.60,541.5 69.20,541.6 68.80,541.4 68.40,541.9 68.00,542.5 67.60,541.5 67.20,543.0 66.80,543.0 66.40,541.5 66.00,541.9 65.60,541.6 65.20,542.3 64.80,542.2 64.40,542.0 64.00,542.4 63.60,543.0 63.20,542.5 62.80,542.2 62.40,542.9 62.00,543.0 61.60,542.2 61.20,541.7 60.80,541.9 60.40,542.1 60.00,541.9 59.60,541.6 59.20,541.5 58.80,542.3 58.40,541.8 58.00,541.7 57.60,541.4 57.20,541.4 56.80,541.6 56.40,541.5 56.00,542.2 55.60,542.2 55.20,541.5 54.80,542.4 54.40,542.7 54.00,541.8 53.60,542.4 53.20,542.4 52.80,541.9 52.40,542.2 52.00,542.7 51.60,542.5 51.20,542.0 50.80,541.5 50.40,541.4 50.00,542.0Z" fill="#000"/>
<path d="M55.24 537.0V532.0M55.60 537.0V532.5M62.54 537.0V541.8M62.69 537.0V532.4M65.17 537.0V532.0M65.86 537.0V541.8M67.68 537.0V530.6M68.88 537.0V531.7M69.89 537.0V541.7M73.28 537.0V532.0M78.89 537.0V541.9M79.71 537.0V532.6M80.48 537.0V531.8" stroke="#000" stroke-width="0.6" stroke-opacity="0.3" fill="none"/>
<path d="M52.93 537.0V532.1M56.95 537.0V531.4M58.94 537.0V532.5M58.71 537.0V541.8M62.02 537.0V542.0M62.82 537.0V541.9M64.54 537.0V541.9M64.90 537.0V541.5M65.73 537.0V531.9M65.72 537.0V542.3M66.15 537.0V532.1M69.60 537.0V542.0M73.62 537.0V541.5M74.69 537.0V531.9M75.16 537.0V532.4M75.54 537.0V531.6M76.47 537.0V532.1M81.28 537.0V532.1M81.65 537.0V542.1" stroke="#000" stroke-width="0.6" stroke-opacity="0.6" fill="none"/>
<path d="M50.11 537.0V531.8M50.69 537.0V532.1M51.08 537.0V532.4M54.39 537.0V543.5M61.69 537.0V532.0M69.33 537.0V543.1M69.96 537.0V531.7M70.90 537.0V530.0M72.37 537.0V532.3M72.78 537.0V541.8M74.45 537.0V543.2M76.79 537.0V542.1M77.45 537.0V544.0M79.90 537.0V532.5M80.75 537.0V532.4" stroke="#000" stroke-width="0.6" stroke-opacity="0.95" fill="none"/>
<line x1="81.70" y1="537.40" x2="342.00" y2="537.40" stroke="#000" stroke-width="1.2" stroke-dasharray="1.3 1.6"/>
<path d="M81.90,539.4 82.30,538.5 82.70,538.8 83.10,538.0 83.50,538.0 83.90,538.1 84.30,537.4 84.70,540.1 85.10,542.5 85.50,542.5 85.90,543.3 86.30,541.3 86.70,539.2 87.10,533.4 87.50,535.0 87.90,536.0 88.30,535.0 88.70,535.7 89.10,536.2 89.50,535.4 89.90,536.0 90.30,538.0 90.70,537.4 91.10,538.5 91.50,538.5 91.90,537.6 92.30,537.7 92.70,537.9 93.10,536.4 93.50,533.7 93.90,536.9 94.30,541.2 94.70,542.2 95.10,543.4 95.50,542.7 95.90,544.8 96.30,546.3 96.70,540.8 97.10,541.3 97.50,540.1 97.90,540.5 98.30,538.4 98.70,535.9 99.10,538.4 99.50,539.1 99.90,540.1 100.30,543.5 100.70,543.9 101.10,547.3 101.50,548.5 101.90,548.7 102.30,546.9 102.70,548.0 103.10,545.2 103.50,547.3 103.90,546.7 104.30,546.6 104.70,547.0 105.10,544.9 105.50,541.9 105.90,542.7 106.30,542.4 106.70,541.6 107.10,541.9 107.50,543.9 107.90,546.4 108.30,541.4 108.70,538.4 109.10,539.8 109.50,539.7 109.90,541.7 110.30,542.0 110.70,547.2 111.10,546.5 111.50,541.2 111.90,538.2 112.30,539.0 112.70,542.7 113.10,539.6 113.50,542.6 113.90,544.2 114.30,548.3 114.70,548.6 115.10,547.2 115.50,547.0 115.90,549.2 116.30,550.5 116.70,545.4 117.10,544.6 117.50,544.3 117.90,546.2 118.30,546.1 118.70,542.9 119.10,542.3 119.50,545.1 119.90,540.9 120.30,540.5 120.70,540.1 121.10,541.4 121.50,541.8 121.90,539.3 122.30,541.2 122.70,544.3 123.10,542.3 123.50,541.9 123.90,546.8 124.30,548.0 124.70,547.3 125.10,543.1 125.50,539.4 125.90,540.5 126.30,542.8 126.70,543.4 127.10,542.1 127.50,542.6 127.90,545.9 128.30,548.4 128.70,544.5 129.10,544.4 129.50,544.7 129.90,549.0 130.30,546.4 130.70,545.8 131.10,547.9 131.50,545.4 131.90,544.9 132.30,541.1 132.70,540.1 133.10,539.6 133.50,543.1 133.90,540.8 134.30,540.9 134.70,546.6 135.10,545.2 135.50,546.7 135.90,546.6 136.30,547.5 136.70,546.6 137.10,545.5 137.50,545.6 137.90,542.6 138.30,543.5 138.70,544.1 139.10,546.0 139.50,550.4 139.90,552.5 140.30,553.4 140.70,549.9 141.10,547.0 141.50,546.1 141.90,544.7 142.30,545.3 142.70,544.0 143.10,545.3 143.50,543.6 143.90,547.0 144.30,547.1 144.70,546.4 145.10,545.9 145.50,541.1 145.90,543.2 146.30,543.4 146.70,545.4 147.10,543.3 147.50,540.1 147.90,544.8 148.30,545.2 148.70,545.9 149.10,547.9 149.50,546.1 149.90,547.5 150.30,547.7 150.70,550.2 151.10,554.1 151.50,550.9 151.90,551.9 152.30,554.1 152.70,557.5 153.10,554.1 153.50,551.5 153.90,544.8 154.30,550.2 154.70,547.4 155.10,549.6 155.50,551.5 155.90,551.9 156.30,551.7 156.70,551.9 157.10,556.1 157.50,555.6 157.90,554.7 158.30,550.1 158.70,550.1 159.10,545.3 159.50,542.9 159.90,545.0 160.30,542.2 160.70,542.6 161.10,542.6 161.50,545.6 161.90,547.8 162.30,548.4 162.70,548.6 163.10,546.8 163.50,545.4 163.90,545.7 164.30,544.8 164.70,548.7 165.10,545.4 165.50,545.3 165.90,549.0 166.30,554.4 166.70,558.0 167.10,550.2 167.50,557.5 167.90,551.6 168.30,553.2 168.70,552.1 169.10,550.5 169.50,550.2 169.90,548.4 170.30,548.4 170.70,548.7 171.10,545.4 171.50,544.9 171.90,545.8 172.30,548.4 172.70,551.8 173.10,549.7 173.50,554.5 173.90,556.2 174.30,557.9 174.70,560.8 175.10,561.5 175.50,561.8 175.90,559.4 176.30,553.0 176.70,558.0 177.10,554.2 177.50,549.2 177.90,547.0 178.30,548.4 178.70,551.1 179.10,552.2 179.50,557.8 179.90,558.9 180.30,561.5 180.70,558.4 181.10,557.1 181.50,554.2 181.90,553.7 182.30,553.7 182.70,554.7 183.10,556.5 183.50,558.8 183.90,564.0 184.30,565.9 184.70,567.5 185.10,565.5 185.50,569.4 185.90,569.4 186.30,566.5 186.70,559.5 187.10,559.5 187.50,562.3 187.90,565.0 188.30,561.6 188.70,559.8 189.10,560.9 189.50,558.5 189.90,552.5 190.30,556.8 190.70,556.9 191.10,559.4 191.50,559.8 191.90,558.2 192.30,560.8 192.70,562.2 193.10,562.7 193.50,561.0 193.90,565.4 194.30,562.5 194.70,565.0 195.10,563.9 195.50,565.1 195.90,563.2 196.30,559.3 196.70,557.5 197.10,555.7 197.50,563.8 197.90,565.0 198.30,565.1 198.70,561.6 199.10,557.5 199.50,564.2 199.90,559.5 199.90,589.6 199.50,597.5 199.10,595.3 198.70,597.7 198.30,595.8 197.90,595.8 197.50,591.9 197.10,588.6 196.70,591.8 196.30,594.1 195.90,596.1 195.50,596.8 195.10,593.7 194.70,595.8 194.30,595.9 193.90,594.7 193.50,589.1 193.10,591.0 192.70,591.4 192.30,589.4 191.90,591.3 191.50,588.1 191.10,590.6 190.70,585.6 190.30,584.4 189.90,581.2 189.50,589.2 189.10,590.1 188.70,592.9 188.30,593.8 187.90,597.7 187.50,599.2 187.10,592.8 186.70,593.3 186.30,600.5 185.90,603.1 185.50,598.2 185.10,597.2 184.70,600.3 184.30,600.7 183.90,598.9 183.50,593.0 183.10,587.3 182.70,589.6 182.30,588.4 181.90,584.4 181.50,589.3 181.10,590.7 180.70,592.4 180.30,589.6 179.90,587.8 179.50,587.8 179.10,585.0 178.70,579.8 178.30,577.1 177.90,575.2 177.50,580.0 177.10,583.9 176.70,589.8 176.30,590.0 175.90,592.2 175.50,593.2 175.10,590.7 174.70,590.5 174.30,587.4 173.90,590.3 173.50,589.8 173.10,582.7 172.70,581.7 172.30,581.3 171.90,576.2 171.50,577.6 171.10,575.2 170.70,578.9 170.30,580.0 169.90,579.1 169.50,581.1 169.10,581.5 168.70,581.9 168.30,587.3 167.90,587.1 167.50,590.4 167.10,585.6 166.70,587.4 166.30,585.2 165.90,586.3 165.50,581.8 165.10,578.6 164.70,580.0 164.30,578.6 163.90,577.9 163.50,579.6 163.10,576.3 162.70,578.0 162.30,578.2 161.90,580.4 161.50,581.1 161.10,577.5 160.70,575.9 160.30,571.4 159.90,575.2 159.50,574.7 159.10,577.8 158.70,583.4 158.30,583.6 157.90,585.9 157.50,588.9 157.10,591.2 156.70,583.3 156.30,584.1 155.90,583.5 155.50,580.3 155.10,579.8 154.70,581.4 154.30,583.5 153.90,581.9 153.50,587.3 153.10,587.2 152.70,588.7 152.30,587.5 151.90,586.7 151.50,586.7 151.10,586.2 150.70,580.5 150.30,581.2 149.90,582.7 149.50,583.0 149.10,581.5 148.70,577.0 148.30,582.3 147.90,578.0 147.50,574.8 147.10,573.3 146.70,575.4 146.30,575.2 145.90,574.3 145.50,573.5 145.10,576.3 144.70,577.9 144.30,579.2 143.90,578.6 143.50,574.6 143.10,574.0 142.70,574.4 142.30,572.5 141.90,572.4 141.50,578.2 141.10,576.8 140.70,580.3 140.30,581.3 139.90,581.8 139.50,577.8 139.10,573.8 138.70,574.2 138.30,570.5 137.90,573.4 137.50,574.6 137.10,578.0 136.70,576.7 136.30,575.7 135.90,576.5 135.50,573.6 135.10,572.1 134.70,573.0 134.30,567.6 133.90,568.4 133.50,569.9 133.10,567.8 132.70,568.0 132.30,565.7 131.90,572.4 131.50,575.1 131.10,575.4 130.70,572.9 130.30,571.9 129.90,573.0 129.50,569.2 129.10,568.1 128.70,567.9 128.30,572.5 127.90,570.8 127.50,570.2 127.10,568.7 126.70,568.2 126.30,566.2 125.90,569.7 125.50,567.3 125.10,569.4 124.70,571.7 124.30,570.1 123.90,570.4 123.50,568.9 123.10,570.1 122.70,568.3 122.30,565.1 121.90,562.8 121.50,564.6 121.10,566.7 120.70,567.5 120.30,565.2 119.90,566.5 119.50,566.8 119.10,566.7 118.70,565.2 118.30,566.5 117.90,568.2 117.50,568.0 117.10,568.9 116.70,571.5 116.30,572.8 115.90,569.1 115.50,569.2 115.10,565.8 114.70,568.9 114.30,571.8 113.90,567.4 113.50,564.1 113.10,560.5 112.70,560.9 112.30,562.6 111.90,563.7 111.50,565.7 111.10,564.7 110.70,569.5 110.30,567.8 109.90,560.0 109.50,560.5 109.10,563.5 108.70,559.7 108.30,560.6 107.90,563.2 107.50,562.3 107.10,559.2 106.70,558.9 106.30,558.5 105.90,559.4 105.50,560.2 105.10,560.9 104.70,565.1 104.30,564.0 103.90,565.9 103.50,564.7 103.10,564.9 102.70,564.0 102.30,563.2 101.90,565.4 101.50,564.5 101.10,561.6 100.70,559.0 100.30,557.3 99.90,555.9 99.50,554.8 99.10,555.4 98.70,554.5 98.30,555.8 97.90,554.1 97.50,552.8 97.10,555.3 96.70,555.8 96.30,558.8 95.90,558.8 95.50,557.3 95.10,556.4 94.70,555.3 94.30,557.7 93.90,551.7 93.50,549.5 93.10,551.2 92.70,552.2 92.30,549.4 91.90,551.3 91.50,552.2 91.10,553.0 90.70,553.1 90.30,549.5 89.90,553.8 89.50,554.5 89.10,551.7 88.70,547.6 88.30,547.6 87.90,548.3 87.50,547.3 87.10,547.0 86.70,551.3 86.30,555.7 85.90,556.1 85.50,555.9 85.10,553.8 84.70,553.1 84.30,550.8 83.90,550.5 83.50,551.1 83.10,549.8 82.70,549.5 82.30,550.4 81.90,550.4Z" fill="#000" fill-opacity="0.7"/>
<path d="M82.41 543.9V538.3M82.55 544.0V539.0M82.95 543.6V537.1M83.10 543.6V554.3M83.45 542.7V536.0M83.54 542.7V551.6M84.24 544.0V537.7M85.10 548.2V542.8M85.46 548.0V542.7M85.35 548.0V565.1M86.76 545.2V539.4M88.34 540.9V535.5M88.67 542.1V557.4M89.18 543.4V575.6M89.94 545.1V539.5M90.25 543.5V555.6M90.60 544.5V568.1M91.06 545.4V539.7M91.11 545.4V563.6M92.03 545.0V568.7M92.31 543.8V537.1M92.81 544.5V554.0M93.14 544.4V553.8M93.40 542.5V556.7M94.79 549.3V542.8M94.59 549.3V564.2M95.61 549.3V542.7M95.85 552.0V544.9M95.87 552.0V575.9M96.84 548.0V541.7M97.12 548.0V541.4M97.43 546.4V566.1M100.03 548.3V559.4M100.15 550.5V543.4M100.41 550.5V569.3M100.66 552.3V544.6M100.70 552.3V562.3M101.22 554.7V546.8M101.51 555.5V548.5M101.50 555.5V562.5M103.21 556.4V549.4M103.89 555.7V548.2M105.48 550.6V560.9M106.19 550.6V539.3M106.60 551.0V543.3M107.23 551.3V542.9M107.59 552.5V567.3M108.81 549.8V560.4M109.04 550.5V539.7M109.99 550.7V559.4M110.20 551.2V542.6M110.62 555.6V565.0M111.14 555.0V570.4M112.69 552.0V563.1M113.15 550.7V560.4M114.01 553.7V543.7M114.03 553.7V591.1M114.21 557.9V548.8M114.60 557.6V547.7M114.56 557.6V585.2M115.07 556.7V547.4M116.01 558.8V546.1M115.98 558.8V571.1M116.35 560.2V569.5M117.01 557.6V546.7M117.54 558.2V569.6M117.87 558.3V548.7M118.38 556.5V542.0M119.94 554.1V539.7M119.92 554.1V566.4M120.27 551.9V579.5M123.09 558.1V547.7M122.98 558.1V577.4M123.37 557.6V545.6M124.24 559.0V548.1M124.83 558.5V547.7M124.55 558.5V570.4M125.07 556.8V545.9M125.94 555.6V544.1M126.30 554.7V542.0M126.16 554.7V597.2M126.83 556.5V543.6M127.20 557.1V540.2M127.60 555.4V544.3M127.86 557.6V546.4M128.18 559.7V581.5M129.94 560.8V547.2M130.31 559.3V579.2M131.46 560.3V546.6M131.37 560.3V576.7M132.01 559.4V579.7M132.24 553.6V538.6M133.11 554.4V541.7M134.32 554.8V539.1M135.21 559.5V572.5M135.87 561.7V547.7M136.22 562.5V544.7M136.72 564.2V551.1M137.18 562.1V548.7M137.38 559.6V572.9M138.03 558.1V544.8M137.75 558.1V578.1M139.56 563.9V593.8M139.78 566.3V612.9M140.21 566.4V552.5M140.60 564.6V582.9M141.61 562.2V548.2M142.21 558.7V544.0M142.61 559.3V544.0M143.35 559.7V540.9M144.35 561.0V544.3M144.55 562.5V577.8M145.63 559.3V541.9M146.66 560.7V545.6M146.81 560.7V584.6M147.62 558.5V576.6M147.90 561.7V585.3M148.29 564.4V596.4M148.82 562.6V546.4M148.58 562.6V579.4M149.05 566.4V586.4M149.47 566.6V588.4M149.81 566.7V548.0M149.93 566.7V612.2M151.14 568.7V550.8M151.53 569.8V599.5M152.39 570.8V554.2M152.67 572.1V556.2M152.75 572.1V601.6M153.12 571.8V557.2M153.75 565.8V542.7M153.90 565.8V580.2M155.07 564.6V545.4M155.47 565.9V583.1M156.72 568.7V553.4M156.66 568.7V594.3M157.10 573.2V593.7M157.44 571.0V602.5M157.85 570.5V555.9M157.80 570.5V591.7M158.70 565.0V590.3M159.14 561.7V546.3M158.99 561.7V576.4M159.81 560.3V586.6M160.35 556.8V577.9M161.07 557.9V539.1M161.53 561.4V545.2M161.50 561.4V579.2M161.88 562.2V545.4M162.39 562.6V547.7M162.44 562.6V581.6M162.68 563.5V548.6M162.59 563.5V594.0M163.08 561.7V543.1M163.39 562.3V546.5M163.88 560.7V586.4M164.59 565.1V550.6M165.03 564.4V546.8M165.21 564.4V583.8M165.56 565.0V584.5M166.84 573.1V558.1M166.72 573.1V592.0M167.08 567.8V552.5M167.06 567.8V602.3M167.93 568.9V552.3M167.94 568.9V593.5M168.35 567.8V584.3M169.25 566.7V590.6M169.41 566.1V585.7M169.87 563.6V544.0M170.01 563.6V585.6M170.44 564.9V580.9M171.60 560.1V545.3M171.61 560.1V605.0M172.75 566.9V587.0M173.85 574.2V556.7M173.88 574.2V588.4M174.16 573.4V557.1M174.67 574.7V560.8M175.00 576.2V558.7M175.49 578.9V564.6M176.23 572.3V602.5M177.11 567.9V583.7M177.84 561.5V584.9M179.04 566.9V552.6M179.42 572.0V589.8M179.95 572.9V588.7M180.19 575.8V556.4M181.03 572.8V594.2M181.48 571.6V557.7M181.91 570.1V549.5M182.26 572.6V597.3M184.73 585.2V612.9M185.61 583.3V567.2M186.35 582.6V610.3M188.37 576.6V592.1M188.84 575.4V596.6M189.09 574.7V560.0M189.97 567.7V592.2M190.39 570.2V553.4M190.70 572.2V611.8M191.17 574.3V614.8M191.40 574.0V604.1M191.84 573.0V557.9M193.22 576.4V552.1M193.07 576.4V594.9M195.19 580.0V596.4M195.63 580.3V601.8M196.58 577.0V562.1M198.41 579.9V594.3M199.03 578.1V591.3M200.01 574.0V590.2" stroke="#000" stroke-width="0.6" stroke-opacity="0.2" fill="none"/>
<path d="M81.97 544.9V557.7M82.33 543.9V551.9M84.33 544.0V562.3M85.06 548.2V559.1M86.40 547.1V541.7M86.33 547.1V554.8M87.08 541.7V536.4M87.19 541.7V555.1M87.64 541.1V534.5M87.78 541.8V536.5M87.76 541.8V550.3M88.16 540.9V547.0M88.66 542.1V536.6M88.99 543.4V536.6M89.54 544.6V538.1M89.54 544.6V576.9M91.48 546.4V538.3M92.27 543.8V556.4M93.56 542.5V536.4M93.76 542.9V536.6M94.45 548.4V542.4M95.10 550.4V556.8M96.28 552.5V545.3M96.41 552.5V565.2M97.03 548.0V575.3M97.48 546.4V538.3M97.93 547.0V539.8M98.23 546.2V538.1M98.40 546.2V558.4M98.74 543.3V535.8M98.76 543.3V555.7M98.98 545.5V539.0M99.46 546.1V538.4M99.51 546.1V554.3M99.83 548.3V541.8M101.11 554.7V575.5M101.80 555.7V578.0M102.18 554.5V564.3M102.75 556.7V573.1M103.37 556.1V569.5M103.85 555.7V570.9M104.23 554.5V547.2M105.35 550.6V540.0M106.00 550.2V567.8M106.34 550.6V575.4M106.66 551.0V559.9M107.79 554.8V545.5M107.88 554.8V562.9M108.76 549.8V537.7M109.12 550.5V573.8M110.62 555.6V546.6M111.38 553.6V545.1M112.76 552.0V543.1M112.97 550.7V541.5M113.41 553.5V566.8M115.35 557.9V548.0M115.38 557.9V579.2M116.65 557.6V571.1M118.83 554.8V544.5M119.14 554.7V544.7M119.62 555.4V569.4M120.43 551.9V538.1M120.84 552.0V538.2M120.58 552.0V564.7M121.06 552.3V538.0M121.23 552.3V576.2M122.65 556.9V541.0M122.71 556.9V569.5M123.36 557.6V596.0M123.95 558.6V574.2M124.98 556.8V570.8M126.84 556.5V570.0M126.96 557.1V577.3M127.94 557.6V575.9M128.82 556.2V541.1M128.85 556.2V568.3M129.14 556.4V570.5M129.51 557.8V579.7M130.28 559.3V546.9M130.69 559.4V546.3M130.57 559.4V586.6M131.16 561.0V604.8M131.79 559.4V547.2M132.41 553.6V565.5M132.83 555.4V543.3M133.56 557.2V544.8M133.46 557.2V577.7M134.00 555.9V543.5M134.75 559.9V542.5M134.66 559.9V584.6M135.38 560.7V546.7M135.36 560.7V583.1M136.21 562.5V583.3M136.67 564.2V580.8M138.25 557.2V538.0M138.32 557.2V577.8M138.81 559.4V546.5M139.48 563.9V550.7M140.02 566.3V553.1M140.30 566.4V585.4M140.65 564.6V551.1M143.23 560.5V544.2M143.16 560.5V574.3M143.43 559.7V590.1M144.56 562.5V547.0M145.06 562.3V581.3M146.02 559.4V543.8M147.12 559.1V542.9M147.64 558.5V543.6M147.76 561.7V546.7M150.39 566.4V551.0M150.33 566.4V597.2M150.79 565.8V550.8M150.70 565.8V581.8M151.01 568.7V601.8M154.17 567.7V551.3M154.63 564.7V549.5M155.13 564.6V586.2M155.57 565.9V542.7M156.20 568.9V603.2M157.51 571.0V552.6M158.27 565.4V591.0M159.91 560.3V546.0M160.64 558.6V543.2M160.81 558.6V575.4M160.98 557.9V572.4M161.76 562.2V591.8M163.61 562.3V594.3M163.98 560.7V546.0M166.26 570.4V554.0M166.25 570.4V586.5M167.52 572.5V557.7M168.16 567.8V553.4M168.76 567.6V547.0M168.71 567.6V587.2M170.28 564.9V550.5M170.63 564.1V579.3M171.21 560.7V546.3M172.30 563.5V586.9M172.69 566.9V550.6M172.98 567.6V553.0M173.51 572.7V604.6M174.85 574.7V589.1M175.24 576.2V603.4M175.77 576.9V562.5M176.03 576.9V602.5M176.75 573.9V556.8M177.17 567.9V548.0M178.16 562.9V542.7M178.39 562.9V590.0M178.57 565.9V609.2M180.42 575.8V592.1M180.57 574.3V553.5M181.65 571.6V587.9M182.85 573.2V557.0M183.19 572.5V590.8M184.02 577.6V563.3M184.19 583.2V603.3M184.71 585.2V571.1M185.01 583.3V569.3M185.14 583.3V612.7M186.02 584.8V616.7M186.38 582.6V567.5M187.57 579.5V595.9M187.86 578.8V555.4M187.75 578.8V618.6M188.44 576.6V560.8M188.61 575.4V561.8M189.20 574.7V607.2M189.65 573.9V556.5M189.40 573.9V589.2M189.85 567.7V548.1M190.37 570.2V586.4M190.79 572.2V545.5M191.19 574.3V560.4M191.53 574.0V554.5M191.85 573.0V592.1M192.18 575.9V560.3M192.75 576.3V562.9M192.55 576.3V591.9M193.44 574.3V552.7M193.65 574.3V594.6M194.18 580.7V566.6M194.62 582.5V563.8M194.99 580.0V551.6M196.22 577.9V563.3M198.05 579.6V564.6M198.28 579.9V565.5M198.56 579.3V557.8M198.68 579.3V600.9M199.49 580.3V593.7M199.88 574.0V556.1" stroke="#000" stroke-width="0.6" stroke-opacity="0.45" fill="none"/>
<path d="M81.87 544.9V540.4M83.98 542.9V537.8M83.98 542.9V555.8M84.83 546.9V540.4M84.59 546.9V555.6M85.75 548.5V543.0M86.01 548.5V557.9M86.59 545.2V564.5M87.59 541.1V547.2M89.95 545.1V551.7M90.19 543.5V537.4M92.61 544.5V538.1M93.24 544.4V538.4M93.96 542.9V550.6M94.39 548.4V554.6M94.98 550.4V542.3M95.47 549.3V567.3M96.72 548.0V567.5M97.82 547.0V568.0M99.13 545.5V552.9M102.38 554.5V547.6M102.71 556.7V549.2M103.02 556.4V579.9M104.55 556.2V572.5M106.99 551.3V576.4M108.24 552.2V583.3M109.44 549.6V540.5M110.18 551.2V572.8M111.14 555.0V544.7M111.39 553.6V568.7M111.84 552.7V566.5M112.38 552.6V540.2M112.27 552.6V591.3M114.29 557.9V576.6M114.96 556.7V575.6M116.20 560.2V550.8M116.80 557.6V547.2M117.09 557.6V569.8M117.53 558.2V548.0M117.81 558.3V588.3M118.29 556.5V567.8M118.73 554.8V581.4M118.97 554.7V564.4M119.51 555.4V544.5M121.38 553.6V543.1M121.53 553.6V567.5M121.99 552.3V537.6M121.85 552.3V568.1M122.36 552.5V541.5M122.15 552.5V564.6M123.78 558.6V546.8M124.28 559.0V575.2M125.58 554.2V542.6M125.45 554.2V596.4M127.56 555.4V594.5M129.50 557.8V541.5M129.96 560.8V578.5M131.21 561.0V546.6M132.57 555.4V575.5M133.08 554.4V575.3M133.90 555.9V584.9M134.31 554.8V571.2M135.11 559.5V546.9M135.86 561.7V590.7M138.60 559.4V587.5M139.22 559.7V544.9M139.13 559.7V575.0M141.00 562.4V547.3M141.13 562.4V579.7M141.44 562.2V577.8M141.99 558.4V544.4M141.85 558.4V590.4M142.63 559.3V580.0M144.04 561.0V547.2M143.99 561.0V577.1M144.37 561.0V583.5M145.19 562.3V540.9M145.43 559.3V578.7M145.85 559.4V574.7M146.31 560.3V545.9M146.39 560.3V575.1M148.43 564.4V547.1M148.98 566.4V551.3M151.38 569.8V554.1M151.81 570.2V586.0M152.33 570.8V609.1M154.31 567.7V602.5M155.95 568.5V550.9M155.76 568.5V606.3M156.24 568.9V549.8M157.11 573.2V556.6M158.30 565.4V545.7M158.63 565.0V548.8M159.43 560.4V543.4M159.52 560.4V589.7M164.27 559.9V540.9M164.34 559.9V577.4M164.81 565.1V589.0M165.89 568.1V582.7M167.36 572.5V605.0M169.13 566.7V551.9M169.40 566.1V551.5M170.73 564.1V549.2M171.16 560.7V596.6M171.89 561.2V542.6M171.79 561.2V580.1M172.19 563.5V547.7M173.00 567.6V586.8M173.56 572.7V551.2M174.41 573.4V600.0M175.41 578.9V593.0M176.23 572.3V554.9M176.74 573.9V602.9M177.48 564.6V549.2M177.44 564.6V591.2M177.99 561.5V538.8M178.68 565.9V551.9M178.95 566.9V581.7M181.80 570.1V584.2M182.41 572.6V557.8M182.81 573.2V603.4M183.54 573.7V553.4M183.46 573.7V592.8M183.88 577.6V600.6M184.35 583.2V563.6M186.71 576.3V562.2M186.78 576.3V597.0M187.15 575.7V609.5M192.44 575.9V591.3M193.92 578.6V557.9M194.27 580.7V594.9M194.61 582.5V622.3M195.83 579.9V564.3M195.78 579.9V600.4M196.16 577.9V602.2M196.84 577.0V607.2M197.02 572.6V587.8M197.50 578.3V559.4M197.54 578.3V594.3M198.04 579.6V600.8M199.37 580.3V566.9" stroke="#000" stroke-width="0.6" stroke-opacity="0.85" fill="none"/>
<path d="M186.50 582.6V576.3M189.70 573.9V567.7M199.70 580.3V574.0" stroke="#000" stroke-width="0.8" stroke-opacity="0.75" fill="none"/>
<path d="M199.90,560.9 200.30,557.3 200.70,557.1 201.10,556.1 201.50,559.1 201.90,558.3 202.30,559.7 202.70,564.0 203.10,565.1 203.50,568.9 203.90,565.7 204.30,566.2 204.70,566.7 205.10,563.5 205.50,563.2 205.90,566.8 206.30,570.9 206.70,567.7 207.10,566.2 207.50,565.4 207.90,563.7 208.30,563.4 208.70,561.6 209.10,557.7 209.50,559.2 209.90,560.1 210.30,557.9 210.70,559.6 211.10,557.6 211.50,562.9 211.90,561.1 212.30,560.1 212.70,561.3 213.10,558.7 213.50,563.3 213.90,562.9 214.30,560.7 214.70,562.0 215.10,559.3 215.50,563.6 215.90,565.1 216.30,566.4 216.70,565.7 217.10,561.4 217.50,565.7 217.90,562.7 218.30,560.2 218.70,556.5 219.10,559.3 219.50,553.9 219.90,554.0 220.30,555.4 220.70,557.0 221.10,558.3 221.50,555.1 221.90,554.9 222.30,557.1 222.70,553.1 223.10,552.0 223.50,553.3 223.90,556.1 224.30,560.9 224.70,561.0 225.10,563.5 225.50,562.8 225.90,564.2 226.30,562.8 226.70,562.1 227.10,561.4 227.50,563.6 227.90,560.9 228.30,558.6 228.70,559.0 229.10,553.3 229.50,551.0 229.90,553.1 230.30,557.3 230.70,563.6 231.10,563.3 231.50,562.9 231.90,566.8 232.30,566.1 232.70,559.8 233.10,557.6 233.50,557.6 233.90,556.3 234.30,553.7 234.70,555.4 235.10,555.2 235.50,551.3 235.90,552.6 236.30,550.4 236.70,554.9 237.10,551.4 237.50,560.4 237.90,561.0 238.30,556.0 238.70,555.0 239.10,558.8 239.50,563.7 239.90,561.8 240.30,565.9 240.70,566.7 241.10,567.6 241.50,565.9 241.90,566.8 242.30,567.6 242.70,566.6 243.10,562.9 243.50,560.3 243.90,560.7 244.30,560.8 244.70,565.2 245.10,560.7 245.50,565.1 245.90,561.9 246.30,565.1 246.70,560.5 247.10,560.4 247.50,562.4 247.90,558.7 248.30,559.5 248.70,560.1 249.10,559.8 249.50,562.2 249.90,562.0 250.30,568.9 250.70,571.6 251.10,576.3 251.50,577.7 251.90,576.4 252.30,576.7 252.70,570.6 253.10,571.5 253.50,571.6 253.90,568.1 254.30,566.4 254.70,565.9 255.10,568.4 255.50,570.8 255.90,569.7 256.30,571.9 256.70,575.1 257.10,577.4 257.50,580.0 257.90,580.2 258.30,580.5 258.70,576.5 259.10,578.8 259.50,577.0 259.90,579.4 260.30,575.2 260.70,576.9 261.10,572.6 261.50,573.7 261.90,571.4 262.30,568.9 262.70,569.0 263.10,567.7 263.50,576.9 263.90,579.1 264.30,577.7 264.70,576.4 265.10,574.4 265.50,574.4 265.90,578.3 266.30,578.1 266.70,574.5 267.10,573.9 267.50,572.2 267.90,577.0 268.30,574.6 268.70,571.8 269.10,579.0 269.50,581.4 269.90,581.4 269.90,616.0 269.50,615.8 269.10,614.7 268.70,605.7 268.30,606.7 267.90,610.8 267.50,603.0 267.10,606.5 266.70,609.6 266.30,609.8 265.90,613.0 265.50,611.3 265.10,610.9 264.70,611.5 264.30,616.5 263.90,616.0 263.50,614.0 263.10,607.7 262.70,607.0 262.30,604.8 261.90,606.3 261.50,605.2 261.10,608.9 260.70,614.6 260.30,612.7 259.90,613.8 259.50,610.6 259.10,612.6 258.70,612.9 258.30,614.4 257.90,614.0 257.50,616.1 257.10,613.4 256.70,612.7 256.30,604.8 255.90,604.3 255.50,604.4 255.10,602.6 254.70,603.8 254.30,603.4 253.90,604.5 253.50,607.9 253.10,611.6 252.70,609.7 252.30,611.5 251.90,609.5 251.50,612.4 251.10,611.8 250.70,610.8 250.30,605.6 249.90,600.1 249.50,598.1 249.10,598.6 248.70,597.4 248.30,595.1 247.90,592.9 247.50,595.8 247.10,594.5 246.70,596.2 246.30,597.8 245.90,594.4 245.50,599.0 245.10,597.5 244.70,601.2 244.30,601.1 243.90,600.6 243.50,597.0 243.10,599.9 242.70,604.2 242.30,601.3 241.90,601.2 241.50,601.7 241.10,603.8 240.70,601.5 240.30,598.9 239.90,595.6 239.50,600.5 239.10,597.6 238.70,599.9 238.30,597.7 237.90,598.7 237.50,596.2 237.10,591.9 236.70,593.7 236.30,590.1 235.90,592.3 235.50,585.4 235.10,589.8 234.70,596.2 234.30,590.2 233.90,592.0 233.50,595.7 233.10,594.8 232.70,599.0 232.30,603.5 231.90,606.3 231.50,602.5 231.10,599.9 230.70,600.9 230.30,596.4 229.90,591.3 229.50,588.2 229.10,590.7 228.70,593.3 228.30,593.7 227.90,594.0 227.50,597.8 227.10,597.2 226.70,599.8 226.30,597.7 225.90,598.0 225.50,600.3 225.10,598.8 224.70,596.7 224.30,596.6 223.90,589.4 223.50,590.5 223.10,586.7 222.70,586.9 222.30,589.3 221.90,586.4 221.50,587.8 221.10,591.3 220.70,593.1 220.30,592.2 219.90,590.0 219.50,590.2 219.10,591.4 218.70,590.6 218.30,597.8 217.90,600.9 217.50,597.8 217.10,594.8 216.70,598.5 216.30,599.6 215.90,595.1 215.50,594.2 215.10,595.0 214.70,595.3 214.30,594.6 213.90,593.4 213.50,593.3 213.10,590.3 212.70,592.2 212.30,590.1 211.90,592.7 211.50,593.6 211.10,591.7 210.70,592.0 210.30,591.3 209.90,590.6 209.50,590.0 209.10,587.1 208.70,589.6 208.30,592.8 207.90,592.1 207.50,594.4 207.10,597.8 206.70,598.7 206.30,602.2 205.90,599.5 205.50,598.0 205.10,593.7 204.70,595.0 204.30,594.5 203.90,594.2 203.50,600.0 203.10,599.3 202.70,596.6 202.30,596.1 201.90,595.9 201.50,589.1 201.10,586.0 200.70,587.0 200.30,585.3 199.90,588.3Z" fill="#000" fill-opacity="0.82"/>
<path d="M199.97 574.0V587.9M200.76 570.6V556.6M201.04 570.6V554.5M201.38 573.6V558.6M201.38 573.6V594.4M201.87 573.7V559.1M202.66 577.8V561.2M203.05 580.9V564.3M203.48 582.9V567.8M203.45 582.9V617.7M204.33 581.0V609.1M204.78 581.1V566.4M206.37 585.0V567.7M206.62 583.2V600.6M207.50 580.2V608.8M208.31 577.8V560.0M209.38 574.2V590.1M210.74 574.4V557.9M210.60 574.4V598.8M211.04 573.0V556.0M211.02 573.0V595.1M212.97 575.5V597.1M213.51 579.0V594.6M213.84 577.8V547.4M213.80 577.8V604.2M214.58 580.1V560.2M214.56 580.1V604.3M215.22 577.9V562.4M215.53 579.2V553.7M215.38 579.2V596.1M216.00 580.5V552.8M215.85 580.5V608.7M216.43 583.4V557.5M217.01 578.8V555.1M217.18 578.8V594.5M218.37 577.6V598.6M219.21 575.6V601.8M219.39 574.0V591.2M219.78 573.4V606.9M220.21 575.6V600.3M220.71 574.4V559.1M220.98 574.1V608.0M221.98 570.6V591.4M222.20 573.3V592.8M224.32 578.1V560.6M224.96 581.3V560.9M225.96 581.9V552.0M226.75 581.4V607.9M227.11 580.3V560.8M227.80 578.0V550.9M228.23 577.7V560.1M228.83 576.9V552.0M230.38 576.5V604.3M230.75 580.7V561.5M231.92 583.6V566.2M232.25 582.6V565.1M233.09 577.9V559.2M233.18 577.9V596.5M233.45 575.5V592.3M234.24 571.6V602.0M234.75 572.7V593.3M235.03 571.9V548.6M235.49 568.9V547.6M237.08 573.8V553.5M237.52 579.3V553.7M237.61 579.3V595.9M238.70 581.0V558.8M241.11 586.0V602.5M241.64 583.8V566.7M241.47 583.8V600.2M241.83 583.7V566.7M242.39 583.9V609.2M242.73 583.2V604.7M242.95 581.4V600.0M243.37 580.7V557.8M244.28 582.1V561.1M244.17 582.1V602.3M244.80 583.4V566.7M245.47 582.4V566.1M245.61 582.4V600.3M245.91 578.3V595.0M246.20 581.4V559.5M246.60 577.8V560.8M248.72 577.0V608.4M249.65 580.8V601.3M250.43 588.1V564.4M250.66 591.3V571.6M251.08 593.3V571.0M252.24 594.4V578.5M252.45 594.4V610.3M253.08 588.3V571.5M253.23 588.3V605.0M254.03 587.6V604.0M254.37 586.0V569.9M255.82 586.8V603.4M256.96 594.7V570.3M257.13 594.7V612.9M258.25 596.8V612.6M258.79 595.1V575.8M258.82 595.1V612.8M258.99 595.9V612.6M259.78 595.9V618.4M261.83 589.2V567.4M262.44 589.3V567.1M262.75 591.7V611.6M263.50 593.3V559.3M264.81 594.1V615.2M265.00 593.6V611.9M265.54 592.8V573.7M266.04 595.3V611.5M266.31 594.8V574.1M267.36 588.2V605.5M267.84 593.2V573.8M268.03 593.2V609.9M268.35 591.2V570.6M268.75 588.7V570.2M269.64 596.5V575.1M269.65 596.5V612.2" stroke="#000" stroke-width="0.6" stroke-opacity="0.2" fill="none"/>
<path d="M200.55 570.6V587.1M201.81 573.7V591.6M204.05 579.1V600.7M204.59 581.1V597.0M205.58 580.6V559.1M205.98 582.4V566.5M205.97 582.4V606.4M206.40 585.0V616.4M206.97 582.1V600.5M208.74 575.5V591.1M209.06 571.9V555.1M209.47 574.2V559.9M209.91 576.0V560.6M209.84 576.0V600.0M210.41 575.7V561.0M211.85 576.3V593.8M212.32 575.5V559.6M212.25 575.5V599.7M212.79 577.7V559.8M212.76 577.7V592.4M213.63 579.0V563.6M214.37 578.3V598.7M216.68 582.1V562.5M217.51 581.2V596.6M217.94 580.1V559.2M217.96 580.1V594.9M218.43 577.6V561.8M218.61 573.4V556.2M218.72 573.4V595.6M219.39 574.0V556.8M219.78 573.4V555.0M220.44 575.6V557.8M221.15 574.1V555.0M221.53 571.0V548.0M221.92 570.6V550.0M222.81 569.0V591.1M223.19 568.1V538.8M223.13 568.1V587.1M223.79 573.3V553.8M225.46 583.3V602.3M226.28 581.5V564.6M226.38 581.5V598.9M226.65 581.4V560.1M227.53 580.6V564.1M228.30 577.7V598.3M229.05 574.6V603.0M229.57 571.9V587.9M230.25 576.5V560.3M230.76 580.7V597.9M231.24 581.0V559.0M231.05 581.0V602.5M231.54 581.7V601.5M232.02 583.6V619.6M232.61 579.5V610.2M234.23 571.6V543.8M234.74 572.7V555.7M235.19 571.9V603.6M235.51 568.9V591.9M236.26 571.6V588.2M236.74 575.2V593.3M237.02 573.8V608.8M237.95 579.4V596.8M238.23 578.3V555.7M239.54 582.4V561.1M239.55 582.4V607.1M240.00 579.0V562.6M240.85 584.6V564.8M240.79 584.6V607.0M240.98 586.0V563.4M241.89 583.7V604.1M242.38 583.9V567.5M243.93 580.9V563.2M244.71 583.4V612.7M245.98 578.3V561.7M246.17 581.4V598.6M246.61 577.8V598.6M247.23 577.0V595.7M247.36 579.5V559.3M247.43 579.5V601.4M248.01 576.6V556.7M248.20 576.9V548.7M248.29 576.9V602.0M249.13 578.8V562.3M251.14 593.3V622.3M251.52 594.7V617.4M251.85 593.4V569.4M252.71 589.3V569.5M252.71 589.3V606.9M253.52 588.3V563.4M254.75 586.1V603.0M255.13 586.1V566.5M255.63 587.4V604.4M255.95 586.8V568.4M256.21 589.1V567.0M257.94 597.9V573.8M258.27 596.8V570.1M259.19 595.9V577.7M259.57 594.3V571.4M259.62 594.3V610.4M260.83 596.5V616.8M261.13 592.7V575.3M261.60 589.8V605.9M263.20 589.3V606.2M264.04 594.6V611.6M264.15 596.0V567.3M264.41 596.0V614.2M265.14 593.6V578.1M265.47 592.8V608.9M265.89 595.3V579.6M266.38 594.8V611.8M266.76 590.6V606.1M267.60 588.2V566.3M268.58 588.7V603.3M268.99 594.6V561.7M268.99 594.6V610.4M269.91 596.8V574.5M269.98 596.8V612.4" stroke="#000" stroke-width="0.6" stroke-opacity="0.45" fill="none"/>
<path d="M199.78 574.0V549.2M200.17 571.8V554.1M200.30 571.8V585.4M201.23 570.6V592.3M202.44 575.1V557.7M202.28 575.1V603.2M202.59 577.8V592.1M203.04 580.9V598.4M204.33 581.0V566.8M205.11 580.1V553.0M205.15 580.1V604.4M205.40 580.6V604.4M206.59 583.2V569.1M206.97 582.1V566.1M207.47 580.2V565.3M208.05 578.1V553.6M207.78 578.1V600.3M208.24 577.8V600.6M209.08 571.9V589.0M210.33 575.7V602.2M211.53 577.1V549.7M211.62 577.1V592.0M212.03 576.3V560.6M213.11 575.5V560.8M214.29 578.3V557.6M214.99 577.9V605.4M216.24 583.4V608.5M216.63 582.1V607.1M219.20 575.6V560.4M220.65 574.4V611.3M222.28 573.3V550.5M222.65 569.0V547.1M223.40 571.2V549.7M223.64 571.2V592.1M223.86 573.3V592.7M224.26 578.1V593.7M224.84 577.4V561.1M224.76 577.4V605.9M225.07 581.3V599.6M225.37 583.3V558.1M225.97 581.9V611.2M227.09 580.3V599.5M227.50 580.6V599.8M227.83 578.0V597.0M228.69 576.9V608.2M228.98 574.6V557.7M229.43 571.9V555.5M231.60 581.7V563.1M232.39 582.6V614.9M232.59 579.5V554.4M233.86 574.9V601.6M235.98 572.3V591.3M236.79 575.2V555.0M237.87 579.4V562.8M238.35 578.3V598.2M238.62 581.0V598.9M239.08 581.0V610.6M239.76 579.0V603.7M240.19 582.6V609.5M242.72 583.2V564.7M243.24 581.4V564.5M243.59 580.7V597.9M243.84 580.9V611.1M245.03 580.2V596.5M247.83 576.6V598.4M248.78 577.0V553.7M249.09 578.8V605.1M249.42 580.8V555.6M250.02 581.3V561.3M250.03 581.3V600.3M250.23 588.1V604.7M250.84 591.3V609.0M251.36 594.7V578.2M253.54 588.3V604.2M253.80 587.6V566.5M254.15 586.0V605.3M255.05 586.1V604.9M255.40 587.4V571.2M256.31 589.1V608.4M256.61 593.6V612.7M257.53 597.1V622.2M257.86 597.9V615.4M259.84 595.9V578.6M260.32 595.1V567.1M260.32 595.1V612.1M260.58 596.5V571.1M261.05 592.7V613.2M261.95 589.2V604.7M262.19 589.3V606.6M262.58 591.7V574.4M263.00 589.3V569.9M263.81 594.6V578.7M264.58 594.1V578.3M267.14 589.4V556.1M267.15 589.4V610.3M268.35 591.2V610.3" stroke="#000" stroke-width="0.6" stroke-opacity="0.85" fill="none"/>
<path d="M250.10 581.3V588.1" stroke="#000" stroke-width="0.8" stroke-opacity="0.75" fill="none"/>
<path d="M269.90,578.8 270.30,579.2 270.70,579.9 271.10,581.7 271.50,581.1 271.90,582.1 272.30,580.6 272.70,579.8 273.10,581.3 273.50,580.6 273.90,578.9 274.30,579.3 274.70,577.5 275.10,575.4 275.50,576.3 275.90,579.5 276.30,575.8 276.70,578.1 277.10,582.7 277.50,581.4 277.90,584.7 278.30,587.2 278.70,587.0 279.10,588.4 279.50,584.6 279.90,585.5 280.30,582.9 280.70,580.5 281.10,579.4 281.50,578.4 281.90,578.7 282.30,577.9 282.70,577.8 283.10,576.2 283.50,583.4 283.90,580.1 284.30,581.3 284.70,584.6 285.10,583.9 285.50,585.3 285.90,580.9 286.30,580.7 286.70,579.7 287.10,582.8 287.50,582.6 287.90,583.9 288.30,588.6 288.70,588.2 289.10,590.2 289.50,587.0 289.90,587.2 290.30,588.8 290.70,588.8 291.10,587.8 291.50,591.4 291.90,592.8 292.30,593.3 292.70,592.7 293.10,590.5 293.50,589.0 293.90,587.5 294.30,589.7 294.70,586.2 295.10,587.2 295.50,590.4 295.90,591.0 296.30,592.6 296.70,591.5 297.10,595.5 297.50,596.5 297.90,594.2 298.30,590.9 298.70,594.0 299.10,595.5 299.50,591.3 299.90,591.6 300.30,593.6 300.70,594.1 301.10,590.4 301.50,592.9 301.90,590.8 302.30,589.2 302.70,590.7 303.10,592.4 303.50,593.1 303.90,592.1 304.30,589.6 304.70,594.8 305.10,593.4 305.50,592.8 305.90,596.2 306.30,592.1 306.70,593.3 307.10,591.8 307.50,597.8 307.90,599.0 308.30,594.3 308.70,591.7 309.10,590.1 309.50,592.9 309.90,593.5 310.30,592.7 310.70,593.2 311.10,595.0 311.50,596.4 311.90,596.1 312.30,594.0 312.70,593.1 313.10,596.8 313.50,595.3 313.90,596.0 314.30,595.7 314.70,596.8 315.10,595.6 315.50,594.8 315.90,595.4 316.30,593.3 316.70,595.0 317.10,596.9 317.50,596.1 317.90,599.1 318.30,599.9 318.70,600.6 319.10,599.8 319.50,599.3 319.90,598.3 320.30,595.7 320.70,597.3 321.10,597.3 321.50,598.6 321.90,598.5 322.30,599.2 322.70,600.3 323.10,598.4 323.50,598.6 323.90,597.8 324.30,597.5 324.70,595.1 325.10,597.2 325.50,597.7 325.90,598.2 326.30,597.9 326.70,595.7 327.10,597.4 327.50,597.4 327.90,598.3 328.30,595.9 328.70,596.3 329.10,595.2 329.50,594.8 329.90,596.2 330.30,597.2 330.70,599.0 331.10,598.3 331.50,600.3 331.90,599.4 332.30,601.0 332.70,603.3 333.10,601.6 333.50,600.5 333.90,602.9 334.30,598.4 334.70,599.5 335.10,601.5 335.50,602.4 335.90,601.9 336.30,602.5 336.70,601.7 337.10,597.5 337.50,598.0 337.90,604.5 338.30,602.8 338.70,602.6 339.10,604.5 339.50,601.5 339.90,602.9 340.30,600.3 340.70,603.6 341.10,602.0 341.50,602.6 341.90,600.9 341.90,618.5 341.50,619.1 341.10,617.4 340.70,617.8 340.30,616.8 339.90,618.8 339.50,617.5 339.10,619.2 338.70,622.0 338.30,619.6 337.90,622.6 337.50,620.4 337.10,623.2 336.70,621.1 336.30,622.0 335.90,619.9 335.50,620.0 335.10,615.8 334.70,615.2 334.30,615.8 333.90,618.0 333.50,616.8 333.10,616.4 332.70,618.2 332.30,618.0 331.90,616.4 331.50,616.0 331.10,617.1 330.70,616.3 330.30,613.0 329.90,614.3 329.50,613.3 329.10,614.9 328.70,615.1 328.30,615.1 327.90,616.5 327.50,617.5 327.10,618.4 326.70,615.3 326.30,615.0 325.90,615.5 325.50,613.8 325.10,613.5 324.70,615.7 324.30,615.3 323.90,615.7 323.50,618.4 323.10,616.8 322.70,616.8 322.30,617.4 321.90,619.3 321.50,616.3 321.10,615.1 320.70,615.5 320.30,614.4 319.90,619.2 319.50,621.3 319.10,624.5 318.70,622.8 318.30,618.5 317.90,623.3 317.50,619.3 317.10,614.8 316.70,618.6 316.30,618.8 315.90,618.8 315.50,614.5 315.10,615.9 314.70,617.3 314.30,614.9 313.90,617.1 313.50,618.8 313.10,616.5 312.70,619.3 312.30,619.3 311.90,619.5 311.50,617.4 311.10,616.9 310.70,614.1 310.30,614.1 309.90,614.5 309.50,617.1 309.10,616.9 308.70,618.7 308.30,618.9 307.90,621.5 307.50,619.1 307.10,616.4 306.70,618.4 306.30,618.9 305.90,618.7 305.50,614.7 305.10,615.5 304.70,618.0 304.30,614.9 303.90,616.4 303.50,618.1 303.10,615.1 302.70,615.6 302.30,613.0 301.90,613.9 301.50,617.4 301.10,616.9 300.70,617.8 300.30,618.5 299.90,617.4 299.50,620.2 299.10,620.3 298.70,619.4 298.30,619.6 297.90,620.7 297.50,623.6 297.10,622.1 296.70,617.7 296.30,621.9 295.90,620.5 295.50,617.6 295.10,615.5 294.70,611.4 294.30,615.0 293.90,613.9 293.50,617.9 293.10,618.7 292.70,621.0 292.30,619.9 291.90,619.0 291.50,618.7 291.10,613.0 290.70,614.3 290.30,614.1 289.90,614.5 289.50,614.5 289.10,618.9 288.70,617.4 288.30,616.2 287.90,612.2 287.50,610.9 287.10,611.6 286.70,608.3 286.30,607.6 285.90,607.9 285.50,612.0 285.10,612.3 284.70,612.4 284.30,610.5 283.90,609.2 283.50,609.6 283.10,606.4 282.70,607.5 282.30,607.0 281.90,607.2 281.50,606.9 281.10,609.2 280.70,609.6 280.30,610.7 279.90,615.9 279.50,614.2 279.10,616.1 278.70,614.9 278.30,614.4 277.90,612.1 277.50,611.7 277.10,613.0 276.70,610.1 276.30,612.1 275.90,610.2 275.50,607.1 275.10,610.7 274.70,609.8 274.30,609.6 273.90,610.2 273.50,613.4 273.10,616.7 272.70,614.3 272.30,613.9 271.90,613.4 271.50,613.6 271.10,613.9 270.70,611.7 270.30,612.0 269.90,613.6Z" fill="#000" fill-opacity="0.95"/>
<path d="M270.18 595.3V576.2M270.66 595.0V562.4M271.18 597.0V580.5M272.42 598.4V582.1M272.63 596.7V611.9M273.96 595.1V580.0M274.70 593.9V576.3M274.84 593.9V614.2M275.04 594.8V578.4M275.07 594.8V609.5M275.56 592.8V610.4M275.96 594.6V611.6M276.62 595.1V610.8M277.01 597.3V611.4M277.54 596.2V579.6M277.99 598.6V613.4M279.02 602.1V585.1M280.31 596.8V569.5M280.31 596.8V617.2M280.70 594.4V612.2M281.22 593.3V606.8M281.50 592.3V611.1M281.99 592.6V578.2M281.79 592.6V606.6M282.74 590.9V570.8M282.72 590.9V604.7M284.32 597.6V578.3M284.56 597.5V610.3M286.40 594.2V607.0M286.80 593.9V571.1M286.95 595.8V608.2M287.48 596.1V613.7M288.41 600.9V613.7M288.63 603.2V589.5M288.63 603.2V620.3M289.76 601.5V621.0M291.86 605.9V591.9M293.21 604.0V589.4M293.21 604.0V618.1M293.58 603.7V591.8M293.42 603.7V615.7M293.78 601.0V617.6M294.40 602.2V586.3M294.74 598.3V613.5M295.06 600.6V582.9M296.02 605.4V593.1M296.19 606.2V623.5M296.60 605.5V593.8M296.59 605.5V620.4M297.13 609.5V621.5M297.44 609.8V596.4M298.01 607.4V591.2M298.55 606.6V579.8M299.51 608.1V596.4M299.56 608.1V619.4M299.96 606.2V585.8M300.42 606.3V590.7M300.75 605.6V588.4M301.56 606.0V620.0M302.31 602.0V617.1M302.73 603.4V615.4M303.90 603.7V587.5M304.74 605.9V616.6M305.17 604.8V615.4M305.96 606.6V595.4M306.38 605.3V616.2M306.82 606.6V617.5M307.04 605.9V592.0M307.54 608.5V587.3M307.47 608.5V622.4M308.77 607.0V592.3M309.21 606.5V619.4M309.50 605.7V588.0M310.28 604.0V619.3M310.81 604.4V614.5M311.23 604.7V592.8M311.07 604.7V615.1M311.51 606.9V583.1M311.56 606.9V617.0M312.72 607.4V593.6M312.73 607.4V621.5M313.18 606.9V589.6M313.01 606.9V616.8M313.49 607.1V595.7M314.18 605.0V616.0M314.84 606.1V588.3M314.68 606.1V618.9M315.14 605.3V614.6M315.51 604.9V595.1M315.56 604.9V614.2M315.80 605.2V594.0M317.61 607.4V618.9M317.90 610.4V600.9M319.39 608.4V598.4M319.94 607.2V616.5M320.57 606.3V596.3M321.58 607.4V618.2M322.83 608.6V621.8M323.23 607.2V617.0M323.51 606.8V598.4M323.96 606.5V596.2M324.16 606.3V598.1M324.31 606.3V615.4M325.13 605.4V614.9M326.80 605.8V592.7M327.07 607.8V615.8M327.61 607.3V597.0M328.04 607.7V597.0M327.98 607.7V615.3M328.19 607.0V597.6M329.84 606.0V614.9M330.37 604.8V595.5M331.14 607.3V597.3M331.10 607.3V615.0M331.55 607.8V595.8M331.80 609.3V616.9M332.23 610.3V618.7M333.51 608.9V616.8M334.02 610.1V602.6M333.99 610.1V617.0M334.35 608.2V615.9M334.55 608.4V596.8M335.61 610.1V595.4M335.95 610.1V602.6M335.92 610.1V617.0M336.24 610.0V602.7M337.02 611.6V605.2M337.64 611.4V618.1M337.77 612.1V604.7M338.59 611.4V600.2M338.56 611.4V619.8M339.47 610.7V616.9M339.81 611.8V619.1M340.23 609.6V618.0M341.99 610.5V604.5" stroke="#000" stroke-width="0.6" stroke-opacity="0.2" fill="none"/>
<path d="M270.03 596.8V617.7M270.36 595.3V609.7M270.77 595.0V615.2M271.36 596.7V570.6M273.43 598.0V582.8M273.57 598.0V613.7M273.89 595.1V610.9M275.42 592.8V574.1M275.99 594.6V569.6M276.18 595.2V578.5M276.63 595.1V580.1M276.96 597.3V573.5M277.39 596.2V614.6M279.14 602.1V622.6M279.57 599.3V581.7M279.77 600.3V580.5M280.98 593.3V576.9M283.07 591.8V605.8M283.39 596.5V582.9M283.80 596.4V568.0M283.90 596.4V618.2M284.37 597.6V611.9M284.79 597.5V572.7M285.20 599.4V576.2M285.40 598.5V611.2M285.96 594.6V609.2M286.41 594.2V564.5M286.62 593.9V607.6M287.19 595.8V582.0M287.75 597.5V581.3M287.98 597.5V613.0M288.35 600.9V586.9M289.41 601.2V586.0M289.85 601.5V582.6M290.38 601.4V613.7M291.08 600.5V584.8M291.25 600.5V612.9M291.55 604.2V589.8M291.95 605.9V618.8M292.36 607.0V584.5M292.38 607.0V620.4M292.72 606.0V621.6M295.21 600.6V618.5M295.60 603.5V584.7M295.49 603.5V615.0M297.92 607.4V620.2M298.22 606.8V621.9M299.17 606.7V619.3M300.05 606.2V620.6M301.22 604.5V620.2M301.96 602.6V613.6M302.20 602.0V591.3M302.74 603.4V586.2M303.22 604.2V616.7M303.88 603.7V614.4M304.24 603.5V593.0M305.07 604.8V592.0M307.07 605.9V618.2M307.97 609.1V619.7M308.16 606.7V594.7M308.32 606.7V621.0M309.17 606.5V588.2M309.89 603.5V587.4M309.82 603.5V614.6M310.39 604.0V592.1M311.95 609.0V593.9M311.87 609.0V619.4M312.31 608.0V594.5M312.43 608.0V618.3M313.41 607.1V617.1M313.99 606.3V617.1M316.20 604.9V589.2M318.05 610.4V622.1M318.30 609.5V597.6M318.26 609.5V618.3M318.83 610.3V600.4M319.06 608.9V618.6M320.04 607.2V598.6M320.20 605.2V614.1M320.81 606.3V619.6M320.97 605.9V614.7M321.43 607.4V594.1M321.79 607.8V616.5M322.67 608.6V587.9M322.96 607.2V599.0M323.45 606.8V615.1M323.95 606.5V615.6M324.60 605.1V595.7M324.80 605.1V613.6M325.64 605.9V613.8M326.83 605.8V614.6M327.01 607.8V599.6M327.39 607.3V617.1M328.17 607.0V614.8M328.64 607.0V598.7M328.57 607.0V614.5M329.01 606.7V598.4M329.03 606.7V614.7M329.40 605.7V586.9M329.49 605.7V613.3M331.50 607.8V616.7M332.31 610.3V600.9M332.59 610.7V600.7M332.58 610.7V620.6M332.97 609.0V617.0M334.76 608.4V615.3M335.21 608.7V616.6M335.44 610.1V616.9M336.77 611.4V602.2M337.79 612.1V620.5M338.27 611.4V618.3M339.12 611.4V618.3M340.74 610.4V603.1" stroke="#000" stroke-width="0.6" stroke-opacity="0.45" fill="none"/>
<path d="M270.03 596.8V574.9M271.51 596.7V616.1M271.91 596.9V571.8M271.86 596.9V611.1M272.16 598.4V613.5M272.72 596.7V580.9M273.22 599.5V583.7M273.19 599.5V615.7M274.37 595.3V574.9M276.27 595.2V609.6M278.04 598.6V575.1M278.35 600.9V582.9M278.30 600.9V616.3M278.72 601.3V581.2M278.55 601.3V615.8M279.39 599.3V613.8M279.79 600.3V615.8M280.61 594.4V563.7M282.15 591.8V605.5M283.21 591.8V574.2M283.64 596.5V610.2M285.11 599.4V612.7M285.91 594.6V579.5M287.51 596.1V583.1M289.14 603.4V574.3M289.08 603.4V617.2M290.41 601.4V581.0M290.79 601.2V585.3M291.44 604.2V623.1M292.68 606.0V585.0M293.96 601.0V585.8M294.22 602.2V614.7M294.71 598.3V583.4M296.32 606.2V590.6M297.03 609.5V596.2M297.65 609.8V623.5M298.25 606.8V588.8M298.72 606.6V618.3M300.18 606.3V618.3M300.59 605.6V617.7M301.45 606.0V595.2M302.04 602.6V587.4M303.13 604.2V591.3M303.46 603.7V584.7M304.43 603.5V615.3M304.77 605.9V594.9M305.56 603.6V590.9M305.63 603.6V614.4M306.41 605.3V594.2M306.67 606.6V596.2M307.84 609.1V597.2M308.85 607.0V619.1M309.54 605.7V617.3M310.63 604.4V594.6M313.84 606.3V588.7M314.29 605.0V594.1M315.90 605.2V615.0M316.45 604.9V613.9M316.66 605.0V595.5M316.59 605.0V615.8M317.11 605.8V592.1M317.07 605.8V616.7M317.44 607.4V598.4M318.99 608.9V597.8M319.59 608.4V619.4M320.16 605.2V592.1M321.90 607.8V595.9M322.17 608.3V594.9M325.21 605.4V593.5M325.58 605.9V595.8M326.01 606.7V617.3M326.42 606.3V591.6M330.39 604.8V612.1M330.80 606.4V614.5M332.00 609.3V601.7M332.98 609.0V593.2M333.39 608.9V591.2M335.08 608.7V595.4M336.38 610.0V618.3M336.69 611.4V618.5M337.23 611.6V618.1M337.42 611.4V604.2M338.29 611.4V595.1M340.00 611.8V602.5M340.58 610.4V616.4M341.16 610.9V620.0M341.35 610.5V604.4" stroke="#000" stroke-width="0.6" stroke-opacity="0.85" fill="none"/>
<line x1="129.20" y1="556.75" x2="129.20" y2="534.00" stroke="#000" stroke-width="0.6" />
<line x1="235.00" y1="572.08" x2="235.00" y2="536.40" stroke="#000" stroke-width="0.6" />
<line x1="90.50" y1="544.00" x2="90.50" y2="578.00" stroke="#000" stroke-width="0.6" />
<line x1="110.00" y1="550.83" x2="110.00" y2="575.00" stroke="#000" stroke-width="0.6" />
<line x1="170.00" y1="563.95" x2="170.00" y2="605.00" stroke="#000" stroke-width="0.6" />
<line x1="240.00" y1="579.92" x2="240.00" y2="612.00" stroke="#000" stroke-width="0.6" />
<rect x="103.6" y="537.3" width="6.1" height="25.1" fill="none" stroke="#ff2020" stroke-width="0.9"/>
<line x1="109.70" y1="537.40" x2="399.00" y2="551.90" stroke="#ff2020" stroke-width="1.3" stroke-dasharray="1.6 1.7"/>
<line x1="109.70" y1="562.40" x2="403.30" y2="640.40" stroke="#ff2020" stroke-width="1.3" stroke-dasharray="1.6 1.7"/>
<line x1="66.80" y1="578.00" x2="66.80" y2="556.00" stroke="#231815" stroke-width="1.0" />
<path d="M66.8,551.3 L64.8,558 L68.8,558 Z" fill="#231815"/>
<text x="50.70" y="598.80" font-size="14.2" font-weight="normal" fill="#231815" stroke="#231815" stroke-width="0.25">lyso-PC</text>
<line x1="67.60" y1="609.60" x2="67.60" y2="675.00" stroke="#231815" stroke-width="1.0" />
<path d="M67.6,680.3 L65.6,673.6 L69.6,673.6 Z" fill="#231815"/>
<line x1="114.40" y1="603.50" x2="114.40" y2="635.30" stroke="#444" stroke-width="1.0" />
<line x1="114.00" y1="635.30" x2="171.80" y2="635.30" stroke="#444" stroke-width="1.0" />
<text x="80.25" y="624.60" font-size="11.6" font-weight="normal" fill="#231815" stroke="#231815" stroke-width="0.25">20 pA</text>
<text x="128.60" y="624.60" font-size="11.6" font-weight="normal" fill="#231815" stroke="#231815" stroke-width="0.25">20 s</text>
<text x="74.90" y="645.70" font-size="12.8" font-weight="normal" fill="#231815" stroke="#231815" stroke-width="0.25">Empty vector</text>
<text x="0" y="0" transform="translate(34.50 660.00) scale(1 1.17)" font-size="13.5" font-weight="normal" fill="#231815" stroke="#231815" stroke-width="0.22">C</text>
<line x1="50.00" y1="655.70" x2="55.00" y2="655.70" stroke="#231815" stroke-width="1.2" stroke-dasharray="1.4 1.5"/>
<line x1="340.40" y1="655.40" x2="349.00" y2="655.40" stroke="#231815" stroke-width="1.2" stroke-dasharray="1.4 1.5"/>
<text x="0" y="0" transform="translate(74.90 680.70) scale(1 1.1)" font-size="12.8" font-weight="normal" fill="#231815" stroke="#231815" stroke-width="0.22">WT</text>
<text x="0" y="0" transform="translate(254.50 639.60) scale(1 1.09)" font-size="14.2" font-weight="normal" fill="#231815" stroke="#231815" stroke-width="0.22">Fully activated</text>
<path d="M56.20,651.1 56.60,650.6 57.00,650.2 57.40,650.9 57.80,651.3 58.20,650.9 58.60,650.5 59.00,651.2 59.40,650.8 59.80,651.3 60.20,650.6 60.60,650.9 61.00,650.9 61.40,650.8 61.80,650.2 62.20,650.9 62.60,650.5 63.00,651.0 63.40,650.7 63.80,651.0 64.20,650.4 64.60,650.1 65.00,650.7 65.40,650.4 65.80,651.1 66.20,651.1 66.60,651.2 67.00,650.6 67.40,650.7 67.80,650.6 68.20,651.1 68.60,651.3 69.00,651.3 69.40,650.7 69.80,651.0 70.20,651.4 70.60,651.1 71.00,650.5 71.40,650.9 71.80,649.8 72.20,649.8 72.60,650.7 73.00,651.4 73.40,651.3 73.80,650.0 74.20,649.4 74.60,650.9 75.00,650.9 75.40,650.9 75.80,650.7 76.20,651.0 76.60,651.1 77.00,651.1 77.40,650.9 77.80,650.6 78.20,650.3 78.60,651.2 79.00,650.8 79.40,650.9 79.80,650.1 80.20,651.2 80.60,650.2 81.00,650.2 81.40,650.6 81.80,651.4 82.20,651.4 82.60,650.6 83.00,650.3 83.40,650.9 83.80,651.1 84.20,649.2 84.60,649.8 85.00,651.3 85.40,651.3 85.80,651.1 86.20,651.3 86.60,651.4 87.00,651.0 87.40,650.8 87.80,649.8 88.20,650.5 88.60,650.5 89.00,651.1 89.40,651.4 89.80,649.6 90.20,649.3 90.60,650.7 91.00,650.6 91.40,650.6 91.80,651.2 92.20,650.6 92.60,650.7 93.00,650.6 93.40,649.7 93.80,650.6 94.20,650.8 94.60,650.2 95.00,651.0 95.40,651.4 95.80,650.7 96.20,651.4 96.60,649.9 97.00,651.3 97.40,649.5 97.80,650.0 98.20,650.6 98.60,651.2 99.00,649.8 99.40,650.4 99.80,651.0 100.20,651.4 100.60,651.3 101.00,651.2 101.40,651.4 101.80,651.1 102.20,650.4 102.60,650.2 103.00,650.0 103.40,650.6 103.80,651.1 104.20,650.2 104.60,649.5 105.00,651.0 105.40,650.6 105.80,651.0 106.20,651.3 106.60,650.6 107.00,649.5 107.40,649.9 107.80,651.0 108.20,649.9 108.60,650.8 109.00,651.0 109.40,651.3 109.80,650.3 110.20,649.7 110.60,650.7 111.00,651.0 111.40,650.3 111.80,650.8 112.20,651.1 112.60,651.2 113.00,651.1 113.40,651.2 113.80,651.0 114.20,651.4 114.60,650.7 115.00,650.9 115.40,651.2 115.80,651.1 116.20,650.0 116.60,650.0 117.00,651.3 117.40,650.9 117.80,650.6 118.20,650.8 118.60,650.5 119.00,651.2 119.40,649.9 119.80,650.3 120.20,650.9 120.60,650.9 121.00,651.3 121.40,651.3 121.80,650.7 122.20,650.7 122.60,651.4 123.00,651.0 123.40,651.3 123.80,651.2 124.20,651.0 124.60,651.2 125.00,651.1 125.40,651.4 125.80,651.0 126.20,650.2 126.60,649.5 127.00,651.0 127.40,651.0 127.80,651.0 128.20,650.3 128.60,650.8 129.00,650.9 129.40,651.1 129.80,649.7 130.20,650.5 130.60,651.0 131.00,651.3 131.40,651.1 131.80,651.2 132.20,650.8 132.60,651.4 133.00,650.4 133.40,650.1 133.80,650.2 134.20,650.7 134.60,651.4 135.00,651.2 135.40,651.1 135.80,650.3 136.20,649.4 136.60,650.7 137.00,651.0 137.40,650.1 137.80,649.6 138.20,650.8 138.60,651.1 139.00,651.2 139.40,650.7 139.80,650.8 140.20,651.3 140.60,650.8 141.00,651.1 141.40,650.5 141.80,650.8 142.20,651.1 142.60,649.6 143.00,650.6 143.40,650.8 143.80,651.4 144.20,650.4 144.60,651.4 145.00,650.6 145.40,651.4 145.80,651.0 146.20,651.1 146.60,650.5 147.00,651.3 147.40,650.8 147.80,651.3 148.20,651.4 148.60,650.3 149.00,650.7 149.40,651.0 149.80,650.6 150.20,650.2 150.60,651.3 151.00,651.0 151.40,651.3 151.80,650.7 152.20,650.5 152.60,650.5 153.00,650.8 153.40,650.9 153.80,650.9 154.20,651.4 154.60,649.7 155.00,650.0 155.40,650.7 155.80,650.0 156.20,650.7 156.60,651.2 157.00,649.9 157.40,651.0 157.80,651.4 158.20,651.2 158.60,650.9 159.00,651.0 159.40,651.3 159.80,651.2 160.20,651.4 160.60,651.3 161.00,650.6 161.40,651.3 161.80,651.1 162.20,650.7 162.60,651.0 163.00,651.3 163.40,650.3 163.80,649.7 164.20,649.4 164.60,649.0 165.00,650.5 165.40,650.9 165.80,650.9 166.20,651.0 166.60,650.0 167.00,649.5 167.40,650.6 167.80,650.6 168.20,651.1 168.60,651.3 169.00,650.4 169.40,651.0 169.80,651.0 170.20,651.2 170.60,651.1 171.00,650.2 171.40,650.0 171.80,650.8 172.20,651.1 172.60,650.9 173.00,651.2 173.40,650.5 173.80,650.7 174.20,650.2 174.60,649.8 175.00,650.7 175.40,650.6 175.80,651.3 176.20,650.5 176.60,650.1 177.00,650.6 177.40,651.4 177.80,650.5 178.20,650.7 178.60,650.4 179.00,651.0 179.40,650.6 179.80,650.5 180.20,650.9 180.60,649.6 181.00,650.4 181.40,651.4 181.80,651.2 182.20,651.3 182.60,651.1 183.00,651.2 183.40,651.4 183.80,650.9 184.20,651.1 184.60,650.3 185.00,650.8 185.40,650.4 185.80,650.9 186.20,651.4 186.60,650.7 187.00,650.2 187.40,650.2 187.80,651.2 188.20,651.0 188.60,651.3 189.00,650.5 189.40,650.8 189.80,650.7 190.20,650.1 190.60,651.2 191.00,651.0 191.40,650.8 191.80,650.6 192.20,651.3 192.60,650.6 193.00,651.0 193.40,650.6 193.80,651.0 194.20,651.2 194.60,650.3 195.00,649.2 195.40,650.9 195.80,650.3 196.20,651.2 196.60,650.0 197.00,650.6 197.40,651.3 197.80,651.1 198.20,650.6 198.60,650.9 199.00,651.0 199.40,650.0 199.80,650.3 200.20,650.9 200.60,650.2 201.00,651.0 201.40,650.7 201.80,650.7 202.20,649.8 202.60,649.4 203.00,650.4 203.40,651.1 203.80,650.3 204.20,650.9 204.60,650.7 205.00,650.5 205.40,651.2 205.80,651.1 206.20,649.5 206.60,650.5 207.00,651.0 207.40,650.0 207.80,650.2 208.20,650.2 208.60,650.8 209.00,650.9 209.40,650.8 209.80,651.2 210.20,650.6 210.60,651.2 211.00,651.3 211.40,650.9 211.80,650.6 212.20,649.8 212.60,651.4 213.00,651.1 213.40,651.1 213.80,651.2 214.20,650.9 214.60,651.1 215.00,650.7 215.40,651.0 215.80,651.2 216.20,651.2 216.60,651.1 217.00,651.0 217.40,651.0 217.80,650.8 218.20,651.1 218.60,651.2 219.00,651.1 219.40,650.3 219.80,650.5 220.20,650.6 220.60,651.0 221.00,651.1 221.40,650.4 221.80,650.5 222.20,651.3 222.60,651.4 223.00,650.4 223.40,651.3 223.80,650.3 224.20,650.6 224.60,650.4 225.00,650.5 225.40,651.1 225.80,651.1 226.20,651.1 226.60,650.1 227.00,650.7 227.40,651.0 227.80,651.1 228.20,650.9 228.60,650.1 229.00,651.4 229.40,651.2 229.80,651.4 230.20,651.1 230.60,651.1 231.00,649.8 231.40,650.9 231.80,651.2 232.20,650.6 232.60,650.3 233.00,650.9 233.40,650.9 233.80,650.6 234.20,650.9 234.60,651.4 235.00,650.1 235.40,650.7 235.80,651.3 236.20,651.0 236.60,650.0 237.00,651.1 237.40,651.3 237.80,649.6 238.20,650.7 238.60,651.2 239.00,651.0 239.40,651.2 239.80,650.5 240.20,651.2 240.60,650.2 241.00,650.3 241.40,650.4 241.80,650.5 242.20,650.9 242.60,650.5 243.00,650.8 243.40,651.3 243.80,651.3 244.20,650.8 244.60,650.5 245.00,650.9 245.40,650.6 245.80,649.3 246.20,650.7 246.60,650.7 247.00,651.1 247.40,651.0 247.80,651.1 248.20,651.3 248.60,650.9 249.00,651.1 249.40,651.0 249.80,650.7 250.20,649.2 250.60,651.4 251.00,651.3 251.40,650.3 251.80,650.3 252.20,649.4 252.60,650.0 253.00,651.1 253.40,650.8 253.80,650.9 254.20,650.4 254.60,650.8 255.00,650.6 255.40,650.8 255.80,651.4 256.20,651.1 256.60,650.2 257.00,649.8 257.40,651.4 257.80,651.0 258.20,651.2 258.60,651.1 259.00,651.3 259.40,650.1 259.80,650.5 260.20,651.0 260.60,651.0 261.00,651.0 261.40,650.5 261.80,650.2 262.20,650.7 262.60,650.1 263.00,651.0 263.40,651.3 263.80,650.4 264.20,651.4 264.60,650.4 265.00,651.1 265.40,651.3 265.80,651.0 266.20,651.0 266.60,650.6 267.00,651.2 267.40,650.7 267.80,650.1 268.20,650.2 268.60,650.1 269.00,650.2 269.40,651.3 269.80,650.9 270.20,651.4 270.60,651.0 271.00,651.0 271.40,651.4 271.80,651.3 272.20,650.5 272.60,651.4 273.00,650.7 273.40,651.2 273.80,651.2 274.20,651.2 274.60,650.1 275.00,651.0 275.40,651.2 275.80,651.2 276.20,651.0 276.60,651.2 277.00,651.2 277.40,651.4 277.80,651.3 278.20,651.0 278.60,650.2 279.00,651.2 279.40,651.4 279.80,649.6 280.20,650.1 280.60,650.8 281.00,649.1 281.40,650.0 281.80,651.0 282.20,650.7 282.60,651.0 283.00,650.2 283.40,650.5 283.80,650.8 284.20,650.7 284.60,650.2 285.00,650.3 285.40,651.1 285.80,651.2 286.20,651.4 286.60,651.4 287.00,650.9 287.40,650.3 287.80,650.7 288.20,650.9 288.60,650.7 289.00,650.5 289.40,649.9 289.80,650.4 290.20,651.1 290.60,650.2 291.00,650.2 291.40,650.8 291.80,650.5 292.20,650.9 292.60,651.3 293.00,651.2 293.40,650.7 293.80,651.0 294.20,651.0 294.60,651.1 295.00,650.4 295.40,650.1 295.80,651.4 296.20,650.4 296.60,650.9 297.00,650.7 297.40,650.2 297.80,651.0 298.20,649.9 298.60,651.0 299.00,651.1 299.40,650.6 299.80,651.3 300.20,651.3 300.60,650.9 301.00,650.3 301.40,651.0 301.80,651.0 302.20,650.4 302.60,651.0 303.00,650.8 303.40,650.8 303.80,650.2 304.20,651.4 304.60,650.3 305.00,650.8 305.40,649.5 305.80,651.0 306.20,650.1 306.60,650.7 307.00,651.1 307.40,651.1 307.80,649.6 308.20,649.8 308.60,651.0 309.00,651.0 309.40,650.8 309.80,650.8 310.20,651.4 310.60,650.6 311.00,650.1 311.40,649.7 311.80,650.5 312.20,650.4 312.60,650.9 313.00,651.0 313.40,650.4 313.80,650.5 314.20,651.1 314.60,650.5 315.00,651.1 315.40,651.2 315.80,650.9 316.20,651.2 316.60,650.4 317.00,650.9 317.40,650.9 317.80,650.9 318.20,651.4 318.60,651.1 319.00,651.2 319.40,650.5 319.80,650.9 320.20,651.1 320.60,651.1 321.00,650.7 321.40,650.6 321.80,651.4 322.20,651.3 322.60,651.0 323.00,650.6 323.40,651.0 323.80,651.3 324.20,650.6 324.60,650.5 325.00,650.4 325.40,651.1 325.80,650.8 326.20,651.4 326.60,650.1 327.00,651.2 327.40,650.9 327.80,651.2 328.20,651.2 328.60,651.2 329.00,651.4 329.40,650.8 329.80,651.1 330.20,651.1 330.60,650.8 331.00,651.3 331.40,651.0 331.80,651.0 332.20,651.1 332.60,651.1 333.00,651.2 333.40,650.7 333.80,650.0 334.20,650.7 334.60,651.1 335.00,651.3 335.40,650.8 335.80,650.5 336.20,651.2 336.60,650.8 337.00,649.8 337.40,650.2 337.80,650.1 338.20,649.8 338.60,650.2 339.00,650.7 339.40,651.0 339.80,650.5 340.20,651.3 340.20,659.8 339.80,659.4 339.40,659.5 339.00,659.5 338.60,659.9 338.20,660.3 337.80,659.5 337.40,660.2 337.00,659.4 336.60,660.4 336.20,659.8 335.80,659.4 335.40,659.5 335.00,660.4 334.60,660.7 334.20,660.0 333.80,659.9 333.40,660.4 333.00,660.8 332.60,659.6 332.20,660.5 331.80,661.0 331.40,659.8 331.00,660.4 330.60,660.1 330.20,659.9 329.80,659.9 329.40,660.2 329.00,659.6 328.60,660.8 328.20,659.8 327.80,660.6 327.40,659.8 327.00,659.9 326.60,660.4 326.20,660.1 325.80,660.0 325.40,659.4 325.00,659.6 324.60,659.7 324.20,659.5 323.80,661.0 323.40,660.4 323.00,659.5 322.60,659.8 322.20,659.6 321.80,660.4 321.40,659.6 321.00,660.0 320.60,660.8 320.20,660.7 319.80,659.6 319.40,659.6 319.00,659.4 318.60,659.5 318.20,659.4 317.80,660.5 317.40,659.5 317.00,661.4 316.60,660.0 316.20,660.4 315.80,659.7 315.40,660.1 315.00,659.5 314.60,660.4 314.20,660.1 313.80,660.4 313.40,661.0 313.00,659.8 312.60,659.6 312.20,659.8 311.80,659.7 311.40,660.0 311.00,660.6 310.60,659.9 310.20,659.4 309.80,660.2 309.40,659.7 309.00,660.0 308.60,659.9 308.20,659.6 307.80,660.0 307.40,659.7 307.00,660.5 306.60,661.1 306.20,659.4 305.80,660.1 305.40,660.6 305.00,659.4 304.60,660.2 304.20,659.9 303.80,660.7 303.40,660.8 303.00,660.7 302.60,659.6 302.20,659.6 301.80,659.6 301.40,659.4 301.00,660.2 300.60,659.7 300.20,659.4 299.80,660.9 299.40,660.0 299.00,659.9 298.60,660.3 298.20,659.7 297.80,660.8 297.40,659.9 297.00,659.5 296.60,659.7 296.20,660.0 295.80,659.6 295.40,660.2 295.00,659.7 294.60,659.6 294.20,659.8 293.80,659.6 293.40,659.5 293.00,660.8 292.60,661.1 292.20,660.9 291.80,660.0 291.40,659.9 291.00,659.5 290.60,659.8 290.20,660.9 289.80,660.0 289.40,659.7 289.00,659.7 288.60,659.6 288.20,660.0 287.80,659.9 287.40,659.8 287.00,659.8 286.60,659.6 286.20,659.7 285.80,660.4 285.40,660.7 285.00,660.4 284.60,659.5 284.20,659.6 283.80,659.6 283.40,659.7 283.00,659.8 282.60,660.6 282.20,659.7 281.80,659.7 281.40,660.1 281.00,659.6 280.60,659.6 280.20,660.3 279.80,660.9 279.40,659.9 279.00,659.5 278.60,659.6 278.20,660.4 277.80,659.7 277.40,660.7 277.00,660.1 276.60,659.9 276.20,659.7 275.80,660.6 275.40,659.5 275.00,659.7 274.60,659.4 274.20,659.8 273.80,660.0 273.40,659.6 273.00,659.9 272.60,659.6 272.20,659.6 271.80,659.5 271.40,659.9 271.00,660.4 270.60,660.4 270.20,659.6 269.80,659.4 269.40,659.4 269.00,659.4 268.60,659.8 268.20,659.7 267.80,660.1 267.40,661.8 267.00,660.1 266.60,661.1 266.20,661.4 265.80,660.2 265.40,659.8 265.00,660.9 264.60,659.8 264.20,660.3 263.80,659.4 263.40,660.4 263.00,660.1 262.60,659.6 262.20,659.6 261.80,660.1 261.40,660.1 261.00,659.7 260.60,660.6 260.20,660.4 259.80,660.5 259.40,660.2 259.00,659.5 258.60,659.6 258.20,660.1 257.80,659.4 257.40,659.6 257.00,659.6 256.60,659.7 256.20,659.8 255.80,659.9 255.40,659.7 255.00,659.5 254.60,660.0 254.20,659.7 253.80,659.4 253.40,661.0 253.00,661.2 252.60,659.9 252.20,660.1 251.80,660.2 251.40,660.3 251.00,660.6 250.60,659.7 250.20,660.0 249.80,659.6 249.40,659.9 249.00,660.0 248.60,659.8 248.20,659.7 247.80,660.4 247.40,659.9 247.00,660.7 246.60,659.9 246.20,660.9 245.80,660.8 245.40,660.0 245.00,659.8 244.60,659.7 244.20,660.6 243.80,660.9 243.40,660.5 243.00,660.2 242.60,660.1 242.20,659.5 241.80,659.6 241.40,660.0 241.00,660.5 240.60,659.9 240.20,659.7 239.80,659.8 239.40,660.8 239.00,660.3 238.60,659.5 238.20,659.5 237.80,659.6 237.40,660.1 237.00,659.5 236.60,660.3 236.20,660.1 235.80,660.0 235.40,659.7 235.00,659.6 234.60,659.7 234.20,660.2 233.80,659.6 233.40,659.6 233.00,659.9 232.60,659.5 232.20,659.6 231.80,659.4 231.40,659.8 231.00,659.6 230.60,660.7 230.20,661.1 229.80,659.6 229.40,659.9 229.00,659.7 228.60,659.8 228.20,660.1 227.80,660.1 227.40,659.9 227.00,660.0 226.60,659.5 226.20,659.5 225.80,659.6 225.40,660.7 225.00,660.5 224.60,660.6 224.20,661.0 223.80,659.8 223.40,659.9 223.00,660.4 222.60,659.6 222.20,660.5 221.80,661.0 221.40,661.1 221.00,660.6 220.60,659.8 220.20,659.6 219.80,659.9 219.40,659.7 219.00,659.7 218.60,659.5 218.20,660.1 217.80,660.4 217.40,660.2 217.00,659.5 216.60,660.2 216.20,659.7 215.80,659.8 215.40,659.5 215.00,660.2 214.60,659.6 214.20,660.1 213.80,660.5 213.40,660.3 213.00,659.9 212.60,659.6 212.20,659.4 211.80,659.8 211.40,659.5 211.00,659.9 210.60,659.5 210.20,659.5 209.80,659.7 209.40,660.4 209.00,660.4 208.60,660.2 208.20,661.3 207.80,660.0 207.40,659.6 207.00,659.7 206.60,659.5 206.20,660.2 205.80,660.1 205.40,660.1 205.00,660.5 204.60,659.9 204.20,660.1 203.80,659.7 203.40,660.6 203.00,659.7 202.60,659.7 202.20,660.2 201.80,661.0 201.40,660.8 201.00,660.4 200.60,660.8 200.20,660.8 199.80,659.5 199.40,659.7 199.00,659.5 198.60,660.2 198.20,659.5 197.80,660.5 197.40,660.7 197.00,661.0 196.60,660.1 196.20,659.5 195.80,659.6 195.40,659.7 195.00,659.5 194.60,660.1 194.20,659.4 193.80,659.6 193.40,659.7 193.00,660.1 192.60,659.7 192.20,659.8 191.80,659.9 191.40,659.9 191.00,661.1 190.60,660.7 190.20,659.5 189.80,660.8 189.40,660.5 189.00,659.6 188.60,660.0 188.20,660.1 187.80,659.5 187.40,659.5 187.00,659.7 186.60,659.8 186.20,659.9 185.80,660.0 185.40,659.5 185.00,660.8 184.60,660.0 184.20,660.3 183.80,659.9 183.40,659.4 183.00,659.6 182.60,660.1 182.20,659.4 181.80,659.9 181.40,659.4 181.00,659.7 180.60,660.4 180.20,661.2 179.80,660.6 179.40,659.7 179.00,659.6 178.60,659.5 178.20,660.5 177.80,660.7 177.40,659.7 177.00,659.5 176.60,659.8 176.20,660.2 175.80,659.8 175.40,660.1 175.00,659.9 174.60,659.6 174.20,660.1 173.80,660.7 173.40,660.7 173.00,660.3 172.60,659.6 172.20,659.8 171.80,660.0 171.40,660.5 171.00,659.9 170.60,659.6 170.20,659.8 169.80,660.1 169.40,659.6 169.00,660.4 168.60,659.8 168.20,659.7 167.80,659.9 167.40,660.0 167.00,660.4 166.60,660.2 166.20,659.8 165.80,659.6 165.40,659.6 165.00,660.8 164.60,659.6 164.20,659.4 163.80,659.9 163.40,659.9 163.00,659.5 162.60,659.9 162.20,659.7 161.80,659.4 161.40,660.0 161.00,659.5 160.60,660.1 160.20,659.8 159.80,660.7 159.40,659.4 159.00,659.6 158.60,659.9 158.20,659.9 157.80,659.5 157.40,660.1 157.00,659.9 156.60,659.6 156.20,660.4 155.80,659.9 155.40,660.4 155.00,660.7 154.60,660.7 154.20,659.4 153.80,660.1 153.40,660.1 153.00,660.2 152.60,660.5 152.20,660.1 151.80,661.4 151.40,660.3 151.00,660.2 150.60,660.3 150.20,660.5 149.80,660.5 149.40,660.1 149.00,660.4 148.60,660.1 148.20,659.5 147.80,659.8 147.40,659.8 147.00,659.9 146.60,659.7 146.20,660.3 145.80,659.8 145.40,659.6 145.00,660.6 144.60,660.3 144.20,659.7 143.80,659.6 143.40,659.6 143.00,660.2 142.60,660.3 142.20,659.9 141.80,660.4 141.40,659.5 141.00,660.7 140.60,659.9 140.20,660.0 139.80,659.7 139.40,659.5 139.00,659.4 138.60,660.2 138.20,660.0 137.80,660.3 137.40,661.5 137.00,660.9 136.60,660.0 136.20,660.6 135.80,659.7 135.40,659.8 135.00,660.2 134.60,660.3 134.20,661.2 133.80,660.8 133.40,659.8 133.00,660.3 132.60,660.3 132.20,660.2 131.80,660.1 131.40,659.8 131.00,660.1 130.60,659.4 130.20,659.8 129.80,659.7 129.40,659.9 129.00,660.8 128.60,659.7 128.20,659.8 127.80,660.1 127.40,659.9 127.00,659.5 126.60,660.1 126.20,660.0 125.80,660.0 125.40,660.0 125.00,659.4 124.60,660.3 124.20,659.8 123.80,660.4 123.40,660.2 123.00,659.5 122.60,659.6 122.20,659.6 121.80,659.6 121.40,659.5 121.00,659.4 120.60,659.7 120.20,660.0 119.80,659.8 119.40,660.3 119.00,660.5 118.60,659.7 118.20,659.9 117.80,660.3 117.40,661.2 117.00,659.9 116.60,659.7 116.20,659.5 115.80,660.1 115.40,660.0 115.00,659.8 114.60,660.4 114.20,660.0 113.80,661.1 113.40,659.9 113.00,659.8 112.60,659.5 112.20,659.6 111.80,659.4 111.40,659.7 111.00,659.6 110.60,659.6 110.20,659.5 109.80,659.6 109.40,660.3 109.00,659.9 108.60,659.9 108.20,660.4 107.80,660.6 107.40,661.9 107.00,660.8 106.60,660.2 106.20,659.7 105.80,659.4 105.40,660.0 105.00,659.8 104.60,660.4 104.20,659.6 103.80,659.8 103.40,660.6 103.00,659.5 102.60,659.7 102.20,660.1 101.80,659.5 101.40,660.3 101.00,659.6 100.60,659.7 100.20,659.6 99.80,659.8 99.40,660.2 99.00,661.4 98.60,660.8 98.20,659.6 97.80,660.1 97.40,660.3 97.00,659.4 96.60,659.5 96.20,659.7 95.80,660.0 95.40,659.6 95.00,659.8 94.60,660.2 94.20,659.5 93.80,660.6 93.40,660.2 93.00,661.0 92.60,660.3 92.20,659.7 91.80,659.5 91.40,660.3 91.00,659.9 90.60,661.0 90.20,661.2 89.80,660.2 89.40,659.5 89.00,659.4 88.60,659.9 88.20,659.5 87.80,660.9 87.40,660.7 87.00,659.7 86.60,660.1 86.20,659.7 85.80,659.6 85.40,660.1 85.00,659.7 84.60,659.8 84.20,660.1 83.80,660.4 83.40,659.8 83.00,660.5 82.60,659.8 82.20,659.5 81.80,660.8 81.40,660.8 81.00,659.9 80.60,659.9 80.20,660.1 79.80,660.8 79.40,661.1 79.00,660.4 78.60,659.9 78.20,659.7 77.80,660.6 77.40,659.5 77.00,660.2 76.60,659.9 76.20,659.4 75.80,660.7 75.40,659.9 75.00,660.0 74.60,659.8 74.20,659.5 73.80,659.4 73.40,660.8 73.00,661.0 72.60,659.6 72.20,659.4 71.80,660.1 71.40,659.7 71.00,660.3 70.60,660.2 70.20,660.9 69.80,660.5 69.40,659.9 69.00,659.5 68.60,660.3 68.20,660.3 67.80,660.2 67.40,660.6 67.00,661.0 66.60,660.8 66.20,660.4 65.80,660.6 65.40,659.9 65.00,660.4 64.60,660.6 64.20,659.6 63.80,660.2 63.40,660.5 63.00,660.4 62.60,660.9 62.20,660.4 61.80,659.6 61.40,659.8 61.00,660.1 60.60,659.5 60.20,659.5 59.80,660.0 59.40,660.2 59.00,660.9 58.60,660.8 58.20,659.4 57.80,659.8 57.40,660.5 57.00,660.7 56.60,659.6 56.20,661.1Z" fill="#000"/>
<path d="M57.09 655.4V660.0M59.53 655.4V659.8M60.58 655.4V660.2M63.39 655.4V649.6M65.68 655.4V661.9M68.31 655.4V651.1M68.67 655.4V659.9M72.27 655.4V660.6M72.48 655.4V659.6M75.66 655.4V651.1M76.12 655.4V662.3M77.88 655.4V660.4M79.71 655.4V650.4M80.10 655.4V660.7M82.62 655.4V661.3M89.51 655.4V659.9M92.47 655.4V660.3M93.54 655.4V650.7M94.89 655.4V648.6M95.77 655.4V661.9M102.13 655.4V650.5M104.16 655.4V659.8M106.07 655.4V661.0M106.97 655.4V659.8M107.36 655.4V660.5M110.66 655.4V659.6M111.68 655.4V651.1M113.00 655.4V651.3M112.91 655.4V660.2M114.35 655.4V650.8M115.78 655.4V649.4M116.11 655.4V651.0M119.12 655.4V661.5M119.52 655.4V651.1M120.47 655.4V651.3M122.59 655.4V650.2M125.33 655.4V650.9M125.73 655.4V649.5M126.89 655.4V660.5M130.52 655.4V659.8M131.13 655.4V650.9M130.86 655.4V659.8M131.81 655.4V661.2M133.34 655.4V650.9M135.14 655.4V659.6M135.29 655.4V662.3M136.50 655.4V648.5M137.05 655.4V650.8M137.39 655.4V651.4M138.10 655.4V660.4M138.60 655.4V651.4M142.90 655.4V650.3M145.80 655.4V660.0M148.20 655.4V660.6M150.09 655.4V651.0M151.08 655.4V659.4M152.59 655.4V648.6M155.66 655.4V648.5M160.73 655.4V659.9M160.91 655.4V650.6M166.70 655.4V649.7M169.32 655.4V659.7M174.28 655.4V649.1M176.14 655.4V650.7M177.51 655.4V660.6M178.08 655.4V651.3M183.87 655.4V650.3M184.65 655.4V651.2M186.24 655.4V659.8M186.71 655.4V651.2M187.50 655.4V651.3M187.25 655.4V660.4M190.07 655.4V659.8M190.73 655.4V659.5M190.93 655.4V660.9M193.08 655.4V660.0M193.40 655.4V660.3M195.73 655.4V650.0M195.69 655.4V660.0M199.42 655.4V651.3M199.42 655.4V659.7M199.93 655.4V661.1M201.46 655.4V651.3M206.70 655.4V660.0M207.53 655.4V650.5M208.17 655.4V660.6M209.44 655.4V648.5M210.06 655.4V650.7M210.26 655.4V659.8M211.78 655.4V659.4M212.88 655.4V659.7M214.73 655.4V651.3M215.25 655.4V648.5M217.29 655.4V651.3M218.50 655.4V660.1M222.92 655.4V659.9M223.53 655.4V660.5M226.50 655.4V650.7M226.94 655.4V661.0M227.36 655.4V661.0M227.80 655.4V650.9M231.49 655.4V650.8M233.69 655.4V661.6M234.46 655.4V650.3M237.04 655.4V651.0M237.84 655.4V661.9M238.19 655.4V651.2M238.33 655.4V661.3M238.69 655.4V651.4M239.08 655.4V650.9M241.29 655.4V659.6M241.69 655.4V650.1M242.11 655.4V650.7M245.88 655.4V650.4M248.97 655.4V660.1M250.52 655.4V659.5M252.70 655.4V659.8M252.91 655.4V659.8M255.05 655.4V651.3M255.84 655.4V648.6M255.91 655.4V661.5M258.59 655.4V651.0M259.02 655.4V660.3M259.32 655.4V649.9M259.68 655.4V651.2M260.52 655.4V651.4M261.84 655.4V651.2M262.92 655.4V650.6M263.44 655.4V650.9M268.99 655.4V651.1M270.17 655.4V650.9M272.30 655.4V651.1M273.39 655.4V650.0M276.33 655.4V651.2M276.48 655.4V659.8M278.23 655.4V660.3M279.36 655.4V662.3M286.67 655.4V660.3M290.47 655.4V651.2M293.74 655.4V650.3M297.93 655.4V650.0M298.70 655.4V651.2M300.93 655.4V659.5M301.88 655.4V660.9M302.90 655.4V661.9M309.08 655.4V651.4M309.07 655.4V659.7M309.26 655.4V651.1M309.67 655.4V650.9M310.07 655.4V650.4M311.51 655.4V649.8M312.45 655.4V660.1M313.76 655.4V648.5M313.84 655.4V661.2M316.66 655.4V660.3M317.83 655.4V650.7M320.90 655.4V659.5M322.22 655.4V660.1M326.09 655.4V659.6M328.07 655.4V660.6M329.04 655.4V660.4M330.86 655.4V650.1M331.54 655.4V650.8M331.36 655.4V660.2M332.66 655.4V651.4M334.22 655.4V659.9M335.05 655.4V660.2M335.84 655.4V651.4M338.13 655.4V659.4" stroke="#000" stroke-width="0.6" stroke-opacity="0.3" fill="none"/>
<path d="M59.30 655.4V649.7M62.22 655.4V661.0M63.13 655.4V659.9M63.82 655.4V660.0M64.72 655.4V659.6M67.29 655.4V651.3M70.98 655.4V660.3M71.26 655.4V659.9M72.18 655.4V650.2M75.08 655.4V650.7M76.26 655.4V650.4M77.03 655.4V661.1M78.52 655.4V649.3M81.80 655.4V659.5M86.15 655.4V650.8M87.46 655.4V661.1M90.58 655.4V659.8M90.97 655.4V659.7M91.31 655.4V659.7M92.61 655.4V648.7M93.77 655.4V659.7M96.88 655.4V661.7M98.23 655.4V650.2M99.26 655.4V651.3M99.41 655.4V661.2M100.52 655.4V659.4M100.93 655.4V650.7M103.75 655.4V651.0M104.13 655.4V650.1M115.35 655.4V651.4M115.34 655.4V660.1M117.26 655.4V660.0M121.04 655.4V651.2M122.87 655.4V659.4M124.46 655.4V661.4M126.10 655.4V662.3M127.26 655.4V651.4M128.74 655.4V662.3M129.12 655.4V649.1M129.34 655.4V661.1M130.52 655.4V650.3M132.18 655.4V649.6M135.53 655.4V650.0M135.83 655.4V660.7M136.46 655.4V659.8M140.06 655.4V660.3M140.54 655.4V659.5M142.87 655.4V659.6M144.31 655.4V659.7M144.90 655.4V649.8M147.55 655.4V650.6M148.11 655.4V651.0M151.39 655.4V659.5M152.30 655.4V661.7M152.92 655.4V659.5M154.32 655.4V650.3M154.92 655.4V649.9M155.26 655.4V650.9M156.26 655.4V659.4M158.90 655.4V660.2M159.85 655.4V649.9M160.64 655.4V650.1M162.16 655.4V650.6M162.66 655.4V651.0M164.05 655.4V651.1M165.81 655.4V660.7M166.97 655.4V648.5M167.49 655.4V650.5M167.34 655.4V659.7M167.69 655.4V660.5M169.66 655.4V651.0M170.32 655.4V650.2M171.71 655.4V650.8M174.51 655.4V650.7M175.79 655.4V662.2M176.20 655.4V659.5M176.86 655.4V651.1M181.28 655.4V649.7M181.42 655.4V660.1M182.45 655.4V650.0M185.37 655.4V651.2M188.15 655.4V659.9M190.08 655.4V650.7M191.42 655.4V650.8M191.73 655.4V660.5M193.88 655.4V660.6M197.03 655.4V659.5M197.44 655.4V651.2M197.46 655.4V660.0M198.67 655.4V660.5M200.54 655.4V660.5M202.88 655.4V660.0M203.46 655.4V659.6M204.63 655.4V649.9M204.66 655.4V660.6M205.37 655.4V649.3M206.16 655.4V649.9M207.45 655.4V659.9M216.20 655.4V661.1M219.94 655.4V651.0M220.86 655.4V661.6M222.71 655.4V648.5M230.60 655.4V659.4M231.07 655.4V650.8M231.10 655.4V661.3M239.38 655.4V651.0M239.72 655.4V661.2M240.18 655.4V650.7M240.72 655.4V659.8M242.94 655.4V649.2M244.07 655.4V651.3M244.59 655.4V651.3M244.90 655.4V660.2M246.91 655.4V660.8M247.33 655.4V651.3M248.97 655.4V649.1M249.84 655.4V659.9M250.87 655.4V659.7M256.27 655.4V661.1M258.19 655.4V650.8M259.11 655.4V651.3M259.51 655.4V661.2M262.24 655.4V649.4M263.69 655.4V650.6M264.29 655.4V660.2M265.13 655.4V659.4M268.56 655.4V660.6M269.75 655.4V650.8M270.18 655.4V659.5M270.60 655.4V661.1M272.26 655.4V660.1M276.53 655.4V651.4M277.33 655.4V651.4M278.73 655.4V659.8M282.69 655.4V651.4M286.46 655.4V648.5M286.89 655.4V649.5M288.27 655.4V660.0M292.60 655.4V651.0M296.47 655.4V648.7M298.26 655.4V651.2M299.68 655.4V650.0M303.31 655.4V649.8M304.27 655.4V659.8M306.45 655.4V649.0M308.67 655.4V649.0M311.72 655.4V650.9M318.48 655.4V651.0M324.58 655.4V659.4M325.75 655.4V660.0M327.14 655.4V660.5M328.96 655.4V651.1M329.80 655.4V659.9M330.93 655.4V659.6M333.00 655.4V661.4M333.37 655.4V661.1M334.25 655.4V650.1M335.28 655.4V660.2M339.91 655.4V651.2" stroke="#000" stroke-width="0.6" stroke-opacity="0.6" fill="none"/>
<path d="M57.40 655.4V651.4M59.91 655.4V659.9M61.93 655.4V651.3M64.68 655.4V648.5M68.62 655.4V651.3M69.53 655.4V660.0M70.31 655.4V659.6M71.79 655.4V659.9M75.46 655.4V659.8M75.85 655.4V660.1M76.52 655.4V660.3M78.31 655.4V650.9M79.68 655.4V659.5M86.29 655.4V661.6M88.88 655.4V660.9M89.72 655.4V660.4M92.07 655.4V650.4M95.93 655.4V651.1M96.73 655.4V648.8M96.90 655.4V650.6M98.85 655.4V651.1M104.85 655.4V660.7M105.54 655.4V650.8M107.74 655.4V659.7M109.48 655.4V650.4M110.13 655.4V659.7M110.66 655.4V650.7M113.30 655.4V649.3M113.66 655.4V648.6M116.58 655.4V659.6M117.02 655.4V650.9M117.31 655.4V651.0M117.72 655.4V660.3M118.18 655.4V650.4M118.18 655.4V659.5M118.68 655.4V660.8M122.93 655.4V650.8M124.19 655.4V651.2M124.24 655.4V659.6M126.55 655.4V659.5M127.81 655.4V651.2M129.66 655.4V649.4M134.32 655.4V651.1M134.63 655.4V649.8M137.37 655.4V662.1M138.21 655.4V648.5M138.66 655.4V661.3M144.90 655.4V660.0M146.55 655.4V650.6M151.70 655.4V651.1M153.50 655.4V650.5M159.13 655.4V651.0M161.73 655.4V650.7M164.56 655.4V659.4M165.68 655.4V650.1M166.96 655.4V661.3M175.33 655.4V659.7M177.47 655.4V650.7M178.21 655.4V659.9M178.48 655.4V650.9M179.54 655.4V661.3M180.28 655.4V651.4M183.26 655.4V649.7M184.60 655.4V661.4M186.13 655.4V650.6M189.08 655.4V651.4M189.29 655.4V660.1M196.23 655.4V651.1M196.89 655.4V651.4M201.26 655.4V659.7M204.08 655.4V650.8M205.07 655.4V651.1M206.19 655.4V659.5M208.62 655.4V650.6M208.63 655.4V659.8M210.57 655.4V660.0M213.06 655.4V650.7M213.79 655.4V659.6M214.55 655.4V659.9M215.80 655.4V649.7M215.86 655.4V659.8M216.93 655.4V659.7M217.38 655.4V659.6M217.91 655.4V659.6M219.01 655.4V660.7M219.43 655.4V650.8M219.48 655.4V659.6M222.34 655.4V651.0M222.89 655.4V651.1M224.46 655.4V648.5M224.71 655.4V659.7M226.06 655.4V650.7M228.34 655.4V650.3M230.48 655.4V651.1M233.09 655.4V659.8M233.84 655.4V650.5M237.14 655.4V660.0M237.90 655.4V650.9M238.96 655.4V659.8M239.54 655.4V660.4M239.78 655.4V649.8M240.52 655.4V650.8M240.88 655.4V650.2M247.13 655.4V651.2M247.70 655.4V649.4M248.18 655.4V650.0M248.60 655.4V660.5M249.47 655.4V650.6M250.24 655.4V660.9M251.79 655.4V651.2M257.31 655.4V651.2M262.07 655.4V659.4M263.89 655.4V659.4M266.95 655.4V660.1M268.21 655.4V651.4M269.41 655.4V660.9M271.14 655.4V660.5M271.85 655.4V659.8M273.10 655.4V660.5M274.23 655.4V660.4M275.06 655.4V651.0M277.44 655.4V659.8M279.30 655.4V650.0M280.08 655.4V660.9M285.03 655.4V650.9M285.37 655.4V662.3M285.93 655.4V662.3M287.38 655.4V650.6M294.75 655.4V649.3M296.14 655.4V650.9M297.43 655.4V650.7M306.87 655.4V660.0M307.82 655.4V660.6M313.45 655.4V651.0M315.68 655.4V660.7M316.24 655.4V651.1M316.98 655.4V660.8M320.17 655.4V662.3M320.87 655.4V648.5M321.74 655.4V651.3M326.61 655.4V650.0M335.09 655.4V651.3M337.11 655.4V659.6M337.32 655.4V650.5" stroke="#000" stroke-width="0.6" stroke-opacity="0.95" fill="none"/>
<path d="M56.90,686.8 57.30,685.6 57.70,686.2 58.10,686.9 58.50,686.8 58.90,686.6 59.30,686.6 59.70,685.5 60.10,685.4 60.50,686.7 60.90,686.8 61.30,686.1 61.70,686.4 62.10,686.5 62.50,686.5 62.90,686.2 63.30,686.2 63.70,686.2 64.10,685.3 64.50,686.3 64.90,686.3 65.30,686.5 65.70,686.4 66.10,686.9 66.50,686.3 66.90,685.6 67.30,686.5 67.70,686.8 68.10,686.8 68.50,686.5 68.90,686.9 69.30,686.8 69.70,686.9 70.10,685.7 70.50,685.3 70.90,686.5 71.30,686.6 71.70,686.3 72.10,687.0 72.50,686.9 72.90,686.5 73.30,686.5 73.70,685.8 74.10,686.1 74.50,686.2 74.90,686.9 75.30,686.5 75.70,686.9 76.10,686.8 76.50,686.9 76.90,686.8 77.30,686.9 77.70,686.1 78.10,686.7 78.50,686.7 78.90,686.7 79.30,686.6 79.70,686.7 80.10,686.5 80.50,686.8 80.90,686.3 81.30,686.0 81.70,686.5 82.10,686.2 82.50,686.1 82.90,686.6 83.30,686.7 83.70,686.5 84.10,686.4 84.50,686.8 84.90,686.4 85.30,686.5 85.70,686.2 86.10,685.9 86.50,686.1 86.90,686.2 87.30,686.9 87.70,686.7 88.10,686.6 88.50,686.2 88.90,686.2 89.30,685.3 89.70,686.6 90.10,686.3 90.50,686.3 90.90,686.4 91.30,687.0 91.70,686.0 92.10,686.7 92.50,686.4 92.90,686.8 93.30,686.8 93.70,686.7 94.10,687.0 94.50,686.1 94.90,686.5 95.30,686.5 95.70,686.3 96.10,686.8 96.50,686.7 96.90,687.0 97.30,685.5 97.70,686.4 98.10,686.8 98.50,686.8 98.90,686.3 99.30,686.6 99.70,686.3 100.10,686.9 100.50,686.2 100.90,686.2 101.30,686.7 101.70,686.1 102.10,686.7 102.50,685.9 102.90,686.8 103.30,686.3 103.70,686.7 104.10,685.9 104.50,686.4 104.90,686.3 105.30,686.9 105.70,686.8 106.10,685.7 106.50,686.9 106.90,685.7 107.30,686.2 107.70,685.8 108.10,686.6 108.50,686.0 108.90,686.6 109.30,686.9 109.70,686.3 110.10,685.7 110.50,686.0 110.90,686.9 111.30,686.5 111.70,685.4 112.10,686.7 112.50,686.8 112.90,686.7 113.30,686.2 113.70,685.5 114.10,685.6 114.50,685.9 114.90,686.1 115.30,686.2 115.70,685.6 116.10,686.9 116.50,686.6 116.90,686.3 117.30,686.8 117.70,686.4 118.10,686.0 118.50,685.8 118.90,686.2 119.30,685.6 119.70,686.4 120.10,686.4 120.50,687.0 120.90,686.9 121.30,686.4 121.70,686.4 122.10,686.6 122.50,687.0 122.90,686.4 123.30,686.4 123.70,686.0 124.10,686.0 124.50,686.9 124.90,685.6 125.30,685.9 125.70,685.6 126.10,686.4 126.50,686.0 126.90,686.3 127.30,686.6 127.70,686.8 128.10,686.4 128.50,686.3 128.90,686.4 129.30,686.6 129.70,685.8 130.10,684.9 130.50,686.9 130.90,686.9 131.30,686.6 131.70,686.6 132.10,686.9 132.50,686.4 132.90,687.0 133.30,685.5 133.70,687.0 134.10,686.2 134.50,685.8 134.90,686.2 135.30,686.6 135.70,686.7 136.10,686.8 136.50,686.6 136.90,686.5 137.30,686.4 137.70,686.4 138.10,686.2 138.50,686.2 138.90,685.1 139.30,685.0 139.70,687.0 140.10,685.7 140.50,686.6 140.90,686.6 141.30,686.3 141.70,686.8 142.10,686.2 142.50,686.2 142.90,686.2 143.30,687.0 143.70,686.8 144.10,686.7 144.50,686.1 144.90,686.5 145.30,684.6 145.70,686.3 146.10,686.8 146.50,686.7 146.90,686.7 147.30,686.9 147.70,687.0 148.10,686.3 148.50,686.9 148.90,686.6 149.30,686.4 149.70,686.8 150.10,686.7 150.50,686.8 150.90,685.5 151.30,685.4 151.70,686.4 152.10,686.4 152.50,686.7 152.90,686.7 153.30,686.9 153.70,686.7 154.10,686.7 154.50,686.3 154.90,686.3 155.30,686.7 155.70,686.3 156.10,686.1 156.50,685.7 156.90,686.9 157.30,686.8 157.70,686.9 158.10,686.5 158.50,686.2 158.90,686.7 159.30,685.3 159.70,685.6 160.10,686.0 160.50,685.3 160.90,686.3 161.30,686.8 161.70,686.9 162.10,686.4 162.50,686.8 162.90,687.0 163.30,686.9 163.70,686.8 164.10,686.7 164.50,685.9 164.90,685.7 165.30,687.0 165.70,686.9 166.10,687.0 166.50,685.6 166.90,686.5 167.30,685.8 167.70,686.1 168.10,686.5 168.50,686.7 168.90,686.5 169.30,686.3 169.70,686.0 170.10,686.4 170.50,684.5 170.90,685.7 171.30,686.9 171.70,686.0 172.10,685.7 172.50,686.9 172.90,686.4 173.30,686.9 173.70,686.1 174.10,684.3 174.50,685.5 174.90,686.2 175.30,686.7 175.70,686.2 176.10,687.0 176.50,686.4 176.90,686.5 177.30,686.2 177.70,686.7 178.10,687.0 178.50,687.0 178.90,686.6 179.30,686.2 179.70,685.9 180.10,685.4 180.50,686.9 180.90,685.5 181.30,685.8 181.70,687.0 182.10,685.9 182.50,686.5 182.90,686.8 183.30,686.7 183.70,685.1 184.10,685.3 184.50,686.8 184.90,686.4 185.30,687.0 185.70,686.9 186.10,686.8 186.50,686.6 186.90,686.1 187.30,686.7 187.70,686.5 188.10,686.2 188.50,686.2 188.90,686.7 189.30,686.4 189.70,686.4 190.10,686.0 190.50,686.1 190.90,686.0 191.30,685.4 191.70,686.3 192.10,686.5 192.50,686.4 192.90,686.7 193.30,686.8 193.70,686.7 194.10,686.2 194.50,686.0 194.90,686.7 195.30,686.4 195.70,686.8 196.10,686.3 196.50,686.8 196.90,686.3 197.30,686.6 197.70,685.4 198.10,685.5 198.50,685.8 198.90,686.9 199.30,686.4 199.70,686.9 200.10,686.7 200.50,686.2 200.90,687.0 201.30,686.5 201.70,687.0 202.10,686.7 202.50,686.8 202.90,686.3 203.30,686.4 203.70,686.3 204.10,686.9 204.50,686.6 204.90,686.3 205.30,686.1 205.70,684.9 206.10,685.9 206.50,686.9 206.90,687.0 207.30,685.7 207.70,686.4 208.10,685.8 208.50,686.9 208.90,686.8 209.30,686.7 209.70,686.6 210.10,686.5 210.50,685.9 210.90,685.5 211.30,685.9 211.70,686.8 212.10,686.9 212.50,686.9 212.90,686.2 213.30,685.7 213.70,685.6 214.10,686.4 214.50,686.9 214.90,687.0 215.30,686.4 215.70,685.8 216.10,686.8 216.50,686.6 216.90,686.8 217.30,685.9 217.70,686.1 218.10,686.8 218.50,686.9 218.90,685.9 219.30,686.7 219.70,685.9 220.10,686.2 220.50,686.9 220.90,686.1 221.30,686.9 221.70,686.7 222.10,686.5 222.50,686.8 222.90,686.2 223.30,686.9 223.70,686.4 224.10,686.3 224.50,686.5 224.90,686.1 225.30,686.6 225.70,686.8 226.10,686.7 226.50,686.8 226.90,687.0 227.30,685.7 227.70,684.7 228.10,685.4 228.50,686.5 228.90,685.8 229.30,686.2 229.70,685.6 230.10,685.8 230.50,686.3 230.90,685.1 231.30,685.0 231.70,686.1 232.10,686.5 232.50,686.9 232.90,686.5 233.30,686.3 233.70,686.6 234.10,686.7 234.50,685.7 234.90,686.3 235.30,686.7 235.70,686.9 236.10,686.4 236.50,686.7 236.90,686.8 237.30,686.6 237.70,685.4 238.10,685.6 238.50,686.4 238.90,686.7 239.30,686.6 239.70,686.1 240.10,686.5 240.50,686.7 240.90,686.9 241.30,686.6 241.70,686.7 242.10,686.7 242.50,686.9 242.90,686.9 243.30,685.5 243.70,686.9 244.10,685.8 244.50,686.3 244.90,686.7 245.30,686.8 245.70,686.9 246.10,686.9 246.50,686.9 246.90,686.4 247.30,686.8 247.70,686.7 248.10,685.9 248.50,686.4 248.90,686.3 249.30,686.7 249.70,685.8 250.10,685.4 250.50,685.3 250.90,685.5 251.30,686.7 251.70,686.9 252.10,686.4 252.50,686.3 252.90,686.3 253.30,686.2 253.70,686.0 254.10,685.8 254.50,686.2 254.90,686.5 255.30,685.9 255.70,685.5 256.10,686.1 256.50,686.8 256.90,686.2 257.30,686.6 257.70,686.5 258.10,686.9 258.50,686.1 258.90,685.4 259.30,685.9 259.70,686.8 260.10,686.6 260.50,686.5 260.90,686.9 261.30,686.0 261.70,686.3 262.10,687.0 262.50,687.0 262.90,687.0 263.30,686.8 263.70,686.7 264.10,687.0 264.50,686.3 264.90,685.7 265.30,686.9 265.70,685.3 266.10,685.6 266.50,686.1 266.90,686.8 267.30,686.9 267.70,686.7 268.10,686.8 268.50,686.6 268.90,686.5 269.30,686.3 269.70,686.0 270.10,686.4 270.50,686.2 270.90,685.9 271.30,686.5 271.70,686.9 272.10,686.1 272.50,686.8 272.90,685.7 273.30,686.9 273.70,686.7 274.10,686.6 274.50,685.6 274.90,686.2 275.30,685.6 275.70,686.3 276.10,686.8 276.50,686.6 276.90,686.9 277.30,686.0 277.70,686.4 278.10,686.7 278.50,685.9 278.90,686.7 279.30,686.9 279.70,686.4 280.10,686.4 280.50,687.0 280.90,686.8 281.30,686.0 281.70,685.9 282.10,686.5 282.50,686.7 282.90,686.0 283.30,686.2 283.70,686.3 284.10,686.5 284.50,686.3 284.90,686.1 285.30,686.9 285.70,686.1 286.10,685.7 286.50,685.9 286.90,686.4 287.30,686.2 287.70,686.2 288.10,686.2 288.50,686.8 288.90,686.0 289.30,686.8 289.70,686.8 290.10,686.7 290.50,686.9 290.90,686.7 291.30,686.6 291.70,686.3 292.10,686.0 292.50,686.6 292.90,687.0 293.30,686.9 293.70,686.6 294.10,685.9 294.50,686.5 294.90,685.6 295.30,686.3 295.70,686.4 296.10,686.5 296.50,686.0 296.90,685.7 297.30,686.3 297.70,686.8 298.10,686.2 298.50,686.6 298.90,686.1 299.30,686.8 299.70,686.7 300.10,686.1 300.50,686.7 300.90,686.1 301.30,686.8 301.70,686.7 302.10,686.8 302.50,685.0 302.90,685.0 303.30,686.5 303.70,685.5 304.10,686.7 304.50,686.1 304.90,686.7 305.30,686.7 305.70,685.5 306.10,686.7 306.50,686.2 306.90,686.8 307.30,686.8 307.70,686.7 308.10,686.1 308.50,686.7 308.90,686.8 309.30,686.4 309.70,686.6 310.10,686.0 310.50,686.0 310.90,684.7 311.30,686.5 311.70,686.3 312.10,686.1 312.50,686.7 312.90,686.6 313.30,686.6 313.70,686.7 314.10,686.5 314.50,686.6 314.90,686.5 315.30,686.2 315.70,685.4 316.10,685.9 316.50,686.9 316.90,686.9 317.30,686.3 317.70,686.2 318.10,686.7 318.50,686.4 318.90,686.2 319.30,686.1 319.70,687.0 320.10,686.0 320.50,686.3 320.90,685.5 321.30,685.7 321.70,686.8 322.10,686.4 322.50,686.4 322.90,686.8 323.30,686.5 323.70,686.0 324.10,686.7 324.50,686.8 324.90,686.3 325.30,685.3 325.70,686.8 326.10,686.8 326.50,686.2 326.90,687.0 327.30,686.5 327.70,686.7 328.10,686.7 328.50,686.2 328.90,686.2 329.30,686.4 329.70,685.9 330.10,686.8 330.50,686.8 330.90,686.6 331.30,686.6 331.70,686.9 332.10,686.0 332.50,686.5 332.90,685.8 333.30,686.1 333.70,686.8 334.10,686.4 334.50,686.5 334.90,686.5 335.30,686.6 335.70,686.4 336.10,686.9 336.50,686.8 336.90,686.8 337.30,686.0 337.70,685.9 338.10,686.8 338.50,685.8 338.90,686.4 339.30,685.9 339.70,686.4 340.10,686.9 340.50,686.7 340.90,685.6 341.30,686.3 341.70,686.3 341.70,695.1 341.30,695.2 340.90,695.1 340.50,695.1 340.10,695.0 339.70,695.8 339.30,696.1 338.90,695.9 338.50,695.5 338.10,695.0 337.70,695.4 337.30,695.5 336.90,697.5 336.50,697.4 336.10,695.5 335.70,695.5 335.30,695.1 334.90,695.7 334.50,695.5 334.10,696.1 333.70,695.4 333.30,695.3 332.90,695.3 332.50,695.2 332.10,695.1 331.70,695.3 331.30,695.4 330.90,695.0 330.50,695.7 330.10,695.1 329.70,695.3 329.30,695.4 328.90,695.3 328.50,696.8 328.10,696.0 327.70,696.2 327.30,696.0 326.90,696.4 326.50,697.3 326.10,696.4 325.70,695.6 325.30,695.4 324.90,696.6 324.50,696.9 324.10,696.1 323.70,696.2 323.30,696.4 322.90,695.1 322.50,696.5 322.10,696.3 321.70,695.9 321.30,695.6 320.90,696.3 320.50,696.4 320.10,696.6 319.70,696.2 319.30,695.4 318.90,695.4 318.50,696.3 318.10,696.4 317.70,695.2 317.30,695.3 316.90,695.5 316.50,695.4 316.10,695.4 315.70,695.7 315.30,695.4 314.90,696.3 314.50,697.1 314.10,696.4 313.70,696.3 313.30,695.2 312.90,695.8 312.50,695.4 312.10,696.1 311.70,695.8 311.30,695.1 310.90,695.5 310.50,695.0 310.10,696.1 309.70,695.3 309.30,696.6 308.90,695.2 308.50,696.4 308.10,695.2 307.70,695.7 307.30,695.7 306.90,695.7 306.50,695.7 306.10,695.9 305.70,695.6 305.30,695.7 304.90,696.3 304.50,696.7 304.10,695.8 303.70,695.2 303.30,695.5 302.90,695.3 302.50,696.0 302.10,696.3 301.70,696.0 301.30,695.3 300.90,695.1 300.50,695.4 300.10,695.1 299.70,695.0 299.30,696.1 298.90,695.6 298.50,695.4 298.10,695.7 297.70,695.4 297.30,695.2 296.90,695.4 296.50,695.2 296.10,696.7 295.70,695.8 295.30,695.1 294.90,695.4 294.50,695.7 294.10,695.3 293.70,695.6 293.30,695.5 292.90,695.1 292.50,695.1 292.10,695.6 291.70,695.0 291.30,695.7 290.90,695.2 290.50,696.5 290.10,696.2 289.70,695.3 289.30,696.4 288.90,695.0 288.50,696.6 288.10,695.5 287.70,695.8 287.30,695.2 286.90,695.7 286.50,695.1 286.10,695.0 285.70,695.6 285.30,696.3 284.90,695.6 284.50,695.1 284.10,695.1 283.70,695.1 283.30,695.2 282.90,695.1 282.50,695.4 282.10,695.7 281.70,695.3 281.30,696.1 280.90,695.3 280.50,695.4 280.10,696.0 279.70,695.6 279.30,695.3 278.90,696.0 278.50,696.4 278.10,695.2 277.70,695.4 277.30,696.0 276.90,695.4 276.50,695.7 276.10,696.0 275.70,695.4 275.30,696.3 274.90,696.1 274.50,695.5 274.10,696.4 273.70,695.2 273.30,696.2 272.90,696.3 272.50,696.2 272.10,695.1 271.70,695.4 271.30,695.3 270.90,695.5 270.50,695.9 270.10,695.7 269.70,695.6 269.30,695.5 268.90,695.2 268.50,695.2 268.10,695.6 267.70,696.9 267.30,696.1 266.90,695.5 266.50,695.2 266.10,695.2 265.70,695.6 265.30,695.7 264.90,695.4 264.50,695.4 264.10,695.0 263.70,695.8 263.30,695.7 262.90,695.7 262.50,696.0 262.10,695.2 261.70,696.1 261.30,695.2 260.90,695.2 260.50,695.6 260.10,695.8 259.70,695.3 259.30,695.2 258.90,695.4 258.50,696.4 258.10,695.3 257.70,695.0 257.30,696.5 256.90,696.8 256.50,696.2 256.10,695.4 255.70,695.5 255.30,695.6 254.90,695.8 254.50,695.0 254.10,695.5 253.70,695.3 253.30,695.4 252.90,695.1 252.50,695.4 252.10,695.5 251.70,695.1 251.30,695.3 250.90,695.4 250.50,695.5 250.10,695.6 249.70,695.5 249.30,696.4 248.90,695.5 248.50,695.0 248.10,696.3 247.70,695.1 247.30,695.8 246.90,695.6 246.50,696.1 246.10,695.2 245.70,695.3 245.30,696.1 244.90,695.9 244.50,695.6 244.10,696.1 243.70,696.3 243.30,695.2 242.90,695.6 242.50,695.2 242.10,695.3 241.70,695.6 241.30,695.1 240.90,695.7 240.50,695.6 240.10,695.8 239.70,695.6 239.30,695.1 238.90,695.4 238.50,695.0 238.10,695.5 237.70,695.9 237.30,696.0 236.90,696.1 236.50,695.2 236.10,695.1 235.70,695.5 235.30,695.9 234.90,695.4 234.50,695.4 234.10,695.8 233.70,697.0 233.30,695.1 232.90,696.1 232.50,696.0 232.10,696.1 231.70,696.1 231.30,695.4 230.90,695.9 230.50,696.0 230.10,695.6 229.70,695.9 229.30,695.9 228.90,695.5 228.50,695.5 228.10,695.2 227.70,695.2 227.30,695.8 226.90,696.3 226.50,695.5 226.10,695.7 225.70,696.1 225.30,695.0 224.90,695.6 224.50,695.5 224.10,695.3 223.70,695.5 223.30,695.0 222.90,695.2 222.50,695.2 222.10,695.9 221.70,696.5 221.30,695.6 220.90,695.5 220.50,695.6 220.10,696.8 219.70,697.0 219.30,695.4 218.90,695.2 218.50,695.3 218.10,695.4 217.70,696.6 217.30,696.2 216.90,695.2 216.50,695.5 216.10,695.4 215.70,695.6 215.30,695.3 214.90,695.6 214.50,695.5 214.10,697.0 213.70,696.0 213.30,695.0 212.90,695.2 212.50,695.7 212.10,695.3 211.70,696.1 211.30,695.1 210.90,695.3 210.50,695.9 210.10,695.9 209.70,695.1 209.30,696.3 208.90,696.3 208.50,695.7 208.10,695.3 207.70,695.1 207.30,695.1 206.90,695.8 206.50,695.8 206.10,695.8 205.70,695.4 205.30,695.5 204.90,695.1 204.50,695.5 204.10,696.2 203.70,695.9 203.30,696.2 202.90,696.0 202.50,695.2 202.10,695.3 201.70,695.6 201.30,695.5 200.90,697.0 200.50,696.0 200.10,695.4 199.70,695.7 199.30,695.9 198.90,695.8 198.50,695.3 198.10,696.0 197.70,695.9 197.30,695.5 196.90,696.0 196.50,695.8 196.10,695.0 195.70,696.2 195.30,695.7 194.90,695.5 194.50,695.4 194.10,695.6 193.70,695.0 193.30,696.0 192.90,695.3 192.50,695.5 192.10,695.3 191.70,695.8 191.30,695.9 190.90,695.2 190.50,695.8 190.10,695.3 189.70,695.9 189.30,695.8 188.90,696.0 188.50,696.6 188.10,695.5 187.70,695.3 187.30,695.2 186.90,695.1 186.50,696.5 186.10,696.6 185.70,696.0 185.30,695.4 184.90,695.2 184.50,697.0 184.10,697.3 183.70,695.0 183.30,696.3 182.90,695.5 182.50,695.2 182.10,695.5 181.70,696.1 181.30,695.2 180.90,696.1 180.50,695.3 180.10,695.0 179.70,696.8 179.30,695.8 178.90,695.0 178.50,695.8 178.10,695.4 177.70,695.7 177.30,696.5 176.90,695.8 176.50,695.6 176.10,695.5 175.70,695.2 175.30,697.1 174.90,697.1 174.50,695.5 174.10,695.8 173.70,695.2 173.30,695.1 172.90,695.5 172.50,695.3 172.10,695.1 171.70,695.4 171.30,696.0 170.90,695.8 170.50,695.4 170.10,695.4 169.70,696.7 169.30,696.4 168.90,695.6 168.50,695.6 168.10,695.5 167.70,695.9 167.30,696.0 166.90,695.9 166.50,695.1 166.10,695.8 165.70,695.8 165.30,695.2 164.90,695.9 164.50,696.1 164.10,695.5 163.70,695.2 163.30,695.1 162.90,696.6 162.50,695.8 162.10,696.2 161.70,696.7 161.30,697.2 160.90,696.4 160.50,695.1 160.10,695.3 159.70,695.6 159.30,695.5 158.90,696.3 158.50,696.6 158.10,695.9 157.70,695.1 157.30,695.4 156.90,696.2 156.50,696.8 156.10,695.2 155.70,695.6 155.30,695.6 154.90,696.3 154.50,695.1 154.10,696.3 153.70,696.2 153.30,697.3 152.90,696.0 152.50,695.1 152.10,695.7 151.70,695.7 151.30,695.8 150.90,695.7 150.50,695.3 150.10,695.5 149.70,695.2 149.30,695.5 148.90,695.4 148.50,695.3 148.10,695.6 147.70,695.1 147.30,695.6 146.90,696.6 146.50,695.5 146.10,695.4 145.70,696.2 145.30,695.6 144.90,696.0 144.50,695.9 144.10,696.0 143.70,695.1 143.30,697.5 142.90,696.7 142.50,695.3 142.10,695.5 141.70,695.7 141.30,696.7 140.90,695.4 140.50,695.9 140.10,695.5 139.70,696.2 139.30,696.3 138.90,695.9 138.50,695.9 138.10,695.3 137.70,696.4 137.30,695.1 136.90,695.7 136.50,695.8 136.10,696.1 135.70,695.1 135.30,695.2 134.90,695.4 134.50,695.0 134.10,695.0 133.70,695.5 133.30,695.0 132.90,695.1 132.50,696.6 132.10,696.1 131.70,695.7 131.30,696.9 130.90,695.0 130.50,695.9 130.10,695.1 129.70,695.2 129.30,695.3 128.90,695.0 128.50,695.4 128.10,695.2 127.70,695.0 127.30,695.0 126.90,695.1 126.50,696.3 126.10,696.3 125.70,695.2 125.30,695.3 124.90,695.5 124.50,695.9 124.10,695.6 123.70,696.1 123.30,696.4 122.90,695.9 122.50,696.7 122.10,696.9 121.70,696.8 121.30,695.9 120.90,695.7 120.50,695.7 120.10,695.3 119.70,695.6 119.30,695.3 118.90,695.7 118.50,695.5 118.10,696.0 117.70,696.2 117.30,695.1 116.90,695.1 116.50,695.4 116.10,695.9 115.70,695.5 115.30,695.1 114.90,695.2 114.50,695.1 114.10,695.9 113.70,695.8 113.30,695.5 112.90,695.0 112.50,695.5 112.10,695.5 111.70,695.4 111.30,695.4 110.90,695.9 110.50,695.6 110.10,695.1 109.70,695.1 109.30,695.2 108.90,695.2 108.50,696.3 108.10,695.9 107.70,695.0 107.30,695.6 106.90,696.3 106.50,695.2 106.10,695.3 105.70,695.4 105.30,695.3 104.90,695.8 104.50,695.5 104.10,695.9 103.70,696.0 103.30,695.1 102.90,695.4 102.50,696.4 102.10,696.7 101.70,695.8 101.30,695.8 100.90,695.9 100.50,696.1 100.10,695.2 99.70,695.6 99.30,695.2 98.90,695.6 98.50,696.1 98.10,695.6 97.70,695.0 97.30,695.0 96.90,695.7 96.50,695.2 96.10,696.5 95.70,697.0 95.30,696.3 94.90,695.8 94.50,695.6 94.10,695.3 93.70,695.5 93.30,696.0 92.90,696.2 92.50,697.2 92.10,695.4 91.70,696.0 91.30,695.3 90.90,695.2 90.50,695.1 90.10,695.7 89.70,695.2 89.30,696.2 88.90,697.4 88.50,697.6 88.10,696.0 87.70,696.3 87.30,695.8 86.90,695.9 86.50,695.7 86.10,695.3 85.70,696.9 85.30,696.2 84.90,695.1 84.50,695.3 84.10,695.9 83.70,695.7 83.30,695.6 82.90,695.5 82.50,695.5 82.10,695.8 81.70,696.5 81.30,695.2 80.90,695.7 80.50,695.5 80.10,695.1 79.70,695.1 79.30,696.1 78.90,695.7 78.50,695.2 78.10,696.2 77.70,697.0 77.30,695.9 76.90,695.4 76.50,695.6 76.10,695.5 75.70,695.1 75.30,695.1 74.90,695.7 74.50,695.5 74.10,695.4 73.70,695.6 73.30,695.4 72.90,695.3 72.50,695.4 72.10,695.9 71.70,695.1 71.30,696.1 70.90,696.5 70.50,695.3 70.10,696.4 69.70,695.8 69.30,696.0 68.90,695.9 68.50,695.5 68.10,695.4 67.70,695.6 67.30,695.0 66.90,696.4 66.50,696.8 66.10,695.5 65.70,695.6 65.30,695.2 64.90,695.5 64.50,695.6 64.10,695.8 63.70,696.6 63.30,696.0 62.90,695.0 62.50,695.5 62.10,695.2 61.70,695.6 61.30,695.5 60.90,696.5 60.50,696.3 60.10,695.7 59.70,695.7 59.30,695.5 58.90,696.2 58.50,695.4 58.10,695.4 57.70,695.3 57.30,695.1 56.90,695.1Z" fill="#000"/>
<path d="M58.36 691.0V686.8M66.42 691.0V697.9M67.02 691.0V695.2M74.97 691.0V695.0M75.55 691.0V686.2M76.06 691.0V695.8M77.98 691.0V695.0M78.43 691.0V697.9M80.57 691.0V686.1M81.44 691.0V695.4M82.59 691.0V686.7M85.26 691.0V687.0M86.55 691.0V684.8M86.88 691.0V696.7M87.15 691.0V686.8M87.39 691.0V696.1M88.93 691.0V695.8M93.67 691.0V686.6M95.33 691.0V697.0M95.72 691.0V686.9M96.85 691.0V686.9M99.76 691.0V695.7M100.55 691.0V686.5M101.83 691.0V695.2M107.26 691.0V686.6M107.43 691.0V695.1M109.44 691.0V685.8M113.66 691.0V697.9M115.64 691.0V684.1M116.84 691.0V696.1M118.16 691.0V696.0M119.37 691.0V686.9M120.03 691.0V684.3M121.56 691.0V685.7M122.16 691.0V695.0M122.98 691.0V695.7M124.01 691.0V686.8M124.22 691.0V695.0M125.27 691.0V695.9M130.95 691.0V695.4M133.78 691.0V695.2M137.60 691.0V686.2M141.77 691.0V695.4M145.61 691.0V696.4M147.21 691.0V695.8M150.08 691.0V686.7M151.04 691.0V695.5M151.64 691.0V686.3M152.57 691.0V684.6M154.89 691.0V685.3M156.21 691.0V695.0M156.64 691.0V686.7M159.00 691.0V686.5M159.39 691.0V686.9M159.78 691.0V686.4M162.63 691.0V686.2M166.44 691.0V695.3M167.01 691.0V687.0M167.04 691.0V695.1M170.03 691.0V686.2M170.52 691.0V686.7M171.40 691.0V685.8M171.28 691.0V695.2M172.50 691.0V695.3M173.55 691.0V696.3M174.97 691.0V686.9M177.35 691.0V686.4M177.45 691.0V697.9M180.18 691.0V695.8M182.94 691.0V695.1M192.11 691.0V686.6M192.03 691.0V695.3M192.87 691.0V686.9M193.98 691.0V696.3M194.49 691.0V697.9M196.87 691.0V687.0M197.22 691.0V697.9M197.96 691.0V686.7M201.24 691.0V684.9M202.88 691.0V685.8M203.29 691.0V695.4M204.91 691.0V695.9M206.86 691.0V686.4M209.42 691.0V697.3M211.44 691.0V696.9M211.56 691.0V695.5M213.64 691.0V695.4M214.05 691.0V685.4M215.44 691.0V686.4M216.22 691.0V686.7M219.27 691.0V695.2M220.39 691.0V686.9M220.78 691.0V687.0M225.57 691.0V686.4M226.15 691.0V695.0M228.58 691.0V686.0M229.74 691.0V695.7M237.65 691.0V695.6M239.61 691.0V696.2M240.79 691.0V696.2M241.82 691.0V686.0M248.03 691.0V697.9M248.41 691.0V685.8M248.64 691.0V695.5M249.44 691.0V686.8M254.64 691.0V695.2M255.19 691.0V695.8M256.20 691.0V685.7M256.90 691.0V696.0M257.81 691.0V686.7M258.50 691.0V695.6M259.70 691.0V685.1M262.22 691.0V695.7M263.24 691.0V686.4M263.41 691.0V696.9M265.18 691.0V695.9M268.49 691.0V686.1M272.39 691.0V686.0M273.37 691.0V695.5M276.93 691.0V695.5M279.04 691.0V695.4M279.29 691.0V695.4M281.42 691.0V686.1M288.11 691.0V695.8M289.28 691.0V686.7M290.47 691.0V695.2M290.77 691.0V686.7M293.60 691.0V697.9M294.56 691.0V684.8M294.79 691.0V695.1M295.35 691.0V686.3M298.04 691.0V695.2M300.10 691.0V686.8M300.41 691.0V686.7M300.84 691.0V685.8M302.21 691.0V697.7M303.30 691.0V686.1M303.76 691.0V685.2M303.96 691.0V685.5M307.61 691.0V686.9M308.64 691.0V695.1M312.42 691.0V686.9M312.39 691.0V695.7M313.78 691.0V697.3M314.61 691.0V697.0M315.37 691.0V686.9M316.03 691.0V697.9M316.43 691.0V686.7M317.77 691.0V696.6M320.65 691.0V695.6M321.38 691.0V686.6M322.36 691.0V695.1M324.16 691.0V697.9M324.83 691.0V695.1M326.16 691.0V685.9M326.64 691.0V695.0M327.82 691.0V697.0M329.00 691.0V686.0M329.79 691.0V686.2M329.84 691.0V695.2M330.87 691.0V686.0M334.95 691.0V695.4M336.17 691.0V695.4M337.24 691.0V695.1M338.07 691.0V686.7M340.54 691.0V695.6" stroke="#000" stroke-width="0.6" stroke-opacity="0.3" fill="none"/>
<path d="M59.24 691.0V685.6M59.64 691.0V687.0M60.75 691.0V686.1M61.02 691.0V696.0M62.44 691.0V684.5M66.62 691.0V686.2M66.78 691.0V685.8M67.75 691.0V697.9M72.38 691.0V695.8M73.76 691.0V684.7M76.93 691.0V695.6M78.53 691.0V685.4M79.64 691.0V686.7M80.05 691.0V696.9M81.42 691.0V686.5M82.39 691.0V695.1M84.05 691.0V686.7M84.98 691.0V686.1M85.39 691.0V696.1M90.38 691.0V686.9M91.70 691.0V686.2M92.41 691.0V695.4M93.41 691.0V695.4M94.53 691.0V685.9M96.13 691.0V695.0M98.22 691.0V695.2M99.23 691.0V695.5M99.64 691.0V684.9M99.98 691.0V695.3M102.59 691.0V695.6M107.56 691.0V686.8M107.79 691.0V695.0M109.84 691.0V696.5M112.52 691.0V686.3M112.53 691.0V695.7M112.76 691.0V695.0M114.23 691.0V685.3M114.54 691.0V695.6M114.94 691.0V695.2M117.36 691.0V695.8M118.45 691.0V686.4M121.41 691.0V696.4M122.20 691.0V687.0M125.56 691.0V695.3M126.56 691.0V686.9M126.99 691.0V686.1M132.10 691.0V686.6M134.06 691.0V686.8M134.75 691.0V695.6M136.04 691.0V695.7M139.39 691.0V686.9M141.40 691.0V686.4M142.25 691.0V686.7M143.23 691.0V686.8M143.35 691.0V695.1M144.59 691.0V686.9M149.17 691.0V695.0M149.63 691.0V695.9M150.20 691.0V695.8M154.52 691.0V686.0M155.98 691.0V686.8M156.36 691.0V695.8M159.70 691.0V695.2M160.37 691.0V686.3M160.93 691.0V695.2M163.69 691.0V696.1M164.82 691.0V686.7M166.12 691.0V686.2M167.59 691.0V686.5M174.18 691.0V686.4M174.98 691.0V696.0M175.65 691.0V686.9M176.16 691.0V686.6M176.13 691.0V695.1M178.54 691.0V686.7M178.39 691.0V695.2M178.83 691.0V685.7M179.76 691.0V686.7M181.70 691.0V695.2M182.23 691.0V685.8M182.76 691.0V685.6M183.74 691.0V697.1M185.65 691.0V695.4M186.96 691.0V684.5M188.95 691.0V685.4M189.63 691.0V695.1M189.95 691.0V686.2M191.04 691.0V685.6M192.78 691.0V695.2M195.22 691.0V686.3M200.81 691.0V695.3M202.80 691.0V696.1M204.45 691.0V695.2M207.35 691.0V695.1M209.27 691.0V686.4M209.96 691.0V696.1M212.05 691.0V686.6M213.30 691.0V695.4M219.34 691.0V684.1M220.80 691.0V695.0M222.48 691.0V695.6M224.55 691.0V695.1M225.96 691.0V685.4M229.56 691.0V687.0M230.07 691.0V695.2M231.03 691.0V695.1M242.91 691.0V696.3M245.77 691.0V696.0M247.37 691.0V695.2M249.41 691.0V695.9M250.86 691.0V685.6M252.23 691.0V685.5M252.64 691.0V685.9M253.41 691.0V695.9M255.16 691.0V685.2M256.53 691.0V686.9M256.35 691.0V695.1M261.28 691.0V695.4M261.61 691.0V685.8M262.37 691.0V696.0M262.86 691.0V697.9M264.53 691.0V695.3M264.96 691.0V685.8M265.71 691.0V695.8M266.16 691.0V686.3M266.60 691.0V685.1M266.59 691.0V696.5M270.14 691.0V695.6M270.49 691.0V695.6M271.55 691.0V685.0M273.96 691.0V686.4M274.84 691.0V685.6M275.02 691.0V696.7M276.53 691.0V684.1M281.18 691.0V696.7M282.95 691.0V695.9M283.76 691.0V687.0M284.48 691.0V685.6M285.40 691.0V686.9M285.44 691.0V695.9M287.57 691.0V695.9M288.62 691.0V686.1M288.97 691.0V686.2M289.70 691.0V695.3M292.10 691.0V696.2M292.60 691.0V697.9M294.83 691.0V685.4M296.84 691.0V685.2M298.50 691.0V684.9M302.11 691.0V686.7M305.18 691.0V695.9M306.20 691.0V696.0M306.90 691.0V696.1M309.58 691.0V697.4M310.10 691.0V686.6M313.04 691.0V686.9M314.06 691.0V686.7M321.26 691.0V696.1M321.80 691.0V686.1M322.44 691.0V685.3M322.86 691.0V686.3M325.84 691.0V686.5M325.85 691.0V695.9M326.83 691.0V696.3M327.98 691.0V695.5M328.82 691.0V695.3M332.83 691.0V684.7M335.31 691.0V695.8M335.58 691.0V686.7M335.70 691.0V695.6M336.90 691.0V697.8M339.00 691.0V684.9M340.57 691.0V684.5M341.25 691.0V686.5M341.73 691.0V695.5" stroke="#000" stroke-width="0.6" stroke-opacity="0.6" fill="none"/>
<path d="M59.44 691.0V695.4M62.04 691.0V697.9M64.82 691.0V686.9M69.17 691.0V695.4M70.44 691.0V686.3M72.97 691.0V686.4M75.44 691.0V696.6M77.34 691.0V686.9M81.03 691.0V695.4M82.81 691.0V696.4M85.04 691.0V697.2M85.70 691.0V686.9M85.75 691.0V696.7M88.08 691.0V686.4M88.22 691.0V695.9M89.34 691.0V695.4M94.17 691.0V695.2M94.99 691.0V686.9M97.72 691.0V695.2M98.45 691.0V686.5M103.61 691.0V697.9M104.07 691.0V686.6M104.83 691.0V695.3M109.34 691.0V695.5M110.07 691.0V695.8M110.97 691.0V686.0M111.64 691.0V686.3M113.78 691.0V685.0M115.32 691.0V695.4M115.98 691.0V686.2M117.69 691.0V695.1M118.20 691.0V686.8M118.87 691.0V686.1M119.66 691.0V684.1M128.83 691.0V686.6M129.35 691.0V686.7M129.25 691.0V695.4M132.89 691.0V685.0M133.43 691.0V685.8M135.67 691.0V686.7M139.15 691.0V697.5M141.03 691.0V696.6M142.84 691.0V686.0M144.15 691.0V686.7M144.54 691.0V697.9M145.03 691.0V686.5M147.23 691.0V684.6M148.64 691.0V695.5M150.40 691.0V695.4M162.92 691.0V696.9M163.39 691.0V686.1M163.76 691.0V685.7M165.34 691.0V695.4M168.41 691.0V686.3M169.41 691.0V695.7M170.91 691.0V685.5M175.31 691.0V686.3M175.37 691.0V695.6M176.85 691.0V696.0M177.69 691.0V686.0M178.04 691.0V685.4M179.75 691.0V695.7M183.66 691.0V686.5M184.05 691.0V695.9M184.79 691.0V696.8M187.83 691.0V696.1M188.15 691.0V686.7M189.28 691.0V686.9M190.97 691.0V697.4M193.17 691.0V695.7M193.60 691.0V686.8M194.19 691.0V685.6M194.90 691.0V695.3M197.66 691.0V685.6M198.20 691.0V695.5M198.44 691.0V686.8M200.44 691.0V686.5M201.56 691.0V686.4M202.42 691.0V695.1M203.35 691.0V686.5M210.53 691.0V685.8M211.73 691.0V686.2M214.19 691.0V696.0M214.90 691.0V685.2M214.81 691.0V695.4M218.24 691.0V685.9M220.41 691.0V695.9M221.31 691.0V686.8M223.05 691.0V696.1M225.56 691.0V696.2M227.60 691.0V695.1M228.35 691.0V695.5M230.92 691.0V686.0M231.38 691.0V686.6M234.25 691.0V686.2M234.16 691.0V695.5M238.58 691.0V696.2M239.16 691.0V686.1M240.10 691.0V685.3M240.44 691.0V695.2M241.67 691.0V695.7M242.10 691.0V686.4M245.00 691.0V686.7M246.63 691.0V695.7M246.76 691.0V686.1M260.09 691.0V697.4M261.04 691.0V685.5M265.65 691.0V685.5M268.47 691.0V695.1M269.25 691.0V686.8M272.53 691.0V695.0M275.41 691.0V697.6M275.79 691.0V695.1M278.54 691.0V686.7M280.04 691.0V686.3M283.00 691.0V685.9M283.36 691.0V696.6M283.84 691.0V695.2M285.71 691.0V695.1M288.61 691.0V696.2M291.63 691.0V686.2M293.99 691.0V686.5M298.48 691.0V695.4M298.78 691.0V685.8M304.52 691.0V686.3M307.43 691.0V695.3M307.78 691.0V695.2M310.97 691.0V684.1M311.66 691.0V695.8M312.22 691.0V685.7M312.80 691.0V695.6M318.60 691.0V697.9M320.54 691.0V684.1M325.21 691.0V695.5M327.43 691.0V695.0M328.10 691.0V686.3M330.10 691.0V695.4M331.24 691.0V684.1M336.36 691.0V685.8M339.64 691.0V695.8M341.44 691.0V695.4" stroke="#000" stroke-width="0.6" stroke-opacity="0.95" fill="none"/>
<line x1="428.20" y1="554.90" x2="639.60" y2="554.90" stroke="#333" stroke-width="1.3" stroke-dasharray="1.4 1.5"/>
<line x1="428.00" y1="578.20" x2="639.60" y2="578.20" stroke="#333" stroke-width="1.3" stroke-dasharray="1.4 1.5"/>
<line x1="428.00" y1="601.30" x2="639.60" y2="601.30" stroke="#333" stroke-width="1.3" stroke-dasharray="1.4 1.5"/>
<line x1="428.00" y1="624.80" x2="639.60" y2="624.80" stroke="#333" stroke-width="1.3" stroke-dasharray="1.4 1.5"/>
<line x1="428.00" y1="648.30" x2="639.60" y2="648.30" stroke="#333" stroke-width="1.3" stroke-dasharray="1.4 1.5"/>
<text x="0" y="0" transform="translate(408.60 558.80) scale(1 1.17)" font-size="13.5" font-weight="normal" fill="#111" stroke="#111" stroke-width="0.22">C</text>
<text x="0" y="0" transform="translate(408.60 582.90) scale(1 1.17)" font-size="13.5" font-weight="normal" fill="#111" stroke="#111" stroke-width="0.22">O</text>
<text x="419.60" y="587.00" font-size="8.2" font-weight="normal" fill="#111" stroke="#111" stroke-width="0.25">1</text>
<text x="0" y="0" transform="translate(408.60 606.00) scale(1 1.17)" font-size="13.5" font-weight="normal" fill="#111" stroke="#111" stroke-width="0.22">O</text>
<text x="419.60" y="610.10" font-size="8.2" font-weight="normal" fill="#111" stroke="#111" stroke-width="0.25">2</text>
<text x="0" y="0" transform="translate(408.60 629.50) scale(1 1.17)" font-size="13.5" font-weight="normal" fill="#111" stroke="#111" stroke-width="0.22">O</text>
<text x="419.60" y="633.60" font-size="8.2" font-weight="normal" fill="#111" stroke="#111" stroke-width="0.25">3</text>
<text x="0" y="0" transform="translate(408.60 653.00) scale(1 1.17)" font-size="13.5" font-weight="normal" fill="#111" stroke="#111" stroke-width="0.22">O</text>
<text x="419.60" y="657.10" font-size="8.2" font-weight="normal" fill="#111" stroke="#111" stroke-width="0.25">4</text>
<text x="642.60" y="582.40" font-size="14" font-weight="normal" fill="#111" stroke="#111" stroke-width="0.25">6 pA</text>
<text x="642.60" y="605.50" font-size="14" font-weight="normal" fill="#111" stroke="#111" stroke-width="0.25">12 pA</text>
<text x="642.60" y="629.00" font-size="14" font-weight="normal" fill="#111" stroke="#111" stroke-width="0.25">18 pA</text>
<text x="642.60" y="652.50" font-size="14" font-weight="normal" fill="#111" stroke="#111" stroke-width="0.25">24 pA</text>
<path d="M426.00,578.0 426.35,576.9 426.70,576.6 427.05,577.5 427.40,577.8 427.75,581.2 428.10,588.9 428.45,612.0 428.80,629.5 429.15,624.9 429.50,611.8 429.85,603.0 430.20,602.0 430.55,601.2 430.90,601.9 431.25,603.0 431.60,603.0 431.95,603.3 432.30,602.6 432.65,604.1 433.00,603.5 433.35,603.9 433.70,603.8 434.05,604.0 434.40,602.3 434.75,602.5 435.10,601.6 435.45,600.6 435.80,601.9 436.15,599.4 436.50,593.8 436.85,589.7 437.20,589.2 437.55,586.2 437.90,582.2 438.25,580.5 438.60,579.9 438.95,580.8 439.30,581.3 439.65,581.9 440.00,579.4 440.35,579.7 440.70,578.5 441.05,581.1 441.40,581.7 441.75,581.4 442.10,581.3 442.45,589.7 442.80,598.3 443.15,600.8 443.50,600.2 443.85,608.4 444.20,618.4 444.55,623.8 444.90,622.7 445.25,624.0 445.60,623.7 445.95,624.1 446.30,624.1 446.65,623.3 447.00,623.9 447.35,624.1 447.70,622.8 448.05,622.9 448.40,622.6 448.75,622.6 449.10,622.3 449.45,623.9 449.80,623.0 450.15,624.0 450.50,624.2 450.85,621.8 451.20,623.2 451.55,622.8 451.90,617.1 452.25,608.1 452.60,605.1 452.95,605.1 453.30,605.8 453.65,605.8 454.00,604.8 454.35,603.7 454.70,601.4 455.05,604.1 455.40,606.0 455.75,603.0 456.10,602.9 456.45,614.6 456.80,622.5 457.15,627.9 457.50,627.9 457.85,626.7 458.20,627.9 458.55,627.1 458.90,627.3 459.25,628.2 459.60,627.0 459.95,628.1 460.30,627.2 460.65,627.4 461.00,627.8 461.35,627.3 461.70,623.0 462.05,615.8 462.40,607.5 462.75,608.2 463.10,608.2 463.45,608.1 463.80,606.5 464.15,607.2 464.50,607.3 464.85,607.1 465.20,605.4 465.55,605.7 465.90,612.5 466.25,620.6 466.60,624.2 466.95,623.4 467.30,622.9 467.65,623.6 468.00,619.5 468.35,615.5 468.70,615.8 469.05,616.1 469.40,616.2 469.75,615.4 470.10,615.9 470.45,615.3 470.80,610.1 471.15,605.6 471.50,599.1 471.85,601.1 472.20,597.4 472.55,591.5 472.90,584.3 473.25,584.2 473.60,585.7 473.95,581.8 474.30,578.8 474.65,576.7 475.00,576.1 475.35,575.2 475.70,576.6 476.05,577.6 476.40,577.0 476.75,577.7 477.10,577.6 477.45,576.1 477.80,575.4 478.15,575.9 478.50,576.4 478.85,577.0 479.20,576.6 479.55,576.6 479.90,586.2 480.25,596.8 480.60,600.0 480.95,599.3 481.30,601.0 481.65,601.1 482.00,600.5 482.35,600.7 482.70,598.0 483.05,600.9 483.40,601.0 483.75,600.6 484.10,597.3 484.45,598.5 484.80,599.3 485.15,599.7 485.50,600.0 485.85,600.4 486.20,601.1 486.55,599.7 486.90,591.7 487.25,582.8 487.60,578.8 487.95,578.4 488.30,578.0 488.65,578.7 489.00,578.1 489.35,578.9 489.70,578.2 490.05,578.8 490.40,579.0 490.75,577.6 491.10,576.4 491.45,576.9 491.80,577.8 492.15,579.1 492.50,579.3 492.85,577.7 493.20,578.9 493.55,579.0 493.90,577.7 494.25,577.7 494.60,578.0 494.95,578.1 495.30,578.6 495.65,579.1 496.00,578.5 496.35,579.2 496.70,579.0 497.05,578.6 497.40,578.7 497.75,578.8 498.10,578.3 498.45,578.8 498.80,578.9 499.15,578.7 499.50,575.5 499.85,576.0 500.20,576.9 500.55,577.2 500.90,579.2 501.25,579.1 501.60,578.9 501.95,579.2 502.30,578.2 502.65,578.8 503.00,576.6 503.35,576.0 503.70,579.2 504.05,579.1 504.40,577.2 504.75,575.9 505.10,577.1 505.45,577.3 505.80,577.3 506.15,577.7 506.50,579.2 506.85,579.0 507.20,579.0 507.55,578.8 507.90,577.0 508.25,576.0 508.60,577.0 508.95,577.5 509.30,577.0 509.65,578.7 510.00,578.5 510.35,579.2 510.70,577.3 511.05,577.0 511.40,579.1 511.75,579.0 512.10,578.9 512.45,579.1 512.80,578.7 513.15,579.1 513.50,578.2 513.85,578.6 514.20,577.5 514.55,578.5 514.90,577.5 515.25,579.2 515.60,577.3 515.95,577.9 516.30,576.8 516.65,578.0 517.00,576.0 517.35,575.2 517.70,578.7 518.05,579.2 518.40,578.1 518.75,579.3 519.10,578.1 519.45,579.2 519.80,577.9 520.15,578.2 520.50,579.2 520.85,577.3 521.20,577.9 521.55,578.6 521.90,578.5 522.25,578.3 522.60,577.2 522.95,576.4 523.30,576.8 523.65,576.1 524.00,577.0 524.35,578.3 524.70,580.4 525.05,587.6 525.40,596.2 525.75,596.3 526.10,594.5 526.45,595.2 526.80,601.9 527.15,612.3 527.50,619.4 527.85,620.0 528.20,618.6 528.55,618.4 528.90,620.2 529.25,620.7 529.60,621.3 529.95,620.4 530.30,618.7 530.65,620.3 531.00,620.8 531.35,619.7 531.70,619.1 532.05,620.6 532.40,620.6 532.75,620.9 533.10,620.6 533.45,620.8 533.80,619.0 534.15,618.2 534.50,618.5 534.85,610.4 535.20,602.5 535.55,595.7 535.90,586.9 536.25,577.1 536.60,575.7 536.95,576.0 537.30,575.4 537.65,574.6 538.00,576.2 538.35,575.4 538.70,575.6 539.05,576.5 539.40,590.8 539.75,602.4 540.10,604.9 540.45,604.3 540.80,602.7 541.15,600.8 541.50,602.0 541.85,603.2 542.20,603.7 542.55,604.3 542.90,603.0 543.25,599.6 543.60,592.4 543.95,585.9 544.30,586.7 544.65,586.5 545.00,587.1 545.35,600.2 545.70,616.4 546.05,625.9 546.40,626.0 546.75,624.9 547.10,624.9 547.45,625.3 547.80,625.6 548.15,626.2 548.50,619.1 548.85,610.6 549.20,606.4 549.55,607.2 549.90,606.5 550.25,608.0 550.60,606.2 550.95,613.0 551.30,618.1 551.65,620.1 552.00,621.1 552.35,620.9 552.70,620.6 553.05,620.5 553.40,623.1 553.75,632.2 554.10,640.7 554.45,638.2 554.80,637.5 555.15,637.7 555.50,639.6 555.85,640.9 556.20,638.5 556.55,636.4 556.90,638.3 557.25,638.7 557.60,634.1 557.95,622.4 558.30,615.8 558.65,606.1 559.00,592.0 559.35,582.8 559.70,584.2 560.05,584.2 560.40,581.7 560.75,580.9 561.10,581.3 561.45,580.8 561.80,583.8 562.15,583.5 562.50,583.1 562.85,606.9 563.20,628.0 563.55,635.5 563.90,635.3 564.25,635.7 564.60,635.4 564.95,634.7 565.30,632.9 565.65,630.4 566.00,617.6 566.35,605.6 566.70,603.3 567.05,596.1 567.40,587.2 567.75,587.6 568.10,587.9 568.45,588.2 568.80,588.1 569.15,586.7 569.50,587.3 569.85,595.8 570.20,607.1 570.55,614.1 570.90,614.0 571.25,613.0 571.60,612.9 571.95,609.9 572.30,605.2 572.65,604.1 573.00,603.3 573.35,602.9 573.70,604.5 574.05,604.3 574.40,603.7 574.75,603.2 575.10,604.8 575.45,604.9 575.80,600.5 576.15,591.9 576.50,585.2 576.85,584.5 577.20,584.7 577.55,584.0 577.90,584.0 578.25,586.1 578.60,586.2 578.95,585.5 579.30,585.5 579.65,586.4 580.00,596.4 580.35,606.6 580.70,607.5 581.05,603.0 581.40,591.4 581.75,581.5 582.10,580.7 582.45,580.0 582.80,587.8 583.15,599.2 583.50,607.2 583.85,608.0 584.20,607.2 584.55,597.7 584.90,587.7 585.25,584.5 585.60,585.0 585.95,585.8 586.30,585.1 586.65,585.5 587.00,585.9 587.35,585.8 587.70,587.6 588.05,593.6 588.40,599.2 588.75,597.0 589.10,589.6 589.45,583.1 589.80,583.1 590.15,584.3 590.50,583.9 590.85,583.4 591.20,584.1 591.55,583.7 591.90,583.7 592.25,584.0 592.60,583.1 592.95,582.4 593.30,583.5 593.65,584.0 594.00,584.1 594.35,583.6 594.70,585.7 595.05,593.1 595.40,601.5 595.75,602.3 596.10,602.6 596.45,602.8 596.80,601.4 597.15,601.2 597.50,602.0 597.85,596.6 598.20,589.9 598.55,585.8 598.90,585.8 599.25,585.3 599.60,585.9 599.95,585.2 600.30,582.7 600.65,581.3 601.00,581.8 601.35,582.7 601.70,583.7 602.05,584.7 602.40,584.8 602.75,584.0 603.10,584.8 603.45,585.6 603.80,585.4 604.15,586.2 604.50,585.6 604.85,591.6 605.20,598.8 605.55,602.5 605.90,603.8 606.25,603.7 606.60,603.1 606.95,592.9 607.30,585.9 607.65,583.9 608.00,583.6 608.35,582.3 608.70,585.6 609.05,597.7 609.40,606.3 609.75,602.3 610.10,594.8 610.45,590.1 610.80,590.4 611.15,589.2 611.50,590.9 611.85,590.9 612.20,592.0 612.55,592.8 612.90,601.2 613.25,609.5 613.60,612.0 613.95,611.9 614.30,610.3 614.65,606.6 615.00,606.1 615.35,605.8 615.70,604.0 616.05,605.8 616.40,604.6 616.75,604.6 617.10,606.9 617.45,607.0 617.80,605.3 618.15,604.0 618.50,606.5 618.85,606.6 619.20,606.6 619.55,604.4 619.90,604.4 620.25,604.7 620.60,605.7 620.95,607.1 621.30,607.0 621.65,606.5 622.00,605.9 622.35,605.8 622.70,606.2 623.05,606.9 623.40,606.4 623.75,607.0 624.10,606.6 624.45,606.7 624.80,606.2 625.15,605.2 625.50,604.6 625.85,606.9 626.20,604.7 626.55,605.3 626.90,606.1 627.25,606.4 627.60,606.8 627.95,605.4 628.30,595.3 628.65,586.8 629.00,585.3 629.35,584.1 629.70,584.2 630.05,583.9 630.40,584.3 630.75,583.4 631.10,583.0 631.45,583.3 631.45,596.8 631.10,595.6 630.75,595.1 630.40,594.1 630.05,595.7 629.70,594.4 629.35,596.1 629.00,594.3 628.65,595.7 628.30,606.6 627.95,616.0 627.60,617.9 627.25,617.6 626.90,616.6 626.55,615.3 626.20,615.1 625.85,615.3 625.50,614.7 625.15,614.8 624.80,615.5 624.45,615.7 624.10,616.2 623.75,616.7 623.40,616.7 623.05,616.8 622.70,616.7 622.35,616.6 622.00,614.9 621.65,614.9 621.30,616.0 620.95,616.6 620.60,617.9 620.25,617.1 619.90,618.3 619.55,614.9 619.20,616.5 618.85,616.0 618.50,616.7 618.15,618.5 617.80,617.6 617.45,617.0 617.10,617.3 616.75,617.7 616.40,617.8 616.05,616.9 615.70,616.6 615.35,614.8 615.00,615.0 614.65,617.5 614.30,620.7 613.95,622.0 613.60,622.5 613.25,617.9 612.90,609.1 612.55,601.6 612.20,601.4 611.85,601.7 611.50,600.7 611.15,601.8 610.80,602.2 610.45,602.4 610.10,609.0 609.75,615.9 609.40,617.2 609.05,606.8 608.70,596.5 608.35,593.7 608.00,592.3 607.65,593.9 607.30,594.9 606.95,603.3 606.60,612.2 606.25,613.4 605.90,614.6 605.55,614.7 605.20,610.8 604.85,602.8 604.50,596.8 604.15,597.0 603.80,596.1 603.45,594.8 603.10,594.7 602.75,594.0 602.40,594.0 602.05,594.0 601.70,594.1 601.35,594.8 601.00,594.1 600.65,593.8 600.30,594.9 599.95,594.0 599.60,594.1 599.25,594.8 598.90,596.0 598.55,595.6 598.20,599.6 597.85,606.1 597.50,610.9 597.15,610.9 596.80,610.9 596.45,611.3 596.10,611.9 595.75,610.9 595.40,612.8 595.05,605.5 594.70,600.1 594.35,594.0 594.00,592.9 593.65,594.5 593.30,595.9 592.95,594.2 592.60,595.7 592.25,592.5 591.90,593.5 591.55,592.3 591.20,592.0 590.85,592.3 590.50,593.0 590.15,593.0 589.80,593.7 589.45,594.6 589.10,599.9 588.75,604.8 588.40,608.8 588.05,602.3 587.70,595.9 587.35,594.7 587.00,595.1 586.65,593.9 586.30,594.7 585.95,594.7 585.60,594.5 585.25,594.6 584.90,598.8 584.55,606.5 584.20,615.9 583.85,616.5 583.50,616.5 583.15,609.9 582.80,598.5 582.45,590.8 582.10,591.8 581.75,589.8 581.40,599.6 581.05,611.0 580.70,617.4 580.35,616.2 580.00,605.9 579.65,597.2 579.30,595.8 578.95,593.9 578.60,595.3 578.25,594.7 577.90,595.8 577.55,596.5 577.20,595.6 576.85,596.3 576.50,596.8 576.15,603.5 575.80,610.7 575.45,613.1 575.10,614.0 574.75,613.9 574.40,614.3 574.05,615.9 573.70,616.6 573.35,617.4 573.00,615.5 572.65,613.7 572.30,614.6 571.95,618.2 571.60,623.5 571.25,623.1 570.90,624.6 570.55,624.3 570.20,616.1 569.85,605.5 569.50,595.9 569.15,597.4 568.80,597.8 568.45,597.6 568.10,597.7 567.75,596.0 567.40,595.8 567.05,605.3 566.70,611.6 566.35,616.4 566.00,629.3 565.65,642.9 565.30,644.0 564.95,645.7 564.60,643.7 564.25,643.7 563.90,646.2 563.55,647.4 563.20,639.3 562.85,614.5 562.50,594.5 562.15,596.0 561.80,596.4 561.45,594.8 561.10,593.7 560.75,591.9 560.40,593.2 560.05,593.1 559.70,593.3 559.35,591.9 559.00,599.9 558.65,613.9 558.30,625.8 557.95,631.6 557.60,643.6 557.25,649.3 556.90,650.8 556.55,649.0 556.20,649.4 555.85,650.0 555.50,650.7 555.15,650.5 554.80,648.8 554.45,649.8 554.10,650.3 553.75,642.5 553.40,634.8 553.05,631.3 552.70,630.4 552.35,629.7 552.00,630.7 551.65,629.2 551.30,629.6 550.95,623.8 550.60,616.9 550.25,618.5 549.90,618.4 549.55,618.2 549.20,617.7 548.85,620.8 548.50,627.8 548.15,634.0 547.80,634.1 547.45,634.1 547.10,633.9 546.75,634.1 546.40,633.7 546.05,633.8 545.70,624.5 545.35,607.6 545.00,595.8 544.65,596.1 544.30,595.8 543.95,597.2 543.60,603.7 543.25,610.8 542.90,614.0 542.55,613.1 542.20,613.8 541.85,615.6 541.50,614.0 541.15,613.2 540.80,614.7 540.45,615.6 540.10,614.7 539.75,612.0 539.40,598.6 539.05,587.0 538.70,584.7 538.35,585.1 538.00,584.0 537.65,584.3 537.30,583.9 536.95,585.7 536.60,587.4 536.25,592.2 535.90,602.5 535.55,608.8 535.20,614.7 534.85,623.8 534.50,633.0 534.15,632.1 533.80,631.2 533.45,632.1 533.10,629.3 532.75,629.0 532.40,630.5 532.05,630.0 531.70,631.3 531.35,632.0 531.00,630.6 530.65,631.2 530.30,628.7 529.95,628.9 529.60,629.1 529.25,629.1 528.90,631.5 528.55,630.9 528.20,631.2 527.85,630.1 527.50,629.0 527.15,621.5 526.80,610.6 526.45,604.7 526.10,605.9 525.75,606.0 525.40,605.4 525.05,596.6 524.70,589.1 524.35,586.7 524.00,588.9 523.65,588.6 523.30,588.5 522.95,587.9 522.60,587.7 522.25,586.9 521.90,587.6 521.55,588.4 521.20,589.7 520.85,590.9 520.50,591.1 520.15,589.4 519.80,587.7 519.45,587.0 519.10,588.2 518.75,588.3 518.40,587.9 518.05,587.7 517.70,586.9 517.35,587.2 517.00,586.8 516.65,587.1 516.30,587.3 515.95,587.4 515.60,588.7 515.25,588.6 514.90,587.5 514.55,587.6 514.20,587.9 513.85,589.8 513.50,587.8 513.15,588.0 512.80,587.2 512.45,589.7 512.10,588.7 511.75,587.0 511.40,587.5 511.05,587.5 510.70,587.5 510.35,589.5 510.00,589.8 509.65,588.0 509.30,587.0 508.95,587.2 508.60,587.4 508.25,590.2 507.90,592.9 507.55,591.5 507.20,592.9 506.85,591.8 506.50,590.8 506.15,590.6 505.80,586.8 505.45,588.1 505.10,591.2 504.75,591.9 504.40,589.7 504.05,588.3 503.70,587.0 503.35,589.2 503.00,589.5 502.65,589.5 502.30,589.3 501.95,586.9 501.60,587.5 501.25,589.0 500.90,589.3 500.55,588.4 500.20,589.6 499.85,588.1 499.50,586.8 499.15,589.1 498.80,588.5 498.45,588.6 498.10,589.8 497.75,587.7 497.40,587.9 497.05,587.3 496.70,587.5 496.35,588.0 496.00,587.1 495.65,587.9 495.30,587.8 494.95,588.5 494.60,586.8 494.25,587.2 493.90,589.0 493.55,588.8 493.20,589.8 492.85,588.5 492.50,588.0 492.15,587.5 491.80,587.9 491.45,587.7 491.10,586.9 490.75,587.5 490.40,590.1 490.05,589.2 489.70,588.6 489.35,587.9 489.00,587.9 488.65,588.8 488.30,588.5 487.95,589.5 487.60,587.1 487.25,590.9 486.90,601.9 486.55,609.5 486.20,608.9 485.85,608.8 485.50,609.9 485.15,608.8 484.80,608.7 484.45,609.3 484.10,610.8 483.75,610.8 483.40,609.9 483.05,611.0 482.70,609.6 482.35,610.7 482.00,610.6 481.65,610.8 481.30,613.1 480.95,609.9 480.60,610.4 480.25,606.0 479.90,595.0 479.55,587.9 479.20,587.0 478.85,587.7 478.50,586.1 478.15,586.3 477.80,586.8 477.45,587.5 477.10,586.4 476.75,587.5 476.40,587.1 476.05,586.2 475.70,587.0 475.35,586.6 475.00,587.0 474.65,588.8 474.30,590.2 473.95,594.1 473.60,596.3 473.25,594.0 472.90,594.4 472.55,600.4 472.20,608.5 471.85,610.1 471.50,610.6 471.15,616.7 470.80,621.9 470.45,624.6 470.10,625.3 469.75,625.5 469.40,624.8 469.05,624.3 468.70,625.2 468.35,624.8 468.00,629.8 467.65,635.1 467.30,633.9 466.95,634.1 466.60,632.6 466.25,630.8 465.90,623.9 465.55,617.7 465.20,617.1 464.85,616.2 464.50,616.4 464.15,615.9 463.80,618.5 463.45,617.5 463.10,616.0 462.75,616.2 462.40,616.3 462.05,624.6 461.70,633.6 461.35,636.4 461.00,637.1 460.65,639.0 460.30,637.9 459.95,637.3 459.60,637.5 459.25,637.0 458.90,637.2 458.55,637.2 458.20,636.2 457.85,636.8 457.50,636.8 457.15,636.7 456.80,633.9 456.45,624.3 456.10,615.6 455.75,616.5 455.40,615.5 455.05,614.2 454.70,615.3 454.35,615.9 454.00,614.9 453.65,615.0 453.30,614.3 452.95,613.7 452.60,614.9 452.25,617.9 451.90,625.5 451.55,632.1 451.20,632.2 450.85,632.7 450.50,632.7 450.15,634.2 449.80,634.0 449.45,632.8 449.10,633.4 448.75,632.6 448.40,632.4 448.05,634.3 447.70,635.6 447.35,632.3 447.00,632.8 446.65,632.7 446.30,634.5 445.95,632.1 445.60,633.3 445.25,633.5 444.90,632.5 444.55,633.2 444.20,627.1 443.85,616.4 443.50,609.6 443.15,609.6 442.80,607.8 442.45,600.1 442.10,593.8 441.75,592.8 441.40,591.8 441.05,590.9 440.70,590.3 440.35,591.4 440.00,590.4 439.65,589.9 439.30,591.0 438.95,591.1 438.60,591.3 438.25,590.8 437.90,591.8 437.55,596.8 437.20,599.3 436.85,600.2 436.50,602.4 436.15,610.1 435.80,614.6 435.45,613.8 435.10,615.4 434.75,613.3 434.40,611.9 434.05,611.8 433.70,613.5 433.35,612.2 433.00,612.5 432.65,612.7 432.30,615.4 431.95,615.1 431.60,614.0 431.25,614.0 430.90,612.6 430.55,611.9 430.20,612.4 429.85,612.7 429.50,620.7 429.15,634.4 428.80,639.8 428.45,622.4 428.10,597.1 427.75,591.6 427.40,586.8 427.05,585.8 426.70,585.8 426.35,586.1 426.00,586.3Z" fill="#000"/>
<path d="M425.97 582.0V588.5M426.80 582.0V573.2M427.05 582.0V576.2M427.35 582.0V570.7M427.50 582.0V588.0M428.94 635.0V630.8M430.41 608.0V614.0M431.37 608.0V599.4M432.58 608.0V613.9M433.23 608.0V612.4M433.67 608.0V621.3M434.02 608.0V603.5M434.50 608.0V612.3M434.68 608.0V603.3M435.19 608.0V613.5M435.36 608.0V600.0M435.71 608.0V621.3M436.52 598.2V593.8M436.77 595.0V589.3M437.16 593.9V589.2M438.82 586.0V577.1M440.22 586.0V578.0M440.75 586.0V576.2M441.65 586.0V580.8M441.67 586.0V592.2M443.17 605.0V600.7M444.62 628.0V617.9M445.21 628.0V623.2M445.15 628.0V633.7M445.92 628.0V621.0M447.76 628.0V620.5M448.36 628.0V634.4M448.79 628.0V633.4M449.83 628.0V632.3M450.37 628.0V636.4M450.70 628.0V635.0M451.64 628.0V615.6M451.81 621.2V632.6M453.10 610.0V616.3M453.88 610.0V606.2M454.03 610.0V615.9M455.85 610.0V596.7M456.23 610.0V605.8M457.22 632.0V626.0M457.48 632.0V621.7M457.91 632.0V627.0M457.75 632.0V636.8M460.30 632.0V626.1M460.44 632.0V639.6M460.69 632.0V621.8M461.08 632.0V627.6M465.33 612.0V607.4M465.06 612.0V619.1M465.40 612.0V619.8M465.81 618.0V613.4M466.11 625.0V629.0M467.18 628.0V622.9M467.71 627.5V623.2M468.74 620.0V627.1M469.05 620.0V625.6M469.53 620.0V625.1M469.89 620.0V615.6M469.71 620.0V624.5M471.08 609.7V615.4M471.46 605.0V599.2M471.98 605.0V599.0M472.40 596.6V600.8M472.93 590.0V581.1M473.88 586.5V592.4M474.20 583.0V579.0M474.75 582.0V578.0M474.78 582.0V589.7M475.21 582.0V587.0M475.85 582.0V590.7M476.80 582.0V576.0M477.21 582.0V586.2M477.37 582.0V576.6M478.02 582.0V578.2M478.37 582.0V576.2M479.09 582.0V577.8M479.08 582.0V587.8M480.93 605.0V613.6M481.35 605.0V610.0M482.10 605.0V613.4M482.39 605.0V610.0M482.84 605.0V600.7M483.31 605.0V615.3M484.60 605.0V593.9M485.28 605.0V612.8M485.85 605.0V600.5M487.27 587.1V581.4M489.32 583.0V574.3M490.63 583.0V587.3M491.11 583.0V578.8M491.35 583.0V587.0M491.85 583.0V577.4M492.15 583.0V578.6M492.94 583.0V576.3M493.80 583.0V578.6M494.25 583.0V578.0M495.33 583.0V588.2M495.57 583.0V578.1M496.40 583.0V579.1M497.11 583.0V588.3M497.48 583.0V578.1M500.32 583.0V571.6M500.82 583.0V576.7M501.62 583.0V588.4M501.88 583.0V576.8M502.29 583.0V588.1M502.54 583.0V578.3M502.98 583.0V587.8M503.39 583.0V571.6M503.67 583.0V587.0M504.85 583.0V577.4M505.60 583.0V569.7M505.87 583.0V578.3M507.13 583.0V578.9M507.49 583.0V590.5M508.03 583.0V587.8M510.09 583.0V593.7M510.62 583.0V573.8M511.39 583.0V579.0M511.41 583.0V589.2M512.08 583.0V588.7M512.66 583.0V587.2M514.58 583.0V587.8M515.19 583.0V590.8M515.54 583.0V576.5M515.99 583.0V576.7M517.48 583.0V576.9M519.01 583.0V596.3M519.44 583.0V589.7M521.17 583.0V592.7M522.27 583.0V587.3M523.00 583.0V573.2M522.90 583.0V587.5M523.26 583.0V586.7M523.67 583.0V573.6M524.09 583.0V576.9M524.07 583.0V593.7M524.75 585.1V581.2M524.98 592.6V588.7M525.61 600.0V591.6M525.97 600.0V594.5M526.57 600.0V594.9M526.81 606.3V601.6M526.92 606.3V611.8M527.60 625.0V619.6M528.63 625.0V619.4M528.65 625.0V629.6M530.32 625.0V619.4M530.77 625.0V619.6M530.98 625.0V620.7M530.96 625.0V630.6M531.29 625.0V631.7M532.09 625.0V614.5M532.51 625.0V617.5M532.45 625.0V630.0M533.13 625.0V638.3M534.61 625.0V621.2M534.55 625.0V629.8M535.27 606.2V600.6M537.17 580.0V574.7M537.23 580.0V587.4M537.76 580.0V585.4M538.13 580.0V569.0M538.48 580.0V589.3M538.69 580.0V584.0M539.14 581.8V585.7M540.02 609.0V613.5M540.53 609.0V613.5M540.76 609.0V600.0M540.93 609.0V620.1M541.44 609.0V605.2M541.71 609.0V603.2M542.32 609.0V619.3M542.70 609.0V604.1M543.21 605.8V600.7M544.07 592.0V586.1M545.67 620.5V611.8M546.90 630.0V636.0M546.96 630.0V633.7M549.20 612.0V606.1M549.15 612.0V624.6M549.80 612.0V604.5M550.21 612.0V616.0M550.99 617.7V613.7M551.21 623.4V627.7M552.21 625.0V620.9M552.76 625.0V619.5M552.63 625.0V633.4M554.09 645.0V653.5M554.89 645.0V649.2M555.54 645.0V635.9M555.75 645.0V651.9M556.42 645.0V652.8M557.84 627.8V618.4M558.19 620.0V625.5M559.50 588.0V579.7M560.05 588.0V581.9M560.31 588.0V582.6M561.66 588.0V583.3M563.49 640.0V634.3M563.42 640.0V646.4M563.76 640.0V649.9M564.20 640.0V636.0M567.86 592.0V588.3M568.47 592.0V597.9M569.82 600.1V604.7M571.24 618.0V631.3M572.02 614.1V609.6M572.79 609.0V603.9M572.89 609.0V613.3M573.32 609.0V595.7M574.71 609.0V622.3M576.21 595.9V600.3M577.00 590.0V579.0M577.93 590.0V583.4M578.19 590.0V596.7M578.60 590.0V584.5M579.51 591.4V596.9M580.00 601.0V609.3M580.90 607.1V610.8M581.37 595.7V588.8M581.76 586.0V596.8M583.58 612.0V602.6M584.09 612.0V605.1M584.14 612.0V621.4M584.60 602.4V598.2M584.51 602.4V606.4M585.70 590.0V581.1M587.26 590.0V585.1M587.74 591.8V600.0M588.52 604.0V600.2M589.53 588.0V582.0M589.76 588.0V592.7M590.07 588.0V592.4M590.63 588.0V584.2M590.92 588.0V582.7M593.06 588.0V592.9M594.01 588.0V583.7M594.57 590.4V596.7M597.30 607.0V614.5M598.13 594.2V588.1M598.98 590.0V583.7M600.28 590.0V576.7M601.09 590.0V585.0M601.33 590.0V579.9M601.98 590.0V585.3M602.86 590.0V582.4M603.17 590.0V601.1M603.66 590.0V584.9M604.43 590.0V576.7M604.63 590.0V597.2M604.88 595.6V582.3M605.09 603.5V608.7M605.63 608.0V602.0M606.34 608.0V614.9M606.68 608.0V602.9M607.27 590.5V597.4M607.94 588.0V582.4M608.02 588.0V591.9M610.76 597.0V593.1M610.76 597.0V600.8M611.24 597.0V593.2M611.07 597.0V602.4M611.38 597.0V592.9M611.65 597.0V600.9M612.53 597.0V600.8M612.88 604.9V609.2M614.61 613.2V609.2M614.74 613.2V617.8M615.62 611.0V607.0M616.17 611.0V607.1M616.30 611.0V597.7M617.07 611.0V601.4M618.27 611.0V615.7M618.54 611.0V606.0M618.77 611.0V607.2M619.27 611.0V607.1M619.07 611.0V623.0M619.60 611.0V617.3M620.03 611.0V618.3M620.31 611.0V607.1M620.38 611.0V624.3M620.50 611.0V606.6M620.93 611.0V618.5M621.66 611.0V601.4M622.27 611.0V607.2M623.49 611.0V615.0M623.83 611.0V616.5M624.23 611.0V606.4M624.14 611.0V618.8M624.57 611.0V615.4M624.71 611.0V604.3M624.81 611.0V619.9M627.89 609.7V604.3M628.23 600.5V594.4M629.22 590.0V582.5M629.62 590.0V580.4M630.05 590.0V585.3M630.88 590.0V601.9M631.19 590.0V586.2M631.34 590.0V584.9M631.43 590.0V602.3" stroke="#000" stroke-width="0.7" stroke-opacity="0.3" fill="none"/>
<path d="M425.91 582.0V576.5M426.69 582.0V590.1M428.01 593.3V599.2M428.75 635.0V639.1M429.42 616.0V625.2M429.83 608.0V617.6M430.09 608.0V612.9M430.53 608.0V602.1M431.56 608.0V613.3M432.34 608.0V602.8M432.27 608.0V612.6M432.85 608.0V602.5M433.24 608.0V604.0M434.64 608.0V615.3M435.24 608.0V598.0M436.51 598.2V603.0M436.77 595.0V602.8M437.96 586.0V579.8M437.84 586.0V593.1M438.74 586.0V582.2M439.21 586.0V595.8M439.58 586.0V581.8M439.86 586.0V581.1M441.09 586.0V579.5M441.09 586.0V595.6M442.45 594.3V599.8M443.49 605.0V612.1M443.72 612.2V608.5M443.84 612.2V616.8M444.26 622.3V609.8M444.31 622.3V631.8M444.62 628.0V633.5M445.66 628.0V641.3M446.42 628.0V631.9M446.68 628.0V624.1M447.20 628.0V623.9M448.52 628.0V615.8M449.08 628.0V638.6M451.66 628.0V632.0M452.30 613.4V605.9M452.58 610.0V615.5M453.37 610.0V604.6M453.38 610.0V614.1M454.38 610.0V616.4M454.92 610.0V605.2M455.46 610.0V602.6M456.41 619.6V623.4M457.46 632.0V641.6M458.31 632.0V636.3M458.64 632.0V636.3M460.99 632.0V639.1M461.39 632.0V626.0M461.96 620.7V615.9M465.66 612.0V607.8M466.24 625.0V620.6M468.10 624.0V630.0M468.49 620.5V629.6M469.35 620.0V616.3M470.57 620.0V616.2M470.84 616.2V628.8M472.65 596.6V590.9M473.05 590.0V594.4M473.87 586.5V578.9M474.38 583.0V588.2M475.05 582.0V587.5M477.42 582.0V588.0M477.81 582.0V577.6M478.56 582.0V591.5M478.83 582.0V587.7M479.60 582.0V577.8M479.56 582.0V589.6M480.14 600.7V596.2M480.63 605.0V600.3M481.07 605.0V597.1M481.15 605.0V600.3M481.80 605.0V609.5M481.90 605.0V600.4M482.47 605.0V600.5M483.10 605.0V598.8M483.54 605.0V597.9M484.01 605.0V609.7M484.51 605.0V608.8M485.62 605.0V600.6M486.84 596.7V583.4M488.22 583.0V591.7M488.89 583.0V572.8M489.35 583.0V590.6M491.31 583.0V576.6M492.77 583.0V587.8M493.09 583.0V588.5M493.50 583.0V574.6M493.79 583.0V588.8M494.49 583.0V578.7M494.65 583.0V587.7M494.92 583.0V576.2M495.76 583.0V589.3M496.08 583.0V588.1M496.62 583.0V576.5M497.69 583.0V577.9M498.52 583.0V577.2M498.49 583.0V590.1M498.83 583.0V574.8M499.02 583.0V576.2M500.59 583.0V588.0M501.16 583.0V588.4M501.53 583.0V569.7M502.41 583.0V576.8M505.37 583.0V588.4M505.73 583.0V590.3M510.67 583.0V588.2M511.73 583.0V574.2M512.82 583.0V572.4M513.25 583.0V591.0M513.57 583.0V586.9M513.79 583.0V591.3M514.14 583.0V586.7M514.70 583.0V579.1M515.28 583.0V576.3M516.53 583.0V577.4M516.58 583.0V588.0M517.00 583.0V594.0M517.99 583.0V577.3M518.46 583.0V575.3M518.40 583.0V587.8M519.66 583.0V587.1M520.64 583.0V572.0M520.54 583.0V587.4M520.91 583.0V578.8M521.44 583.0V577.0M521.46 583.0V592.5M521.82 583.0V572.7M522.66 583.0V590.5M525.09 592.6V599.4M525.47 600.0V592.8M527.95 625.0V615.4M528.84 625.0V614.1M529.22 625.0V619.3M529.54 625.0V632.4M530.65 625.0V628.8M532.60 625.0V628.9M533.69 625.0V637.6M534.13 625.0V617.6M534.25 625.0V631.2M534.88 617.2V613.4M535.41 600.0V595.9M538.01 580.0V586.5M540.14 609.0V605.0M541.05 609.0V603.7M541.12 609.0V614.5M541.40 609.0V615.0M543.03 609.0V622.3M543.74 598.4V602.7M543.83 592.0V597.0M544.64 592.0V587.6M545.35 603.9V599.1M545.49 603.9V608.6M546.04 630.0V626.3M546.02 630.0V636.3M546.70 630.0V624.9M547.56 630.0V635.2M548.99 615.4V628.7M549.84 612.0V621.3M550.81 617.7V624.8M551.86 625.0V619.0M552.43 625.0V630.7M553.50 627.5V621.7M553.88 636.3V632.3M553.85 636.3V642.0M554.58 645.0V637.9M556.26 645.0V653.3M557.26 645.0V655.3M557.95 627.8V632.6M558.73 610.0V623.3M558.93 596.0V601.3M559.28 588.0V598.2M560.41 588.0V593.0M561.03 588.0V598.9M561.54 588.0V584.2M562.08 588.0V583.1M564.64 640.0V630.8M564.51 640.0V646.8M565.04 640.0V635.9M565.77 638.1V628.9M565.66 638.1V649.3M566.24 611.9V607.4M566.92 599.9V589.8M568.21 592.0V587.0M568.00 592.0V599.6M569.78 600.1V592.9M570.92 618.0V613.8M571.16 618.0V613.1M572.01 614.1V618.9M572.29 610.1V616.0M574.43 609.0V604.5M574.51 609.0V620.1M575.16 609.0V602.5M575.79 604.2V608.6M576.15 595.9V589.0M576.38 590.0V585.8M576.53 590.0V595.4M577.30 590.0V593.8M577.47 590.0V584.8M577.98 590.0V597.6M578.54 590.0V594.4M578.93 590.0V586.0M578.83 590.0V594.9M579.33 590.0V584.2M579.50 591.4V581.0M580.10 601.0V597.1M580.20 610.6V605.8M580.60 612.0V598.7M580.68 612.0V615.9M582.89 592.5V596.3M583.15 603.9V594.9M584.87 592.7V583.4M585.27 590.0V579.0M585.52 590.0V594.5M585.86 590.0V595.7M586.20 590.0V584.5M587.13 590.0V584.9M587.48 590.0V600.7M587.81 591.8V586.6M588.97 594.0V588.7M589.35 588.0V593.6M592.39 588.0V597.7M593.31 588.0V583.3M593.25 588.0V593.4M593.79 588.0V582.1M594.27 588.0V597.2M595.03 598.7V593.2M595.01 598.7V606.4M595.97 607.0V599.6M596.35 607.0V598.8M596.83 607.0V612.9M597.30 607.0V600.4M597.43 607.0V601.6M597.44 607.0V611.0M598.11 594.2V599.2M598.95 590.0V595.7M599.16 590.0V585.0M599.49 590.0V585.8M600.04 590.0V585.4M600.52 590.0V595.3M601.69 590.0V583.1M602.64 590.0V594.7M605.85 608.0V612.0M606.24 608.0V603.3M607.62 588.0V592.2M608.26 588.0V581.1M608.85 591.0V585.3M609.34 612.0V607.8M610.31 597.0V589.1M610.58 597.0V602.4M612.49 597.0V587.2M613.20 614.1V609.5M614.01 618.0V613.3M614.85 611.0V607.0M615.28 611.0V601.0M616.90 611.0V614.9M622.76 611.0V607.3M623.15 611.0V615.7M625.30 611.0V622.3M625.41 611.0V605.5M625.98 611.0V606.7M626.06 611.0V602.2M626.16 611.0V617.8M626.84 611.0V604.8M627.73 611.0V615.4M628.74 591.3V597.4M629.64 590.0V596.6M630.41 590.0V594.5" stroke="#000" stroke-width="0.7" stroke-opacity="0.6" fill="none"/>
<path d="M427.16 582.0V586.4M427.99 593.3V584.7M428.47 617.5V610.3M428.59 617.5V621.8M429.24 630.0V638.7M430.97 608.0V602.5M431.27 608.0V611.7M431.52 608.0V602.0M431.89 608.0V594.7M431.88 608.0V612.8M434.09 608.0V613.0M437.52 589.9V599.4M438.98 586.0V591.2M439.43 586.0V580.8M439.73 586.0V593.5M440.68 586.0V592.6M441.51 586.0V579.6M442.46 594.3V589.8M442.68 602.6V595.1M445.00 628.0V632.7M445.45 628.0V622.5M446.00 628.0V634.5M446.38 628.0V622.7M447.14 628.0V623.6M447.39 628.0V632.1M448.03 628.0V634.2M448.79 628.0V617.1M449.31 628.0V620.1M450.58 628.0V623.9M452.11 613.4V618.9M453.76 610.0V603.9M454.98 610.0V613.8M455.44 610.0V616.3M455.77 610.0V615.6M456.00 610.0V615.6M457.05 632.0V637.1M458.05 632.0V627.6M458.40 632.0V624.8M458.97 632.0V627.1M458.77 632.0V637.6M459.23 632.0V625.0M460.70 632.0V639.2M461.75 629.5V634.0M461.96 620.7V626.2M462.43 612.0V605.8M462.67 612.0V606.4M463.21 612.0V615.9M463.35 612.0V622.1M464.05 612.0V608.3M464.37 612.0V607.5M464.90 612.0V618.7M465.83 618.0V622.0M466.69 628.0V634.5M466.90 628.0V624.1M468.36 620.5V614.4M469.98 620.0V624.0M470.70 616.2V610.9M471.60 605.0V609.0M471.72 605.0V609.0M472.30 603.1V596.3M472.29 603.1V610.7M473.55 590.0V585.2M474.98 582.0V576.6M475.22 582.0V576.8M476.09 582.0V589.0M476.52 582.0V587.0M476.80 582.0V589.0M477.03 582.0V578.1M478.84 582.0V577.8M481.66 605.0V597.0M482.98 605.0V609.3M484.17 605.0V593.9M484.91 605.0V610.9M485.23 605.0V597.6M485.80 605.0V612.9M486.59 605.0V611.3M487.46 583.0V569.7M487.66 583.0V588.1M488.61 583.0V575.9M489.82 583.0V576.8M490.51 583.0V588.9M491.69 583.0V593.4M493.08 583.0V578.8M495.20 583.0V578.6M496.48 583.0V588.2M496.73 583.0V591.6M497.34 583.0V586.9M499.12 583.0V587.9M499.62 583.0V596.3M500.19 583.0V587.6M503.56 583.0V575.5M504.18 583.0V569.7M504.15 583.0V589.7M504.42 583.0V579.2M506.42 583.0V578.7M506.76 583.0V577.5M507.24 583.0V587.3M509.44 583.0V577.1M509.28 583.0V586.7M510.41 583.0V578.7M511.07 583.0V588.3M512.41 583.0V589.4M514.14 583.0V569.7M514.92 583.0V588.5M516.43 583.0V572.8M516.28 583.0V589.6M517.33 583.0V590.5M519.19 583.0V579.2M519.42 583.0V579.1M519.69 583.0V577.5M520.12 583.0V574.9M520.16 583.0V589.6M520.71 583.0V587.8M522.18 583.0V577.2M522.64 583.0V575.8M523.35 583.0V578.9M523.64 583.0V588.6M524.30 583.0V577.2M524.61 585.1V597.7M525.27 600.0V605.3M525.85 600.0V609.8M526.03 600.0V608.2M526.44 600.0V608.2M527.28 617.2V623.3M527.72 625.0V633.5M529.72 625.0V617.3M531.42 625.0V616.4M531.70 625.0V620.5M532.85 625.0V620.2M533.46 625.0V618.5M535.91 592.5V584.2M536.24 583.7V570.4M536.34 583.7V588.9M536.86 580.0V574.2M538.77 580.0V566.7M539.33 594.5V590.6M542.08 609.0V604.4M542.62 609.0V614.1M543.52 598.4V592.3M544.38 592.0V585.6M544.41 592.0V595.8M544.65 592.0V598.5M546.43 630.0V625.4M547.73 630.0V635.2M548.21 630.0V616.7M548.47 623.2V630.6M548.96 615.4V606.1M549.48 612.0V599.0M550.34 612.0V606.6M550.67 612.0V618.0M553.19 625.0V631.1M553.25 627.5V631.2M555.98 645.0V638.4M556.24 645.0V639.0M556.65 645.0V640.6M557.72 638.7V650.1M558.31 620.0V615.8M559.70 588.0V583.9M559.58 588.0V595.2M560.74 588.0V580.5M560.95 588.0V583.1M561.39 588.0V593.0M562.64 588.0V596.8M564.28 640.0V644.4M565.32 640.0V649.1M566.00 625.0V636.1M566.69 607.7V600.8M566.73 607.7V613.8M567.43 592.0V578.7M567.31 592.0V599.9M568.36 592.0V585.7M570.43 618.0V613.7M572.65 609.0V613.2M573.21 609.0V612.9M573.95 609.0V604.5M573.99 609.0V616.8M574.88 609.0V604.0M575.43 609.0V613.8M575.72 604.2V599.5M577.55 590.0V598.3M578.35 590.0V583.1M579.42 590.0V594.6M582.04 586.0V591.9M582.39 586.0V578.5M582.42 586.0V590.6M583.64 612.0V621.8M583.95 612.0V625.3M584.83 592.7V596.5M585.38 590.0V596.0M586.57 590.0V603.0M586.97 590.0V597.4M588.19 597.9V594.1M587.93 597.9V601.7M590.58 588.0V592.6M592.60 588.0V581.9M592.50 588.0V594.9M593.77 588.0V593.3M594.46 588.0V583.7M594.62 590.4V586.6M595.99 607.0V614.6M597.85 601.7V596.9M598.51 590.0V597.5M600.06 590.0V599.9M600.86 590.0V597.9M601.77 590.0V598.6M602.52 590.0V595.2M603.06 590.0V584.4M603.77 590.0V599.3M605.41 608.0V614.1M608.71 591.0V595.7M610.12 602.6V609.1M612.88 604.9V598.4M613.71 618.0V613.4M613.86 618.0V622.8M614.27 616.2V621.8M615.09 611.0V618.9M615.26 611.0V617.0M617.04 611.0V622.0M617.32 611.0V615.2M617.94 611.0V606.2M618.17 611.0V604.6M618.56 611.0V615.4M620.62 611.0V620.4M621.03 611.0V604.2M621.90 611.0V607.2M622.44 611.0V619.5M622.76 611.0V615.5M623.27 611.0V602.4M625.21 611.0V606.2M625.70 611.0V615.9M626.77 611.0V618.8M627.22 611.0V615.4M627.97 609.7V614.8M628.80 591.3V586.4M629.09 590.0V585.7M628.87 590.0V603.2M629.36 590.0V597.0M630.09 590.0V593.8M630.40 590.0V585.7M630.96 590.0V603.1" stroke="#000" stroke-width="0.7" stroke-opacity="0.95" fill="none"/>
<path d="M427.93 585.4V593.3M428.28 593.3V617.5M428.63 617.5V635.0M429.33 630.0V616.0M429.68 616.0V608.0M442.28 586.0V594.3M442.63 594.3V602.6M443.68 605.0V612.2M444.03 612.2V622.3M451.73 628.0V621.2M452.08 621.2V613.4M456.28 610.0V619.6M456.63 619.6V629.3M461.88 629.5V620.7M462.23 620.7V612.0M465.73 612.0V618.0M466.08 618.0V625.0M470.98 616.2V609.7M472.38 603.1V596.6M472.73 596.6V590.0M479.73 582.0V590.6M480.08 590.6V600.7M486.73 605.0V596.7M487.08 596.7V587.1M524.88 585.1V592.6M525.23 592.6V600.0M526.63 600.0V606.3M526.98 606.3V617.2M527.33 617.2V625.0M534.68 625.0V617.2M535.03 617.2V606.2M535.38 606.2V600.0M535.73 600.0V592.5M536.08 592.5V583.7M539.23 581.8V594.5M539.58 594.5V607.2M543.43 605.8V598.4M543.78 598.4V592.0M545.18 592.0V603.9M545.53 603.9V620.5M545.88 620.5V630.0M548.33 630.0V623.2M548.68 623.2V615.4M553.58 627.5V636.3M553.93 636.3V645.0M557.43 645.0V638.7M557.78 638.7V627.8M558.13 627.8V620.0M558.48 620.0V610.0M558.83 610.0V596.0M559.18 596.0V588.0M562.68 588.0V610.8M563.03 610.8V633.5M563.38 633.5V640.0M565.83 638.1V625.0M566.18 625.0V611.9M566.88 607.7V599.9M567.23 599.9V592.0M569.68 592.0V600.1M570.03 600.1V611.5M570.38 611.5V618.0M575.98 604.2V595.9M579.83 591.4V601.0M580.18 601.0V610.6M581.23 607.1V595.7M581.58 595.7V586.0M582.63 586.0V592.5M582.98 592.5V603.9M583.33 603.9V612.0M584.38 612.0V602.4M584.73 602.4V592.7M587.88 591.8V597.9M588.23 597.9V604.0M588.93 601.0V594.0M594.88 590.4V598.7M595.23 598.7V607.0M598.03 601.7V594.2M605.03 595.6V603.5M606.78 608.0V599.2M607.13 599.2V590.5M608.88 591.0V601.5M609.23 601.5V612.0M609.93 609.2V602.6M612.73 597.0V604.9M613.08 604.9V614.1M628.13 609.7V600.5M628.48 600.5V591.3" stroke="#000" stroke-width="0.8" stroke-opacity="0.75" fill="none"/>
<line x1="426.30" y1="582.00" x2="426.30" y2="570.00" stroke="#000" stroke-width="0.9" />
<line x1="428.90" y1="633.57" x2="428.90" y2="643.00" stroke="#000" stroke-width="0.9" />
<line x1="447.00" y1="628.00" x2="447.00" y2="648.00" stroke="#000" stroke-width="0.9" />
<line x1="461.00" y1="632.00" x2="461.00" y2="662.00" stroke="#000" stroke-width="0.9" />
<line x1="483.50" y1="605.00" x2="483.50" y2="622.00" stroke="#000" stroke-width="0.9" />
<line x1="512.80" y1="583.00" x2="512.80" y2="611.50" stroke="#000" stroke-width="0.9" />
<line x1="530.80" y1="625.00" x2="530.80" y2="658.50" stroke="#000" stroke-width="0.9" />
<line x1="564.00" y1="640.00" x2="564.00" y2="659.00" stroke="#000" stroke-width="0.9" />
<line x1="571.00" y1="618.00" x2="571.00" y2="659.00" stroke="#000" stroke-width="0.9" />
<line x1="609.50" y1="611.20" x2="609.50" y2="633.00" stroke="#000" stroke-width="0.9" />
<line x1="614.00" y1="617.75" x2="614.00" y2="625.00" stroke="#000" stroke-width="0.9" />
<line x1="469.00" y1="663.40" x2="469.00" y2="683.90" stroke="#444" stroke-width="1.0" />
<line x1="468.60" y1="683.90" x2="514.90" y2="683.90" stroke="#444" stroke-width="1.0" />
<text x="441.35" y="678.00" font-size="11.3" font-weight="normal" fill="#111" stroke="#111" stroke-width="0.25">5 pA</text>
<text x="478.80" y="678.00" font-size="11.3" font-weight="normal" fill="#111" stroke="#111" stroke-width="0.25">0.2 s</text>
</svg>
</body></html>
